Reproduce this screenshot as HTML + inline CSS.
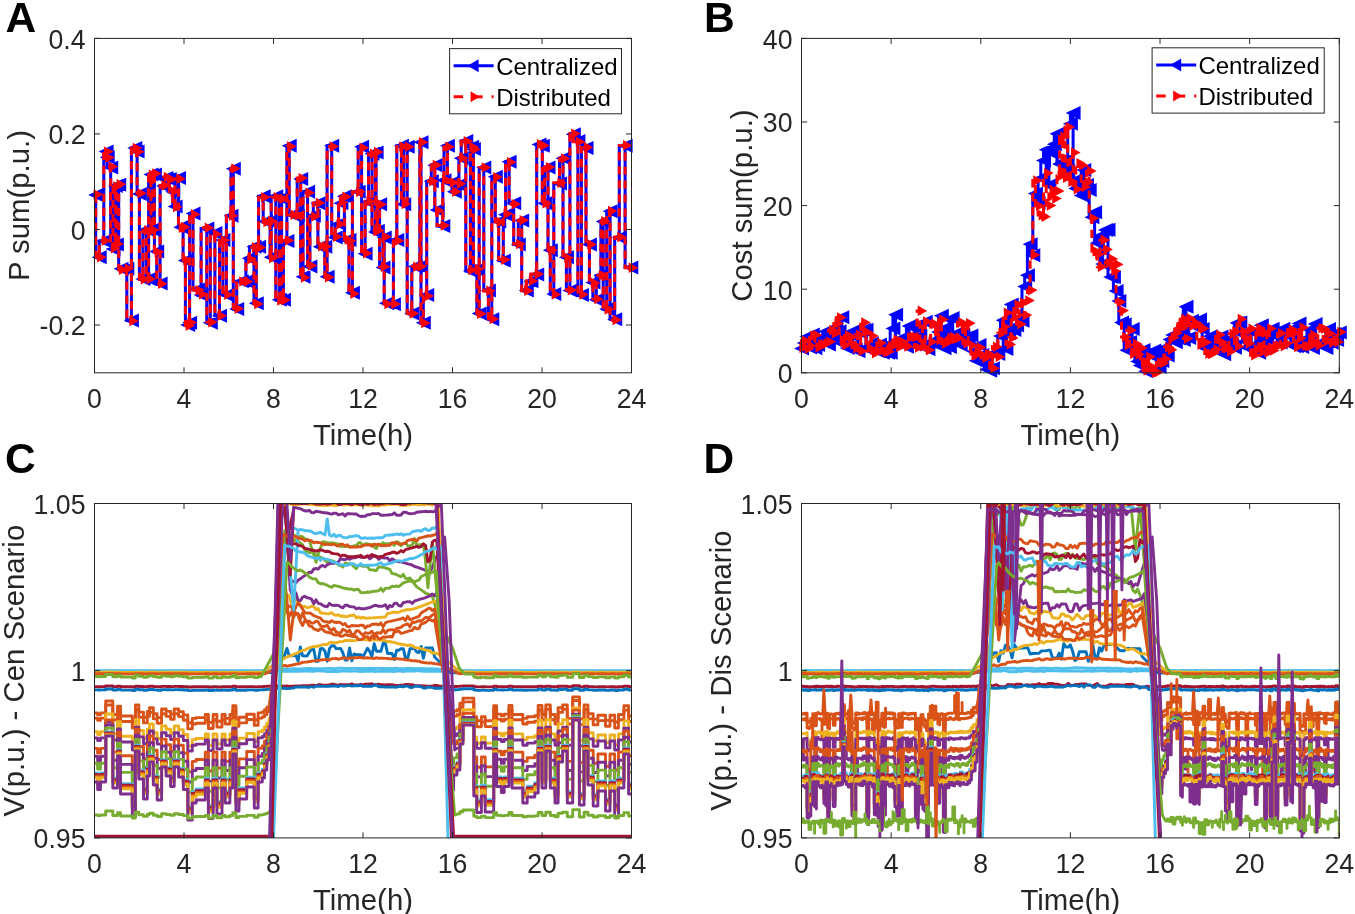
<!DOCTYPE html>
<html><head><meta charset="utf-8"><style>
html,body{margin:0;padding:0;background:#fff;overflow:hidden}
svg{display:block;will-change:transform}
text{font-family:"Liberation Sans",sans-serif;fill:#262626}
.tk{font-size:26.67px}
.lb{font-size:29.33px}
.lg{font-size:24px;fill:#000}
.pl{font-size:42.5px;font-weight:bold;fill:#000}
</style></head><body>
<svg width="1355" height="914" viewBox="0 0 1355 914">
<rect width="1355" height="914" fill="#fff"/>
<clipPath id="clipC"><rect x="94.5" y="503.5" width="537.0" height="334.4"/></clipPath>
<g clip-path="url(#clipC)" fill="none" stroke-width="2.9" stroke-linejoin="round">
<path d="M94.5,671.2L97.6,671.2L100.5,671.2L105.7,671.2L112.8,671.2L117.5,671.2L120.5,671.2L132.3,671.2L135.4,671.2L138.8,671.2L143.5,671.2L147.3,671.2L149.5,671.2L153.3,671.2L157.2,671.2L161.6,671.2L166.1,671.2L170.6,671.2L174.2,671.2L178.6,671.2L183.3,671.2L187.8,671.2L192.3,671.2L196.1,671.2L205.3,671.2L208.4,671.2L213.1,671.2L216.9,671.2L222.0,671.2L225.2,671.2L229.9,671.2L232.8,671.2L235.9,671.2L239.0,671.2L246.7,671.2L254.3,671.2L258.1,671.2L262.3,671.2L264.5,671.2L266.8,671.2L269.0,671.2L271.3,671.2L272.4,671.2L275.7,671.2L278.0,671.2L280.2,671.2L282.4,671.2L284.7,671.2L286.9,671.2L289.2,671.2L291.4,671.2L293.6,671.2L295.9,671.2L298.1,671.2L300.3,671.2L302.6,670.9L304.8,671.1L307.1,671.1L309.3,671.1L311.5,671.4L313.8,671.3L316.0,670.9L318.2,670.9L320.5,671.0L322.7,671.0L325.0,671.0L327.2,671.5L329.4,671.3L331.7,671.5L333.9,671.5L336.1,671.5L338.4,671.5L340.6,671.1L342.9,671.0L345.1,671.1L347.3,671.1L349.6,671.3L351.8,671.1L354.0,671.1L356.3,671.1L358.5,671.3L360.8,671.5L363.0,671.3L365.2,671.3L367.5,671.4L369.7,671.2L371.9,670.9L374.2,671.5L376.4,671.4L378.7,671.4L380.9,671.4L383.1,671.1L385.4,671.4L387.6,671.3L389.8,671.3L392.1,671.3L394.3,671.5L396.6,671.1L398.8,671.1L401.0,671.1L403.3,671.5L405.5,671.1L407.7,671.0L410.0,671.0L412.2,671.0L414.5,671.0L416.7,670.9L418.9,670.9L421.2,671.1L423.4,671.3L425.6,671.3L427.9,671.2L430.1,671.4L432.4,671.2L434.6,671.2L436.8,671.3L439.1,671.3L441.3,671.3L442.4,671.3L445.8,671.2L450.3,671.2L453.6,671.2L457.0,671.2L459.9,671.2L463.0,671.2L473.8,671.2L476.7,671.2L481.4,671.2L485.2,671.2L493.7,671.2L496.6,671.2L501.3,671.2L504.2,671.2L508.9,671.2L512.0,671.2L522.8,671.2L527.2,671.2L534.8,671.2L538.2,671.2L542.0,671.2L545.8,671.2L550.3,671.2L555.0,671.2L558.1,671.2L562.6,671.2L567.3,671.2L572.7,671.2L579.4,671.2L584.1,671.2L587.9,671.2L593.2,671.2L597.9,671.2L605.5,671.2L610.0,671.2L614.7,671.2L618.5,671.2L623.9,671.2L628.6,671.2L631.5,671.2" stroke="#4DBEEE"/>
<path d="M94.5,670.7L97.6,670.7L100.5,670.7L105.7,670.7L112.8,670.7L117.5,670.7L120.5,670.7L132.3,670.7L135.4,670.7L138.8,670.7L143.5,670.7L147.3,670.7L149.5,670.7L153.3,670.7L157.2,670.7L161.6,670.7L166.1,670.7L170.6,670.7L174.2,670.7L178.6,670.7L183.3,670.7L187.8,670.7L192.3,670.7L196.1,670.7L205.3,670.7L208.4,670.7L213.1,670.7L216.9,670.7L222.0,670.7L225.2,670.7L229.9,670.7L232.8,670.7L235.9,670.7L239.0,670.7L246.7,670.7L254.3,670.7L258.1,670.7L262.3,670.7L264.5,670.7L266.8,670.7L269.0,670.7L271.3,670.7L272.4,670.7L275.7,669.1L278.0,669.3L280.2,669.1L282.4,669.0L284.7,669.0L286.9,668.9L289.2,668.9L291.4,668.9L293.6,668.7L295.9,668.6L298.1,669.1L300.3,669.0L302.6,669.0L304.8,668.6L307.1,668.5L309.3,668.5L311.5,668.5L313.8,668.7L316.0,668.7L318.2,668.7L320.5,668.7L322.7,668.7L325.0,668.6L327.2,668.4L329.4,668.4L331.7,668.4L333.9,668.7L336.1,668.6L338.4,668.1L340.6,668.2L342.9,668.2L345.1,668.5L347.3,668.5L349.6,668.5L351.8,668.4L354.0,668.4L356.3,668.4L358.5,668.5L360.8,668.5L363.0,668.5L365.2,668.5L367.5,668.5L369.7,668.3L371.9,668.5L374.2,668.5L376.4,668.4L378.7,668.4L380.9,668.5L383.1,668.5L385.4,668.5L387.6,668.5L389.8,668.5L392.1,668.5L394.3,668.5L396.6,668.2L398.8,668.6L401.0,668.6L403.3,668.6L405.5,668.5L407.7,668.3L410.0,668.5L412.2,668.4L414.5,668.6L416.7,668.7L418.9,668.5L421.2,668.6L423.4,668.7L425.6,668.7L427.9,669.0L430.1,668.6L432.4,668.6L434.6,669.0L436.8,669.0L439.1,669.1L441.3,669.1L442.4,669.3L445.8,670.7L450.3,670.7L453.6,670.7L457.0,670.7L459.9,670.7L463.0,670.7L473.8,670.7L476.7,670.7L481.4,670.7L485.2,670.7L493.7,670.7L496.6,670.7L501.3,670.7L504.2,670.7L508.9,670.7L512.0,670.7L522.8,670.7L527.2,670.7L534.8,670.7L538.2,670.7L542.0,670.7L545.8,670.7L550.3,670.7L555.0,670.7L558.1,670.7L562.6,670.7L567.3,670.7L572.7,670.7L579.4,670.7L584.1,670.7L587.9,670.7L593.2,670.7L597.9,670.7L605.5,670.7L610.0,670.7L614.7,670.7L618.5,670.7L623.9,670.7L628.6,670.7L631.5,670.7" stroke="#4DBEEE"/>
<path d="M94.5,672.8L97.6,672.8L100.5,672.8L105.7,672.8L105.7,672.5L112.8,672.5L112.8,672.8L117.5,672.8L117.5,672.6L120.5,672.6L120.5,672.9L132.3,672.9L132.3,673.0L135.4,673.0L135.4,672.6L138.8,672.6L138.8,672.8L143.5,672.8L143.5,672.9L147.3,672.9L147.3,672.7L149.5,672.7L149.5,672.7L153.3,672.7L153.3,672.8L157.2,672.8L157.2,672.9L161.6,672.9L161.6,672.7L166.1,672.7L166.1,672.7L170.6,672.7L170.6,672.8L174.2,672.8L174.2,672.7L178.6,672.7L178.6,672.8L183.3,672.8L183.3,672.8L187.8,672.8L187.8,673.0L192.3,673.0L192.3,672.9L196.1,672.9L205.3,672.9L205.3,672.8L208.4,672.8L208.4,673.0L213.1,673.0L213.1,672.8L216.9,672.8L216.9,673.0L222.0,673.0L222.0,672.8L225.2,672.8L225.2,672.9L229.9,672.9L229.9,672.8L232.8,672.8L232.8,672.6L235.9,672.6L235.9,673.0L239.0,673.0L239.0,672.9L246.7,672.9L246.7,672.8L254.3,672.8L254.3,672.9L258.1,672.9L258.1,672.8L262.3,672.8L264.5,672.8L266.8,672.7L266.8,672.6L269.0,672.6L269.0,672.6L271.3,672.6L284.7,655.0L286.9,648.4L289.2,655.8L291.4,655.7L293.6,655.5L295.9,655.4L298.1,661.1L300.3,646.9L302.6,655.9L304.8,656.0L307.1,655.9L309.3,652.2L311.5,649.5L313.8,649.4L316.0,661.4L318.2,661.3L320.5,648.6L322.7,648.5L325.0,651.2L327.2,661.3L329.4,648.7L331.7,645.7L333.9,645.6L336.1,648.6L338.4,648.6L340.6,648.5L342.9,652.8L345.1,660.0L347.3,660.0L349.6,647.9L351.8,660.9L354.0,654.0L356.3,654.6L358.5,654.6L360.8,654.6L363.0,656.7L365.2,652.6L367.5,648.3L369.7,651.4L371.9,656.4L374.2,643.7L376.4,651.2L378.7,651.2L380.9,651.3L383.1,643.3L385.4,643.4L387.6,653.5L389.8,653.5L392.1,653.5L394.3,659.6L396.6,650.3L398.8,650.3L401.0,648.6L403.3,648.6L405.5,658.4L407.7,658.4L410.0,648.6L412.2,648.6L414.5,648.6L416.7,652.1L418.9,652.5L421.2,646.4L423.4,658.3L425.6,647.9L427.9,647.9L430.1,648.0L432.4,648.0L434.6,656.9L450.3,672.8L453.6,672.8L453.6,672.7L457.0,672.7L459.9,672.7L459.9,672.5L463.0,672.5L463.0,672.4L473.8,672.4L473.8,672.9L476.7,672.9L476.7,673.0L481.4,673.0L481.4,672.9L485.2,672.9L485.2,673.0L493.7,673.0L493.7,672.6L496.6,672.6L496.6,672.8L501.3,672.8L504.2,672.8L508.9,672.8L508.9,672.6L512.0,672.6L512.0,672.8L522.8,672.8L522.8,672.9L527.2,672.9L534.8,672.9L538.2,672.9L538.2,672.6L542.0,672.6L542.0,672.8L545.8,672.8L545.8,672.6L550.3,672.6L550.3,672.8L555.0,672.8L555.0,672.9L558.1,672.9L558.1,672.7L562.6,672.7L562.6,672.6L567.3,672.6L567.3,672.9L572.7,672.9L572.7,672.4L579.4,672.4L579.4,672.9L584.1,672.9L584.1,672.6L587.9,672.6L587.9,672.8L593.2,672.8L593.2,672.9L597.9,672.9L597.9,672.8L605.5,672.8L605.5,673.0L610.0,673.0L610.0,672.8L614.7,672.8L614.7,673.0L618.5,673.0L618.5,672.8L623.9,672.8L623.9,672.6L628.6,672.6L628.6,672.9L631.5,672.9" stroke="#0072BD"/>
<path d="M94.5,672.3L97.6,672.3L100.5,672.3L105.7,672.3L105.7,672.0L112.8,672.0L112.8,672.3L117.5,672.3L117.5,672.1L120.5,672.1L120.5,672.4L132.3,672.4L132.3,672.5L135.4,672.5L135.4,672.1L138.8,672.1L138.8,672.3L143.5,672.3L143.5,672.4L147.3,672.4L147.3,672.2L149.5,672.2L149.5,672.2L153.3,672.2L153.3,672.3L157.2,672.3L157.2,672.4L161.6,672.4L161.6,672.2L166.1,672.2L166.1,672.2L170.6,672.2L170.6,672.3L174.2,672.3L174.2,672.2L178.6,672.2L178.6,672.3L183.3,672.3L183.3,672.3L187.8,672.3L187.8,672.5L192.3,672.5L192.3,672.4L196.1,672.4L205.3,672.4L205.3,672.3L208.4,672.3L208.4,672.5L213.1,672.5L213.1,672.3L216.9,672.3L216.9,672.5L222.0,672.5L222.0,672.3L225.2,672.3L225.2,672.4L229.9,672.4L229.9,672.3L232.8,672.3L232.8,672.1L235.9,672.1L235.9,672.5L239.0,672.5L239.0,672.4L246.7,672.4L246.7,672.3L254.3,672.3L254.3,672.4L258.1,672.4L258.1,672.3L262.3,672.3L284.7,658.0L286.9,657.0L289.2,656.0L291.4,655.6L293.6,654.4L295.9,653.5L298.1,652.6L300.3,651.2L302.6,650.4L304.8,650.1L307.1,648.6L309.3,647.9L311.5,647.1L313.8,646.4L316.0,646.6L318.2,646.0L320.5,645.4L322.7,644.7L325.0,644.4L327.2,644.5L329.4,642.6L331.7,642.2L333.9,642.7L336.1,642.8L338.4,642.0L340.6,641.6L342.9,641.6L345.1,640.4L347.3,640.5L349.6,640.3L351.8,640.7L354.0,640.6L356.3,640.4L358.5,639.5L360.8,639.6L363.0,639.6L365.2,639.7L367.5,639.8L369.7,640.5L371.9,639.6L374.2,639.8L376.4,639.9L378.7,640.0L380.9,640.2L383.1,640.4L385.4,640.7L387.6,641.8L389.8,641.4L392.1,642.4L394.3,642.3L396.6,643.4L398.8,643.8L401.0,644.2L403.3,644.7L405.5,644.8L407.7,645.5L410.0,645.0L412.2,645.7L414.5,647.4L416.7,647.8L418.9,648.0L421.2,648.6L423.4,649.3L425.6,650.0L427.9,650.3L430.1,651.4L432.4,653.0L434.6,652.8L436.8,653.5L439.1,654.4L460.3,672.0L463.0,672.0L463.0,671.9L473.8,671.9L473.8,672.4L476.7,672.4L476.7,672.5L481.4,672.5L481.4,672.4L485.2,672.4L485.2,672.5L493.7,672.5L493.7,672.1L496.6,672.1L496.6,672.3L501.3,672.3L504.2,672.3L508.9,672.3L508.9,672.1L512.0,672.1L512.0,672.3L522.8,672.3L522.8,672.4L527.2,672.4L534.8,672.4L538.2,672.4L538.2,672.1L542.0,672.1L542.0,672.3L545.8,672.3L545.8,672.1L550.3,672.1L550.3,672.3L555.0,672.3L555.0,672.4L558.1,672.4L558.1,672.2L562.6,672.2L562.6,672.1L567.3,672.1L567.3,672.4L572.7,672.4L572.7,671.9L579.4,671.9L579.4,672.4L584.1,672.4L584.1,672.1L587.9,672.1L587.9,672.3L593.2,672.3L593.2,672.4L597.9,672.4L597.9,672.3L605.5,672.3L605.5,672.5L610.0,672.5L610.0,672.3L614.7,672.3L614.7,672.5L618.5,672.5L618.5,672.3L623.9,672.3L623.9,672.1L628.6,672.1L628.6,672.4L631.5,672.4" stroke="#EDB120"/>
<path d="M94.5,673.8L97.6,673.8L100.5,673.8L105.7,673.8L105.7,673.5L112.8,673.5L112.8,673.8L117.5,673.8L117.5,673.6L120.5,673.6L120.5,673.9L132.3,673.9L132.3,674.0L135.4,674.0L135.4,673.6L138.8,673.6L138.8,673.8L143.5,673.8L143.5,673.9L147.3,673.9L147.3,673.7L149.5,673.7L149.5,673.7L153.3,673.7L153.3,673.8L157.2,673.8L157.2,673.9L161.6,673.9L161.6,673.7L166.1,673.7L166.1,673.7L170.6,673.7L170.6,673.8L174.2,673.8L174.2,673.7L178.6,673.7L178.6,673.8L183.3,673.8L183.3,673.8L187.8,673.8L187.8,674.0L192.3,674.0L192.3,673.9L196.1,673.9L205.3,673.9L205.3,673.8L208.4,673.8L208.4,674.0L213.1,674.0L213.1,673.8L216.9,673.8L216.9,674.0L222.0,674.0L222.0,673.8L225.2,673.8L225.2,673.9L229.9,673.9L229.9,673.8L232.8,673.8L232.8,673.6L235.9,673.6L235.9,674.0L239.0,674.0L239.0,673.9L246.7,673.9L246.7,673.8L254.3,673.8L254.3,673.9L258.1,673.9L258.1,673.8L262.3,673.8L264.5,673.8L282.5,665.9L284.7,665.4L286.9,666.1L289.2,665.6L291.4,665.2L293.6,664.8L295.9,664.1L298.1,663.7L300.3,663.3L302.6,662.4L304.8,662.1L307.1,662.0L309.3,661.6L311.5,661.2L313.8,660.9L316.0,660.6L318.2,660.4L320.5,660.0L322.7,659.8L325.0,659.6L327.2,659.4L329.4,660.0L331.7,658.8L333.9,658.6L336.1,658.4L338.4,659.4L340.6,658.5L342.9,658.0L345.1,657.9L347.3,658.8L349.6,657.9L351.8,658.0L354.0,657.8L356.3,657.8L358.5,657.5L360.8,657.5L363.0,658.0L365.2,658.0L367.5,657.8L369.7,658.1L371.9,658.1L374.2,658.6L376.4,657.6L378.7,658.3L380.9,658.2L383.1,658.3L385.4,658.4L387.6,658.5L389.8,658.7L392.1,658.9L394.3,658.6L396.6,658.7L398.8,658.9L401.0,659.1L403.3,659.3L405.5,659.7L407.7,660.1L410.0,660.1L412.2,660.9L414.5,660.6L416.7,661.0L418.9,661.3L421.2,662.0L423.4,662.5L425.6,662.8L427.9,663.1L430.1,662.9L432.4,663.2L434.6,663.6L436.8,663.9L439.1,664.3L441.3,664.7L459.2,673.7L459.9,673.7L459.9,673.5L463.0,673.5L463.0,673.4L473.8,673.4L473.8,673.9L476.7,673.9L476.7,674.0L481.4,674.0L481.4,673.9L485.2,673.9L485.2,674.0L493.7,674.0L493.7,673.6L496.6,673.6L496.6,673.8L501.3,673.8L504.2,673.8L508.9,673.8L508.9,673.6L512.0,673.6L512.0,673.8L522.8,673.8L522.8,673.9L527.2,673.9L534.8,673.9L538.2,673.9L538.2,673.6L542.0,673.6L542.0,673.8L545.8,673.8L545.8,673.6L550.3,673.6L550.3,673.8L555.0,673.8L555.0,673.9L558.1,673.9L558.1,673.7L562.6,673.7L562.6,673.6L567.3,673.6L567.3,673.9L572.7,673.9L572.7,673.4L579.4,673.4L579.4,673.9L584.1,673.9L584.1,673.6L587.9,673.6L587.9,673.8L593.2,673.8L593.2,673.9L597.9,673.9L597.9,673.8L605.5,673.8L605.5,674.0L610.0,674.0L610.0,673.8L614.7,673.8L614.7,674.0L618.5,674.0L618.5,673.8L623.9,673.8L623.9,673.6L628.6,673.6L628.6,673.9L631.5,673.9" stroke="#D95319"/>
<path d="M94.5,676.5L97.6,676.5L97.6,676.8L100.5,676.8L100.5,676.5L105.7,676.5L105.7,674.5L112.8,674.5L112.8,676.7L117.5,676.7L117.5,675.4L120.5,675.4L120.5,677.0L132.3,677.0L132.3,678.0L135.4,678.0L135.4,675.1L138.8,675.1L138.8,676.4L143.5,676.4L143.5,677.2L147.3,677.2L147.3,676.2L149.5,676.2L149.5,675.6L153.3,675.6L153.3,676.6L157.2,676.6L157.2,677.3L161.6,677.3L161.6,675.8L166.1,675.8L166.1,676.2L170.6,676.2L170.6,676.7L174.2,676.7L174.2,675.8L178.6,675.8L178.6,676.3L183.3,676.3L183.3,676.8L187.8,676.8L187.8,678.1L192.3,678.1L192.3,677.4L196.1,677.4L196.1,677.3L205.3,677.3L205.3,676.7L208.4,676.7L208.4,678.1L213.1,678.1L213.1,676.7L216.9,676.7L216.9,677.9L222.0,677.9L222.0,676.7L225.2,676.7L225.2,677.4L229.9,677.4L229.9,676.7L232.8,676.7L232.8,675.3L235.9,675.3L235.9,677.7L239.0,677.7L239.0,677.2L246.7,677.2L246.7,676.7L254.3,676.7L254.3,677.6L258.1,677.6L258.1,676.5L261.2,676.5L274.6,652.0L279.1,600.0L286.9,536.5L289.2,534.9L291.4,536.9L293.6,541.2L295.9,539.8L298.1,541.5L300.3,542.9L302.6,544.9L304.8,550.0L307.1,551.5L309.3,552.8L311.5,552.0L313.8,552.7L316.0,555.2L318.2,556.3L320.5,557.4L322.7,558.2L325.0,560.0L327.2,562.1L329.4,562.9L331.7,560.6L333.9,561.4L336.1,562.7L338.4,565.0L340.6,565.6L342.9,567.1L345.1,563.2L347.3,563.7L349.6,563.8L351.8,564.1L354.0,566.9L356.3,568.7L358.5,565.5L360.8,565.5L363.0,566.3L365.2,566.3L367.5,566.4L369.7,569.7L371.9,569.9L374.2,570.2L376.4,570.5L378.7,566.7L380.9,567.2L383.1,567.1L385.4,568.0L387.6,568.7L389.8,569.4L392.1,573.6L394.3,573.9L396.6,574.7L398.8,575.7L401.0,576.7L403.3,574.4L405.5,578.4L407.7,578.6L410.0,578.0L412.2,581.1L414.5,584.0L416.7,586.9L418.9,588.4L421.2,589.9L423.4,591.5L425.6,593.2L427.9,594.0L430.1,594.7L432.4,596.6L441.3,625.0L452.5,648.0L459.2,668.0L464.8,674.0L473.8,674.0L473.8,677.1L476.7,677.1L476.7,677.8L481.4,677.8L481.4,677.1L485.2,677.1L485.2,677.8L493.7,677.8L493.7,675.3L496.6,675.3L496.6,676.7L501.3,676.7L501.3,676.9L504.2,676.9L504.2,676.7L508.9,676.7L508.9,675.2L512.0,675.2L512.0,676.7L522.8,676.7L522.8,677.4L527.2,677.4L527.2,677.1L534.8,677.1L534.8,677.0L538.2,677.0L538.2,675.2L542.0,675.2L542.0,676.7L545.8,676.7L545.8,675.1L550.3,675.1L550.3,676.7L555.0,676.7L555.0,677.4L558.1,677.4L558.1,675.6L562.6,675.6L562.6,675.1L567.3,675.1L567.3,677.4L572.7,677.4L572.7,673.8L579.4,673.8L579.4,677.5L584.1,677.5L584.1,675.1L587.9,675.1L587.9,676.6L593.2,676.6L593.2,677.5L597.9,677.5L597.9,676.9L605.5,676.9L605.5,677.7L610.0,677.7L610.0,676.9L614.7,676.9L614.7,678.0L618.5,678.0L618.5,676.7L623.9,676.7L623.9,675.3L628.6,675.3L628.6,677.0L631.5,677.0" stroke="#77AC30"/>
<path d="M94.5,686.6L97.6,686.6L97.6,686.7L100.5,686.7L100.5,686.6L105.7,686.6L105.7,686.0L112.8,686.0L112.8,686.6L117.5,686.6L117.5,686.2L120.5,686.2L120.5,686.7L132.3,686.7L132.3,687.0L135.4,687.0L135.4,686.2L138.8,686.2L138.8,686.5L143.5,686.5L143.5,686.8L147.3,686.8L147.3,686.5L149.5,686.5L149.5,686.3L153.3,686.3L153.3,686.6L157.2,686.6L157.2,686.8L161.6,686.8L161.6,686.4L166.1,686.4L166.1,686.5L170.6,686.5L170.6,686.6L174.2,686.6L174.2,686.4L178.6,686.4L178.6,686.5L183.3,686.5L183.3,686.7L187.8,686.7L187.8,687.0L192.3,687.0L192.3,686.8L196.1,686.8L205.3,686.8L205.3,686.6L208.4,686.6L208.4,687.0L213.1,687.0L213.1,686.6L216.9,686.6L216.9,687.0L222.0,687.0L222.0,686.6L225.2,686.6L225.2,686.8L229.9,686.8L229.9,686.6L232.8,686.6L232.8,686.2L235.9,686.2L235.9,686.9L239.0,686.9L239.0,686.8L246.7,686.8L246.7,686.6L254.3,686.6L254.3,686.9L258.1,686.9L258.1,686.6L262.3,686.6L264.5,686.5L264.5,686.4L266.8,686.4L266.8,686.3L269.0,686.3L269.0,686.1L271.3,686.1L271.3,686.0L272.4,686.0L278.0,685.9L280.2,685.5L282.4,686.2L284.7,686.1L286.9,686.0L289.2,686.5L291.4,686.1L293.6,686.1L295.9,686.0L298.1,685.9L300.3,685.9L302.6,685.8L304.8,685.7L307.1,685.7L309.3,685.6L311.5,685.2L313.8,685.1L316.0,685.8L318.2,684.8L320.5,684.8L322.7,685.1L325.0,685.1L327.2,685.1L329.4,685.0L331.7,684.1L333.9,684.1L336.1,685.0L338.4,685.3L340.6,684.3L342.9,684.8L345.1,684.8L347.3,684.8L349.6,684.8L351.8,683.8L354.0,685.0L356.3,685.0L358.5,685.0L360.8,684.4L363.0,685.1L365.2,684.2L367.5,684.2L369.7,684.2L371.9,683.8L374.2,684.6L376.4,684.6L378.7,684.1L380.9,684.8L383.1,684.8L385.4,684.9L387.6,684.6L389.8,684.7L392.1,684.7L394.3,685.3L396.6,685.4L398.8,685.4L401.0,685.2L403.3,685.3L405.5,684.4L407.7,684.5L410.0,684.6L412.2,684.6L414.5,685.6L416.7,685.7L418.9,685.8L421.2,685.8L423.4,685.9L425.6,686.0L427.9,686.1L430.1,686.2L432.4,686.2L434.6,685.3L436.8,685.5L439.1,686.0L441.3,686.1L443.5,686.2L448.0,686.5L450.3,686.5L450.3,686.7L453.6,686.7L453.6,686.5L457.0,686.5L457.0,686.4L459.9,686.4L459.9,686.1L463.0,686.1L463.0,685.9L473.8,685.9L473.8,686.7L476.7,686.7L476.7,686.9L481.4,686.9L481.4,686.7L485.2,686.7L485.2,686.9L493.7,686.9L493.7,686.2L496.6,686.2L496.6,686.6L501.3,686.6L501.3,686.7L504.2,686.7L504.2,686.6L508.9,686.6L508.9,686.2L512.0,686.2L512.0,686.6L522.8,686.6L522.8,686.8L527.2,686.8L527.2,686.8L534.8,686.8L538.2,686.7L538.2,686.2L542.0,686.2L542.0,686.6L545.8,686.6L545.8,686.2L550.3,686.2L550.3,686.6L555.0,686.6L555.0,686.8L558.1,686.8L558.1,686.3L562.6,686.3L562.6,686.2L567.3,686.2L567.3,686.8L572.7,686.8L572.7,685.8L579.4,685.8L579.4,686.9L584.1,686.9L584.1,686.2L587.9,686.2L587.9,686.6L593.2,686.6L593.2,686.9L597.9,686.9L597.9,686.7L605.5,686.7L605.5,686.9L610.0,686.9L610.0,686.7L614.7,686.7L614.7,687.0L618.5,687.0L618.5,686.6L623.9,686.6L623.9,686.2L628.6,686.2L628.6,686.7L631.5,686.7" stroke="#A2142F"/>
<path d="M94.5,689.9L97.6,689.9L97.6,690.0L100.5,690.0L100.5,689.9L105.7,689.9L105.7,689.0L112.8,689.0L112.8,690.0L117.5,690.0L117.5,689.4L120.5,689.4L120.5,690.1L132.3,690.1L132.3,690.5L135.4,690.5L135.4,689.3L138.8,689.3L138.8,689.8L143.5,689.8L143.5,690.2L147.3,690.2L147.3,689.7L149.5,689.7L149.5,689.5L153.3,689.5L153.3,689.9L157.2,689.9L157.2,690.2L161.6,690.2L161.6,689.6L166.1,689.6L166.1,689.7L170.6,689.7L170.6,689.9L174.2,689.9L174.2,689.6L178.6,689.6L178.6,689.8L183.3,689.8L183.3,690.0L187.8,690.0L187.8,690.6L192.3,690.6L192.3,690.2L196.1,690.2L196.1,690.2L205.3,690.2L205.3,690.0L208.4,690.0L208.4,690.5L213.1,690.5L213.1,690.0L216.9,690.0L216.9,690.4L222.0,690.4L222.0,690.0L225.2,690.0L225.2,690.2L229.9,690.2L229.9,690.0L232.8,690.0L232.8,689.3L235.9,689.3L235.9,690.4L239.0,690.4L239.0,690.2L246.7,690.2L246.7,689.9L254.3,689.9L254.3,690.3L258.1,690.3L258.1,689.9L262.3,689.9L262.3,689.8L264.5,689.8L264.5,689.6L266.8,689.6L266.8,689.4L269.0,689.4L269.0,689.2L271.3,689.2L271.3,689.0L272.4,689.0L278.0,688.2L280.2,688.0L282.4,688.3L284.7,688.3L286.9,688.6L289.2,688.5L291.4,688.1L293.6,688.0L295.9,686.9L298.1,687.1L300.3,687.0L302.6,687.0L304.8,686.8L307.1,687.3L309.3,687.3L311.5,686.5L313.8,687.3L316.0,686.0L318.2,686.2L320.5,686.2L322.7,686.2L325.0,686.4L327.2,686.4L329.4,686.2L331.7,686.1L333.9,686.0L336.1,686.0L338.4,686.6L340.6,685.4L342.9,686.1L345.1,686.1L347.3,685.6L349.6,685.6L351.8,686.0L354.0,685.7L356.3,685.7L358.5,685.7L360.8,685.3L363.0,686.4L365.2,686.2L367.5,686.2L369.7,686.2L371.9,686.2L374.2,685.3L376.4,685.3L378.7,686.7L380.9,686.7L383.1,686.7L385.4,687.0L387.6,687.0L389.8,687.1L392.1,686.8L394.3,687.1L396.6,687.2L398.8,686.3L401.0,686.5L403.3,686.9L405.5,686.1L407.7,686.1L410.0,687.4L412.2,687.5L414.5,686.2L416.7,686.3L418.9,686.4L421.2,686.7L423.4,688.0L425.6,688.1L427.9,687.0L430.1,687.3L432.4,687.4L434.6,688.3L436.8,688.0L439.1,688.2L441.3,688.3L443.5,687.8L448.0,689.8L450.3,689.8L450.3,690.0L453.6,690.0L453.6,689.7L457.0,689.7L457.0,689.6L459.9,689.6L459.9,689.1L463.0,689.1L463.0,688.8L473.8,688.8L473.8,690.1L476.7,690.1L476.7,690.4L481.4,690.4L481.4,690.1L485.2,690.1L485.2,690.4L493.7,690.4L493.7,689.3L496.6,689.3L496.6,689.9L501.3,689.9L501.3,690.0L504.2,690.0L504.2,689.9L508.9,689.9L508.9,689.3L512.0,689.3L512.0,690.0L522.8,690.0L522.8,690.2L527.2,690.2L527.2,690.1L534.8,690.1L534.8,690.1L538.2,690.1L538.2,689.3L542.0,689.3L542.0,690.0L545.8,690.0L545.8,689.3L550.3,689.3L550.3,690.0L555.0,690.0L555.0,690.2L558.1,690.2L558.1,689.5L562.6,689.5L562.6,689.3L567.3,689.3L567.3,690.2L572.7,690.2L572.7,688.7L579.4,688.7L579.4,690.3L584.1,690.3L584.1,689.3L587.9,689.3L587.9,689.9L593.2,689.9L593.2,690.3L597.9,690.3L597.9,690.0L605.5,690.0L605.5,690.4L610.0,690.4L610.0,690.0L614.7,690.0L614.7,690.5L618.5,690.5L618.5,690.0L623.9,690.0L623.9,689.3L628.6,689.3L628.6,690.1L631.5,690.1" stroke="#0072BD"/>
<path d="M94.5,712.9L97.6,712.9L97.6,714.9L100.5,714.9L100.5,712.9L105.7,712.9L105.7,701.0L112.8,701.0L112.8,714.5L117.5,714.5L117.5,706.2L120.5,706.2L120.5,716.0L132.3,716.0L132.3,722.0L135.4,722.0L135.4,704.9L138.8,704.9L138.8,712.1L143.5,712.1L143.5,717.3L147.3,717.3L147.3,711.4L149.5,711.4L149.5,707.7L153.3,707.7L153.3,713.7L157.2,713.7L157.2,717.6L161.6,717.6L161.6,709.0L166.1,709.0L166.1,711.4L170.6,711.4L170.6,714.1L174.2,714.1L174.2,709.0L178.6,709.0L178.6,711.6L183.3,711.6L183.3,714.9L187.8,714.9L187.8,722.8L192.3,722.8L192.3,718.4L196.1,718.4L196.1,717.6L205.3,717.6L205.3,714.5L208.4,714.5L208.4,722.4L213.1,722.4L213.1,714.5L216.9,714.5L216.9,721.2L222.0,721.2L222.0,714.5L225.2,714.5L225.2,718.4L229.9,718.4L229.9,714.5L232.8,714.5L232.8,705.7L235.9,705.7L235.9,720.4L239.0,720.4L239.0,717.3L246.7,717.3L246.7,714.2L254.3,714.2L254.3,719.7L258.1,719.7L258.1,712.9L262.3,712.9L262.3,711.9L264.5,711.9L264.5,709.8L266.8,709.8L266.8,707.2L269.0,707.2L283.6,600.0L286.9,611.0L289.2,616.3L291.4,611.8L293.6,617.1L295.9,612.8L298.1,615.4L300.3,621.6L302.6,625.5L304.8,620.6L307.1,621.6L309.3,626.0L311.5,626.3L313.8,628.8L316.0,629.7L318.2,630.6L320.5,628.7L322.7,629.5L325.0,631.6L327.2,632.3L329.4,632.7L331.7,633.3L333.9,634.7L336.1,635.2L338.4,634.7L340.6,636.2L342.9,636.1L345.1,634.6L347.3,635.2L349.6,635.5L351.8,636.3L354.0,636.5L356.3,636.7L358.5,639.6L360.8,639.6L363.0,638.6L365.2,636.8L367.5,636.7L369.7,639.8L371.9,635.9L374.2,638.7L376.4,634.9L378.7,638.7L380.9,638.7L383.1,637.0L385.4,637.3L387.6,636.9L389.8,636.5L392.1,637.1L394.3,632.2L396.6,631.7L398.8,631.1L401.0,633.4L403.3,632.8L405.5,632.1L407.7,631.4L410.0,630.6L412.2,630.4L414.5,627.3L416.7,628.7L418.9,628.5L421.2,623.9L423.4,623.4L425.6,622.4L427.9,620.5L430.1,619.4L432.4,621.0L434.6,619.8L450.3,715.0L453.6,715.0L453.6,711.1L457.0,711.1L457.0,709.8L459.9,709.8L459.9,703.1L463.0,703.1L463.0,698.1L473.8,698.1L473.8,716.6L476.7,716.6L476.7,720.8L481.4,720.8L481.4,716.6L485.2,716.6L485.2,720.7L493.7,720.7L493.7,705.7L496.6,705.7L496.6,714.1L501.3,714.1L501.3,715.7L504.2,715.7L504.2,714.1L508.9,714.1L508.9,705.4L512.0,705.4L512.0,714.5L522.8,714.5L522.8,718.4L527.2,718.4L527.2,716.8L534.8,716.8L534.8,715.8L538.2,715.8L538.2,705.4L542.0,705.4L542.0,714.5L545.8,714.5L545.8,704.9L550.3,704.9L550.3,714.5L555.0,714.5L555.0,718.4L558.1,718.4L558.1,707.7L562.6,707.7L562.6,704.9L567.3,704.9L567.3,718.4L572.7,718.4L572.7,696.9L579.4,696.9L579.4,718.9L584.1,718.9L584.1,704.9L587.9,704.9L587.9,713.7L593.2,713.7L593.2,719.1L597.9,719.1L597.9,715.3L605.5,715.3L605.5,720.4L610.0,720.4L610.0,715.3L614.7,715.3L614.7,722.0L618.5,722.0L618.5,714.5L623.9,714.5L623.9,705.7L628.6,705.7L628.6,716.0L631.5,716.0" stroke="#D95319"/>
<path d="M94.5,718.1L97.6,718.1L97.6,720.2L100.5,720.2L100.5,718.1L105.7,718.1L105.7,705.0L112.8,705.0L112.8,719.8L117.5,719.8L117.5,710.7L120.5,710.7L120.5,721.5L132.3,721.5L132.3,728.0L135.4,728.0L135.4,709.3L138.8,709.3L138.8,717.2L143.5,717.2L143.5,722.9L147.3,722.9L147.3,716.4L149.5,716.4L149.5,712.4L153.3,712.4L153.3,718.9L157.2,718.9L157.2,723.2L161.6,723.2L161.6,713.8L166.1,713.8L166.1,716.4L170.6,716.4L170.6,719.3L174.2,719.3L174.2,713.8L178.6,713.8L178.6,716.6L183.3,716.6L183.3,720.2L187.8,720.2L187.8,728.9L192.3,728.9L192.3,724.0L196.1,724.0L196.1,723.2L205.3,723.2L205.3,719.8L208.4,719.8L208.4,728.5L213.1,728.5L213.1,719.8L216.9,719.8L216.9,727.1L222.0,727.1L222.0,719.8L225.2,719.8L225.2,724.0L229.9,724.0L229.9,719.8L232.8,719.8L232.8,710.1L235.9,710.1L235.9,726.3L239.0,726.3L239.0,722.9L246.7,722.9L246.7,719.5L254.3,719.5L254.3,725.4L258.1,725.4L258.1,718.1L262.3,718.1L262.3,716.9L264.5,716.9L264.5,714.7L266.8,714.7L266.8,711.8L269.0,711.8L269.0,708.4L270.1,708.4L282.5,590.0L286.9,605.5L289.2,606.2L291.4,606.6L293.6,612.3L295.9,613.9L298.1,613.5L300.3,619.0L302.6,613.0L304.8,618.5L307.1,621.9L309.3,621.0L311.5,623.0L313.8,623.0L316.0,621.0L318.2,621.9L320.5,625.7L322.7,626.5L325.0,626.2L327.2,625.3L329.4,629.1L331.7,630.5L333.9,628.3L336.1,632.0L338.4,632.6L340.6,633.0L342.9,629.2L345.1,630.2L347.3,632.2L349.6,630.2L351.8,634.6L354.0,634.8L356.3,630.8L358.5,630.9L360.8,633.2L363.0,635.4L365.2,632.7L367.5,633.2L369.7,633.1L371.9,631.2L374.2,634.6L376.4,633.0L378.7,632.7L380.9,633.3L383.1,629.6L385.4,633.3L387.6,630.4L389.8,629.9L392.1,629.7L394.3,630.4L396.6,628.5L398.8,627.9L401.0,627.3L403.3,625.3L405.5,624.6L407.7,623.8L410.0,627.0L412.2,622.0L414.5,622.5L416.7,621.6L418.9,620.7L421.2,621.0L423.4,619.3L425.6,617.2L427.9,617.9L430.1,617.0L432.4,614.9L434.6,613.7L435.7,614.5L446.9,700.0L451.4,720.3L453.6,720.3L453.6,716.1L457.0,716.1L457.0,714.7L459.9,714.7L459.9,707.3L463.0,707.3L463.0,701.9L473.8,701.9L473.8,722.0L476.7,722.0L476.7,726.7L481.4,726.7L481.4,722.0L485.2,722.0L485.2,726.6L493.7,726.6L493.7,710.1L496.6,710.1L496.6,719.3L501.3,719.3L501.3,721.1L504.2,721.1L504.2,719.3L508.9,719.3L508.9,709.8L512.0,709.8L512.0,719.8L522.8,719.8L522.8,724.0L527.2,724.0L527.2,722.3L534.8,722.3L534.8,721.2L538.2,721.2L538.2,709.8L542.0,709.8L542.0,719.8L545.8,719.8L545.8,709.3L550.3,709.3L550.3,719.8L555.0,719.8L555.0,724.0L558.1,724.0L558.1,712.4L562.6,712.4L562.6,709.3L567.3,709.3L567.3,724.0L572.7,724.0L572.7,700.5L579.4,700.5L579.4,724.6L584.1,724.6L584.1,709.3L587.9,709.3L587.9,718.9L593.2,718.9L593.2,724.9L597.9,724.9L597.9,720.6L605.5,720.6L605.5,726.3L610.0,726.3L610.0,720.6L614.7,720.6L614.7,728.0L618.5,728.0L618.5,719.8L623.9,719.8L623.9,710.1L628.6,710.1L628.6,721.5L631.5,721.5" stroke="#D95319"/>
<path d="M94.5,731.6L97.6,731.6L97.6,734.5L100.5,734.5L100.5,731.6L105.7,731.6L105.7,714.0L112.8,714.0L112.8,733.9L117.5,733.9L117.5,721.7L120.5,721.7L120.5,736.2L132.3,736.2L132.3,745.0L135.4,745.0L135.4,719.7L138.8,719.7L138.8,730.5L143.5,730.5L143.5,738.1L147.3,738.1L147.3,729.3L149.5,729.3L149.5,724.0L153.3,724.0L153.3,732.8L157.2,732.8L157.2,738.5L161.6,738.5L161.6,725.9L166.1,725.9L166.1,729.3L170.6,729.3L170.6,733.3L174.2,733.3L174.2,725.9L178.6,725.9L178.6,729.7L183.3,729.7L183.3,734.5L187.8,734.5L187.8,746.1L192.3,746.1L192.3,739.6L196.1,739.6L196.1,738.5L205.3,738.5L205.3,733.9L208.4,733.9L208.4,745.6L213.1,745.6L213.1,733.9L216.9,733.9L216.9,743.9L222.0,743.9L222.0,733.9L225.2,733.9L225.2,739.6L229.9,739.6L229.9,733.9L232.8,733.9L232.8,720.9L235.9,720.9L235.9,742.7L239.0,742.7L239.0,738.1L246.7,738.1L246.7,733.5L254.3,733.5L254.3,741.6L258.1,741.6L258.1,731.6L262.3,731.6L262.3,730.1L264.5,730.1L264.5,727.0L266.8,727.0L266.8,723.2L269.0,723.2L269.0,718.6L270.1,718.6L286.9,594.6L289.2,595.8L291.4,603.9L293.6,603.5L295.9,598.2L298.1,601.9L300.3,605.1L302.6,606.7L304.8,606.4L307.1,607.6L309.3,607.4L311.5,606.2L313.8,606.7L316.0,609.6L318.2,608.6L320.5,612.7L322.7,613.3L325.0,613.4L327.2,613.9L329.4,613.7L331.7,612.7L333.9,614.7L336.1,615.5L338.4,614.7L340.6,616.2L342.9,616.0L345.1,616.3L347.3,616.9L349.6,615.4L351.8,615.6L354.0,615.0L356.3,617.9L358.5,616.8L360.8,618.2L363.0,617.1L365.2,618.2L367.5,618.1L369.7,618.0L371.9,617.9L374.2,617.8L376.4,617.6L378.7,617.4L380.9,617.2L383.1,617.3L385.4,617.0L387.6,613.4L389.8,613.2L392.1,612.7L394.3,612.0L396.6,612.7L398.8,612.2L401.0,611.2L403.3,610.6L405.5,610.0L407.7,609.4L410.0,609.7L412.2,609.1L414.5,608.6L416.7,607.8L418.9,607.1L421.2,606.3L423.4,605.4L425.6,604.6L427.9,603.7L430.1,602.8L432.4,601.8L434.6,601.7L436.8,600.6L452.5,734.7L453.6,734.7L453.6,728.9L457.0,728.9L457.0,727.0L459.9,727.0L459.9,717.1L463.0,717.1L463.0,709.8L473.8,709.8L473.8,737.0L476.7,737.0L476.7,743.3L481.4,743.3L481.4,737.0L485.2,737.0L485.2,743.1L493.7,743.1L493.7,720.9L496.6,720.9L496.6,733.3L501.3,733.3L501.3,735.7L504.2,735.7L504.2,733.3L508.9,733.3L508.9,720.5L512.0,720.5L512.0,733.9L522.8,733.9L522.8,739.6L527.2,739.6L527.2,737.3L534.8,737.3L534.8,735.8L538.2,735.8L538.2,720.5L542.0,720.5L542.0,733.9L545.8,733.9L545.8,719.7L550.3,719.7L550.3,733.9L555.0,733.9L555.0,739.6L558.1,739.6L558.1,724.0L562.6,724.0L562.6,719.7L567.3,719.7L567.3,739.6L572.7,739.6L572.7,707.9L579.4,707.9L579.4,740.4L584.1,740.4L584.1,719.7L587.9,719.7L587.9,732.8L593.2,732.8L593.2,740.8L597.9,740.8L597.9,735.0L605.5,735.0L605.5,742.7L610.0,742.7L610.0,735.0L614.7,735.0L614.7,745.0L618.5,745.0L618.5,733.9L623.9,733.9L623.9,720.9L628.6,720.9L628.6,736.2L631.5,736.2" stroke="#EDB120"/>
<path d="M94.5,737.9L97.6,737.9L97.6,740.5L100.5,740.5L100.5,737.9L105.7,737.9L105.7,722.0L112.8,722.0L112.8,740.0L117.5,740.0L117.5,728.9L120.5,728.9L120.5,742.0L132.3,742.0L132.3,750.0L135.4,750.0L135.4,727.2L138.8,727.2L138.8,736.9L143.5,736.9L143.5,743.8L147.3,743.8L147.3,735.8L149.5,735.8L149.5,731.0L153.3,731.0L153.3,738.9L157.2,738.9L157.2,744.1L161.6,744.1L161.6,732.7L166.1,732.7L166.1,735.8L170.6,735.8L170.6,739.5L174.2,739.5L174.2,732.7L178.6,732.7L178.6,736.2L183.3,736.2L183.3,740.5L187.8,740.5L187.8,751.0L192.3,751.0L192.3,745.2L196.1,745.2L196.1,744.1L205.3,744.1L205.3,740.0L208.4,740.0L208.4,750.6L213.1,750.6L213.1,740.0L216.9,740.0L216.9,749.0L222.0,749.0L222.0,740.0L225.2,740.0L225.2,745.2L229.9,745.2L229.9,740.0L232.8,740.0L232.8,728.2L235.9,728.2L235.9,747.9L239.0,747.9L239.0,743.8L246.7,743.8L246.7,739.6L254.3,739.6L254.3,746.9L258.1,746.9L258.1,737.9L262.3,737.9L262.3,736.5L264.5,736.5L264.5,733.8L266.8,733.8L266.8,730.3L269.0,730.3L269.0,726.1L271.3,726.1L281.3,503.0L285.8,520.0L290.3,590.0L293.6,598.0L295.9,592.9L298.1,600.4L300.4,600.6L302.6,597.2L304.8,596.3L307.1,597.8L309.3,598.1L311.5,599.1L313.8,603.8L316.0,599.8L318.2,603.3L320.5,603.8L322.7,605.3L325.0,606.3L327.2,606.7L329.4,603.4L331.7,605.1L333.9,605.5L336.1,605.1L338.4,605.4L340.6,606.9L342.9,607.8L345.1,605.1L347.3,605.3L349.6,606.6L351.8,606.8L354.0,606.9L356.3,608.8L358.5,608.0L360.8,608.7L363.0,608.7L365.2,608.7L367.5,608.0L369.7,607.6L371.9,606.7L374.2,605.5L376.4,605.4L378.7,606.3L380.9,606.2L383.1,606.0L385.4,604.7L387.6,608.7L389.8,605.4L392.1,606.7L394.3,603.5L396.6,603.1L398.8,605.6L401.0,606.1L403.3,602.5L405.5,602.2L407.7,601.7L410.0,601.6L412.2,603.5L414.5,601.0L416.7,600.4L418.9,599.7L421.2,598.9L423.4,598.3L425.6,597.6L427.9,596.5L430.1,595.8L432.4,594.0L434.6,596.0L436.8,592.0L454.7,735.5L457.0,735.5L457.0,733.8L459.9,733.8L459.9,724.8L463.0,724.8L463.0,718.2L473.8,718.2L473.8,742.7L476.7,742.7L476.7,748.4L481.4,748.4L481.4,742.7L485.2,742.7L485.2,748.3L493.7,748.3L493.7,728.2L496.6,728.2L496.6,739.5L501.3,739.5L501.3,741.6L504.2,741.6L504.2,739.5L508.9,739.5L508.9,727.9L512.0,727.9L512.0,740.0L522.8,740.0L522.8,745.2L527.2,745.2L527.2,743.1L534.8,743.1L534.8,741.7L538.2,741.7L538.2,727.9L542.0,727.9L542.0,740.0L545.8,740.0L545.8,727.2L550.3,727.2L550.3,740.0L555.0,740.0L555.0,745.2L558.1,745.2L558.1,731.0L562.6,731.0L562.6,727.2L567.3,727.2L567.3,745.2L572.7,745.2L572.7,716.5L579.4,716.5L579.4,745.9L584.1,745.9L584.1,727.2L587.9,727.2L587.9,738.9L593.2,738.9L593.2,746.2L597.9,746.2L597.9,741.0L605.5,741.0L605.5,747.9L610.0,747.9L610.0,741.0L614.7,741.0L614.7,750.0L618.5,750.0L618.5,740.0L623.9,740.0L623.9,728.2L628.6,728.2L628.6,742.0L631.5,742.0" stroke="#7E2F8E"/>
<path d="M94.5,748.4L97.6,748.4L97.6,753.0L100.5,753.0L100.5,748.4L105.7,748.4L105.7,720.0L112.8,720.0L112.8,752.1L117.5,752.1L117.5,732.3L120.5,732.3L120.5,755.8L132.3,755.8L132.3,770.0L135.4,770.0L135.4,729.3L138.8,729.3L138.8,746.5L143.5,746.5L143.5,758.9L147.3,758.9L147.3,744.7L149.5,744.7L149.5,736.0L153.3,736.0L153.3,750.2L157.2,750.2L157.2,759.5L161.6,759.5L161.6,739.1L166.1,739.1L166.1,744.7L170.6,744.7L170.6,751.2L174.2,751.2L174.2,739.1L178.6,739.1L178.6,745.3L183.3,745.3L183.3,753.0L187.8,753.0L187.8,771.9L192.3,771.9L192.3,761.4L196.1,761.4L196.1,759.5L205.3,759.5L205.3,752.1L208.4,752.1L208.4,771.0L213.1,771.0L213.1,752.1L216.9,752.1L216.9,768.1L222.0,768.1L222.0,752.1L225.2,752.1L225.2,761.4L229.9,761.4L229.9,752.1L232.8,752.1L232.8,731.1L235.9,731.1L235.9,766.3L239.0,766.3L239.0,758.9L246.7,758.9L246.7,751.5L254.3,751.5L254.3,764.4L258.1,764.4L258.1,748.4L262.3,748.4L262.3,745.9L264.5,745.9L264.5,741.0L266.8,741.0L266.8,734.8L269.0,734.8L269.0,727.4L271.3,727.4L282.5,560.0L286.9,600.0L290.3,640.0L293.6,612.9L295.9,606.8L298.1,602.4L300.4,605.7L302.6,608.9L304.8,612.7L307.1,613.1L309.3,612.9L311.5,613.9L313.8,615.6L316.0,616.5L318.2,617.4L320.5,618.2L322.7,620.9L325.0,621.7L327.2,621.8L329.4,622.5L331.7,620.7L333.9,622.0L336.1,622.5L338.4,622.2L340.6,622.7L342.9,624.8L345.1,623.6L347.3,626.6L349.6,626.8L351.8,625.5L354.0,625.7L356.3,625.8L358.5,625.9L360.8,625.2L363.0,625.2L365.2,628.2L367.5,625.9L369.7,626.0L371.9,624.3L374.2,624.2L376.4,624.0L378.7,624.9L380.9,622.9L383.1,626.9L385.4,622.9L387.6,621.8L389.8,621.4L392.1,620.9L394.3,620.4L396.6,619.9L398.8,619.3L401.0,619.0L403.3,617.9L405.5,620.5L407.7,616.2L410.0,619.6L412.2,618.9L414.5,618.0L416.7,617.2L418.9,616.3L421.2,613.0L423.4,611.5L425.6,610.4L427.9,608.7L430.1,608.2L432.4,610.6L434.6,608.9L453.6,744.1L457.0,744.1L457.0,741.0L459.9,741.0L459.9,724.9L463.0,724.9L463.0,713.2L473.8,713.2L473.8,757.0L476.7,757.0L476.7,767.2L481.4,767.2L481.4,757.0L485.2,757.0L485.2,766.9L493.7,766.9L493.7,731.1L496.6,731.1L496.6,751.2L501.3,751.2L501.3,754.9L504.2,754.9L504.2,751.2L508.9,751.2L508.9,730.5L512.0,730.5L512.0,752.1L522.8,752.1L522.8,761.4L527.2,761.4L527.2,757.7L534.8,757.7L534.8,755.2L538.2,755.2L538.2,730.5L542.0,730.5L542.0,752.1L545.8,752.1L545.8,729.3L550.3,729.3L550.3,752.1L555.0,752.1L555.0,761.4L558.1,761.4L558.1,736.0L562.6,736.0L562.6,729.3L567.3,729.3L567.3,761.4L572.7,761.4L572.7,710.1L579.4,710.1L579.4,762.6L584.1,762.6L584.1,729.3L587.9,729.3L587.9,750.2L593.2,750.2L593.2,763.2L597.9,763.2L597.9,754.0L605.5,754.0L605.5,766.3L610.0,766.3L610.0,754.0L614.7,754.0L614.7,770.0L618.5,770.0L618.5,752.1L623.9,752.1L623.9,731.1L628.6,731.1L628.6,755.8L631.5,755.8" stroke="#D95319"/>
<path d="M94.5,756.2L97.6,756.2L97.6,761.3L100.5,761.3L100.5,756.2L105.7,756.2L105.7,725.0L112.8,725.0L112.8,760.3L117.5,760.3L117.5,738.6L120.5,738.6L120.5,764.4L132.3,764.4L132.3,780.0L135.4,780.0L135.4,735.2L138.8,735.2L138.8,754.2L143.5,754.2L143.5,767.8L147.3,767.8L147.3,752.2L149.5,752.2L149.5,742.7L153.3,742.7L153.3,758.3L157.2,758.3L157.2,768.5L161.6,768.5L161.6,746.0L166.1,746.0L166.1,752.2L170.6,752.2L170.6,759.3L174.2,759.3L174.2,746.0L178.6,746.0L178.6,752.8L183.3,752.8L183.3,761.3L187.8,761.3L187.8,782.0L192.3,782.0L192.3,770.5L196.1,770.5L196.1,768.5L205.3,768.5L205.3,760.3L208.4,760.3L208.4,781.1L213.1,781.1L213.1,760.3L216.9,760.3L216.9,778.0L222.0,778.0L222.0,760.3L225.2,760.3L225.2,770.5L229.9,770.5L229.9,760.3L232.8,760.3L232.8,737.2L235.9,737.2L235.9,775.9L239.0,775.9L239.0,767.8L246.7,767.8L246.7,759.6L254.3,759.6L254.3,773.9L258.1,773.9L258.1,756.2L262.3,756.2L262.3,753.5L264.5,753.5L264.5,748.1L266.8,748.1L266.8,741.3L269.0,741.3L269.0,733.1L270.1,733.1L280.2,503.0L284.7,503.0L290.3,580.0L295.9,582.7L298.1,580.3L300.4,578.7L302.6,577.1L304.8,575.6L307.1,574.1L309.3,572.1L311.5,572.5L313.8,568.9L316.0,568.5L318.2,569.1L320.5,566.4L322.7,565.4L325.0,566.9L327.2,564.7L329.4,563.8L331.7,563.0L333.9,563.3L336.1,562.6L338.4,561.9L340.6,558.6L342.9,559.5L345.1,559.8L347.3,558.3L349.6,559.4L351.8,558.0L354.0,557.7L356.3,557.5L358.5,556.2L360.8,557.4L363.0,557.4L365.2,556.8L367.5,555.8L369.7,558.9L371.9,557.3L374.2,555.5L376.4,556.2L378.7,559.4L380.9,557.5L383.1,557.7L385.4,558.1L387.6,557.9L389.8,561.0L392.1,558.8L394.3,560.2L396.6,561.4L398.8,561.9L401.0,561.9L403.3,562.5L405.5,563.1L407.7,563.8L410.0,564.3L412.2,565.0L414.5,566.5L416.7,567.0L418.9,567.8L421.2,568.6L423.4,569.5L425.6,570.4L427.9,571.4L430.1,572.3L444.7,537.0L449.1,600.0L454.7,750.0L457.0,748.1L459.9,748.1L459.9,730.4L463.0,730.4L463.0,717.5L473.8,717.5L473.8,765.7L476.7,765.7L476.7,776.9L481.4,776.9L481.4,765.7L485.2,765.7L485.2,776.6L493.7,776.6L493.7,737.2L496.6,737.2L496.6,759.3L501.3,759.3L501.3,763.4L504.2,763.4L504.2,759.3L508.9,759.3L508.9,736.5L512.0,736.5L512.0,760.3L522.8,760.3L522.8,770.5L527.2,770.5L527.2,766.4L534.8,766.4L534.8,763.7L538.2,763.7L538.2,736.5L542.0,736.5L542.0,760.3L545.8,760.3L545.8,735.2L550.3,735.2L550.3,760.3L555.0,760.3L555.0,770.5L558.1,770.5L558.1,742.7L562.6,742.7L562.6,735.2L567.3,735.2L567.3,770.5L572.7,770.5L572.7,714.1L579.4,714.1L579.4,771.9L584.1,771.9L584.1,735.2L587.9,735.2L587.9,758.3L593.2,758.3L593.2,772.5L597.9,772.5L597.9,762.3L605.5,762.3L605.5,775.9L610.0,775.9L610.0,762.3L614.7,762.3L614.7,780.0L618.5,780.0L618.5,760.3L623.9,760.3L623.9,737.2L628.6,737.2L628.6,764.4L631.5,764.4" stroke="#7E2F8E"/>
<path d="M94.5,763.2L97.6,763.2L97.6,769.0L100.5,769.0L100.5,763.2L105.7,763.2L105.7,728.0L112.8,728.0L112.8,767.8L117.5,767.8L117.5,743.3L120.5,743.3L120.5,772.4L132.3,772.4L132.3,790.0L135.4,790.0L135.4,739.5L138.8,739.5L138.8,760.9L143.5,760.9L143.5,776.2L147.3,776.2L147.3,758.6L149.5,758.6L149.5,747.9L153.3,747.9L153.3,765.5L157.2,765.5L157.2,777.0L161.6,777.0L161.6,751.7L166.1,751.7L166.1,758.6L170.6,758.6L170.6,766.7L174.2,766.7L174.2,751.7L178.6,751.7L178.6,759.4L183.3,759.4L183.3,769.0L187.8,769.0L187.8,792.3L192.3,792.3L192.3,779.3L196.1,779.3L196.1,777.0L205.3,777.0L205.3,767.8L208.4,767.8L208.4,791.2L213.1,791.2L213.1,767.8L216.9,767.8L216.9,787.7L222.0,787.7L222.0,767.8L225.2,767.8L225.2,779.3L229.9,779.3L229.9,767.8L232.8,767.8L232.8,741.8L235.9,741.8L235.9,785.4L239.0,785.4L239.0,776.2L246.7,776.2L246.7,767.0L254.3,767.0L254.3,783.1L258.1,783.1L258.1,763.2L262.3,763.2L262.3,760.1L264.5,760.1L264.5,754.0L266.8,754.0L266.8,746.4L269.0,746.4L269.0,737.2L271.3,737.2L271.3,729.5L272.4,729.5L284.7,530.8L286.9,531.7L289.2,533.6L291.4,532.6L293.6,535.0L295.9,535.8L298.1,538.1L300.3,536.2L302.6,536.9L304.8,538.7L307.1,539.3L309.3,540.4L311.5,547.7L313.8,555.0L316.0,562.3L318.2,554.0L320.5,547.9L322.7,541.7L325.0,542.1L327.2,542.6L329.4,543.0L331.7,542.9L333.9,543.3L336.1,543.6L338.4,543.9L340.6,546.6L342.9,546.1L345.1,546.3L347.3,546.5L349.6,546.7L351.8,546.8L354.0,545.7L356.3,545.8L358.5,542.8L360.8,542.8L363.0,546.0L365.2,543.8L367.5,543.8L369.7,544.5L371.9,544.5L374.2,547.0L376.4,548.5L378.7,544.4L380.9,544.6L383.1,542.7L385.4,544.0L387.6,543.8L389.8,543.6L392.1,543.0L394.3,545.5L396.6,541.7L398.8,542.5L401.0,545.9L403.3,543.2L405.5,542.9L407.7,545.7L410.0,545.9L412.2,545.2L414.5,538.6L416.7,545.2L418.9,544.8L421.2,544.5L423.4,544.1L425.6,561.4L427.9,587.7L430.1,564.8L432.4,542.4L452.5,769.3L453.6,769.3L453.6,757.9L457.0,757.9L457.0,754.0L459.9,754.0L459.9,734.1L463.0,734.1L463.0,719.6L473.8,719.6L473.8,773.9L476.7,773.9L476.7,786.6L481.4,786.6L481.4,773.9L485.2,773.9L485.2,786.2L493.7,786.2L493.7,741.8L496.6,741.8L496.6,766.7L501.3,766.7L501.3,771.3L504.2,771.3L504.2,766.7L508.9,766.7L508.9,741.0L512.0,741.0L512.0,767.8L522.8,767.8L522.8,779.3L527.2,779.3L527.2,774.7L534.8,774.7L534.8,771.6L538.2,771.6L538.2,741.0L542.0,741.0L542.0,767.8L545.8,767.8L545.8,739.5L550.3,739.5L550.3,767.8L555.0,767.8L555.0,779.3L558.1,779.3L558.1,747.9L562.6,747.9L562.6,739.5L567.3,739.5L567.3,779.3L572.7,779.3L572.7,715.8L579.4,715.8L579.4,780.8L584.1,780.8L584.1,739.5L587.9,739.5L587.9,765.5L593.2,765.5L593.2,781.6L597.9,781.6L597.9,770.1L605.5,770.1L605.5,785.4L610.0,785.4L610.0,770.1L614.7,770.1L614.7,790.0L618.5,790.0L618.5,767.8L623.9,767.8L623.9,741.8L628.6,741.8L628.6,772.4L631.5,772.4" stroke="#77AC30"/>
<path d="M94.5,772.9L97.6,772.9L97.6,779.6L100.5,779.6L100.5,772.9L105.7,772.9L105.7,732.0L112.8,732.0L112.8,778.2L117.5,778.2L117.5,749.8L120.5,749.8L120.5,783.6L132.3,783.6L132.3,804.0L135.4,804.0L135.4,745.3L138.8,745.3L138.8,770.2L143.5,770.2L143.5,788.0L147.3,788.0L147.3,767.6L149.5,767.6L149.5,755.1L153.3,755.1L153.3,775.6L157.2,775.6L157.2,788.9L161.6,788.9L161.6,759.6L166.1,759.6L166.1,767.6L170.6,767.6L170.6,776.9L174.2,776.9L174.2,759.6L178.6,759.6L178.6,768.4L183.3,768.4L183.3,779.6L187.8,779.6L187.8,806.7L192.3,806.7L192.3,791.6L196.1,791.6L196.1,788.9L205.3,788.9L205.3,778.2L208.4,778.2L208.4,805.4L213.1,805.4L213.1,778.2L216.9,778.2L216.9,801.3L222.0,801.3L222.0,778.2L225.2,778.2L225.2,791.6L229.9,791.6L229.9,778.2L232.8,778.2L232.8,748.0L235.9,748.0L235.9,798.7L239.0,798.7L239.0,788.0L246.7,788.0L246.7,777.3L254.3,777.3L254.3,796.0L258.1,796.0L258.1,772.9L262.3,772.9L262.3,769.3L264.5,769.3L264.5,762.2L266.8,762.2L266.8,753.3L269.0,753.3L269.0,742.7L271.3,742.7L271.3,733.8L273.5,733.8L281.3,510.0L284.7,505.0L293.6,610.0L298.1,530.0L291.4,527.2L293.6,528.2L295.9,528.8L298.1,530.8L300.4,529.4L302.6,529.9L304.8,530.7L307.1,530.6L309.3,531.0L311.5,531.5L313.8,533.2L316.0,533.6L318.2,533.0L320.5,532.3L322.7,533.8L325.0,534.9L327.2,518.9L329.4,535.0L331.7,536.3L333.9,534.2L336.1,536.9L338.4,535.3L340.6,535.5L342.9,537.4L345.1,537.6L347.3,537.7L349.6,536.5L351.8,536.6L354.0,536.0L356.3,535.6L358.5,536.0L360.8,538.2L363.0,538.2L365.2,537.8L367.5,538.3L369.7,538.3L371.9,538.0L374.2,538.2L376.4,537.9L378.7,537.8L380.9,537.7L383.1,537.5L385.4,535.4L387.6,535.2L389.8,535.0L392.1,534.8L394.3,534.7L396.6,533.9L398.8,534.7L401.0,533.6L403.3,535.4L405.5,534.4L407.7,534.1L410.0,534.1L412.2,531.6L414.5,531.2L416.7,530.8L418.9,530.3L421.2,531.5L423.4,529.4L425.6,528.6L427.9,530.6L430.1,530.1L432.4,527.9L434.6,528.4L436.8,526.0L450.3,780.0L453.6,780.0L453.6,766.7L457.0,766.7L457.0,762.2L459.9,762.2L459.9,739.1L463.0,739.1L463.0,722.2L473.8,722.2L473.8,785.3L476.7,785.3L476.7,800.0L481.4,800.0L481.4,785.3L485.2,785.3L485.2,799.6L493.7,799.6L493.7,748.0L496.6,748.0L496.6,776.9L501.3,776.9L501.3,782.3L504.2,782.3L504.2,776.9L508.9,776.9L508.9,747.1L512.0,747.1L512.0,778.2L522.8,778.2L522.8,791.6L527.2,791.6L527.2,786.2L534.8,786.2L534.8,782.7L538.2,782.7L538.2,747.1L542.0,747.1L542.0,778.2L545.8,778.2L545.8,745.3L550.3,745.3L550.3,778.2L555.0,778.2L555.0,791.6L558.1,791.6L558.1,755.1L562.6,755.1L562.6,745.3L567.3,745.3L567.3,791.6L572.7,791.6L572.7,717.8L579.4,717.8L579.4,793.3L584.1,793.3L584.1,745.3L587.9,745.3L587.9,775.6L593.2,775.6L593.2,794.2L597.9,794.2L597.9,780.9L605.5,780.9L605.5,798.7L610.0,798.7L610.0,780.9L614.7,780.9L614.7,804.0L618.5,804.0L618.5,778.2L623.9,778.2L623.9,748.0L628.6,748.0L628.6,783.6L631.5,783.6" stroke="#4DBEEE"/>
<path d="M94.5,774.5L97.6,774.5L97.6,781.2L100.5,781.2L100.5,774.5L105.7,774.5L105.7,733.0L112.8,733.0L112.8,779.9L117.5,779.9L117.5,751.0L120.5,751.0L120.5,785.3L132.3,785.3L132.3,806.0L135.4,806.0L135.4,746.5L138.8,746.5L138.8,771.8L143.5,771.8L143.5,789.8L147.3,789.8L147.3,769.0L149.5,769.0L149.5,756.4L153.3,756.4L153.3,777.2L157.2,777.2L157.2,790.7L161.6,790.7L161.6,760.9L166.1,760.9L166.1,769.0L170.6,769.0L170.6,778.5L174.2,778.5L174.2,760.9L178.6,760.9L178.6,770.0L183.3,770.0L183.3,781.2L187.8,781.2L187.8,808.7L192.3,808.7L192.3,793.4L196.1,793.4L196.1,790.7L205.3,790.7L205.3,779.9L208.4,779.9L208.4,807.4L213.1,807.4L213.1,779.9L216.9,779.9L216.9,803.3L222.0,803.3L222.0,779.9L225.2,779.9L225.2,793.4L229.9,793.4L229.9,779.9L232.8,779.9L232.8,749.2L235.9,749.2L235.9,800.6L239.0,800.6L239.0,789.8L246.7,789.8L246.7,779.0L254.3,779.0L254.3,797.9L258.1,797.9L258.1,774.5L262.3,774.5L262.3,770.9L264.5,770.9L264.5,763.6L266.8,763.6L266.8,754.6L269.0,754.6L269.0,743.8L271.3,743.8L271.3,734.8L272.4,734.8L280.2,503.0L284.7,505.0L290.3,575.0L293.6,510.0L286.9,540.9L289.2,541.8L291.4,542.5L293.6,543.9L295.9,543.6L298.1,545.3L300.3,545.7L302.6,546.4L304.8,548.5L307.1,548.7L309.3,549.4L311.5,550.0L313.8,550.5L316.0,551.1L318.2,550.5L320.5,549.8L322.7,550.3L325.0,551.5L327.2,551.2L329.4,551.6L331.7,553.2L333.9,553.6L336.1,553.9L338.4,554.2L340.6,556.2L342.9,555.2L345.1,555.4L347.3,556.5L349.6,556.7L351.8,556.8L354.0,556.8L356.3,556.2L358.5,556.3L360.8,555.3L363.0,557.4L365.2,557.4L367.5,556.1L369.7,556.1L371.9,554.5L374.2,555.9L376.4,556.9L378.7,556.7L380.9,556.5L383.1,556.2L385.4,554.3L387.6,553.8L389.8,553.5L392.1,552.4L394.3,552.0L396.6,553.4L398.8,552.5L401.0,550.6L403.3,551.9L405.5,549.6L407.7,549.0L410.0,548.4L412.2,547.8L414.5,547.1L416.7,546.4L418.9,547.3L421.2,546.6L423.4,543.8L425.6,545.4L427.9,561.8L430.1,560.1L432.4,542.1L434.6,540.1L436.8,540.3L449.1,773.1L450.3,773.1L450.3,781.7L453.6,781.7L453.6,768.1L457.0,768.1L457.0,763.6L459.9,763.6L459.9,740.2L463.0,740.2L463.0,723.1L473.8,723.1L473.8,787.1L476.7,787.1L476.7,801.9L481.4,801.9L481.4,787.1L485.2,787.1L485.2,801.5L493.7,801.5L493.7,749.2L496.6,749.2L496.6,778.5L501.3,778.5L501.3,784.0L504.2,784.0L504.2,778.5L508.9,778.5L508.9,748.3L512.0,748.3L512.0,779.9L522.8,779.9L522.8,793.4L527.2,793.4L527.2,788.0L534.8,788.0L534.8,784.4L538.2,784.4L538.2,748.3L542.0,748.3L542.0,779.9L545.8,779.9L545.8,746.5L550.3,746.5L550.3,779.9L555.0,779.9L555.0,793.4L558.1,793.4L558.1,756.4L562.6,756.4L562.6,746.5L567.3,746.5L567.3,793.4L572.7,793.4L572.7,718.6L579.4,718.6L579.4,795.2L584.1,795.2L584.1,746.5L587.9,746.5L587.9,777.2L593.2,777.2L593.2,796.1L597.9,796.1L597.9,782.6L605.5,782.6L605.5,800.6L610.0,800.6L610.0,782.6L614.7,782.6L614.7,806.0L618.5,806.0L618.5,779.9L623.9,779.9L623.9,749.2L628.6,749.2L628.6,785.3L631.5,785.3" stroke="#A2142F"/>
<path d="M94.5,776.0L97.6,776.0L97.6,782.9L100.5,782.9L100.5,776.0L105.7,776.0L105.7,734.0L112.8,734.0L112.8,781.5L117.5,781.5L117.5,752.3L120.5,752.3L120.5,787.0L132.3,787.0L132.3,808.0L135.4,808.0L135.4,747.7L138.8,747.7L138.8,773.3L143.5,773.3L143.5,791.6L147.3,791.6L147.3,770.5L149.5,770.5L149.5,757.8L153.3,757.8L153.3,778.8L157.2,778.8L157.2,792.5L161.6,792.5L161.6,762.3L166.1,762.3L166.1,770.5L170.6,770.5L170.6,780.1L174.2,780.1L174.2,762.3L178.6,762.3L178.6,771.5L183.3,771.5L183.3,782.9L187.8,782.9L187.8,810.7L192.3,810.7L192.3,795.2L196.1,795.2L196.1,792.5L205.3,792.5L205.3,781.5L208.4,781.5L208.4,809.5L213.1,809.5L213.1,781.5L216.9,781.5L216.9,805.3L222.0,805.3L222.0,781.5L225.2,781.5L225.2,795.2L229.9,795.2L229.9,781.5L232.8,781.5L232.8,750.4L235.9,750.4L235.9,802.5L239.0,802.5L239.0,791.6L246.7,791.6L246.7,780.6L254.3,780.6L254.3,799.8L258.1,799.8L258.1,776.0L262.3,776.0L262.3,772.4L264.5,772.4L264.5,765.1L266.8,765.1L266.8,755.9L269.0,755.9L269.0,745.0L271.3,745.0L271.3,735.8L272.4,735.8L282.5,534.4L284.7,535.0L286.9,536.1L289.2,536.7L291.4,536.1L293.6,536.7L295.9,536.5L298.1,538.0L300.3,538.5L302.6,539.0L304.8,540.9L307.1,539.9L309.3,540.4L311.5,540.8L313.8,542.8L316.0,542.1L318.2,542.5L320.5,542.9L322.7,544.0L325.0,544.7L327.2,544.2L329.4,544.5L331.7,544.7L333.9,544.2L336.1,545.3L338.4,546.0L340.6,544.2L342.9,544.3L345.1,546.2L347.3,544.8L349.6,547.1L351.8,547.0L354.0,547.1L356.3,547.1L358.5,546.7L360.8,546.7L363.0,545.2L365.2,545.1L367.5,545.1L369.7,544.8L371.9,546.2L374.2,544.2L376.4,544.9L378.7,544.2L380.9,545.8L383.1,545.4L385.4,545.8L387.6,545.1L389.8,545.4L392.1,543.0L394.3,542.7L396.6,542.4L398.8,544.4L401.0,544.0L403.3,543.6L405.5,543.2L407.7,540.4L410.0,540.0L412.2,539.5L414.5,539.5L416.7,541.0L418.9,538.2L421.2,537.7L423.4,537.1L425.6,536.5L427.9,535.8L430.1,536.0L432.4,535.3L434.6,535.0L436.8,533.2L438.0,533.4L450.3,783.3L453.6,783.3L453.6,769.6L457.0,769.6L457.0,765.1L459.9,765.1L459.9,741.3L463.0,741.3L463.0,724.0L473.8,724.0L473.8,788.8L476.7,788.8L476.7,803.9L481.4,803.9L481.4,788.8L485.2,788.8L485.2,803.4L493.7,803.4L493.7,750.4L496.6,750.4L496.6,780.1L501.3,780.1L501.3,785.7L504.2,785.7L504.2,780.1L508.9,780.1L508.9,749.5L512.0,749.5L512.0,781.5L522.8,781.5L522.8,795.2L527.2,795.2L527.2,789.7L534.8,789.7L534.8,786.1L538.2,786.1L538.2,749.5L542.0,749.5L542.0,781.5L545.8,781.5L545.8,747.7L550.3,747.7L550.3,781.5L555.0,781.5L555.0,795.2L558.1,795.2L558.1,757.8L562.6,757.8L562.6,747.7L567.3,747.7L567.3,795.2L572.7,795.2L572.7,719.4L579.4,719.4L579.4,797.0L584.1,797.0L584.1,747.7L587.9,747.7L587.9,778.8L593.2,778.8L593.2,798.0L597.9,798.0L597.9,784.2L605.5,784.2L605.5,802.5L610.0,802.5L610.0,784.2L614.7,784.2L614.7,808.0L618.5,808.0L618.5,781.5L623.9,781.5L623.9,750.4L628.6,750.4L628.6,787.0L631.5,787.0" stroke="#D95319"/>
<path d="M94.5,777.6L97.6,777.6L97.6,784.5L100.5,784.5L100.5,777.6L105.7,777.6L105.7,735.0L112.8,735.0L112.8,783.1L117.5,783.1L117.5,753.5L120.5,753.5L120.5,788.7L132.3,788.7L132.3,810.0L135.4,810.0L135.4,748.9L138.8,748.9L138.8,774.8L143.5,774.8L143.5,793.3L147.3,793.3L147.3,772.0L149.5,772.0L149.5,759.1L153.3,759.1L153.3,780.4L157.2,780.4L157.2,794.3L161.6,794.3L161.6,763.7L166.1,763.7L166.1,772.0L170.6,772.0L170.6,781.8L174.2,781.8L174.2,763.7L178.6,763.7L178.6,773.0L183.3,773.0L183.3,784.5L187.8,784.5L187.8,812.8L192.3,812.8L192.3,797.0L196.1,797.0L196.1,794.3L205.3,794.3L205.3,783.1L208.4,783.1L208.4,811.5L213.1,811.5L213.1,783.1L216.9,783.1L216.9,807.2L222.0,807.2L222.0,783.1L225.2,783.1L225.2,797.0L229.9,797.0L229.9,783.1L232.8,783.1L232.8,751.7L235.9,751.7L235.9,804.4L239.0,804.4L239.0,793.3L246.7,793.3L246.7,782.2L254.3,782.2L254.3,801.7L258.1,801.7L258.1,777.6L262.3,777.6L262.3,773.9L264.5,773.9L264.5,766.5L266.8,766.5L266.8,757.2L269.0,757.2L269.0,746.1L271.3,746.1L271.3,736.9L273.5,736.9L281.3,503.9L283.6,504.6L285.8,503.8L288.0,503.8L290.3,503.8L292.5,504.7L294.8,504.8L297.0,504.8L299.2,504.2L301.5,504.0L303.7,503.9L305.9,503.9L308.2,504.2L310.4,504.0L312.7,504.5L314.9,504.7L317.1,505.1L319.4,505.3L321.6,505.3L323.8,505.3L326.1,505.5L328.3,505.4L330.6,504.9L332.8,505.3L335.0,505.5L337.3,505.5L339.5,504.2L341.7,504.8L344.0,505.1L346.2,504.9L348.5,504.9L350.7,504.9L352.9,504.9L355.2,504.9L357.4,504.9L359.6,504.9L361.9,504.9L364.1,505.0L366.4,505.0L368.6,505.2L370.8,505.3L373.1,505.7L375.3,505.7L377.5,505.7L379.8,505.7L382.0,504.3L384.3,505.4L386.5,504.5L388.7,504.5L391.0,504.3L393.2,504.3L395.4,504.3L397.7,504.2L399.9,505.3L402.2,505.3L404.4,505.2L406.6,505.2L408.9,505.1L411.1,504.5L413.3,504.4L415.6,504.3L417.8,504.9L420.1,504.9L422.3,503.9L424.5,504.8L426.8,503.9L429.0,504.1L431.2,504.8L433.5,504.8L435.7,503.8L438.0,503.4L451.4,785.0L453.6,785.0L453.6,771.1L457.0,771.1L457.0,766.5L459.9,766.5L459.9,742.4L463.0,742.4L463.0,724.8L473.8,724.8L473.8,790.6L476.7,790.6L476.7,805.8L481.4,805.8L481.4,790.6L485.2,790.6L485.2,805.4L493.7,805.4L493.7,751.7L496.6,751.7L496.6,781.8L501.3,781.8L501.3,787.4L504.2,787.4L504.2,781.8L508.9,781.8L508.9,750.7L512.0,750.7L512.0,783.1L522.8,783.1L522.8,797.0L527.2,797.0L527.2,791.5L534.8,791.5L534.8,787.8L538.2,787.8L538.2,750.7L542.0,750.7L542.0,783.1L545.8,783.1L545.8,748.9L550.3,748.9L550.3,783.1L555.0,783.1L555.0,797.0L558.1,797.0L558.1,759.1L562.6,759.1L562.6,748.9L567.3,748.9L567.3,797.0L572.7,797.0L572.7,720.2L579.4,720.2L579.4,798.9L584.1,798.9L584.1,748.9L587.9,748.9L587.9,780.4L593.2,780.4L593.2,799.8L597.9,799.8L597.9,785.9L605.5,785.9L605.5,804.4L610.0,804.4L610.0,785.9L614.7,785.9L614.7,810.0L618.5,810.0L618.5,783.1L623.9,783.1L623.9,751.7L628.6,751.7L628.6,788.7L631.5,788.7" stroke="#EDB120"/>
<path d="M94.5,782.0L97.6,782.0L97.6,789.5L100.5,789.5L100.5,782.0L105.7,782.0L105.7,736.0L112.8,736.0L112.8,788.0L117.5,788.0L117.5,756.0L120.5,756.0L120.5,794.0L132.3,794.0L132.3,817.0L135.4,817.0L135.4,751.0L138.8,751.0L138.8,779.0L143.5,779.0L143.5,799.0L147.3,799.0L147.3,776.0L149.5,776.0L149.5,762.0L153.3,762.0L153.3,785.0L157.2,785.0L157.2,800.0L161.6,800.0L161.6,767.0L166.1,767.0L166.1,776.0L170.6,776.0L170.6,786.5L174.2,786.5L174.2,767.0L178.6,767.0L178.6,777.0L183.3,777.0L183.3,789.5L187.8,789.5L187.8,820.0L192.3,820.0L192.3,803.0L196.1,803.0L196.1,800.0L205.3,800.0L205.3,788.0L208.4,788.0L208.4,818.6L213.1,818.6L213.1,788.0L216.9,788.0L216.9,814.0L222.0,814.0L222.0,788.0L225.2,788.0L225.2,803.0L229.9,803.0L229.9,788.0L232.8,788.0L232.8,754.0L235.9,754.0L235.9,811.0L239.0,811.0L239.0,799.0L246.7,799.0L246.7,787.0L254.3,787.0L254.3,808.0L258.1,808.0L258.1,782.0L262.3,782.0L262.3,778.0L264.5,778.0L264.5,770.0L266.8,770.0L266.8,760.0L269.0,760.0L269.0,748.0L271.3,748.0L271.3,738.0L273.5,738.0L282.5,503.0L286.9,503.0L290.3,560.0L293.6,507.4L295.9,507.8L298.1,508.2L300.4,508.6L302.6,509.9L304.8,510.8L307.1,511.0L309.3,510.3L311.5,512.6L313.8,512.8L316.0,511.3L318.2,511.6L320.5,512.0L322.7,512.6L325.0,512.8L327.2,513.0L329.4,513.6L331.7,514.2L333.9,513.1L336.1,513.3L338.4,514.8L340.6,514.3L342.9,513.7L345.1,516.0L347.3,513.6L349.6,513.7L351.8,513.9L354.0,514.0L356.3,514.0L358.5,515.6L360.8,516.5L363.0,516.2L365.2,516.2L367.5,514.8L369.7,514.8L371.9,513.7L374.2,513.6L376.4,513.6L378.7,513.5L380.9,515.3L383.1,515.2L385.4,515.1L387.6,515.0L389.8,514.7L392.1,514.6L394.3,512.8L396.6,515.3L398.8,515.2L401.0,515.0L403.3,512.3L405.5,512.2L407.7,513.1L410.0,513.8L412.2,513.6L414.5,513.4L416.7,512.3L418.9,512.0L421.2,511.8L423.4,511.6L425.6,511.3L427.9,511.7L430.1,511.4L432.4,511.8L434.6,511.5L441.3,503.0L452.5,790.0L453.6,790.0L453.6,775.0L457.0,775.0L457.0,770.0L459.9,770.0L459.9,744.0L463.0,744.0L463.0,725.0L473.8,725.0L473.8,796.0L476.7,796.0L476.7,812.5L481.4,812.5L481.4,796.0L485.2,796.0L485.2,812.0L493.7,812.0L493.7,754.0L496.6,754.0L496.6,786.5L501.3,786.5L501.3,792.6L504.2,792.6L504.2,786.5L508.9,786.5L508.9,753.0L512.0,753.0L512.0,788.0L522.8,788.0L522.8,803.0L527.2,803.0L527.2,797.0L534.8,797.0L534.8,793.0L538.2,793.0L538.2,753.0L542.0,753.0L542.0,788.0L545.8,788.0L545.8,751.0L550.3,751.0L550.3,788.0L555.0,788.0L555.0,803.0L558.1,803.0L558.1,762.0L562.6,762.0L562.6,751.0L567.3,751.0L567.3,803.0L572.7,803.0L572.7,720.0L579.4,720.0L579.4,805.0L584.1,805.0L584.1,751.0L587.9,751.0L587.9,785.0L593.2,785.0L593.2,806.0L597.9,806.0L597.9,791.0L605.5,791.0L605.5,811.0L610.0,811.0L610.0,791.0L614.7,791.0L614.7,817.0L618.5,817.0L618.5,788.0L623.9,788.0L623.9,754.0L628.6,754.0L628.6,794.0L631.5,794.0" stroke="#7E2F8E"/>
<path d="M94.5,815.0L97.6,815.0L97.6,815.6L100.5,815.6L100.5,815.0L105.7,815.0L105.7,811.0L112.8,811.0L112.8,815.5L117.5,815.5L117.5,812.7L120.5,812.7L120.5,816.0L132.3,816.0L132.3,818.0L135.4,818.0L135.4,812.3L138.8,812.3L138.8,814.7L143.5,814.7L143.5,816.4L147.3,816.4L147.3,814.5L149.5,814.5L149.5,813.2L153.3,813.2L153.3,815.2L157.2,815.2L157.2,816.5L161.6,816.5L161.6,813.7L166.1,813.7L166.1,814.5L170.6,814.5L170.6,815.4L174.2,815.4L174.2,813.7L178.6,813.7L178.6,814.5L183.3,814.5L183.3,815.6L187.8,815.6L187.8,818.3L192.3,818.3L192.3,816.8L196.1,816.8L196.1,816.5L205.3,816.5L205.3,815.5L208.4,815.5L208.4,818.1L213.1,818.1L213.1,815.5L216.9,815.5L216.9,817.7L222.0,817.7L222.0,815.5L225.2,815.5L225.2,816.8L229.9,816.8L229.9,815.5L232.8,815.5L232.8,812.6L235.9,812.6L235.9,817.5L239.0,817.5L239.0,816.4L246.7,816.4L246.7,815.4L254.3,815.4L254.3,817.2L258.1,817.2L258.1,815.0L262.3,815.0L262.3,814.6L264.5,814.6L264.5,813.9L266.8,813.9L266.8,813.1L269.0,813.1L269.0,812.0L271.3,812.0L271.3,811.2L273.5,811.2L286.9,562.2L289.2,563.3L291.4,566.5L293.6,568.1L295.9,569.7L298.1,570.9L300.3,569.9L302.6,571.3L304.8,572.8L307.1,574.1L309.3,577.1L311.5,578.3L313.8,578.9L316.0,579.0L318.2,582.7L320.5,583.7L322.7,583.5L325.0,584.4L327.2,585.2L329.4,586.4L331.7,587.3L333.9,585.4L336.1,585.9L338.4,586.4L340.6,587.0L342.9,587.9L345.1,588.3L347.3,588.7L349.6,589.3L351.8,588.9L354.0,590.2L356.3,589.3L358.5,589.5L360.8,592.6L363.0,592.7L365.2,592.6L367.5,592.0L369.7,592.3L371.9,591.5L374.2,591.3L376.4,591.1L378.7,590.8L380.9,588.4L383.1,591.3L385.4,588.2L387.6,588.4L389.8,588.0L392.1,586.2L394.3,586.6L396.6,586.0L398.8,586.6L401.0,584.9L403.3,582.9L405.5,582.2L407.7,581.4L410.0,581.3L412.2,580.5L414.5,581.8L416.7,580.9L418.9,580.2L421.2,576.5L423.4,575.5L425.6,574.4L427.9,574.3L430.1,573.2L432.4,572.2L434.6,571.0L436.8,571.8L450.3,760.0L454.7,815.0L458.1,813.9L459.9,813.9L459.9,811.7L463.0,811.7L463.0,810.0L473.8,810.0L473.8,816.2L476.7,816.2L476.7,817.6L481.4,817.6L481.4,816.2L485.2,816.2L485.2,817.6L493.7,817.6L493.7,812.6L496.6,812.6L496.6,815.4L501.3,815.4L501.3,815.9L504.2,815.9L504.2,815.4L508.9,815.4L508.9,812.5L512.0,812.5L512.0,815.5L522.8,815.5L522.8,816.8L527.2,816.8L527.2,816.3L534.8,816.3L534.8,815.9L538.2,815.9L538.2,812.5L542.0,812.5L542.0,815.5L545.8,815.5L545.8,812.3L550.3,812.3L550.3,815.5L555.0,815.5L555.0,816.8L558.1,816.8L558.1,813.2L562.6,813.2L562.6,812.3L567.3,812.3L567.3,816.8L572.7,816.8L572.7,809.6L579.4,809.6L579.4,817.0L584.1,817.0L584.1,812.3L587.9,812.3L587.9,815.2L593.2,815.2L593.2,817.0L597.9,817.0L597.9,815.8L605.5,815.8L605.5,817.5L610.0,817.5L610.0,815.8L614.7,815.8L614.7,818.0L618.5,818.0L618.5,815.5L623.9,815.5L623.9,812.6L628.6,812.6L628.6,816.0L631.5,816.0" stroke="#77AC30"/>
<path d="M94.5,838.5L97.6,838.5L100.5,838.5L105.7,838.5L112.8,838.5L117.5,838.5L120.5,838.5L132.3,838.5L135.4,838.5L138.8,838.5L143.5,838.5L147.3,838.5L149.5,838.5L153.3,838.5L157.2,838.5L161.6,838.5L166.1,838.5L170.6,838.5L174.2,838.5L178.6,838.5L183.3,838.5L187.8,838.5L192.3,838.5L196.1,838.5L205.3,838.5L208.4,838.5L213.1,838.5L216.9,838.5L222.0,838.5L225.2,838.5L229.9,838.5L232.8,838.5L235.9,838.5L239.0,838.5L246.7,838.5L254.3,838.5L258.1,838.5L262.3,838.5L264.5,838.5L266.8,838.5L269.0,838.5L271.3,838.5L273.5,838.5L284.7,545.0L286.9,546.1L289.2,546.3L291.4,547.3L293.6,548.3L295.9,551.3L298.1,551.3L300.3,552.2L302.6,552.3L304.8,553.1L307.1,555.6L309.3,556.4L311.5,557.2L313.8,557.9L316.0,558.6L318.2,557.6L320.5,560.4L322.7,558.3L325.0,558.9L327.2,559.4L329.4,559.9L331.7,561.7L333.9,562.1L336.1,562.5L338.4,564.2L340.6,564.6L342.9,564.9L345.1,565.2L347.3,565.4L349.6,564.4L351.8,563.7L354.0,563.9L356.3,565.8L358.5,565.9L360.8,563.6L363.0,565.4L365.2,565.4L367.5,565.2L369.7,565.3L371.9,565.2L374.2,565.1L376.4,564.7L378.7,563.5L380.9,562.7L383.1,565.1L385.4,564.8L387.6,563.7L389.8,563.3L392.1,562.9L394.3,561.6L396.6,561.2L398.8,560.7L401.0,561.4L403.3,560.9L405.5,559.9L407.7,559.5L410.0,558.4L412.2,558.7L414.5,558.0L416.7,557.2L418.9,555.9L421.2,554.6L423.4,553.5L425.6,551.5L427.9,551.1L430.1,550.4L432.4,548.6L434.6,547.6L436.8,549.2L439.1,545.8L440.2,546.4L448.0,838.5L450.3,838.5L453.6,838.5L457.0,838.5L459.9,838.5L463.0,838.5L473.8,838.5L476.7,838.5L481.4,838.5L485.2,838.5L493.7,838.5L496.6,838.5L501.3,838.5L504.2,838.5L508.9,838.5L512.0,838.5L522.8,838.5L527.2,838.5L534.8,838.5L538.2,838.5L542.0,838.5L545.8,838.5L550.3,838.5L555.0,838.5L558.1,838.5L562.6,838.5L567.3,838.5L572.7,838.5L579.4,838.5L584.1,838.5L587.9,838.5L593.2,838.5L597.9,838.5L605.5,838.5L610.0,838.5L614.7,838.5L618.5,838.5L623.9,838.5L628.6,838.5L631.5,838.5" stroke="#4DBEEE"/>
<path d="M94.5,836.3L97.6,836.3L100.5,836.3L105.7,836.3L112.8,836.3L117.5,836.3L120.5,836.3L132.3,836.3L135.4,836.3L138.8,836.3L143.5,836.3L147.3,836.3L149.5,836.3L153.3,836.3L157.2,836.3L161.6,836.3L166.1,836.3L170.6,836.3L174.2,836.3L178.6,836.3L183.3,836.3L187.8,836.3L192.3,836.3L196.1,836.3L205.3,836.3L208.4,836.3L213.1,836.3L216.9,836.3L222.0,836.3L225.2,836.3L229.9,836.3L232.8,836.3L235.9,836.3L239.0,836.3L246.7,836.3L254.3,836.3L258.1,836.3L262.3,836.3L264.5,836.3L266.8,836.3L269.0,836.3L270.1,836.3L279.1,470.1L281.3,469.6L283.6,469.6L285.8,469.6L288.0,469.8L290.3,469.8L292.5,469.2L294.8,470.7L297.0,470.3L299.2,470.3L301.5,470.3L303.7,470.0L305.9,470.0L308.2,470.0L310.4,470.0L312.7,470.0L314.9,470.6L317.1,469.4L319.4,469.4L321.6,469.4L323.8,470.0L326.1,469.7L328.3,469.7L330.6,469.7L332.8,470.4L335.0,469.8L337.3,469.6L339.5,469.6L341.7,470.4L344.0,470.3L346.2,470.0L348.5,469.0L350.7,469.9L352.9,469.9L355.2,469.9L357.4,469.9L359.6,469.9L361.9,469.9L364.1,469.3L366.4,470.6L368.6,469.6L370.8,470.8L373.1,469.5L375.3,470.4L377.5,470.2L379.8,470.1L382.0,470.6L384.3,470.6L386.5,470.6L388.7,469.1L391.0,469.1L393.2,469.1L395.4,470.5L397.7,470.5L399.9,470.5L402.2,470.5L404.4,470.5L406.6,470.5L408.9,470.7L411.1,470.1L413.3,470.7L415.6,470.5L417.8,470.5L420.1,470.2L422.3,469.5L424.5,469.5L426.8,469.5L429.0,469.1L431.2,469.2L433.5,469.7L434.6,470.6L453.6,836.3L457.0,836.3L459.9,836.3L463.0,836.3L473.8,836.3L476.7,836.3L481.4,836.3L485.2,836.3L493.7,836.3L496.6,836.3L501.3,836.3L504.2,836.3L508.9,836.3L512.0,836.3L522.8,836.3L527.2,836.3L534.8,836.3L538.2,836.3L542.0,836.3L545.8,836.3L550.3,836.3L555.0,836.3L558.1,836.3L562.6,836.3L567.3,836.3L572.7,836.3L579.4,836.3L584.1,836.3L587.9,836.3L593.2,836.3L597.9,836.3L605.5,836.3L610.0,836.3L614.7,836.3L618.5,836.3L623.9,836.3L628.6,836.3L631.5,836.3" stroke="#A2142F"/>
<path d="M94.5,860.0L97.6,860.0L100.5,860.0L105.7,860.0L112.8,860.0L117.5,860.0L120.5,860.0L132.3,860.0L135.4,860.0L138.8,860.0L143.5,860.0L147.3,860.0L149.5,860.0L153.3,860.0L157.2,860.0L161.6,860.0L166.1,860.0L170.6,860.0L174.2,860.0L178.6,860.0L183.3,860.0L187.8,860.0L192.3,860.0L196.1,860.0L205.3,860.0L208.4,860.0L213.1,860.0L216.9,860.0L222.0,860.0L225.2,860.0L229.9,860.0L232.8,860.0L235.9,860.0L239.0,860.0L246.7,860.0L254.3,860.0L258.1,860.0L262.3,860.0L264.5,860.0L266.8,860.0L269.0,860.0L271.3,860.0L280.2,503.7L282.5,502.7L284.7,502.8L286.9,502.8L289.2,502.5L291.4,503.3L293.6,503.4L295.9,503.4L298.1,503.4L300.3,503.5L302.6,503.4L304.8,503.5L307.1,503.5L309.3,502.9L311.5,502.9L313.8,503.1L316.0,504.0L318.2,504.0L320.5,504.1L322.7,503.7L325.0,503.7L327.2,504.0L329.4,504.0L331.7,503.1L333.9,502.9L336.1,502.9L338.4,504.5L340.6,504.6L342.9,503.5L345.1,503.5L347.3,503.5L349.6,503.9L351.8,504.9L354.0,503.3L356.3,503.3L358.5,504.1L360.8,504.8L363.0,504.8L365.2,503.2L367.5,504.4L369.7,503.6L371.9,503.1L374.2,504.6L376.4,503.9L378.7,504.4L380.9,503.7L383.1,503.7L385.4,503.1L387.6,503.0L389.8,503.0L392.1,503.5L394.3,503.5L396.6,503.6L398.8,503.3L401.0,504.6L403.3,504.5L405.5,504.5L407.7,502.8L410.0,503.3L412.2,502.7L414.5,502.7L416.7,502.6L418.9,502.6L421.2,502.5L423.4,502.9L425.6,502.7L427.9,503.2L430.1,503.1L432.4,503.1L434.6,503.6L436.8,503.6L452.5,860.0L453.6,860.0L457.0,860.0L459.9,860.0L463.0,860.0L473.8,860.0L476.7,860.0L481.4,860.0L485.2,860.0L493.7,860.0L496.6,860.0L501.3,860.0L504.2,860.0L508.9,860.0L512.0,860.0L522.8,860.0L527.2,860.0L534.8,860.0L538.2,860.0L542.0,860.0L545.8,860.0L550.3,860.0L555.0,860.0L558.1,860.0L562.6,860.0L567.3,860.0L572.7,860.0L579.4,860.0L584.1,860.0L587.9,860.0L593.2,860.0L597.9,860.0L605.5,860.0L610.0,860.0L614.7,860.0L618.5,860.0L623.9,860.0L628.6,860.0L631.5,860.0" stroke="#A2142F"/>
<path d="M94.5,862.0L97.6,862.0L100.5,862.0L105.7,862.0L112.8,862.0L117.5,862.0L120.5,862.0L132.3,862.0L135.4,862.0L138.8,862.0L143.5,862.0L147.3,862.0L149.5,862.0L153.3,862.0L157.2,862.0L161.6,862.0L166.1,862.0L170.6,862.0L174.2,862.0L178.6,862.0L183.3,862.0L187.8,862.0L192.3,862.0L196.1,862.0L205.3,862.0L208.4,862.0L213.1,862.0L216.9,862.0L222.0,862.0L225.2,862.0L229.9,862.0L232.8,862.0L235.9,862.0L239.0,862.0L246.7,862.0L254.3,862.0L258.1,862.0L262.3,862.0L264.5,862.0L266.8,862.0L269.0,862.0L278.0,498.0L280.2,496.9L282.4,496.9L284.7,498.8L286.9,499.2L289.2,498.7L291.4,497.2L293.6,497.8L295.9,498.1L298.1,498.6L300.3,498.3L302.6,498.1L304.8,498.9L307.1,497.4L309.3,497.4L311.5,497.2L313.8,499.2L316.0,497.1L318.2,499.0L320.5,499.0L322.7,499.0L325.0,497.5L327.2,496.7L329.4,496.7L331.7,496.7L333.9,496.7L336.1,496.7L338.4,496.7L340.6,496.7L342.9,498.2L345.1,499.3L347.3,497.0L349.6,497.0L351.8,497.0L354.0,499.0L356.3,499.0L358.5,499.0L360.8,499.0L363.0,497.3L365.2,497.1L367.5,497.1L369.7,497.1L371.9,497.0L374.2,499.2L376.4,499.2L378.7,499.2L380.9,498.9L383.1,497.6L385.4,497.6L387.6,498.4L389.8,496.7L392.1,498.9L394.3,498.9L396.6,499.2L398.8,499.2L401.0,499.2L403.3,499.2L405.5,498.3L407.7,498.3L410.0,497.1L412.2,497.1L414.5,497.1L416.7,498.1L418.9,497.4L421.2,497.4L423.4,498.8L425.6,496.9L427.9,496.9L430.1,496.8L432.4,497.6L434.6,497.0L435.7,497.0L453.6,862.0L457.0,862.0L459.9,862.0L463.0,862.0L473.8,862.0L476.7,862.0L481.4,862.0L485.2,862.0L493.7,862.0L496.6,862.0L501.3,862.0L504.2,862.0L508.9,862.0L512.0,862.0L522.8,862.0L527.2,862.0L534.8,862.0L538.2,862.0L542.0,862.0L545.8,862.0L550.3,862.0L555.0,862.0L558.1,862.0L562.6,862.0L567.3,862.0L572.7,862.0L579.4,862.0L584.1,862.0L587.9,862.0L593.2,862.0L597.9,862.0L605.5,862.0L610.0,862.0L614.7,862.0L618.5,862.0L623.9,862.0L628.6,862.0L631.5,862.0" stroke="#7E2F8E"/>
</g>
<clipPath id="clipD"><rect x="801.5" y="503.5" width="537.8" height="334.4"/></clipPath>
<g clip-path="url(#clipD)" fill="none" stroke-width="2.9" stroke-linejoin="round">
<path d="M801.5,671.2L803.4,671.2L803.4,671.1L803.4,671.0L805.2,671.0L805.2,671.4L805.2,670.9L807.1,670.9L807.1,671.2L807.1,671.4L809.0,671.4L809.0,670.9L809.0,671.2L810.8,671.2L810.8,670.9L812.7,670.9L812.7,671.1L812.7,671.3L814.6,671.3L814.6,671.2L814.6,671.3L816.4,671.3L816.4,671.0L818.3,671.0L818.3,671.0L818.3,671.2L820.2,671.2L820.2,671.5L820.2,671.3L822.0,671.3L822.0,671.4L822.0,671.1L823.9,671.1L823.9,671.3L823.9,671.0L825.8,671.0L825.8,671.1L825.8,671.3L827.6,671.3L827.6,671.2L829.5,671.2L829.5,671.0L829.5,671.1L831.4,671.1L833.2,671.1L833.2,671.4L833.2,671.0L835.1,671.0L835.1,671.4L837.0,671.4L837.0,670.9L837.0,671.1L838.8,671.1L838.8,671.2L838.8,670.9L840.7,670.9L840.7,671.2L840.7,671.4L842.6,671.4L842.6,671.0L842.6,671.3L844.4,671.3L844.4,671.0L844.4,671.2L846.3,671.2L846.3,671.4L846.3,671.0L848.2,671.0L848.2,670.9L850.1,671.0L850.1,671.2L850.1,670.9L851.9,670.9L851.9,671.2L853.8,671.2L853.8,671.5L853.8,671.2L855.7,671.2L855.7,671.3L857.5,671.3L857.5,671.0L857.5,671.2L859.4,671.2L859.4,671.0L859.4,671.3L861.3,671.3L861.3,671.5L861.3,670.9L863.1,670.9L863.1,671.2L865.0,671.3L865.0,671.0L865.0,671.1L866.9,671.1L866.9,671.5L868.7,671.5L868.7,671.0L868.7,671.3L870.6,671.3L870.6,671.5L870.6,671.0L872.5,671.0L872.5,671.3L872.5,670.9L874.3,670.9L874.3,671.1L874.3,671.3L876.2,671.3L876.2,671.3L876.2,671.4L878.1,671.4L878.1,671.0L878.1,671.1L879.9,671.1L879.9,671.4L879.9,671.3L881.8,671.3L881.8,671.2L883.7,671.1L883.7,671.5L883.7,671.2L885.5,671.2L885.5,670.9L885.5,671.4L887.4,671.4L887.4,671.1L887.4,671.2L889.3,671.2L889.3,671.0L889.3,671.2L891.1,671.2L891.1,671.1L891.1,671.0L893.0,671.0L893.0,671.3L893.0,671.0L894.9,671.0L894.9,671.4L894.9,670.9L896.7,670.9L896.7,671.4L898.6,671.4L898.6,671.2L898.6,671.3L900.5,671.3L900.5,671.0L900.5,671.3L902.3,671.3L902.3,671.2L902.3,671.0L904.2,671.0L904.2,671.5L904.2,671.1L906.1,671.1L906.1,671.4L907.9,671.4L907.9,671.1L907.9,671.3L909.8,671.3L909.8,671.0L909.8,671.4L911.7,671.4L911.7,671.1L911.7,670.9L913.5,670.9L913.5,671.5L913.5,671.0L915.4,671.0L915.4,671.5L917.3,671.5L917.3,671.3L917.3,670.9L919.1,670.9L919.1,671.0L921.0,671.0L921.0,671.1L921.0,671.3L922.9,671.3L922.9,671.5L922.9,671.1L924.7,671.1L924.7,671.0L924.7,671.2L926.6,671.2L926.6,671.0L928.5,671.0L928.5,671.2L928.5,671.3L930.3,671.3L930.3,670.9L930.3,671.2L932.2,671.2L932.2,671.3L934.1,671.4L934.1,671.1L934.1,671.4L935.9,671.4L935.9,671.0L935.9,671.3L937.8,671.3L937.8,671.4L939.7,671.4L939.7,671.2L939.7,671.0L941.6,671.0L941.6,671.2L943.4,671.2L943.4,671.0L943.4,671.3L945.3,671.3L945.3,671.0L945.3,671.4L947.2,671.4L947.2,671.0L947.2,670.9L949.0,670.9L949.0,671.0L949.0,671.2L950.9,671.2L950.9,671.2L950.9,671.1L952.8,671.1L952.8,671.0L952.8,671.2L954.6,671.2L954.6,671.5L954.6,671.2L956.5,671.2L956.5,671.5L956.5,670.9L958.4,670.9L958.4,671.5L958.4,671.4L960.2,671.4L960.2,671.2L962.1,671.2L962.1,671.4L964.0,671.4L964.0,670.9L964.0,671.3L965.8,671.3L965.8,671.2L965.8,671.1L967.7,671.1L967.7,671.3L969.6,671.3L969.6,671.0L969.6,671.3L971.4,671.3L971.4,671.2L973.3,671.2L973.3,671.3L973.3,670.9L975.2,670.9L975.2,671.3L975.2,671.1L977.0,671.1L977.0,671.4L977.0,671.0L978.9,671.0L978.9,671.4L978.9,671.3L980.8,671.3L980.8,671.3L985.2,671.2L987.5,671.3L989.7,671.3L992.0,671.3L994.2,670.8L996.5,671.3L998.7,670.8L1000.9,671.2L1003.2,670.7L1005.4,670.7L1007.7,671.5L1009.9,671.7L1012.1,671.7L1014.4,671.7L1016.6,671.7L1018.9,671.0L1021.1,671.5L1023.3,670.9L1025.6,670.8L1027.8,670.8L1030.1,670.8L1032.3,671.4L1034.5,671.2L1036.8,671.3L1039.0,671.0L1041.3,670.9L1043.5,671.7L1045.8,670.8L1048.0,670.8L1050.2,670.9L1052.5,670.9L1054.7,670.9L1057.0,670.7L1059.2,671.0L1061.4,671.0L1063.7,671.0L1065.9,671.0L1068.2,671.0L1070.4,671.0L1072.6,671.0L1074.9,671.0L1077.1,671.0L1079.4,671.0L1081.6,671.3L1083.8,671.0L1086.1,671.0L1088.3,670.9L1090.6,671.2L1092.8,671.2L1095.0,671.1L1097.3,671.1L1099.5,670.9L1101.8,670.9L1104.0,670.9L1106.3,670.9L1108.5,671.3L1110.7,671.1L1113.0,671.1L1115.2,671.1L1117.5,671.1L1119.7,671.1L1121.9,671.2L1124.2,670.7L1126.4,671.2L1128.7,671.2L1130.9,671.5L1133.1,670.8L1135.4,670.8L1137.6,671.2L1139.9,670.7L1142.1,670.7L1144.3,670.8L1146.6,670.8L1148.8,670.8L1149.9,670.8L1153.3,671.3L1154.4,671.3L1154.4,671.1L1156.3,671.1L1156.3,671.4L1156.3,671.2L1158.2,671.2L1158.2,671.0L1158.2,671.3L1160.0,671.3L1160.0,671.1L1160.0,671.1L1161.9,671.1L1161.9,671.1L1163.8,671.1L1163.8,671.0L1163.8,671.3L1165.6,671.3L1165.6,671.4L1165.6,671.2L1167.5,671.2L1167.5,670.9L1167.5,671.3L1169.4,671.3L1169.4,670.9L1169.4,671.2L1171.2,671.2L1171.2,671.4L1171.2,671.3L1173.1,671.3L1173.1,671.4L1173.1,671.4L1175.0,671.4L1175.0,671.1L1175.0,671.0L1176.8,671.0L1176.8,671.2L1176.8,671.3L1178.7,671.3L1178.7,671.0L1178.7,671.1L1180.6,671.1L1180.6,671.3L1180.6,671.1L1182.4,671.1L1182.4,671.3L1184.3,671.2L1184.3,671.5L1184.3,670.9L1186.2,670.9L1186.2,671.0L1186.2,671.4L1188.0,671.4L1188.0,671.3L1188.0,671.0L1189.9,671.0L1189.9,671.0L1191.8,671.0L1191.8,671.2L1191.8,671.4L1193.6,671.4L1193.6,671.0L1195.5,671.0L1195.5,671.3L1195.5,671.2L1197.4,671.2L1197.4,671.4L1197.4,671.5L1199.2,671.5L1199.2,671.3L1201.1,671.3L1201.1,671.2L1201.1,670.9L1203.0,670.9L1203.0,671.4L1203.0,671.1L1204.8,671.1L1204.9,671.3L1206.7,671.3L1206.7,671.5L1206.7,671.2L1208.6,671.2L1208.6,671.5L1210.5,671.5L1210.5,671.0L1210.5,671.1L1212.3,671.1L1212.3,671.4L1212.3,671.4L1214.2,671.4L1214.2,671.5L1214.2,671.0L1216.1,671.0L1216.1,671.2L1216.1,671.5L1217.9,671.5L1217.9,671.2L1217.9,671.3L1219.8,671.3L1219.8,671.5L1219.8,671.0L1221.7,671.0L1221.7,670.9L1221.7,671.4L1223.5,671.4L1223.5,671.2L1223.5,671.0L1225.4,671.0L1225.4,671.4L1225.4,671.1L1227.3,671.1L1227.3,671.0L1227.3,671.1L1229.1,671.1L1229.1,670.9L1229.1,671.1L1231.0,671.1L1231.0,671.4L1231.0,671.2L1232.9,671.2L1232.9,671.5L1232.9,670.9L1234.7,670.9L1234.7,671.0L1236.6,671.0L1236.6,671.2L1236.6,671.0L1238.5,671.0L1238.5,671.3L1238.5,671.2L1240.3,671.2L1240.3,671.4L1242.2,671.4L1244.1,671.5L1244.1,671.0L1244.1,671.1L1245.9,671.1L1245.9,671.5L1245.9,671.1L1247.8,671.1L1247.8,671.1L1247.8,671.2L1249.7,671.2L1249.7,671.0L1249.7,671.4L1251.5,671.4L1251.5,671.3L1251.5,671.0L1253.4,671.0L1253.4,671.5L1253.4,671.2L1255.3,671.2L1255.3,671.1L1255.3,671.3L1257.1,671.3L1257.1,671.5L1257.1,671.1L1259.0,671.1L1259.0,670.9L1259.0,671.0L1260.9,671.0L1260.9,670.9L1260.9,671.2L1262.7,671.2L1262.7,671.1L1262.7,671.4L1264.6,671.4L1264.6,671.0L1264.6,670.9L1266.5,670.9L1266.5,671.2L1266.5,671.0L1268.3,671.0L1268.3,671.1L1268.3,671.0L1270.2,671.0L1270.2,671.3L1272.1,671.3L1272.1,671.5L1272.1,671.1L1273.9,671.1L1273.9,671.3L1273.9,671.1L1275.8,671.1L1275.8,671.4L1275.8,671.2L1277.7,671.2L1277.7,670.9L1277.7,671.3L1279.5,671.3L1279.5,671.0L1279.5,670.9L1281.4,670.9L1281.4,671.4L1283.3,671.4L1283.3,671.3L1283.3,671.1L1285.1,671.1L1285.1,671.2L1285.1,671.3L1287.0,671.3L1287.0,670.9L1287.0,671.3L1288.9,671.3L1288.9,671.5L1290.7,671.5L1290.7,670.9L1290.7,671.2L1292.6,671.2L1292.6,671.4L1294.5,671.4L1294.5,671.1L1294.5,671.3L1296.3,671.3L1296.3,671.4L1296.4,671.1L1298.2,671.1L1298.2,671.2L1298.2,671.4L1300.1,671.4L1300.1,670.9L1300.1,671.5L1302.0,671.5L1302.0,671.1L1302.0,671.2L1303.8,671.2L1303.8,671.1L1303.8,671.4L1305.7,671.4L1305.7,671.2L1305.7,671.3L1307.6,671.3L1307.6,671.0L1307.6,671.4L1309.4,671.4L1309.4,671.3L1311.3,671.3L1311.3,671.0L1313.2,671.1L1313.2,671.2L1313.2,670.9L1315.0,670.9L1315.0,671.5L1315.0,671.1L1316.9,671.1L1316.9,671.5L1316.9,671.0L1318.8,671.0L1318.8,671.3L1318.8,671.4L1320.6,671.4L1320.6,671.3L1320.6,671.2L1322.5,671.2L1322.5,670.9L1322.5,671.2L1324.4,671.2L1324.4,671.5L1326.2,671.5L1328.1,671.5L1328.1,671.0L1330.0,671.0L1330.0,670.9L1330.0,671.1L1331.8,671.1L1331.8,670.9L1331.8,671.0L1333.7,671.0L1333.7,671.2L1333.7,671.0L1335.6,671.0L1335.6,671.3L1335.6,671.1L1337.4,671.1L1337.4,671.1L1337.4,671.5L1339.3,671.5L1339.3,671.0" stroke="#4DBEEE"/>
<path d="M801.5,670.9L803.4,670.9L803.4,670.7L803.4,670.8L805.2,670.8L805.2,670.5L805.2,670.8L807.1,670.8L807.1,670.9L807.1,670.5L809.0,670.5L809.0,670.7L809.0,670.8L810.8,670.8L810.8,670.7L810.8,670.9L812.7,670.9L812.7,670.8L812.7,670.6L814.6,670.6L814.6,670.8L814.6,670.9L816.4,670.9L816.4,670.7L816.4,670.8L818.3,670.8L818.3,670.7L820.2,670.7L820.2,670.5L820.2,670.6L822.0,670.6L822.0,670.9L823.9,670.8L823.9,670.4L823.9,670.7L825.8,670.7L825.8,670.8L827.6,670.7L827.6,670.5L827.6,670.8L829.5,670.8L829.5,670.7L831.4,670.7L831.4,671.0L831.4,670.7L833.2,670.7L833.2,670.4L833.2,670.6L835.1,670.6L835.1,670.8L835.1,670.4L837.0,670.4L837.0,671.0L837.0,670.8L838.8,670.8L838.8,670.5L840.7,670.5L840.7,670.4L840.7,670.9L842.6,670.9L842.6,670.7L844.4,670.7L844.4,670.9L846.3,670.9L846.3,670.6L846.3,670.9L848.2,670.9L848.2,670.5L848.2,671.0L850.1,671.0L850.1,670.8L850.1,670.6L851.9,670.6L851.9,670.7L851.9,670.9L853.8,670.9L853.8,670.6L853.8,670.8L855.7,670.8L855.7,670.9L857.5,671.0L857.5,670.6L857.5,670.9L859.4,670.9L859.4,670.8L859.4,670.9L861.3,670.9L861.3,670.4L861.3,670.6L863.1,670.6L863.1,670.9L865.0,670.9L865.0,670.7L865.0,670.4L866.9,670.4L866.9,670.5L866.9,670.9L868.7,670.9L868.7,670.7L870.6,670.7L870.6,670.4L870.6,670.9L872.5,670.9L872.5,670.9L872.5,670.6L874.3,670.6L874.3,670.7L874.3,670.6L876.2,670.6L876.2,670.4L876.2,670.8L878.1,670.8L878.1,670.5L879.9,670.5L879.9,670.9L879.9,670.5L881.8,670.5L881.8,670.9L883.7,670.9L883.7,670.6L883.7,670.6L885.5,670.6L885.5,670.5L885.5,670.8L887.4,670.8L887.4,671.0L887.4,670.8L889.3,670.8L889.3,670.7L891.1,670.7L891.1,670.6L891.1,670.8L893.0,670.8L893.0,670.6L894.9,670.5L894.9,670.8L894.9,670.6L896.7,670.6L896.7,671.0L896.7,670.8L898.6,670.8L898.6,670.5L898.6,670.4L900.5,670.4L900.5,670.8L900.5,670.5L902.3,670.5L902.3,670.7L902.3,670.8L904.2,670.8L904.2,670.9L904.2,670.6L906.1,670.6L906.1,670.7L906.1,670.9L907.9,670.9L907.9,670.5L907.9,670.6L909.8,670.6L909.8,670.9L909.8,670.6L911.7,670.6L911.7,671.0L911.7,670.5L913.5,670.5L913.5,670.6L915.4,670.6L915.4,670.7L915.4,670.6L917.3,670.6L917.3,670.5L917.3,670.7L919.1,670.7L919.1,670.9L921.0,671.0L921.0,670.8L921.0,670.6L922.9,670.6L922.9,670.7L922.9,670.5L924.7,670.5L924.7,670.4L924.7,670.9L926.6,670.9L926.6,670.6L926.6,670.5L928.5,670.5L928.5,670.9L928.5,670.5L930.3,670.5L930.3,670.5L930.3,670.5L932.2,670.5L932.2,670.9L932.2,670.8L934.1,670.8L934.1,670.5L934.1,670.4L935.9,670.4L935.9,670.9L935.9,670.5L937.8,670.5L937.8,670.8L939.7,670.8L939.7,670.8L939.7,670.7L941.6,670.7L941.6,670.6L943.4,670.6L943.4,670.8L943.4,670.5L945.3,670.5L945.3,670.7L945.3,670.6L947.2,670.6L947.2,670.6L947.2,670.9L949.0,670.9L949.0,670.7L950.9,670.8L950.9,670.4L952.8,670.4L952.8,670.9L952.8,670.9L954.6,670.9L954.6,670.8L954.6,670.7L956.5,670.7L956.5,670.9L956.5,671.0L958.4,671.0L958.4,670.6L958.4,670.5L960.2,670.5L960.2,670.6L960.2,670.4L962.1,670.4L962.1,670.5L962.1,670.4L964.0,670.4L964.0,670.6L965.8,670.6L965.8,670.4L965.8,670.7L967.7,670.7L967.7,670.9L967.7,670.8L969.6,670.8L969.6,670.4L969.6,670.8L971.4,670.8L971.4,670.5L971.4,670.9L973.3,670.9L973.3,670.8L973.3,670.7L975.2,670.7L975.2,670.7L975.2,671.0L977.0,671.0L977.0,670.5L977.0,670.9L978.9,670.9L978.9,670.5L978.9,670.5L980.8,670.5L980.8,670.5L985.2,669.5L987.5,669.2L989.7,668.9L992.0,668.9L994.2,668.7L996.5,668.7L998.7,668.4L1000.9,668.4L1003.2,668.3L1005.4,668.3L1007.7,668.3L1009.9,668.2L1012.1,668.2L1014.4,668.3L1016.6,668.6L1018.9,668.5L1021.1,668.1L1023.3,668.2L1025.6,668.2L1027.8,668.1L1030.1,668.3L1032.3,668.3L1034.5,668.4L1036.8,668.9L1039.0,668.4L1041.3,668.3L1043.5,668.3L1045.8,668.3L1048.0,668.5L1050.2,668.5L1052.5,668.7L1054.7,668.1L1057.0,668.1L1059.2,668.1L1061.4,668.8L1063.7,668.8L1065.9,668.4L1068.2,668.4L1070.4,668.1L1072.6,667.9L1074.9,667.8L1077.1,667.8L1079.4,667.9L1081.6,667.9L1083.8,667.9L1086.1,668.2L1088.3,668.2L1090.6,668.2L1092.8,668.2L1095.0,668.6L1097.3,667.9L1099.5,668.2L1101.8,668.2L1104.0,668.2L1106.3,668.2L1108.5,668.0L1110.7,668.4L1113.0,668.5L1115.2,668.1L1117.5,668.2L1119.7,668.9L1121.9,668.5L1124.2,668.9L1126.4,668.9L1128.7,669.0L1130.9,669.0L1133.1,669.3L1135.4,668.5L1137.6,668.8L1139.9,668.8L1142.1,668.8L1144.3,669.0L1146.6,669.0L1148.8,669.1L1149.9,669.1L1153.3,670.6L1154.4,670.6L1156.3,670.6L1156.3,671.0L1156.3,670.9L1158.2,670.9L1158.2,670.5L1160.0,670.5L1160.0,670.6L1160.0,670.7L1161.9,670.7L1161.9,670.6L1161.9,670.7L1163.8,670.7L1163.8,671.0L1163.8,670.6L1165.6,670.6L1165.6,670.7L1165.6,670.6L1167.5,670.6L1167.5,670.8L1169.4,670.7L1169.4,670.5L1169.4,670.4L1171.2,670.4L1171.2,670.9L1173.1,670.9L1173.1,670.6L1173.1,670.5L1175.0,670.5L1175.0,670.5L1175.0,670.8L1176.8,670.8L1176.8,671.0L1178.7,671.0L1178.7,670.8L1178.7,670.7L1180.6,670.7L1180.6,670.9L1182.4,670.9L1182.4,670.5L1184.3,670.5L1186.2,670.5L1186.2,670.4L1186.2,670.9L1188.0,670.9L1188.0,671.0L1188.0,670.7L1189.9,670.7L1189.9,670.9L1189.9,670.8L1191.8,670.8L1191.8,670.6L1193.6,670.6L1193.6,671.0L1193.6,670.6L1195.5,670.6L1195.5,670.5L1197.4,670.4L1197.4,670.9L1199.2,670.9L1201.1,670.9L1201.1,670.5L1201.1,670.6L1203.0,670.6L1203.0,670.9L1204.8,670.9L1204.8,670.4L1204.9,670.6L1206.7,670.6L1206.7,670.8L1208.6,670.8L1208.6,670.4L1208.6,670.5L1210.5,670.5L1210.5,670.5L1212.3,670.5L1212.3,670.7L1212.3,670.4L1214.2,670.4L1214.2,670.9L1214.2,670.7L1216.1,670.7L1216.1,670.8L1216.1,670.6L1217.9,670.6L1217.9,670.9L1217.9,670.5L1219.8,670.5L1219.8,670.9L1219.8,670.5L1221.7,670.5L1221.7,670.7L1223.5,670.7L1223.5,670.8L1223.5,670.7L1225.4,670.7L1225.4,670.8L1225.4,670.4L1227.3,670.4L1227.3,670.7L1229.1,670.7L1229.1,670.8L1229.1,670.5L1231.0,670.5L1231.0,670.8L1231.0,670.4L1232.9,670.4L1234.7,670.4L1234.7,671.0L1234.7,670.5L1236.6,670.5L1236.6,670.8L1236.6,670.4L1238.5,670.4L1238.5,670.8L1238.5,670.5L1240.3,670.5L1240.3,670.8L1240.3,670.8L1242.2,670.8L1242.2,670.7L1244.1,670.7L1244.1,670.8L1244.1,670.4L1245.9,670.4L1245.9,670.5L1247.8,670.5L1247.8,670.7L1247.8,670.9L1249.7,670.9L1249.7,670.4L1249.7,670.5L1251.5,670.5L1251.5,670.7L1251.5,670.6L1253.4,670.6L1253.4,670.4L1253.4,670.6L1255.3,670.6L1255.3,670.4L1257.1,670.4L1257.1,670.9L1257.1,670.6L1259.0,670.6L1259.0,670.8L1259.0,670.5L1260.9,670.5L1260.9,670.8L1260.9,670.9L1262.7,670.9L1262.7,670.4L1262.7,670.8L1264.6,670.8L1264.6,670.9L1264.6,670.9L1266.5,670.9L1266.5,670.5L1266.5,670.8L1268.3,670.8L1268.3,670.5L1270.2,670.5L1270.2,670.8L1272.1,670.8L1272.1,670.5L1272.1,670.9L1273.9,670.9L1273.9,670.4L1275.8,670.4L1275.8,670.7L1275.8,670.8L1277.7,670.8L1277.7,670.4L1277.7,670.7L1279.5,670.7L1279.5,671.0L1279.5,670.6L1281.4,670.6L1281.4,670.7L1281.4,671.0L1283.3,671.0L1285.1,671.0L1285.1,670.5L1285.1,671.0L1287.0,671.0L1287.0,670.6L1288.9,670.6L1288.9,670.5L1288.9,670.9L1290.7,670.9L1290.7,670.8L1290.7,670.7L1292.6,670.7L1294.5,670.7L1294.5,670.5L1296.3,670.5L1296.3,670.8L1296.4,670.6L1298.2,670.6L1298.2,670.4L1298.2,671.0L1300.1,671.0L1300.1,670.5L1300.1,670.9L1302.0,670.9L1302.0,670.7L1303.8,670.7L1303.8,670.8L1303.8,670.5L1305.7,670.5L1305.7,670.9L1307.6,670.9L1307.6,670.8L1309.4,670.9L1309.4,670.7L1309.4,670.4L1311.3,670.4L1311.3,670.9L1311.3,671.0L1313.2,671.0L1313.2,670.6L1313.2,670.8L1315.0,670.8L1315.0,670.5L1315.0,671.0L1316.9,671.0L1316.9,670.8L1316.9,670.4L1318.8,670.4L1318.8,670.8L1320.6,670.8L1320.6,670.7L1320.6,670.8L1322.5,670.8L1322.5,671.0L1322.5,670.8L1324.4,670.8L1324.4,670.7L1324.4,671.0L1326.2,671.0L1326.2,670.8L1326.2,670.9L1328.1,670.9L1328.1,670.7L1328.1,670.9L1330.0,670.9L1330.0,670.7L1331.8,670.7L1331.8,670.5L1333.7,670.5L1333.7,670.8L1335.6,670.8L1335.6,670.6L1335.6,670.4L1337.4,670.4L1337.4,670.8L1339.3,670.8" stroke="#4DBEEE"/>
<path d="M801.5,672.6L803.4,672.6L803.4,673.0L803.4,673.0L805.2,673.0L805.2,672.6L807.1,672.6L807.1,672.7L807.1,673.0L809.0,673.0L809.0,672.7L809.0,673.3L810.8,673.3L810.8,672.8L810.8,672.7L812.7,672.7L812.7,673.1L812.7,672.6L814.6,672.6L814.6,672.8L814.6,673.0L816.4,673.0L816.4,672.8L816.4,672.5L818.3,672.5L818.3,672.9L818.3,673.0L820.2,673.0L820.2,672.6L822.0,672.6L822.0,672.7L822.0,672.8L823.9,672.8L823.9,672.5L823.9,673.2L825.8,673.2L825.8,673.1L827.6,673.1L827.6,673.2L829.5,673.2L829.5,672.9L831.4,672.9L831.4,673.0L831.4,672.5L833.2,672.5L833.2,673.2L835.1,673.2L835.1,672.7L835.1,673.1L837.0,673.1L837.0,672.7L837.0,672.6L838.8,672.6L838.8,672.7L838.8,673.0L840.7,673.0L840.7,672.9L840.7,672.6L842.6,672.6L842.6,673.0L842.6,672.5L844.4,672.5L844.4,672.8L846.3,672.8L846.3,673.0L846.3,672.8L848.2,672.8L848.2,672.7L848.2,673.1L850.1,673.1L850.1,672.8L851.9,672.8L851.9,673.1L853.8,673.1L853.8,672.9L855.7,672.9L855.7,673.3L855.7,672.7L857.5,672.7L857.5,673.1L857.5,672.8L859.4,672.8L859.4,673.1L861.3,673.1L861.3,672.7L861.3,672.5L863.1,672.5L863.1,672.9L865.0,672.8L865.0,672.7L866.9,672.7L866.9,672.8L868.7,672.8L868.7,673.0L868.7,672.8L870.6,672.8L870.6,672.7L870.6,673.0L872.5,673.0L872.5,672.8L872.5,673.0L874.3,673.0L876.2,673.0L876.2,672.8L878.1,672.8L878.1,673.0L878.1,673.3L879.9,673.3L879.9,673.3L879.9,673.1L881.8,673.1L881.8,673.2L881.8,672.8L883.7,672.8L883.7,672.8L883.7,673.3L885.5,673.3L885.5,673.1L885.5,672.5L887.4,672.5L887.4,673.0L887.4,672.8L889.3,672.8L889.3,673.0L889.3,672.7L891.1,672.7L891.1,672.9L893.0,672.9L893.0,673.0L894.9,673.0L894.9,672.7L894.9,673.1L896.7,673.1L896.7,673.2L896.7,672.7L898.6,672.7L898.6,673.2L898.6,672.9L900.5,672.9L900.5,672.8L900.5,672.7L902.3,672.7L902.3,673.0L902.3,672.6L904.2,672.6L904.2,672.8L906.1,672.8L906.1,672.9L906.1,673.1L907.9,673.1L907.9,672.9L907.9,673.0L909.8,673.0L909.8,672.8L909.8,672.5L911.7,672.5L911.7,672.7L911.7,672.6L913.5,672.6L913.5,672.9L913.5,672.7L915.4,672.7L915.4,672.9L915.4,672.9L917.3,672.9L917.3,672.7L919.1,672.7L919.1,673.2L919.1,672.9L921.0,672.9L921.0,673.0L921.0,672.8L922.9,672.8L922.9,673.0L924.7,673.0L924.7,673.2L924.7,673.1L926.6,673.1L926.6,673.2L926.6,673.0L928.5,673.0L928.5,672.5L930.3,672.5L930.3,672.8L930.3,672.3L932.2,672.3L932.2,672.5L932.2,672.8L934.1,672.8L934.1,672.7L934.1,672.6L935.9,672.6L935.9,672.7L935.9,673.1L937.8,673.1L937.8,672.8L937.8,673.0L939.7,673.0L939.7,673.2L939.7,672.9L941.6,672.9L941.6,673.1L941.6,672.9L943.4,672.9L943.4,673.0L943.4,673.2L945.3,673.2L945.3,673.4L945.3,672.8L947.2,672.8L947.2,672.7L947.2,672.9L949.0,672.9L949.0,672.6L949.0,672.7L950.9,672.7L950.9,673.1L950.9,672.6L952.8,672.6L952.8,672.7L952.8,672.7L954.6,672.7L954.6,672.9L954.6,673.0L956.5,673.0L956.5,672.7L956.5,672.8L958.4,672.8L958.4,672.5L958.4,672.6L960.2,672.6L960.2,672.8L960.2,672.9L962.1,672.9L962.1,673.0L964.0,673.0L964.0,672.8L964.0,672.6L965.8,672.6L965.8,673.0L967.7,673.0L967.7,672.9L969.6,672.9L969.6,672.7L971.4,672.7L971.4,672.8L971.4,672.6L973.3,672.6L973.3,672.9L975.2,672.9L975.2,672.5L975.2,672.8L977.0,672.8L977.0,672.4L977.0,672.3L978.9,672.3L978.9,672.4L979.6,672.4L994.2,652.8L996.5,652.6L998.7,661.4L1000.9,650.6L1003.2,653.2L1005.4,645.3L1007.7,645.4L1009.9,649.7L1012.1,657.9L1014.4,644.7L1016.6,648.4L1018.9,648.2L1021.1,648.1L1023.3,648.0L1025.6,647.9L1027.8,647.8L1030.1,654.0L1032.3,653.5L1034.5,653.5L1036.8,653.4L1039.0,653.3L1041.3,651.0L1043.5,650.9L1045.8,650.9L1048.0,650.3L1050.2,650.2L1052.5,658.1L1054.7,658.0L1057.0,658.0L1059.2,653.0L1061.4,659.3L1063.7,643.6L1065.9,647.1L1068.2,647.1L1070.4,644.9L1072.6,650.9L1074.9,660.6L1077.1,659.0L1079.4,651.7L1081.6,651.7L1083.8,651.7L1086.1,651.7L1088.3,661.4L1090.6,655.2L1092.8,644.6L1095.0,657.5L1097.3,657.6L1099.5,647.6L1101.8,651.1L1104.0,645.2L1106.3,644.5L1108.5,644.6L1110.7,644.6L1113.0,644.6L1115.2,644.7L1117.5,648.2L1119.7,650.6L1121.9,650.7L1124.2,650.7L1126.4,648.4L1128.7,648.4L1130.9,648.5L1133.1,648.5L1135.4,648.6L1137.6,648.6L1139.9,648.7L1142.1,656.6L1157.8,672.6L1158.2,672.6L1158.2,673.1L1160.0,673.1L1160.0,672.7L1160.0,673.0L1161.9,673.0L1163.8,673.0L1163.8,672.7L1165.6,672.7L1165.6,672.4L1165.6,672.9L1167.5,672.9L1167.5,672.8L1167.5,672.3L1169.4,672.3L1169.4,672.4L1171.2,672.5L1171.2,672.5L1171.2,672.3L1173.1,672.3L1173.1,672.4L1175.0,672.4L1175.0,672.6L1175.0,672.4L1176.8,672.4L1176.8,672.4L1178.7,672.4L1178.7,672.7L1178.7,672.6L1180.6,672.6L1182.4,672.6L1182.4,673.0L1182.4,672.8L1184.3,672.8L1184.3,672.9L1184.3,672.8L1186.2,672.8L1186.2,672.5L1186.2,672.8L1188.0,672.8L1188.0,672.9L1188.0,672.6L1189.9,672.6L1189.9,672.9L1189.9,672.7L1191.8,672.7L1191.8,672.5L1193.6,672.5L1193.6,672.7L1195.5,672.8L1195.5,672.7L1197.4,672.7L1197.4,673.0L1197.4,672.9L1199.2,672.9L1199.2,673.0L1201.1,673.0L1201.1,672.6L1201.1,673.0L1203.0,673.0L1203.0,672.9L1203.0,672.8L1204.8,672.8L1204.8,672.9L1204.9,672.6L1206.7,672.6L1206.7,672.7L1206.7,672.8L1208.6,672.8L1208.6,673.1L1210.5,673.1L1210.5,672.6L1212.3,672.7L1212.3,673.0L1214.2,673.0L1214.2,672.7L1214.2,672.5L1216.1,672.5L1216.1,672.8L1217.9,672.8L1217.9,673.0L1217.9,672.9L1219.8,672.9L1219.8,673.0L1221.7,673.0L1221.7,672.9L1221.7,672.7L1223.5,672.7L1223.5,672.4L1223.5,672.9L1225.4,672.9L1225.4,672.8L1225.4,673.0L1227.3,673.0L1227.3,673.2L1229.1,673.2L1229.1,672.8L1229.1,673.0L1231.0,673.0L1231.0,672.6L1231.0,673.0L1232.9,673.0L1232.9,672.5L1234.7,672.5L1234.7,672.8L1234.7,673.0L1236.6,673.0L1236.6,672.7L1236.6,672.8L1238.5,672.8L1238.5,673.3L1238.5,672.6L1240.3,672.6L1240.3,673.1L1240.3,672.7L1242.2,672.7L1242.2,673.1L1242.2,672.8L1244.1,672.8L1244.1,672.5L1244.1,672.6L1245.9,672.6L1245.9,672.9L1245.9,672.5L1247.8,672.5L1247.8,672.6L1247.8,672.7L1249.7,672.7L1249.7,672.5L1249.7,673.1L1251.5,673.1L1251.5,672.8L1251.5,672.7L1253.4,672.7L1253.4,672.6L1255.3,672.6L1255.3,672.9L1255.3,673.0L1257.1,673.0L1259.0,673.0L1259.0,672.7L1260.9,672.7L1260.9,672.6L1260.9,672.5L1262.7,672.5L1262.7,672.9L1264.6,672.9L1264.6,672.6L1264.6,673.2L1266.5,673.2L1266.5,673.3L1266.5,672.5L1268.3,672.5L1268.3,672.9L1268.3,673.0L1270.2,673.0L1270.2,672.9L1272.1,672.9L1272.1,673.0L1272.1,672.4L1273.9,672.4L1273.9,672.5L1273.9,672.6L1275.8,672.6L1275.8,672.8L1275.8,673.0L1277.7,673.0L1277.7,673.1L1277.7,673.1L1279.5,673.1L1279.5,672.9L1279.5,672.6L1281.4,672.6L1281.4,672.7L1281.4,673.1L1283.3,673.1L1283.3,672.5L1283.3,672.8L1285.1,672.8L1285.1,672.7L1287.0,672.7L1287.0,673.0L1287.0,672.4L1288.9,672.4L1288.9,673.0L1290.7,673.0L1290.7,672.9L1290.7,673.2L1292.6,673.2L1292.6,672.6L1292.6,672.7L1294.5,672.7L1294.5,672.5L1294.5,672.8L1296.3,672.8L1296.3,673.1L1296.4,672.8L1298.2,672.8L1298.2,673.0L1298.2,673.0L1300.1,673.0L1300.1,672.5L1300.1,673.3L1302.0,673.3L1302.0,673.0L1302.0,673.1L1303.8,673.1L1303.8,672.9L1305.7,672.9L1305.7,672.5L1305.7,672.8L1307.6,672.8L1307.6,672.9L1307.6,672.7L1309.4,672.7L1309.4,673.0L1309.4,672.6L1311.3,672.6L1313.2,672.6L1313.2,672.7L1315.0,672.7L1315.0,672.8L1315.0,673.1L1316.9,673.1L1316.9,672.9L1316.9,672.9L1318.8,672.9L1318.8,673.0L1320.6,673.0L1320.6,672.5L1320.6,673.1L1322.5,673.1L1322.5,673.0L1324.4,673.0L1324.4,672.6L1324.4,673.1L1326.2,673.1L1326.2,672.9L1326.2,672.8L1328.1,672.8L1328.1,672.7L1328.1,672.7L1330.0,672.7L1330.0,672.9L1330.0,672.7L1331.8,672.7L1331.8,673.1L1331.8,673.0L1333.7,673.0L1333.7,673.0L1333.7,672.9L1335.6,672.9L1335.6,672.4L1337.4,672.4L1337.4,672.3L1337.4,672.5L1339.3,672.5L1339.3,672.9" stroke="#0072BD"/>
<path d="M801.5,672.6L803.4,672.6L803.4,672.2L803.4,672.3L805.2,672.3L805.2,672.2L805.2,672.4L807.1,672.4L807.1,672.5L807.1,672.6L809.0,672.6L809.0,672.5L809.0,672.7L810.8,672.7L810.8,672.5L810.8,672.7L812.7,672.7L812.7,672.6L812.7,672.4L814.6,672.4L816.4,672.4L816.4,672.2L818.3,672.2L818.3,672.4L818.3,672.5L820.2,672.5L820.2,672.1L820.2,672.3L822.0,672.3L822.0,672.2L823.9,672.2L823.9,672.1L823.9,672.6L825.8,672.6L825.8,672.4L825.8,672.5L827.6,672.5L827.6,672.1L827.6,672.7L829.5,672.7L829.5,672.6L831.4,672.6L831.4,672.3L831.4,672.2L833.2,672.2L833.2,672.0L833.2,672.6L835.1,672.6L835.1,672.0L837.0,672.0L837.0,672.3L837.0,672.4L838.8,672.4L838.8,672.2L838.8,672.1L840.7,672.1L840.7,672.2L840.7,672.4L842.6,672.4L842.6,672.3L842.6,672.2L844.4,672.2L844.4,671.8L844.4,672.3L846.3,672.3L846.3,672.6L848.2,672.6L848.2,672.5L848.2,672.6L850.1,672.6L850.1,672.3L850.1,672.4L851.9,672.4L851.9,672.7L853.8,672.7L853.8,672.4L853.8,672.7L855.7,672.7L855.7,672.5L855.7,672.2L857.5,672.2L857.5,672.2L857.5,672.0L859.4,672.0L859.4,672.2L859.4,672.3L861.3,672.3L861.3,672.6L861.3,672.1L863.1,672.1L863.1,672.5L863.1,672.5L865.0,672.5L865.0,672.3L866.9,672.3L866.9,672.6L868.7,672.6L868.7,672.7L868.7,672.5L870.6,672.5L870.6,672.0L870.6,672.5L872.5,672.5L872.5,672.5L874.3,672.5L874.3,672.2L874.3,672.4L876.2,672.4L876.2,672.7L876.2,672.6L878.1,672.6L878.1,672.4L878.1,672.5L879.9,672.5L879.9,672.4L879.9,672.2L881.8,672.2L881.8,672.2L883.7,672.2L883.7,672.1L883.7,672.6L885.5,672.6L885.5,672.7L885.5,672.3L887.4,672.3L887.4,672.2L889.3,672.1L889.3,672.3L889.3,672.1L891.1,672.1L891.1,672.2L891.1,672.1L893.0,672.1L893.0,672.4L894.9,672.5L894.9,672.1L894.9,672.2L896.7,672.2L896.7,672.3L898.6,672.3L898.6,672.7L898.6,672.3L900.5,672.3L900.5,672.0L900.5,672.4L902.3,672.4L902.3,672.6L904.2,672.6L904.2,672.2L904.2,672.6L906.1,672.6L906.1,672.1L907.9,672.1L907.9,672.4L907.9,672.4L909.8,672.4L909.8,672.2L909.8,672.1L911.7,672.1L911.7,672.3L911.7,672.1L913.5,672.1L913.5,672.5L913.5,672.6L915.4,672.6L915.4,672.4L915.4,672.6L917.3,672.6L917.3,672.3L917.3,672.2L919.1,672.2L919.1,672.4L921.0,672.4L921.0,672.6L922.9,672.6L922.9,672.3L922.9,672.6L924.7,672.6L924.7,672.7L924.7,672.3L926.6,672.3L926.6,672.2L926.6,672.3L928.5,672.3L928.5,672.7L928.5,672.3L930.3,672.3L930.3,672.4L932.2,672.4L932.2,671.9L932.2,672.4L934.1,672.4L934.1,672.3L935.9,672.3L935.9,672.3L937.8,672.3L937.8,672.5L939.7,672.4L939.7,672.6L939.7,672.2L941.6,672.2L941.6,672.6L941.6,672.4L943.4,672.4L943.4,672.4L943.4,672.6L945.3,672.6L945.3,672.7L945.3,672.3L947.2,672.3L947.2,672.4L947.2,672.5L949.0,672.5L949.0,672.0L949.0,672.3L950.9,672.3L950.9,672.2L950.9,672.0L952.8,672.0L952.8,672.5L954.6,672.5L954.6,672.0L954.6,672.4L956.5,672.4L956.5,672.0L956.5,672.1L958.4,672.1L958.4,672.3L958.4,672.4L960.2,672.4L960.2,672.2L962.1,672.2L962.1,672.3L962.1,672.4L964.0,672.4L964.0,672.0L964.0,672.2L965.8,672.2L965.8,672.0L967.7,672.0L967.7,672.3L969.6,672.3L969.6,672.4L969.6,672.0L970.7,672.0L994.2,657.0L996.5,656.0L998.7,653.8L1000.9,652.8L1003.2,651.9L1005.4,651.1L1007.7,650.2L1009.9,651.0L1012.1,650.7L1014.4,649.3L1016.6,649.6L1018.9,647.7L1021.1,647.0L1023.3,645.9L1025.6,645.3L1027.8,645.3L1030.1,644.8L1032.3,644.9L1034.5,643.5L1036.8,644.6L1039.0,643.1L1041.3,641.5L1043.5,643.2L1045.8,641.6L1048.0,641.3L1050.2,641.4L1052.5,641.2L1054.7,640.9L1057.0,640.0L1059.2,639.8L1061.4,639.0L1063.7,641.1L1065.9,641.1L1068.2,641.0L1070.4,639.8L1072.6,640.0L1074.9,639.7L1077.1,639.7L1079.4,639.8L1081.6,639.1L1083.8,639.3L1086.1,639.4L1088.3,639.6L1090.6,639.8L1092.8,640.1L1095.0,642.4L1097.3,641.3L1099.5,643.3L1101.8,643.7L1104.0,644.1L1106.3,643.9L1108.5,643.6L1110.7,644.0L1113.0,644.5L1115.2,645.3L1117.5,644.6L1119.7,645.2L1121.9,645.8L1124.2,647.0L1126.4,649.1L1128.7,649.8L1130.9,648.8L1133.1,649.0L1135.4,650.2L1137.6,652.0L1139.9,653.1L1142.1,654.0L1144.3,653.6L1146.6,654.5L1167.9,672.3L1169.4,672.3L1169.4,671.8L1171.2,671.8L1171.2,672.2L1171.2,671.8L1173.1,671.8L1173.1,672.1L1175.0,672.1L1175.0,671.8L1175.0,671.7L1176.8,671.7L1176.8,671.8L1176.8,672.0L1178.7,672.0L1178.7,671.8L1180.6,671.8L1180.6,672.3L1182.4,672.3L1182.4,672.1L1182.4,672.3L1184.3,672.3L1184.3,672.5L1184.3,672.0L1186.2,672.0L1186.2,672.4L1188.0,672.4L1188.0,672.5L1189.9,672.5L1189.9,672.3L1189.9,672.6L1191.8,672.6L1191.8,672.5L1191.8,672.2L1193.6,672.2L1193.6,672.1L1195.5,672.1L1195.5,672.4L1197.4,672.4L1197.4,672.5L1199.2,672.5L1199.2,672.7L1199.2,672.5L1201.1,672.5L1201.1,672.2L1201.1,672.0L1203.0,672.0L1203.0,672.4L1204.8,672.4L1204.8,672.0L1204.9,672.6L1206.7,672.6L1206.7,672.4L1206.7,672.0L1208.6,672.0L1208.6,672.3L1208.6,672.1L1210.5,672.1L1210.5,672.2L1212.3,672.2L1212.3,672.1L1212.3,672.0L1214.2,672.0L1214.2,672.6L1216.1,672.6L1216.1,672.3L1216.1,672.3L1217.9,672.3L1217.9,672.1L1217.9,672.3L1219.8,672.3L1219.8,672.5L1219.8,672.6L1221.7,672.6L1221.7,672.2L1221.7,672.5L1223.5,672.5L1223.5,672.3L1223.5,672.2L1225.4,672.2L1225.4,672.1L1225.4,672.3L1227.3,672.3L1229.1,672.3L1229.1,672.6L1229.1,672.5L1231.0,672.5L1231.0,672.3L1231.0,672.5L1232.9,672.5L1232.9,672.5L1232.9,672.6L1234.7,672.6L1234.7,672.3L1234.7,672.4L1236.6,672.4L1236.6,672.8L1238.5,672.8L1238.5,672.6L1238.5,672.5L1240.3,672.5L1240.3,672.4L1240.3,672.5L1242.2,672.5L1242.2,672.1L1244.1,672.1L1244.1,672.6L1244.1,672.2L1245.9,672.2L1245.9,672.4L1245.9,672.5L1247.8,672.5L1247.8,672.0L1247.8,672.4L1249.7,672.4L1251.5,672.3L1251.5,672.4L1253.4,672.4L1253.4,672.3L1253.4,672.3L1255.3,672.3L1255.3,672.5L1255.3,672.6L1257.1,672.6L1257.1,672.5L1257.1,672.6L1259.0,672.6L1259.0,672.4L1260.9,672.4L1260.9,672.4L1262.7,672.3L1262.7,672.5L1262.7,672.5L1264.6,672.5L1264.6,672.3L1266.5,672.3L1266.5,672.5L1266.5,672.2L1268.3,672.2L1268.3,672.5L1268.3,672.4L1270.2,672.4L1270.2,672.7L1272.1,672.7L1272.1,672.6L1272.1,672.1L1273.9,672.1L1273.9,671.9L1273.9,672.0L1275.8,672.0L1275.8,672.2L1275.8,672.3L1277.7,672.3L1277.7,672.6L1277.7,672.2L1279.5,672.2L1281.4,672.1L1281.4,672.4L1283.3,672.4L1283.3,672.1L1283.3,672.6L1285.1,672.6L1285.1,672.0L1285.1,672.7L1287.0,672.7L1287.0,672.6L1287.0,672.3L1288.9,672.3L1288.9,671.9L1288.9,672.0L1290.7,672.0L1290.7,672.5L1292.6,672.4L1292.6,672.2L1292.6,672.3L1294.5,672.3L1294.5,671.9L1294.5,672.1L1296.3,672.1L1296.3,672.5L1298.2,672.4L1298.2,672.1L1298.2,672.2L1300.1,672.2L1300.1,672.4L1300.1,672.7L1302.0,672.7L1302.0,672.8L1302.0,672.4L1303.8,672.4L1303.8,672.9L1303.8,672.2L1305.7,672.2L1305.7,672.1L1305.7,672.4L1307.6,672.4L1307.6,672.3L1309.4,672.3L1309.4,672.3L1311.3,672.3L1311.3,672.2L1313.2,672.2L1313.2,672.1L1315.0,672.1L1315.0,672.2L1316.9,672.2L1316.9,672.0L1316.9,672.8L1318.8,672.8L1318.8,672.3L1318.8,672.4L1320.6,672.4L1320.6,672.3L1320.6,672.5L1322.5,672.5L1322.5,672.4L1322.5,672.3L1324.4,672.3L1324.4,672.1L1324.4,672.5L1326.2,672.5L1326.2,672.2L1328.1,672.1L1328.1,672.5L1330.0,672.5L1330.0,672.6L1331.8,672.6L1331.8,672.3L1331.8,672.1L1333.7,672.1L1333.7,672.4L1333.7,672.5L1335.6,672.5L1335.6,672.0L1335.6,672.0L1337.4,672.0L1337.4,672.2L1337.4,672.1L1339.3,672.1" stroke="#EDB120"/>
<path d="M801.5,673.7L803.4,673.7L803.4,674.0L803.4,673.5L805.2,673.5L805.2,673.6L805.2,673.7L807.1,673.7L807.1,673.8L807.1,674.0L809.0,674.0L809.0,674.3L809.0,673.7L810.8,673.7L810.8,673.9L810.8,673.9L812.7,673.9L812.7,673.7L814.6,673.7L814.6,674.1L814.6,674.2L816.4,674.2L816.4,674.0L816.4,674.1L818.3,674.1L818.3,673.6L818.3,674.0L820.2,674.0L820.2,674.1L822.0,674.1L822.0,673.6L822.0,673.8L823.9,673.8L823.9,674.1L825.8,674.1L825.8,674.0L825.8,673.8L827.6,673.8L827.6,674.0L827.6,674.2L829.5,674.2L829.5,673.8L829.5,674.0L831.4,674.0L831.4,673.7L831.4,674.0L833.2,674.0L833.2,673.7L833.2,674.0L835.1,674.0L835.1,674.2L835.1,673.6L837.0,673.6L837.0,673.8L837.0,673.6L838.8,673.6L838.8,673.5L840.7,673.5L840.7,673.7L840.7,673.6L842.6,673.6L842.6,674.0L842.6,673.3L844.4,673.3L844.4,673.5L846.3,673.5L846.3,673.9L848.2,673.9L848.2,674.0L848.2,673.9L850.1,673.9L850.1,673.5L851.9,673.5L851.9,673.7L851.9,673.8L853.8,673.8L853.8,674.1L855.7,674.2L855.7,674.0L855.7,673.7L857.5,673.7L857.5,673.5L857.5,673.8L859.4,673.8L859.4,673.5L859.4,674.1L861.3,674.1L861.3,673.5L861.3,674.0L863.1,674.0L863.1,673.9L865.0,673.8L865.0,673.6L865.0,673.8L866.9,673.8L866.9,673.9L868.7,673.9L868.7,674.2L868.7,673.6L870.6,673.6L870.6,673.9L872.5,673.9L872.5,673.6L872.5,674.1L874.3,674.1L874.3,673.8L874.3,673.7L876.2,673.7L876.2,674.2L876.2,674.0L878.1,674.0L878.1,673.7L878.1,674.1L879.9,674.1L879.9,674.3L879.9,673.8L881.8,673.8L881.8,674.0L881.8,673.7L883.7,673.7L883.7,673.5L883.7,674.0L885.5,674.0L885.5,673.7L887.4,673.7L887.4,674.0L889.3,674.0L889.3,673.8L889.3,673.9L891.1,673.9L891.1,674.0L891.1,673.7L893.0,673.7L893.0,673.9L893.0,673.6L894.9,673.6L894.9,673.6L894.9,673.8L896.7,673.8L896.7,674.0L896.7,673.7L898.6,673.7L898.6,674.3L898.6,673.8L900.5,673.8L900.5,674.0L900.5,673.9L902.3,673.9L902.3,674.2L902.3,673.9L904.2,673.9L904.2,674.0L904.2,673.8L906.1,673.8L906.1,674.0L907.9,674.0L907.9,673.6L907.9,673.7L909.8,673.7L909.8,673.8L911.7,673.8L911.7,673.5L911.7,673.7L913.5,673.7L913.5,674.0L915.4,674.0L915.4,674.2L917.3,674.2L917.3,674.2L919.1,674.2L919.1,673.9L921.0,673.9L921.0,673.7L922.9,673.7L922.9,673.8L924.7,673.8L924.7,673.6L924.7,673.9L926.6,673.9L926.6,674.3L926.6,673.8L928.5,673.8L928.5,674.0L928.5,673.6L930.3,673.6L930.3,673.7L930.3,673.8L932.2,673.8L932.2,673.6L932.2,674.0L934.1,674.0L934.1,673.6L934.1,673.8L935.9,673.8L935.9,673.6L937.8,673.6L937.8,673.7L937.8,673.9L939.7,673.9L939.7,674.1L941.6,674.1L941.6,673.9L941.6,674.1L943.4,674.1L943.4,673.8L943.4,674.0L945.3,674.0L945.3,673.8L945.3,673.6L947.2,673.6L947.2,674.0L949.0,674.0L949.0,673.5L950.9,673.5L950.9,673.8L950.9,673.5L952.8,673.5L952.8,673.6L952.8,673.9L954.6,673.9L954.6,674.0L956.5,674.0L956.5,673.8L956.5,674.0L958.4,674.0L958.4,674.0L960.2,674.0L960.2,673.6L960.2,673.8L962.1,673.8L962.1,673.5L962.1,673.7L964.0,673.7L964.0,674.0L964.0,673.7L965.8,673.7L965.8,674.0L965.8,674.0L967.7,674.0L967.7,673.8L967.7,673.7L969.6,673.7L969.6,674.0L971.4,674.0L971.4,673.9L971.4,673.7L972.9,673.7L992.0,665.9L994.2,664.6L996.5,666.1L998.7,665.6L1000.9,664.7L1003.2,664.3L1005.4,664.3L1007.7,662.1L1009.9,662.2L1012.1,661.9L1014.4,661.5L1016.6,662.2L1018.9,661.9L1021.1,661.1L1023.3,660.8L1025.6,660.6L1027.8,660.3L1030.1,660.8L1032.3,660.6L1034.5,659.7L1036.8,659.4L1039.0,658.6L1041.3,660.0L1043.5,659.9L1045.8,658.9L1048.0,658.8L1050.2,659.5L1052.5,659.4L1054.7,658.7L1057.0,658.6L1059.2,658.5L1061.4,658.4L1063.7,659.0L1065.9,659.0L1068.2,658.1L1070.4,658.3L1072.6,658.3L1074.9,658.5L1077.1,658.5L1079.4,658.6L1081.6,658.4L1083.8,658.5L1086.1,657.3L1088.3,657.4L1090.6,657.7L1092.8,658.7L1095.0,658.8L1097.3,659.2L1099.5,658.0L1101.8,659.2L1104.0,659.3L1106.3,659.5L1108.5,659.5L1110.7,659.7L1113.0,659.6L1115.2,659.7L1117.5,659.9L1119.7,660.0L1121.9,661.4L1124.2,661.9L1126.4,662.2L1128.7,662.5L1130.9,662.0L1133.1,663.0L1135.4,661.7L1137.6,662.4L1139.9,662.8L1142.1,663.1L1144.3,664.1L1146.6,663.7L1148.8,664.6L1166.8,673.9L1167.5,673.9L1167.5,673.4L1169.4,673.4L1169.4,673.3L1171.2,673.3L1171.2,673.7L1171.2,673.5L1173.1,673.5L1173.1,673.6L1173.1,673.2L1175.0,673.2L1175.0,673.4L1175.0,673.4L1176.8,673.4L1176.8,673.5L1176.8,673.2L1178.7,673.2L1178.7,673.5L1178.7,673.5L1180.6,673.5L1180.6,673.3L1180.6,673.8L1182.4,673.8L1182.4,674.2L1182.4,673.6L1184.3,673.6L1184.3,674.0L1186.2,673.9L1186.2,673.8L1186.2,673.5L1188.0,673.5L1188.0,673.7L1188.0,674.1L1189.9,674.1L1189.9,673.6L1191.8,673.6L1191.8,673.9L1191.8,674.1L1193.6,674.1L1193.6,673.6L1193.6,674.2L1195.5,674.2L1195.5,674.0L1195.5,673.6L1197.4,673.6L1197.4,673.7L1197.4,674.0L1199.2,674.0L1199.2,673.7L1201.1,673.6L1201.1,674.0L1201.1,673.6L1203.0,673.6L1203.0,674.0L1203.0,673.9L1204.8,673.9L1204.9,673.5L1206.7,673.5L1206.7,673.7L1208.6,673.7L1208.6,673.8L1208.6,673.5L1210.5,673.5L1210.5,673.8L1210.5,673.6L1212.3,673.6L1212.3,674.0L1212.3,673.9L1214.2,673.9L1214.2,673.7L1214.2,673.9L1216.1,673.9L1216.1,673.6L1216.1,674.0L1217.9,674.0L1217.9,673.8L1219.8,673.8L1219.8,673.7L1221.7,673.7L1221.7,673.9L1223.5,673.9L1223.5,673.9L1225.4,673.9L1225.4,673.5L1225.4,674.0L1227.3,674.0L1227.3,674.2L1227.3,673.7L1229.1,673.7L1229.1,673.9L1229.1,674.1L1231.0,674.1L1231.0,673.7L1232.9,673.7L1232.9,673.5L1232.9,673.7L1234.7,673.7L1234.7,673.6L1236.6,673.6L1236.6,673.8L1236.6,674.1L1238.5,674.1L1238.5,674.2L1238.5,674.0L1240.3,674.0L1240.3,673.9L1240.3,673.5L1242.2,673.5L1242.2,673.7L1242.2,673.8L1244.1,673.8L1244.1,673.9L1244.1,673.5L1245.9,673.5L1245.9,673.9L1247.8,673.9L1247.8,674.0L1249.7,674.0L1249.7,674.0L1249.7,673.5L1251.5,673.5L1251.5,674.1L1251.5,673.7L1253.4,673.7L1253.4,673.8L1255.3,673.8L1255.3,674.1L1255.3,673.8L1257.1,673.8L1257.1,673.8L1257.1,673.7L1259.0,673.7L1259.0,673.5L1259.0,673.7L1260.9,673.7L1260.9,674.0L1262.7,674.0L1262.7,673.5L1264.6,673.5L1264.6,673.8L1264.6,674.2L1266.5,674.2L1266.5,673.8L1266.5,673.6L1268.3,673.6L1268.3,673.9L1268.3,673.7L1270.2,673.7L1270.2,674.0L1272.1,674.1L1272.1,674.3L1272.1,673.7L1273.9,673.7L1273.9,673.8L1273.9,673.3L1275.8,673.3L1275.8,673.6L1275.8,674.0L1277.7,674.0L1277.7,673.7L1279.5,673.7L1279.5,674.0L1279.5,673.7L1281.4,673.7L1281.4,673.8L1281.4,674.0L1283.3,674.0L1283.3,673.8L1283.3,673.7L1285.1,673.7L1285.1,673.8L1285.1,673.6L1287.0,673.6L1287.0,674.0L1287.0,673.2L1288.9,673.2L1288.9,673.7L1290.7,673.6L1290.7,673.6L1290.7,673.9L1292.6,673.9L1292.6,674.0L1292.6,673.8L1294.5,673.8L1294.5,673.6L1296.3,673.6L1296.3,673.6L1296.4,673.8L1298.2,673.8L1298.2,674.1L1298.2,673.8L1300.1,673.8L1300.1,673.9L1300.1,674.0L1302.0,674.0L1302.0,674.2L1302.0,673.8L1303.8,673.8L1303.8,674.0L1303.8,673.9L1305.7,673.9L1305.7,674.0L1305.7,673.8L1307.6,673.8L1307.6,673.6L1307.6,673.8L1309.4,673.8L1309.4,674.1L1309.4,673.6L1311.3,673.6L1311.3,673.7L1311.3,674.0L1313.2,674.0L1315.0,674.0L1315.0,673.9L1315.0,673.8L1316.9,673.8L1316.9,674.0L1316.9,674.2L1318.8,674.2L1318.8,674.1L1318.8,673.6L1320.6,673.6L1320.6,673.7L1322.5,673.7L1322.5,674.1L1322.5,674.0L1324.4,674.0L1324.4,673.9L1324.4,674.0L1326.2,674.0L1326.2,673.8L1326.2,673.6L1328.1,673.6L1328.1,673.9L1330.0,673.9L1330.0,673.7L1330.0,673.5L1331.8,673.5L1331.8,673.9L1331.8,673.8L1333.7,673.8L1333.7,674.0L1335.6,674.0L1335.6,673.5L1335.6,673.2L1337.4,673.2L1337.4,673.5L1337.4,673.6L1339.3,673.6L1339.3,673.8" stroke="#D95319"/>
<path d="M801.5,676.9L803.4,676.9L803.4,676.5L803.4,676.4L805.2,676.4L805.2,676.8L805.2,676.4L807.1,676.4L807.1,677.0L807.1,678.2L809.0,678.2L809.0,677.9L810.8,677.9L810.8,677.8L810.8,677.6L812.7,677.6L812.7,677.2L812.7,676.6L814.6,676.6L814.6,676.3L814.6,677.3L816.4,677.3L816.4,677.9L816.4,676.9L818.3,676.9L818.3,676.5L820.2,676.5L820.2,676.8L822.0,676.8L822.0,676.5L822.0,676.9L823.9,676.9L823.9,677.2L825.8,677.2L825.8,677.1L825.8,676.4L827.6,676.4L827.6,678.3L829.5,678.3L829.5,678.1L829.5,676.5L831.4,676.5L831.4,676.9L831.4,676.3L833.2,676.3L833.2,677.2L835.1,677.2L835.1,676.9L837.0,676.9L837.0,676.8L837.0,676.9L838.8,676.9L838.8,676.4L838.8,676.9L840.7,676.9L840.7,676.4L840.7,676.6L842.6,676.6L842.6,676.9L842.6,675.0L844.4,675.0L844.4,674.7L844.4,676.5L846.3,676.5L846.3,676.5L846.3,676.6L848.2,676.6L848.2,676.4L848.2,676.5L850.1,676.5L850.1,676.8L850.1,676.3L851.9,676.3L851.9,678.3L853.8,678.3L853.8,677.9L853.8,678.1L855.7,678.1L855.7,676.7L857.5,676.7L857.5,676.3L857.5,676.7L859.4,676.7L859.4,677.0L859.4,676.6L861.3,676.6L861.3,676.9L863.1,676.9L863.1,676.5L863.1,676.4L865.0,676.4L865.0,676.2L865.0,676.6L866.9,676.6L866.9,676.8L866.9,678.6L868.7,678.6L868.7,678.4L868.7,676.2L870.6,676.2L870.6,676.6L870.6,676.3L872.5,676.3L872.5,676.6L872.5,676.7L874.3,676.7L874.3,676.6L874.3,678.1L876.2,678.1L876.2,677.9L876.2,677.5L878.1,677.5L878.1,677.6L878.1,678.7L879.9,678.7L879.9,678.1L879.9,677.5L881.8,677.5L881.8,677.8L881.8,676.2L883.7,676.2L883.7,676.4L883.7,677.8L885.5,677.8L885.5,678.2L885.5,676.4L887.4,676.4L887.4,676.5L887.4,676.8L889.3,676.8L889.3,676.3L889.3,676.7L891.1,676.7L891.1,676.3L893.0,676.3L893.0,676.8L893.0,676.4L894.9,676.4L894.9,676.3L894.9,677.4L896.7,677.4L896.7,677.9L896.7,677.7L898.6,677.7L898.6,678.2L898.6,676.5L900.5,676.5L900.5,676.4L900.5,677.7L902.3,677.7L902.3,678.1L902.3,676.7L904.2,676.7L904.2,676.5L904.2,676.3L906.1,676.3L906.1,676.2L906.1,676.6L907.9,676.6L907.9,676.8L907.9,676.4L909.8,676.4L909.8,676.5L911.7,676.5L911.7,676.7L911.7,676.2L913.5,676.2L913.5,676.3L913.5,676.8L915.4,676.8L915.4,676.6L915.4,678.5L917.3,678.5L917.3,678.0L917.3,677.3L919.1,677.3L919.1,677.7L921.0,677.7L921.0,677.3L921.0,676.8L922.9,676.8L922.9,676.5L922.9,677.4L924.7,677.4L924.7,678.0L926.6,678.0L926.6,678.6L928.5,678.6L928.5,678.4L928.5,676.4L930.3,676.4L930.3,676.6L930.3,675.5L932.2,675.5L932.2,675.6L932.2,676.9L934.1,676.9L934.1,676.9L934.1,676.4L935.9,676.4L935.9,676.2L935.9,676.6L937.8,676.6L937.8,677.2L939.7,677.2L939.7,677.6L939.7,676.7L941.6,676.7L941.6,676.4L941.6,676.8L943.4,676.8L943.4,676.7L943.4,678.8L945.3,678.8L945.3,678.4L945.3,676.9L947.2,676.9L947.2,676.8L947.2,676.5L949.0,676.5L949.0,676.8L949.0,676.3L950.9,676.3L950.9,676.5L950.9,676.7L952.8,676.7L952.8,676.8L952.8,676.7L954.6,676.7L954.6,676.5L954.6,676.3L956.5,676.3L956.5,676.6L958.4,676.7L958.4,676.9L960.2,676.9L960.2,676.8L962.1,676.8L962.1,676.6L962.1,676.3L964.0,676.3L964.0,676.4L964.0,676.3L965.8,676.3L965.8,676.7L965.8,676.7L967.7,676.7L967.7,676.2L967.7,676.6L969.6,676.6L983.0,652.0L987.5,600.0L996.5,584.3L998.7,582.4L1000.9,579.8L1003.2,575.5L1005.4,574.1L1007.7,578.5L1009.9,573.4L1012.1,575.1L1014.4,573.9L1016.6,567.5L1018.9,565.1L1021.1,571.3L1023.3,566.8L1025.6,567.0L1027.8,566.1L1030.1,565.2L1032.3,566.5L1034.5,564.4L1036.8,561.0L1039.0,562.1L1041.3,559.1L1043.5,558.6L1045.8,558.0L1048.0,554.6L1050.2,559.8L1052.5,553.4L1054.7,553.0L1057.0,554.5L1059.2,559.6L1061.4,559.4L1063.7,554.5L1065.9,553.5L1068.2,553.4L1070.4,555.9L1072.6,554.1L1074.9,558.0L1077.1,558.2L1079.4,558.5L1081.6,559.1L1083.8,559.6L1086.1,558.5L1088.3,555.8L1090.6,556.5L1092.8,557.3L1095.0,557.6L1097.3,563.5L1099.5,564.5L1101.8,565.1L1104.0,566.2L1106.3,567.5L1108.5,568.8L1110.7,570.2L1113.0,574.3L1115.2,574.7L1117.5,576.3L1119.7,578.6L1121.9,580.5L1124.2,579.1L1126.4,580.3L1128.7,582.4L1130.9,584.5L1133.1,590.4L1135.4,592.7L1137.6,589.1L1139.9,594.4L1148.8,625.0L1160.0,648.0L1166.8,668.0L1172.4,673.9L1173.1,673.9L1173.1,673.8L1175.0,673.8L1175.0,673.9L1176.8,673.9L1176.8,674.3L1176.8,673.8L1178.7,673.8L1178.7,674.3L1178.7,674.0L1180.6,674.0L1180.6,677.0L1182.4,677.0L1182.4,677.4L1182.4,676.4L1184.3,676.4L1184.3,676.5L1184.3,676.6L1186.2,676.6L1186.2,676.5L1188.0,676.5L1188.0,676.8L1188.0,676.5L1189.9,676.5L1189.9,676.7L1189.9,676.4L1191.8,676.4L1191.8,676.6L1191.8,676.9L1193.6,676.9L1193.6,676.6L1193.6,677.6L1195.5,677.6L1195.5,677.3L1195.5,676.5L1197.4,676.5L1197.4,676.8L1197.4,677.6L1199.2,677.6L1199.2,676.2L1201.1,676.2L1201.1,676.6L1201.1,676.9L1203.0,676.9L1203.0,675.3L1204.8,675.3L1204.8,675.6L1204.9,676.4L1206.7,676.4L1206.7,676.7L1206.7,676.5L1208.6,676.5L1208.6,676.9L1208.6,676.6L1210.5,676.6L1210.5,676.8L1212.3,676.8L1212.3,676.3L1212.3,676.4L1214.2,676.4L1214.2,676.5L1214.2,676.7L1216.1,676.7L1216.1,676.5L1216.1,676.5L1217.9,676.5L1217.9,676.5L1217.9,676.6L1219.8,676.6L1219.8,676.8L1219.8,676.5L1221.7,676.5L1221.7,676.8L1221.7,675.5L1223.5,675.5L1223.5,676.3L1225.4,676.3L1225.4,676.4L1225.4,678.0L1227.3,678.0L1227.3,678.0L1227.3,677.9L1229.1,677.9L1229.1,678.3L1229.1,676.4L1231.0,676.4L1231.0,676.4L1232.9,676.4L1232.9,676.8L1232.9,676.5L1234.7,676.5L1234.7,676.4L1234.7,676.6L1236.6,676.6L1236.6,676.7L1236.6,678.6L1238.5,678.6L1238.5,678.4L1238.5,676.7L1240.3,676.7L1240.3,676.9L1240.3,676.7L1242.2,676.7L1242.2,676.8L1242.2,676.7L1244.1,676.7L1244.1,676.2L1244.1,676.9L1245.9,676.9L1245.9,677.0L1245.9,676.8L1247.8,676.8L1247.8,676.3L1249.7,676.2L1249.7,676.7L1249.7,676.8L1251.5,676.8L1251.5,676.3L1253.4,676.3L1253.4,676.5L1253.4,676.3L1255.3,676.3L1255.3,676.8L1255.3,677.6L1257.1,677.6L1257.1,677.4L1257.1,676.7L1259.0,676.7L1259.0,676.6L1259.0,676.3L1260.9,676.3L1260.9,676.4L1260.9,676.7L1262.7,676.7L1262.7,676.5L1262.7,676.9L1264.6,676.9L1264.6,676.8L1264.6,678.3L1266.5,678.3L1266.5,678.2L1266.5,676.8L1268.3,676.8L1268.3,676.3L1270.2,676.3L1270.2,676.4L1270.2,678.5L1272.1,678.5L1272.1,678.1L1272.1,675.6L1273.9,675.6L1273.9,675.7L1273.9,674.7L1275.8,674.7L1275.8,674.9L1275.8,678.5L1277.7,678.5L1277.7,678.6L1277.7,676.3L1279.5,676.3L1279.5,676.8L1279.5,676.7L1281.4,676.7L1281.4,676.9L1281.4,676.5L1283.3,676.5L1283.3,676.7L1283.3,676.6L1285.1,676.6L1285.1,676.9L1285.1,677.2L1287.0,677.2L1287.0,677.4L1287.0,674.9L1288.9,674.9L1288.9,675.1L1288.9,676.6L1290.7,676.6L1290.7,676.8L1290.7,677.6L1292.6,677.6L1292.6,677.7L1292.6,674.9L1294.5,674.9L1294.5,675.1L1294.5,676.8L1296.3,676.8L1296.3,676.3L1296.4,676.8L1298.2,676.8L1298.2,676.7L1298.2,676.9L1300.1,676.9L1300.1,676.3L1300.1,678.7L1302.0,678.7L1302.0,678.2L1302.0,679.0L1303.8,679.0L1303.8,678.7L1303.8,676.4L1305.7,676.4L1305.7,676.8L1307.6,676.8L1307.6,676.6L1309.4,676.6L1309.4,676.4L1309.4,675.3L1311.3,675.3L1311.3,675.7L1311.3,676.4L1313.2,676.4L1313.2,676.6L1313.2,677.0L1315.0,677.0L1315.0,676.8L1315.0,676.3L1316.9,676.3L1316.9,676.7L1316.9,678.5L1318.8,678.5L1318.8,678.7L1318.8,676.3L1320.6,676.3L1320.6,676.8L1322.5,676.8L1322.5,676.3L1322.5,676.9L1324.4,676.9L1324.4,676.8L1324.4,677.0L1326.2,677.0L1326.2,677.0L1326.2,676.3L1328.1,676.3L1328.1,676.7L1328.1,676.5L1330.0,676.5L1330.0,676.5L1330.0,676.8L1331.8,676.8L1331.8,676.4L1331.8,676.7L1333.7,676.7L1333.7,676.6L1333.7,676.9L1335.6,676.9L1335.6,676.8L1335.6,674.5L1337.4,674.5L1337.4,674.9L1337.4,676.4L1339.3,676.4L1339.3,676.4" stroke="#77AC30"/>
<path d="M801.5,686.3L803.4,686.3L803.4,686.7L803.4,686.5L805.2,686.5L805.2,686.4L805.2,686.8L807.1,686.8L807.1,686.4L807.1,686.9L809.0,686.9L809.0,686.8L809.0,687.2L810.8,687.2L810.8,687.0L810.8,686.6L812.7,686.6L812.7,686.8L812.7,686.6L814.6,686.6L814.6,686.3L814.6,687.2L816.4,687.2L816.4,687.1L816.4,686.3L818.3,686.3L818.3,686.4L818.3,686.8L820.2,686.8L820.2,686.4L820.2,686.8L822.0,686.8L822.0,686.7L822.0,686.5L823.9,686.5L823.9,686.9L823.9,686.6L825.8,686.6L825.8,686.6L825.8,686.3L827.6,686.3L827.6,686.5L827.6,686.8L829.5,686.8L829.5,686.3L831.4,686.3L831.4,686.4L831.4,686.9L833.2,686.9L833.2,686.4L833.2,686.7L835.1,686.7L835.1,686.9L837.0,686.9L837.0,686.4L837.0,686.3L838.8,686.3L838.8,686.4L840.7,686.4L840.7,686.3L840.7,686.5L842.6,686.5L842.6,686.3L842.6,685.9L844.4,685.9L844.4,686.2L844.4,686.8L846.3,686.8L846.3,686.6L846.3,686.4L848.2,686.4L848.2,686.5L848.2,686.4L850.1,686.4L850.1,686.7L851.9,686.7L851.9,686.5L851.9,687.0L853.8,687.0L853.8,686.7L853.8,687.3L855.7,687.3L855.7,687.1L855.7,686.9L857.5,686.9L857.5,686.8L859.4,686.8L859.4,686.3L859.4,686.6L861.3,686.6L861.3,686.7L861.3,686.4L863.1,686.4L863.1,686.7L863.1,686.9L865.0,686.9L865.0,686.6L865.0,686.5L866.9,686.5L866.9,686.6L866.9,687.0L868.7,687.0L868.7,686.6L870.6,686.6L870.6,686.4L870.6,686.8L872.5,686.8L872.5,686.5L872.5,686.7L874.3,686.7L874.3,686.7L874.3,686.9L876.2,686.9L876.2,687.2L876.2,687.1L878.1,687.1L878.1,686.7L878.1,687.2L879.9,687.2L879.9,687.0L879.9,687.1L881.8,687.1L881.8,686.5L883.7,686.5L883.7,686.7L883.7,687.1L885.5,687.1L885.5,686.9L885.5,686.4L887.4,686.4L887.4,686.5L887.4,686.4L889.3,686.4L889.3,686.8L889.3,686.4L891.1,686.4L891.1,686.5L891.1,686.4L893.0,686.4L893.0,686.6L893.0,686.7L894.9,686.7L894.9,686.9L894.9,687.0L896.7,687.0L896.7,686.8L896.7,687.1L898.6,687.1L898.6,687.3L898.6,686.8L900.5,686.8L900.5,686.6L900.5,686.8L902.3,686.8L902.3,687.0L902.3,686.5L904.2,686.5L904.2,686.3L904.2,686.6L906.1,686.6L906.1,686.4L906.1,686.6L907.9,686.6L907.9,686.7L909.8,686.7L909.8,686.9L909.8,686.4L911.7,686.4L911.7,686.8L913.5,686.8L913.5,686.3L913.5,686.6L915.4,686.6L915.4,686.9L915.4,687.0L917.3,687.0L917.3,686.8L919.1,686.8L919.1,687.0L919.1,686.6L921.0,686.6L921.0,687.0L921.0,686.5L922.9,686.5L922.9,686.8L922.9,687.1L924.7,687.1L924.7,686.6L924.7,687.2L926.6,687.2L926.6,686.8L926.6,687.4L928.5,687.4L928.5,687.1L928.5,686.6L930.3,686.6L930.3,686.9L930.3,686.4L932.2,686.4L932.2,686.2L932.2,686.3L934.1,686.3L934.1,686.6L934.1,686.4L935.9,686.4L935.9,686.6L935.9,686.7L937.8,686.7L937.8,686.4L937.8,686.8L939.7,686.8L939.7,687.0L939.7,686.6L941.6,686.6L941.6,686.8L943.4,686.8L943.4,686.6L943.4,686.9L945.3,686.9L945.3,687.2L945.3,686.7L947.2,686.7L947.2,686.4L949.0,686.4L949.0,686.8L949.0,686.8L950.9,686.8L952.8,686.8L952.8,686.3L952.8,686.8L954.6,686.8L954.6,686.9L954.6,686.5L956.5,686.5L956.5,686.8L958.4,686.8L958.4,686.7L958.4,686.6L960.2,686.6L960.2,686.8L960.2,686.3L962.1,686.3L962.1,686.9L962.1,686.4L964.0,686.4L964.0,686.3L964.0,686.6L965.8,686.6L965.8,686.5L965.8,686.8L967.7,686.8L967.7,686.7L967.7,686.3L969.6,686.3L969.6,686.6L969.6,686.6L971.4,686.6L971.4,686.3L973.3,686.3L973.3,686.5L973.3,686.1L975.2,686.1L975.2,686.3L975.2,686.6L977.0,686.6L977.0,686.0L978.9,686.0L978.9,685.8L980.8,685.8L980.8,685.8L987.5,686.0L989.7,684.7L992.0,685.9L994.2,685.4L996.5,684.6L998.7,686.2L1000.9,686.8L1003.2,686.7L1005.4,686.7L1007.7,684.5L1009.9,684.7L1012.1,684.7L1014.4,685.1L1016.6,684.1L1018.9,684.1L1021.1,684.1L1023.3,685.7L1025.6,684.9L1027.8,684.8L1030.1,685.3L1032.3,684.6L1034.5,684.7L1036.8,684.7L1039.0,683.4L1041.3,685.0L1043.5,684.5L1045.8,685.0L1048.0,683.5L1050.2,683.5L1052.5,683.4L1054.7,684.2L1057.0,684.1L1059.2,684.7L1061.4,685.4L1063.7,685.4L1065.9,685.6L1068.2,683.3L1070.4,685.1L1072.6,685.6L1074.9,684.7L1077.1,684.4L1079.4,684.2L1081.6,683.9L1083.8,683.9L1086.1,683.9L1088.3,685.4L1090.6,685.4L1092.8,685.9L1095.0,684.5L1097.3,683.5L1099.5,686.1L1101.8,686.1L1104.0,686.1L1106.3,686.2L1108.5,685.1L1110.7,684.3L1113.0,684.9L1115.2,685.0L1117.5,684.8L1119.7,684.9L1121.9,685.2L1124.2,685.3L1126.4,684.4L1128.7,684.5L1130.9,684.3L1133.1,684.4L1135.4,685.9L1137.6,686.0L1139.9,687.0L1142.1,687.1L1144.3,687.2L1146.6,686.1L1148.8,686.5L1151.1,686.6L1155.6,686.7L1156.3,686.7L1158.2,686.7L1158.2,686.6L1160.0,686.6L1161.9,686.6L1161.9,686.9L1161.9,686.6L1163.8,686.6L1163.8,686.8L1163.8,686.5L1165.6,686.5L1165.6,686.2L1165.6,686.4L1167.5,686.4L1167.5,686.6L1167.5,685.8L1169.4,685.8L1169.4,685.9L1169.4,686.1L1171.2,686.1L1171.2,685.9L1171.2,686.0L1173.1,686.0L1173.1,686.1L1173.1,686.0L1175.0,686.0L1175.0,685.9L1175.0,686.2L1176.8,686.2L1176.8,685.6L1176.8,686.0L1178.7,686.0L1178.7,686.1L1178.7,685.8L1180.6,685.8L1180.6,685.7L1180.6,686.7L1182.4,686.7L1182.4,686.9L1182.4,686.7L1184.3,686.7L1184.3,686.6L1184.3,686.3L1186.2,686.3L1186.2,686.7L1188.0,686.7L1188.0,686.4L1189.9,686.4L1189.9,686.8L1189.9,686.7L1191.8,686.7L1193.6,686.6L1193.6,687.0L1195.5,687.0L1195.5,686.7L1195.5,686.8L1197.4,686.8L1197.4,686.7L1197.4,686.7L1199.2,686.7L1199.2,687.0L1199.2,686.4L1201.1,686.4L1201.1,686.8L1201.1,686.4L1203.0,686.4L1203.0,686.6L1203.0,686.3L1204.8,686.3L1204.8,686.5L1204.9,686.8L1206.7,686.8L1206.7,686.8L1206.7,686.7L1208.6,686.7L1208.6,686.4L1210.5,686.4L1210.5,686.9L1210.5,686.4L1212.3,686.4L1212.3,686.8L1214.2,686.7L1214.2,686.8L1214.2,686.8L1216.1,686.8L1216.1,686.9L1216.1,686.4L1217.9,686.4L1217.9,686.9L1219.8,686.9L1219.8,686.7L1219.8,686.4L1221.7,686.4L1221.7,686.7L1221.7,686.0L1223.5,686.0L1223.5,686.7L1225.4,686.7L1225.4,686.5L1225.4,686.9L1227.3,686.9L1227.3,686.6L1227.3,687.2L1229.1,687.2L1229.1,686.7L1231.0,686.8L1231.0,686.7L1231.0,686.5L1232.9,686.5L1232.9,686.9L1232.9,686.6L1234.7,686.6L1234.7,686.9L1234.7,686.6L1236.6,686.6L1236.6,686.3L1236.6,687.1L1238.5,687.1L1238.5,687.3L1238.5,686.4L1240.3,686.4L1240.3,686.3L1242.2,686.3L1242.2,686.5L1242.2,686.8L1244.1,686.8L1244.1,686.6L1244.1,686.7L1245.9,686.7L1245.9,686.4L1245.9,686.6L1247.8,686.6L1247.8,686.8L1247.8,686.9L1249.7,686.9L1249.7,686.7L1249.7,686.7L1251.5,686.7L1251.5,686.6L1251.5,686.5L1253.4,686.5L1253.4,686.9L1253.4,686.3L1255.3,686.3L1255.3,686.6L1257.1,686.7L1257.1,686.8L1257.1,686.5L1259.0,686.5L1259.0,686.8L1259.0,686.7L1260.9,686.7L1260.9,686.9L1260.9,686.4L1262.7,686.4L1262.7,686.8L1264.6,686.8L1264.6,686.6L1264.6,687.1L1266.5,687.1L1266.5,687.3L1266.5,686.8L1268.3,686.8L1268.3,686.5L1270.2,686.5L1270.2,687.0L1272.1,687.0L1272.1,687.2L1272.1,686.2L1273.9,686.2L1273.9,686.3L1273.9,685.9L1275.8,685.9L1275.8,687.1L1277.7,687.1L1277.7,687.2L1277.7,686.5L1279.5,686.5L1279.5,686.8L1279.5,686.7L1281.4,686.7L1281.4,686.8L1281.4,686.7L1283.3,686.7L1283.3,686.5L1283.3,686.7L1285.1,686.7L1285.1,686.9L1285.1,687.1L1287.0,687.1L1287.0,685.9L1288.9,685.9L1288.9,686.0L1288.9,686.6L1290.7,686.6L1292.6,686.7L1292.6,686.7L1292.6,685.9L1294.5,685.9L1294.5,686.0L1294.5,686.5L1296.3,686.5L1296.3,686.8L1298.2,686.8L1298.2,686.6L1298.2,686.8L1300.1,686.8L1300.1,686.8L1300.1,687.2L1302.0,687.2L1302.0,686.9L1302.0,687.3L1303.8,687.3L1303.8,687.4L1303.8,686.5L1305.7,686.5L1307.6,686.5L1307.6,686.6L1309.4,686.6L1309.4,686.8L1309.4,686.6L1311.3,686.6L1311.3,686.4L1311.3,686.5L1313.2,686.5L1313.2,686.8L1313.2,686.4L1315.0,686.4L1315.0,686.8L1315.0,686.6L1316.9,686.6L1316.9,686.3L1316.9,686.9L1318.8,686.9L1318.8,686.3L1320.6,686.3L1320.6,686.9L1320.6,686.3L1322.5,686.3L1322.5,686.9L1324.4,686.9L1324.4,686.3L1324.4,687.0L1326.2,687.0L1326.2,686.9L1328.1,686.9L1328.1,686.5L1328.1,686.8L1330.0,686.8L1330.0,686.6L1330.0,686.8L1331.8,686.8L1331.8,686.3L1331.8,686.8L1333.7,686.8L1333.7,686.9L1333.7,686.6L1335.6,686.6L1335.6,686.9L1335.6,685.8L1337.4,685.8L1337.4,686.0L1337.4,686.6L1339.3,686.6L1339.3,686.5" stroke="#A2142F"/>
<path d="M801.5,689.6L803.4,689.6L803.4,690.1L803.4,690.2L805.2,690.2L805.2,689.9L805.2,689.7L807.1,689.7L807.1,689.9L807.1,690.6L809.0,690.6L809.0,690.7L809.0,690.3L810.8,690.3L810.8,690.2L810.8,689.9L812.7,689.9L812.7,690.1L812.7,689.9L814.6,689.9L814.6,689.8L814.6,690.0L816.4,690.0L816.4,690.4L816.4,690.1L818.3,690.1L818.3,690.1L818.3,690.0L820.2,690.0L820.2,689.6L820.2,689.8L822.0,689.8L822.0,690.2L822.0,689.6L823.9,689.6L823.9,689.8L823.9,690.5L825.8,690.5L825.8,690.3L825.8,690.0L827.6,690.0L827.6,690.0L827.6,690.4L829.5,690.4L829.5,690.3L829.5,689.9L831.4,689.9L831.4,690.1L831.4,689.8L833.2,689.8L833.2,689.6L833.2,690.6L835.1,690.6L835.1,689.9L837.0,689.9L837.0,689.8L837.0,690.1L838.8,690.1L838.8,689.7L840.7,689.7L840.7,690.2L842.6,690.2L842.6,690.0L842.6,689.5L844.4,689.5L844.4,689.2L844.4,690.2L846.3,690.2L846.3,689.8L846.3,689.6L848.2,689.6L848.2,689.8L848.2,690.2L850.1,690.2L850.1,690.0L850.1,689.6L851.9,689.6L851.9,690.4L853.8,690.4L855.7,690.4L855.7,689.9L857.5,689.9L857.5,689.7L857.5,689.8L859.4,689.8L859.4,689.7L861.3,689.7L861.3,690.0L863.1,689.9L863.1,689.8L863.1,689.9L865.0,689.9L866.9,689.9L866.9,689.8L866.9,690.4L868.7,690.4L868.7,690.8L868.7,689.7L870.6,689.7L870.6,689.8L870.6,690.2L872.5,690.2L872.5,689.8L872.5,689.7L874.3,689.7L874.3,689.8L874.3,690.5L876.2,690.5L876.2,690.3L876.2,690.1L878.1,690.1L878.1,690.4L878.1,690.7L879.9,690.7L879.9,690.5L881.8,690.5L881.8,690.1L881.8,689.6L883.7,689.6L883.7,689.7L883.7,690.4L885.5,690.4L885.5,690.2L885.5,689.6L887.4,689.6L887.4,689.7L889.3,689.7L889.3,689.9L891.1,689.9L891.1,689.7L891.1,689.6L893.0,689.6L893.0,689.9L893.0,690.2L894.9,690.2L894.9,690.1L896.7,690.2L896.7,690.1L896.7,690.4L898.6,690.4L898.6,690.6L898.6,690.0L900.5,690.0L900.5,690.2L900.5,690.8L902.3,690.8L902.3,690.3L902.3,689.9L904.2,689.9L904.2,690.1L906.1,690.1L906.1,689.8L906.1,689.6L907.9,689.6L907.9,690.1L907.9,689.9L909.8,689.9L909.8,689.8L911.7,689.8L911.7,690.1L911.7,689.7L913.5,689.7L913.5,689.6L913.5,689.7L915.4,689.7L915.4,689.6L915.4,690.3L917.3,690.3L917.3,690.6L917.3,690.3L919.1,690.3L919.1,690.0L919.1,690.2L921.0,690.2L921.0,690.0L922.9,690.0L922.9,689.7L922.9,690.5L924.7,690.5L924.7,690.2L924.7,690.1L926.6,690.1L926.6,690.5L926.6,690.6L928.5,690.6L928.5,691.0L928.5,690.0L930.3,690.0L930.3,689.8L930.3,689.1L932.2,689.1L932.2,689.6L932.2,690.0L934.1,690.0L934.1,689.6L935.9,689.6L937.8,689.7L937.8,690.0L937.8,690.1L939.7,690.1L939.7,690.0L939.7,689.8L941.6,689.8L941.6,689.9L941.6,689.8L943.4,689.8L943.4,690.0L943.4,690.7L945.3,690.7L945.3,690.5L945.3,689.9L947.2,689.9L947.2,690.2L947.2,689.7L949.0,689.7L949.0,689.8L950.9,689.8L950.9,689.9L952.8,689.9L952.8,689.7L952.8,690.0L954.6,690.0L954.6,689.9L954.6,690.2L956.5,690.2L956.5,689.6L958.4,689.6L958.4,689.7L958.4,689.6L960.2,689.6L960.2,689.8L960.2,690.0L962.1,690.0L962.1,689.6L962.1,689.9L964.0,689.9L964.0,689.8L964.0,690.2L965.8,690.2L965.8,690.1L965.8,690.2L967.7,690.2L967.7,690.0L969.6,690.0L969.6,689.6L969.6,689.7L971.4,689.7L971.4,689.9L971.4,689.6L973.3,689.6L973.3,689.8L975.2,689.8L975.2,689.4L975.2,689.3L977.0,689.3L977.0,689.7L977.0,689.1L978.9,689.1L978.9,689.6L978.9,689.0L980.8,689.0L980.8,689.2L987.5,688.2L989.7,688.1L992.0,688.0L994.2,688.3L996.5,688.2L998.7,688.1L1000.9,688.0L1003.2,687.6L1005.4,688.0L1007.7,686.3L1009.9,686.1L1012.1,686.2L1014.4,687.3L1016.6,687.2L1018.9,686.8L1021.1,686.7L1023.3,685.4L1025.6,685.4L1027.8,686.3L1030.1,686.3L1032.3,686.2L1034.5,687.6L1036.8,686.3L1039.0,686.4L1041.3,686.4L1043.5,686.7L1045.8,686.7L1048.0,686.9L1050.2,686.3L1052.5,686.3L1054.7,687.1L1057.0,687.0L1059.2,687.0L1061.4,687.0L1063.7,687.0L1065.9,686.1L1068.2,685.3L1070.4,686.0L1072.6,685.6L1074.9,685.6L1077.1,685.7L1079.4,686.6L1081.6,684.9L1083.8,687.1L1086.1,685.0L1088.3,685.0L1090.6,684.9L1092.8,687.2L1095.0,687.3L1097.3,685.3L1099.5,685.4L1101.8,687.1L1104.0,687.2L1106.3,687.2L1108.5,687.3L1110.7,686.1L1113.0,686.2L1115.2,686.2L1117.5,686.1L1119.7,686.2L1121.9,686.2L1124.2,686.2L1126.4,686.8L1128.7,686.9L1130.9,687.1L1133.1,686.2L1135.4,686.3L1137.6,686.5L1139.9,688.3L1142.1,686.9L1144.3,687.0L1146.6,687.2L1148.8,689.5L1151.1,689.6L1155.6,690.2L1156.3,690.2L1156.3,690.1L1158.2,690.1L1158.2,689.7L1160.0,689.7L1160.0,690.1L1160.0,690.4L1161.9,690.4L1161.9,689.8L1161.9,689.8L1163.8,689.8L1163.8,689.7L1163.8,689.8L1165.6,689.8L1165.6,689.4L1167.5,689.4L1167.5,689.7L1167.5,688.9L1169.4,688.9L1169.4,689.0L1169.4,689.3L1171.2,689.3L1171.2,688.7L1173.1,688.7L1173.1,688.9L1175.0,688.9L1175.0,688.8L1175.0,689.0L1176.8,689.0L1176.8,688.5L1178.7,688.5L1178.7,688.6L1178.7,689.0L1180.6,689.0L1180.6,688.9L1180.6,690.0L1182.4,690.0L1182.4,690.3L1182.4,689.9L1184.3,689.9L1184.3,689.6L1184.3,689.7L1186.2,689.7L1186.2,689.9L1186.2,690.1L1188.0,690.1L1188.0,690.0L1188.0,689.6L1189.9,689.6L1189.9,689.6L1189.9,690.2L1191.8,690.2L1191.8,689.8L1193.6,689.8L1193.6,689.7L1193.6,690.5L1195.5,690.5L1195.5,690.1L1197.4,690.1L1197.4,690.0L1197.4,690.5L1199.2,690.5L1199.2,690.1L1199.2,689.8L1201.1,689.8L1201.1,690.1L1201.1,689.8L1203.0,689.8L1203.0,690.2L1203.0,689.7L1204.8,689.7L1204.8,689.2L1204.9,690.2L1206.7,690.2L1206.7,689.8L1208.6,689.9L1208.6,690.2L1208.6,689.7L1210.5,689.7L1210.5,690.0L1210.5,689.6L1212.3,689.6L1212.3,690.2L1214.2,690.2L1214.2,690.1L1214.2,689.9L1216.1,689.9L1216.1,689.6L1216.1,689.9L1217.9,689.9L1217.9,689.8L1217.9,690.0L1219.8,690.0L1219.8,689.8L1221.7,689.8L1221.7,690.1L1221.7,689.3L1223.5,689.3L1223.5,689.7L1223.5,689.6L1225.4,689.6L1225.4,689.8L1225.4,690.1L1227.3,690.1L1227.3,690.2L1227.3,690.4L1229.1,690.4L1229.1,690.1L1231.0,690.1L1231.0,689.8L1232.9,689.8L1232.9,689.6L1232.9,689.9L1234.7,689.9L1234.7,690.2L1236.6,690.2L1236.6,689.7L1236.6,690.7L1238.5,690.7L1238.5,690.0L1240.3,690.0L1240.3,689.7L1240.3,690.0L1242.2,690.0L1242.2,689.8L1242.2,690.0L1244.1,690.0L1244.1,689.7L1244.1,690.2L1245.9,690.2L1245.9,690.0L1245.9,689.8L1247.8,689.8L1247.8,689.6L1247.8,689.7L1249.7,689.7L1249.7,689.6L1249.7,689.8L1251.5,689.8L1251.5,689.7L1253.4,689.7L1253.4,689.6L1255.3,689.6L1255.3,689.7L1255.3,690.0L1257.1,690.0L1257.1,690.4L1257.1,690.2L1259.0,690.2L1259.0,689.9L1259.0,689.6L1260.9,689.6L1260.9,690.2L1260.9,689.7L1262.7,689.7L1262.7,690.2L1264.6,690.2L1264.6,690.6L1266.5,690.6L1266.5,689.7L1268.3,689.7L1268.3,689.7L1268.3,689.6L1270.2,689.6L1270.2,689.8L1270.2,690.9L1272.1,690.9L1272.1,689.3L1273.9,689.3L1273.9,689.4L1273.9,688.9L1275.8,688.9L1275.8,689.2L1275.8,690.4L1277.7,690.4L1277.7,690.6L1277.7,690.1L1279.5,690.1L1279.5,689.8L1279.5,690.2L1281.4,690.2L1281.4,690.0L1281.4,689.6L1283.3,689.6L1283.3,690.1L1283.3,689.9L1285.1,689.9L1285.1,690.2L1287.0,690.2L1287.0,689.3L1288.9,689.3L1288.9,689.0L1288.9,689.9L1290.7,689.9L1290.7,689.7L1290.7,690.5L1292.6,690.5L1292.6,690.1L1292.6,689.4L1294.5,689.4L1294.5,689.6L1296.3,689.6L1296.3,690.2L1296.4,689.8L1298.2,689.8L1298.2,690.2L1298.2,690.0L1300.1,690.0L1300.1,690.6L1302.0,690.6L1302.0,690.5L1302.0,690.8L1303.8,690.8L1303.8,689.9L1305.7,689.9L1305.7,690.2L1305.7,690.1L1307.6,690.1L1307.6,690.1L1307.6,689.9L1309.4,689.9L1309.4,689.7L1311.3,689.6L1311.3,689.3L1311.3,689.9L1313.2,689.9L1313.2,690.2L1315.0,690.2L1315.0,690.1L1316.9,690.1L1316.9,689.7L1316.9,690.8L1318.8,690.8L1318.8,691.0L1318.8,689.7L1320.6,689.7L1320.6,689.9L1322.5,689.9L1322.5,690.2L1322.5,689.6L1324.4,689.6L1324.4,689.8L1324.4,689.9L1326.2,689.9L1326.2,690.2L1326.2,690.2L1328.1,690.2L1328.1,689.7L1328.1,689.8L1330.0,689.8L1330.0,689.7L1330.0,690.2L1331.8,690.2L1331.8,690.1L1331.8,689.7L1333.7,689.7L1333.7,690.3L1333.7,690.0L1335.6,690.0L1335.6,689.6L1335.6,689.0L1337.4,689.0L1337.4,688.8L1337.4,689.6L1339.3,689.6" stroke="#0072BD"/>
<path d="M801.5,714.0L803.4,714.0L803.4,713.4L803.4,713.6L805.2,713.6L805.2,714.6L805.2,713.1L807.1,713.1L807.1,714.3L807.1,722.4L809.0,722.4L809.0,721.8L809.0,721.6L810.8,721.6L810.8,721.1L810.8,718.5L812.7,718.5L812.7,713.8L814.6,713.8L814.6,719.7L816.4,719.7L816.4,719.3L816.4,713.1L818.3,713.1L818.3,712.5L818.3,713.6L820.2,713.6L820.2,714.2L820.2,713.9L822.0,713.9L822.0,713.5L822.0,714.0L823.9,714.0L823.9,713.6L823.9,718.6L825.8,718.6L825.8,713.2L827.6,713.2L827.6,713.6L827.6,722.3L829.5,722.3L829.5,722.1L829.5,714.0L831.4,714.0L831.4,714.1L831.4,714.2L833.2,714.2L833.2,714.3L833.2,720.0L835.1,720.0L835.1,719.2L835.1,713.7L837.0,713.7L837.0,713.6L837.0,713.1L838.8,713.1L838.8,713.5L838.8,714.1L840.7,714.1L840.7,713.9L840.7,712.9L842.6,712.9L842.6,713.7L842.6,704.7L844.4,704.7L844.4,720.0L844.4,713.8L846.3,713.8L846.3,713.6L846.3,714.3L848.2,714.3L848.2,713.4L848.2,713.9L850.1,713.9L850.1,713.7L850.1,713.9L851.9,713.9L851.9,713.2L851.9,722.4L853.8,722.4L853.8,722.1L853.8,723.5L855.7,723.5L855.7,722.8L855.7,712.9L857.5,712.9L857.5,713.3L857.5,714.2L859.4,714.2L859.4,713.3L859.4,713.7L861.3,713.7L861.3,713.6L863.1,713.6L863.1,714.1L863.1,712.8L865.0,712.8L865.0,712.5L865.0,714.1L866.9,714.1L866.9,713.5L866.9,723.5L868.7,723.5L868.7,747.2L868.7,712.5L870.6,712.5L870.6,712.7L870.6,714.0L872.5,714.0L872.5,714.4L872.5,713.4L874.3,713.4L874.3,712.9L874.3,721.4L876.2,721.4L876.2,721.7L876.2,702.1L878.1,702.1L878.1,718.4L878.1,724.7L879.9,724.7L879.9,723.9L879.9,720.1L881.8,720.1L881.8,720.0L881.8,713.1L883.7,713.1L883.7,713.8L883.7,722.1L885.5,722.1L885.5,708.3L885.5,713.8L887.4,713.8L887.4,712.8L887.4,713.5L889.3,713.5L889.3,712.8L889.3,713.9L891.1,713.9L891.1,713.6L891.1,712.9L893.0,712.9L893.0,713.4L893.0,714.5L894.9,714.5L894.9,713.8L894.9,719.7L896.7,719.7L896.7,719.8L896.7,722.1L898.6,722.1L898.6,722.3L898.6,713.8L900.5,713.8L900.5,714.2L900.5,721.1L902.3,721.1L902.3,721.8L902.3,713.0L904.2,713.0L904.2,713.4L904.2,713.5L906.1,713.5L906.1,713.4L906.1,714.0L907.9,714.0L907.9,713.8L907.9,714.6L909.8,714.6L909.8,714.4L909.8,713.4L911.7,713.4L911.7,713.9L913.5,713.9L913.5,713.1L913.5,713.5L915.4,713.5L915.4,713.1L915.4,723.5L917.3,723.5L917.3,718.4L919.1,718.4L919.1,718.6L919.1,718.8L921.0,718.8L921.0,719.3L921.0,714.6L922.9,714.6L922.9,714.5L922.9,719.6L924.7,719.6L924.7,719.0L924.7,721.3L926.6,721.3L926.6,720.8L926.6,725.3L928.5,725.3L928.5,725.1L928.5,713.9L930.3,713.9L930.3,714.0L930.3,706.1L932.2,706.1L932.2,705.2L932.2,714.5L934.1,714.5L934.1,713.7L934.1,713.2L935.9,713.2L935.9,712.9L935.9,713.7L937.8,713.7L937.8,713.6L937.8,718.7L939.7,718.7L939.7,719.0L939.7,714.1L941.6,714.1L941.6,713.4L941.6,714.4L943.4,714.4L943.4,714.3L943.4,725.9L945.3,725.9L945.3,726.4L945.3,714.2L947.2,714.2L947.2,714.4L947.2,713.6L949.0,713.6L949.0,713.1L950.9,713.1L950.9,713.3L952.8,713.3L952.8,713.1L954.6,713.1L954.6,695.8L954.6,713.1L956.5,713.1L956.5,713.8L956.5,712.7L958.4,712.7L958.4,713.8L958.4,713.8L960.2,713.8L960.2,713.4L960.2,713.6L962.1,713.6L962.1,702.5L962.1,713.4L964.0,713.4L964.0,713.6L964.0,713.8L965.8,713.8L965.8,713.7L965.8,713.1L967.7,713.1L967.7,713.2L967.7,712.5L969.6,712.5L969.6,713.3L969.6,712.6L971.4,712.6L971.4,712.5L971.4,709.9L973.3,709.9L973.3,710.4L973.3,707.5L975.2,707.5L975.2,708.0L975.2,707.1L977.0,707.1L977.0,707.3L977.0,704.4L977.4,704.4L992.0,600.0L996.5,625.5L998.7,624.6L1000.9,627.1L1003.2,617.2L1005.4,624.5L1007.7,615.3L1009.9,617.4L1012.1,621.1L1014.4,625.2L1016.6,624.3L1018.9,622.6L1021.1,624.9L1023.3,625.8L1025.6,626.7L1027.8,632.6L1030.1,635.2L1032.3,636.0L1034.5,629.8L1036.8,634.9L1039.0,635.5L1041.3,634.2L1043.5,635.6L1045.8,636.1L1048.0,632.8L1050.2,634.3L1052.5,636.1L1054.7,636.4L1057.0,636.7L1059.2,637.0L1061.4,636.0L1063.7,639.2L1065.9,639.4L1068.2,639.4L1070.4,639.5L1072.6,640.6L1074.9,640.6L1077.1,636.2L1079.4,639.2L1081.6,637.9L1083.8,637.3L1086.1,634.2L1088.3,635.7L1090.6,632.7L1092.8,632.4L1095.0,637.1L1097.3,636.7L1099.5,636.2L1101.8,635.7L1104.0,636.6L1106.3,636.0L1108.5,635.4L1110.7,634.8L1113.0,629.4L1115.2,628.7L1117.5,627.8L1119.7,630.3L1121.9,628.0L1124.2,625.2L1126.4,626.1L1128.7,627.8L1130.9,626.8L1133.1,624.7L1135.4,626.1L1137.6,621.0L1139.9,616.3L1142.1,615.1L1157.8,713.8L1158.2,713.8L1158.2,715.8L1160.0,715.8L1160.0,715.0L1160.0,716.0L1161.9,716.0L1161.9,715.6L1161.9,711.5L1163.8,711.5L1163.8,711.1L1163.8,711.0L1165.6,711.0L1165.6,711.1L1165.6,709.7L1167.5,709.7L1167.5,708.9L1167.5,702.5L1169.4,702.5L1169.4,702.8L1169.4,703.8L1171.2,703.8L1171.2,683.6L1171.2,698.7L1173.1,698.7L1173.1,698.3L1173.1,697.0L1175.0,697.0L1175.0,697.8L1175.0,698.4L1176.8,698.4L1176.8,698.5L1176.8,697.1L1178.7,697.1L1178.7,698.3L1178.7,698.7L1180.6,698.7L1180.6,697.8L1180.6,716.0L1182.4,716.0L1182.4,715.9L1182.4,714.2L1184.3,714.2L1184.3,713.4L1184.3,713.5L1186.2,713.5L1186.2,712.8L1186.2,714.2L1188.0,714.2L1188.0,713.8L1188.0,713.5L1189.9,713.5L1189.9,713.2L1189.9,713.8L1191.8,713.8L1191.8,713.5L1191.8,714.3L1193.6,714.3L1193.6,713.5L1193.6,717.8L1195.5,717.8L1195.5,718.2L1195.5,713.4L1197.4,713.4L1197.4,714.3L1197.4,718.5L1199.2,718.5L1199.2,718.8L1199.2,712.7L1201.1,712.7L1201.1,713.6L1201.1,713.4L1203.0,713.4L1203.0,713.2L1203.0,706.2L1204.8,706.2L1204.9,714.1L1206.7,714.1L1206.7,714.3L1206.7,713.6L1208.6,713.6L1208.6,713.3L1208.6,701.9L1210.5,701.9L1210.5,713.0L1210.5,714.4L1212.3,714.4L1212.3,713.6L1212.3,713.8L1214.2,713.8L1214.2,713.2L1214.2,714.5L1216.1,714.5L1216.1,714.2L1216.1,713.3L1217.9,713.3L1217.9,714.1L1217.9,714.0L1219.8,714.0L1219.8,714.1L1221.7,714.1L1221.7,707.8L1223.5,707.8L1223.5,707.5L1223.5,714.3L1225.4,714.3L1225.4,713.9L1225.4,720.6L1227.3,720.6L1227.3,720.7L1227.3,722.5L1229.1,722.5L1229.1,722.2L1229.1,713.2L1231.0,713.2L1231.0,712.9L1231.0,713.6L1232.9,713.6L1232.9,713.3L1232.9,713.5L1234.7,713.5L1234.7,713.3L1234.7,712.6L1236.6,712.6L1236.6,712.5L1236.6,724.4L1238.5,724.4L1238.5,724.1L1238.5,714.0L1240.3,714.0L1240.3,713.7L1240.3,712.6L1242.2,712.6L1242.2,713.4L1242.2,713.7L1244.1,713.7L1244.1,712.9L1244.1,714.3L1245.9,714.3L1245.9,713.9L1245.9,736.8L1247.8,736.8L1247.8,713.7L1247.8,713.6L1249.7,713.6L1249.7,712.7L1249.7,713.9L1251.5,713.9L1251.5,713.8L1251.5,713.9L1253.4,713.9L1255.3,713.9L1255.3,713.5L1255.3,719.3L1257.1,719.3L1257.1,718.3L1257.1,713.5L1259.0,713.5L1259.0,714.1L1260.9,714.1L1260.9,713.0L1262.7,713.0L1262.7,713.2L1262.7,714.1L1264.6,714.1L1264.6,713.5L1264.6,724.7L1266.5,724.7L1266.5,724.6L1266.5,713.5L1268.3,713.5L1268.3,713.7L1268.3,712.8L1270.2,712.8L1270.2,713.0L1270.2,724.4L1272.1,724.4L1272.1,723.9L1272.1,708.1L1273.9,708.1L1273.9,708.4L1273.9,702.5L1275.8,702.5L1275.8,703.5L1275.8,724.4L1277.7,724.4L1277.7,724.6L1277.7,714.2L1279.5,714.2L1279.5,714.1L1279.5,714.2L1281.4,714.2L1281.4,713.1L1283.3,713.1L1283.3,713.4L1283.3,712.9L1285.1,712.9L1285.1,713.0L1285.1,719.3L1287.0,719.3L1287.0,719.0L1287.0,702.4L1288.9,702.4L1288.9,702.3L1288.9,713.4L1290.7,713.4L1290.7,713.9L1290.7,718.3L1292.6,718.3L1292.6,718.7L1292.6,703.4L1294.5,703.4L1294.5,703.7L1294.5,713.3L1296.3,713.3L1296.3,713.5L1296.4,714.1L1298.2,714.1L1298.2,713.6L1298.2,714.1L1300.1,714.1L1300.1,713.1L1300.1,725.9L1302.0,725.9L1302.0,725.5L1302.0,726.4L1303.8,726.4L1303.8,726.2L1303.8,713.7L1305.7,713.7L1305.7,713.8L1305.7,713.7L1307.6,713.7L1307.6,713.8L1307.6,713.1L1309.4,713.1L1309.4,713.8L1309.4,707.2L1311.3,707.2L1311.3,706.6L1311.3,726.8L1313.2,726.8L1313.2,714.1L1313.2,713.5L1315.0,713.5L1315.0,714.5L1315.0,713.1L1316.9,713.1L1316.9,712.9L1316.9,725.1L1318.8,725.1L1318.8,725.1L1318.8,712.7L1320.6,712.7L1320.6,712.8L1320.6,713.8L1322.5,713.8L1322.5,713.6L1322.5,713.5L1324.4,713.5L1324.4,714.1L1324.4,717.3L1326.2,717.3L1326.2,713.3L1328.1,713.3L1328.1,713.4L1328.1,714.4L1330.0,714.4L1330.0,714.3L1330.0,713.9L1331.8,713.9L1331.8,713.7L1331.8,714.7L1333.7,714.7L1333.7,713.8L1333.7,712.8L1335.6,712.8L1335.6,713.3L1335.6,702.1L1337.4,702.1L1337.4,701.7L1337.4,713.6L1339.3,713.6L1339.3,712.8" stroke="#D95319"/>
<path d="M801.5,719.0L803.4,719.0L803.4,719.7L803.4,719.9L805.2,719.9L805.2,719.7L805.2,718.5L807.1,718.5L807.1,728.1L809.0,728.1L809.0,728.7L809.0,727.3L810.8,727.3L810.8,727.7L810.8,724.5L812.7,724.5L812.7,724.3L812.7,718.6L814.6,718.6L814.6,719.1L814.6,725.8L816.4,725.8L816.4,724.8L816.4,718.6L818.3,718.6L818.3,718.7L818.3,718.6L820.2,718.6L820.2,718.4L820.2,719.8L822.0,719.8L822.0,738.2L822.0,719.3L823.9,719.3L823.9,719.0L823.9,724.4L825.8,724.4L825.8,724.1L825.8,718.8L827.6,718.8L827.6,717.9L827.6,728.1L829.5,728.1L829.5,729.1L829.5,718.8L831.4,718.8L833.2,718.8L833.2,725.4L835.1,725.4L835.1,725.1L835.1,718.4L837.0,718.4L837.0,719.5L837.0,718.8L838.8,718.8L838.8,718.5L838.8,719.2L840.7,719.2L840.7,740.6L840.7,718.6L842.6,718.6L842.6,718.0L842.6,707.8L844.4,707.8L844.4,709.0L844.4,718.7L846.3,718.7L846.3,718.9L846.3,718.5L848.2,718.5L848.2,719.1L850.1,719.1L850.1,718.7L850.1,717.9L851.9,717.9L851.9,718.0L851.9,728.0L853.8,728.0L853.8,728.1L853.8,730.0L855.7,730.0L855.7,729.1L855.7,718.4L857.5,718.4L857.5,718.8L857.5,718.9L859.4,718.9L859.4,718.6L859.4,718.3L861.3,718.3L861.3,718.3L861.3,719.5L863.1,719.5L863.1,718.9L863.1,717.7L865.0,717.7L865.0,718.5L865.0,718.3L866.9,718.3L866.9,718.2L866.9,729.3L868.7,729.3L868.7,730.3L868.7,718.8L870.6,718.8L870.6,718.6L870.6,719.5L872.5,719.5L872.5,719.2L872.5,732.5L874.3,732.5L874.3,718.6L874.3,727.9L876.2,727.9L876.2,727.0L876.2,724.4L878.1,724.4L878.1,724.9L878.1,730.2L879.9,730.2L879.9,730.0L879.9,725.1L881.8,725.1L881.8,726.1L881.8,718.0L883.7,718.0L883.7,718.2L883.7,727.3L885.5,727.3L885.5,727.0L885.5,718.9L887.4,718.9L887.4,718.4L887.4,718.8L889.3,718.8L889.3,718.0L889.3,718.6L891.1,718.6L891.1,719.0L891.1,718.6L893.0,718.6L893.0,718.0L893.0,718.8L894.9,718.8L894.9,718.5L894.9,725.0L896.7,725.0L896.7,726.2L896.7,728.1L898.6,728.1L898.6,727.6L898.6,719.6L900.5,719.6L900.5,719.0L900.5,727.4L902.3,727.4L902.3,727.5L902.3,718.4L904.2,718.4L904.2,718.7L904.2,718.3L906.1,718.3L906.1,718.1L907.9,718.1L907.9,718.0L907.9,719.0L909.8,719.0L909.8,719.6L909.8,718.8L911.7,718.8L911.7,718.0L911.7,718.9L913.5,718.9L913.5,718.7L915.4,718.8L915.4,729.8L917.3,729.8L917.3,728.7L917.3,724.1L919.1,724.1L919.1,724.2L919.1,735.9L921.0,735.9L921.0,724.5L921.0,719.9L922.9,719.9L922.9,719.2L922.9,724.8L924.7,724.8L924.7,725.0L924.7,727.2L926.6,727.2L926.6,727.3L926.6,730.8L928.5,730.8L928.5,731.7L928.5,719.5L930.3,719.5L930.3,719.8L930.3,710.4L932.2,710.4L932.2,710.3L932.2,719.9L934.1,719.9L934.1,719.4L934.1,706.3L935.9,706.3L935.9,717.9L935.9,719.0L937.8,719.0L937.8,719.4L937.8,724.0L939.7,724.0L939.7,725.0L939.7,719.5L941.6,719.5L941.6,719.0L941.6,719.4L943.4,719.4L943.4,719.1L943.4,732.0L945.3,732.0L945.3,719.3L947.2,719.3L947.2,719.1L947.2,719.6L949.0,719.6L949.0,719.4L949.0,717.7L950.9,717.7L950.9,718.0L950.9,719.0L952.8,719.0L952.8,719.1L952.8,719.6L954.6,719.6L954.6,718.8L954.6,718.2L956.5,718.2L956.5,719.0L956.5,693.2L958.4,693.2L958.4,718.7L958.4,719.7L960.2,719.7L960.2,718.5L962.1,718.5L962.1,718.6L962.1,718.5L964.0,718.5L964.0,718.9L964.0,718.5L965.8,718.5L965.8,718.1L965.8,718.3L967.7,718.3L967.7,717.8L967.7,717.9L969.6,717.9L969.6,717.2L971.4,717.2L971.4,717.5L971.4,714.9L973.3,714.9L973.3,715.5L973.3,712.5L975.2,712.5L975.2,712.6L975.2,712.7L977.0,712.7L977.0,711.6L977.0,709.3L978.5,709.3L990.9,590.0L996.5,603.7L998.7,603.4L1000.9,610.5L1003.2,609.4L1005.4,613.9L1007.7,607.2L1009.9,618.8L1012.1,622.5L1014.4,623.1L1016.6,620.6L1018.9,623.2L1021.1,624.2L1023.3,625.2L1025.6,626.3L1027.8,627.2L1030.1,628.0L1032.3,628.7L1034.5,629.5L1036.8,631.0L1039.0,625.9L1041.3,632.3L1043.5,626.3L1045.8,633.0L1048.0,633.5L1050.2,633.9L1052.5,634.2L1054.7,630.2L1057.0,633.9L1059.2,634.1L1061.4,634.3L1063.7,628.6L1065.9,628.7L1068.2,628.8L1070.4,628.8L1072.6,631.9L1074.9,631.8L1077.1,633.7L1079.4,634.2L1081.6,629.0L1083.8,633.2L1086.1,632.9L1088.3,632.0L1090.6,631.7L1092.8,630.3L1095.0,632.1L1097.3,631.6L1099.5,629.9L1101.8,627.4L1104.0,626.8L1106.3,624.2L1108.5,631.0L1110.7,630.4L1113.0,626.8L1115.2,626.4L1117.5,625.3L1119.7,624.5L1121.9,624.0L1124.2,623.1L1126.4,619.9L1128.7,619.0L1130.9,617.9L1133.1,616.1L1135.4,620.9L1137.6,619.8L1139.9,618.6L1142.1,614.9L1143.2,610.7L1154.4,700.0L1158.9,720.1L1160.0,720.1L1160.0,720.6L1161.9,720.6L1161.9,720.3L1161.9,716.0L1163.8,716.0L1163.8,716.6L1163.8,715.5L1165.6,715.5L1165.6,715.6L1165.6,714.8L1167.5,714.8L1167.5,714.0L1167.5,707.3L1169.4,707.3L1169.4,707.9L1171.2,707.9L1171.2,708.1L1171.2,702.4L1173.1,702.4L1173.1,702.4L1173.1,701.1L1175.0,701.1L1175.0,701.6L1175.0,702.1L1176.8,702.1L1176.8,703.0L1176.8,701.1L1178.7,701.1L1178.7,701.8L1178.7,702.2L1180.6,702.2L1180.6,701.7L1180.6,722.4L1182.4,722.4L1182.4,722.5L1182.4,718.3L1184.3,718.3L1184.3,718.8L1186.2,718.9L1186.2,718.1L1186.2,718.6L1188.0,718.6L1188.0,719.5L1188.0,718.3L1189.9,718.3L1189.9,718.0L1189.9,718.5L1191.8,718.5L1191.8,719.4L1191.8,719.7L1193.6,719.7L1193.6,719.5L1193.6,724.5L1195.5,724.5L1195.5,724.2L1195.5,719.1L1197.4,719.1L1197.4,719.5L1197.4,724.9L1199.2,724.9L1199.2,724.8L1199.2,718.7L1201.1,718.7L1201.1,718.0L1201.1,719.7L1203.0,719.7L1203.0,718.9L1203.0,710.2L1204.8,710.2L1204.8,710.9L1204.9,719.7L1206.7,719.7L1206.7,719.2L1206.7,718.9L1208.6,718.9L1208.6,718.5L1208.6,699.5L1210.5,699.5L1210.5,718.0L1210.5,719.4L1212.3,719.4L1212.3,718.9L1212.3,719.3L1214.2,719.3L1214.2,719.0L1214.2,718.8L1216.1,718.8L1216.1,719.3L1216.1,718.8L1217.9,718.8L1217.9,719.2L1217.9,718.9L1219.8,718.9L1219.8,734.2L1219.8,719.4L1221.7,719.4L1221.7,719.7L1221.7,712.2L1223.5,712.2L1223.5,712.4L1223.5,719.5L1225.4,719.5L1225.4,718.7L1225.4,726.4L1227.3,726.4L1227.3,728.4L1229.1,728.4L1229.1,728.6L1229.1,717.9L1231.0,717.9L1231.0,718.9L1231.0,718.7L1232.9,718.7L1232.9,719.1L1232.9,718.6L1234.7,718.6L1234.7,719.1L1234.7,718.0L1236.6,718.0L1236.6,718.6L1236.6,729.5L1238.5,729.5L1238.5,730.0L1238.5,718.9L1240.3,718.9L1240.3,717.7L1242.2,717.7L1242.2,718.3L1242.2,718.5L1244.1,718.5L1244.1,718.6L1244.1,719.0L1245.9,719.0L1245.9,718.8L1247.8,718.8L1247.8,718.4L1247.8,719.0L1249.7,719.0L1249.7,719.1L1249.7,718.3L1251.5,718.3L1251.5,719.1L1251.5,718.8L1253.4,718.8L1253.4,718.2L1253.4,718.6L1255.3,718.6L1255.3,725.3L1257.1,725.3L1257.1,748.1L1257.1,718.6L1259.0,718.6L1259.0,719.7L1259.0,718.3L1260.9,718.3L1260.9,718.2L1260.9,718.8L1262.7,718.8L1262.7,718.8L1262.7,719.1L1264.6,719.1L1264.6,718.4L1264.6,731.0L1266.5,731.0L1266.5,730.7L1266.5,719.3L1268.3,719.3L1268.3,718.3L1268.3,718.1L1270.2,718.1L1270.2,718.6L1270.2,730.7L1272.1,730.7L1272.1,730.6L1272.1,712.0L1273.9,712.0L1273.9,713.0L1273.9,707.7L1275.8,707.7L1275.8,707.4L1275.8,730.1L1277.7,730.1L1277.7,729.7L1277.7,718.6L1279.5,718.6L1279.5,718.8L1279.5,718.5L1281.4,718.5L1281.4,718.8L1281.4,718.7L1283.3,718.7L1283.3,717.8L1283.3,719.1L1285.1,719.1L1285.1,718.5L1285.1,724.6L1287.0,724.6L1287.0,724.2L1287.0,707.0L1288.9,707.0L1288.9,707.3L1288.9,719.3L1290.7,719.3L1290.7,719.0L1290.7,724.3L1292.6,724.3L1292.6,724.5L1292.6,707.7L1294.5,707.7L1294.5,718.9L1296.3,718.9L1296.3,718.7L1296.4,719.4L1298.2,719.4L1298.2,719.4L1298.2,718.4L1300.1,718.4L1300.1,718.7L1300.1,732.1L1302.0,732.1L1302.0,731.3L1302.0,731.8L1303.8,731.8L1303.8,732.4L1303.8,733.5L1305.7,733.5L1305.7,719.7L1305.7,718.2L1307.6,718.2L1307.6,718.5L1307.6,719.5L1309.4,719.5L1309.4,718.7L1309.4,710.9L1311.3,710.9L1311.3,711.3L1311.3,719.8L1313.2,719.8L1315.0,719.8L1315.0,719.9L1315.0,718.5L1316.9,718.5L1316.9,717.8L1316.9,731.6L1318.8,731.6L1318.8,718.5L1320.6,718.5L1320.6,718.4L1320.6,718.8L1322.5,718.8L1322.5,718.7L1322.5,718.9L1324.4,718.9L1324.4,718.4L1324.4,723.0L1326.2,723.0L1326.2,723.7L1326.2,719.0L1328.1,719.0L1328.1,719.5L1330.0,719.4L1330.0,718.7L1330.0,719.7L1331.8,719.7L1331.8,718.7L1331.8,720.0L1333.7,720.0L1333.7,719.7L1333.7,718.0L1335.6,718.0L1335.6,718.9L1335.6,705.6L1337.4,705.6L1337.4,705.2L1337.4,718.6L1339.3,718.6L1339.3,717.8" stroke="#D95319"/>
<path d="M801.5,733.7L803.4,733.7L803.4,733.9L803.4,733.4L805.2,733.4L805.2,733.5L807.1,733.5L807.1,732.5L807.1,744.3L809.0,744.3L809.0,745.7L809.0,744.7L810.8,744.7L810.8,743.8L810.8,739.3L812.7,739.3L812.7,739.2L812.7,732.0L814.6,732.0L814.6,731.4L814.6,742.0L816.4,742.0L816.4,732.4L818.3,732.4L818.3,731.8L818.3,732.0L820.2,732.0L820.2,733.3L820.2,733.6L822.0,733.6L822.0,732.6L822.0,733.0L823.9,733.0L823.9,732.3L823.9,741.0L825.8,741.0L825.8,739.6L825.8,731.5L827.6,731.5L827.6,732.5L827.6,746.2L829.5,746.2L829.5,746.4L829.5,733.0L831.4,733.0L831.4,733.5L831.4,734.0L833.2,734.0L833.2,732.9L833.2,741.3L835.1,741.3L835.1,740.7L835.1,733.3L837.0,733.3L837.0,732.2L837.0,731.7L838.8,731.7L838.8,732.4L838.8,733.6L840.7,733.6L840.7,732.9L840.7,732.1L842.6,732.1L842.6,732.0L842.6,718.2L844.4,718.2L844.4,718.4L844.4,732.0L846.3,732.0L846.3,732.7L846.3,733.1L848.2,733.1L848.2,733.2L848.2,733.9L850.1,733.9L850.1,733.1L850.1,732.9L851.9,732.9L851.9,732.3L851.9,745.5L853.8,745.5L853.8,744.3L853.8,747.6L855.7,747.6L855.7,746.5L855.7,733.0L857.5,733.0L857.5,732.2L857.5,732.7L859.4,732.7L859.4,732.2L859.4,733.1L861.3,733.1L861.3,733.0L861.3,732.5L863.1,732.5L863.1,732.2L863.1,731.4L865.0,731.4L865.0,732.2L865.0,732.3L866.9,732.3L866.9,733.0L866.9,747.8L868.7,747.8L868.7,747.6L868.7,731.2L870.6,731.2L870.6,732.5L870.6,733.4L872.5,733.4L872.5,732.3L872.5,732.8L874.3,732.8L874.3,733.0L874.3,745.2L876.2,745.2L876.2,743.8L876.2,740.0L878.1,740.0L878.1,739.9L878.1,747.7L879.9,747.7L879.9,747.8L879.9,741.9L881.8,741.9L881.8,742.5L881.8,731.2L883.7,731.2L883.7,731.3L883.7,744.7L885.5,744.7L885.5,744.1L885.5,732.4L887.4,732.4L887.4,732.7L887.4,731.2L889.3,731.2L889.3,731.6L889.3,732.0L891.1,732.0L891.1,732.4L891.1,732.2L893.0,732.2L893.0,732.8L894.9,732.8L894.9,733.3L894.9,741.4L896.7,741.4L896.7,742.1L896.7,744.4L898.6,744.4L898.6,745.0L898.6,732.8L900.5,732.8L900.5,732.9L900.5,744.7L902.3,744.7L902.3,743.5L902.3,733.1L904.2,733.1L904.2,732.3L904.2,732.5L906.1,732.5L906.1,731.6L906.1,732.1L907.9,732.1L907.9,732.4L907.9,732.6L909.8,732.6L909.8,733.5L909.8,731.9L911.7,731.9L911.7,732.3L911.7,732.8L913.5,732.8L913.5,732.0L913.5,733.0L915.4,733.0L915.4,732.3L915.4,746.6L917.3,746.6L917.3,746.9L917.3,740.4L919.1,740.4L919.1,739.5L919.1,740.5L921.0,740.5L921.0,740.3L921.0,733.4L922.9,733.4L922.9,740.3L924.7,740.3L924.7,740.2L924.7,743.3L926.6,743.3L926.6,743.7L926.6,749.5L928.5,749.5L928.5,749.9L928.5,732.9L930.3,732.9L930.3,733.7L930.3,720.7L932.2,720.7L932.2,720.8L932.2,733.9L934.1,733.9L934.1,733.9L934.1,732.0L935.9,732.0L935.9,732.4L935.9,733.1L937.8,733.1L937.8,732.3L937.8,740.5L939.7,740.5L939.7,739.5L939.7,733.5L941.6,733.5L941.6,732.4L941.6,733.2L943.4,733.2L943.4,732.6L943.4,750.1L945.3,750.1L945.3,750.5L945.3,733.9L947.2,733.9L947.2,733.5L947.2,733.7L949.0,733.7L949.0,733.3L949.0,732.5L950.9,732.5L950.9,732.0L950.9,732.4L952.8,732.4L952.8,732.8L952.8,732.1L954.6,732.1L954.6,732.7L956.5,732.7L956.5,732.4L956.5,731.7L958.4,731.7L958.4,731.9L958.4,732.5L960.2,732.5L960.2,732.6L960.2,731.3L962.1,731.3L962.1,731.1L962.1,732.6L964.0,732.6L964.0,731.6L964.0,732.0L965.8,732.0L965.8,732.2L965.8,731.6L967.7,731.6L967.7,731.4L967.7,732.2L969.6,732.2L969.6,731.6L969.6,730.2L971.4,730.2L971.4,730.9L971.4,727.1L973.3,727.1L973.3,727.8L973.3,724.8L975.2,724.8L975.2,724.5L975.2,724.1L977.0,724.1L977.0,723.1L977.0,719.7L978.5,719.7L996.5,598.3L998.7,604.2L1000.9,598.0L1003.2,602.6L1005.4,599.2L1007.7,604.5L1009.9,606.1L1012.1,607.6L1014.4,607.8L1016.6,608.4L1018.9,606.1L1021.1,610.4L1023.3,606.7L1025.6,607.4L1027.8,608.0L1030.1,612.8L1032.3,613.4L1034.5,614.0L1036.8,611.6L1039.0,613.1L1041.3,613.6L1043.5,611.2L1045.8,611.6L1048.0,612.0L1050.2,612.3L1052.5,617.8L1054.7,618.0L1057.0,618.2L1059.2,618.4L1061.4,613.9L1063.7,614.0L1065.9,616.4L1068.2,615.7L1070.4,617.5L1072.6,620.0L1074.9,616.9L1077.1,614.2L1079.4,616.8L1081.6,618.9L1083.8,618.8L1086.1,615.7L1088.3,615.5L1090.6,615.2L1092.8,615.3L1095.0,615.5L1097.3,617.8L1099.5,617.5L1101.8,613.5L1104.0,613.1L1106.3,614.8L1108.5,615.3L1110.7,614.8L1113.0,614.2L1115.2,607.4L1117.5,606.8L1119.7,612.8L1121.9,612.1L1124.2,605.6L1126.4,606.7L1128.7,603.9L1130.9,602.8L1133.1,607.5L1135.4,606.6L1137.6,605.6L1139.9,604.7L1142.1,603.9L1144.3,602.9L1160.0,734.9L1161.9,734.9L1161.9,736.2L1161.9,728.9L1163.8,728.9L1163.8,727.3L1165.6,727.3L1165.6,727.7L1165.6,727.3L1167.5,727.3L1167.5,726.1L1167.5,717.1L1169.4,717.1L1169.4,717.6L1169.4,717.8L1171.2,717.8L1171.2,710.0L1173.1,710.0L1173.1,709.1L1173.1,709.8L1175.0,709.8L1175.0,709.2L1175.0,710.1L1176.8,710.1L1176.8,711.2L1176.8,709.0L1178.7,709.0L1178.7,708.4L1178.7,709.9L1180.6,709.9L1180.6,709.2L1180.6,736.8L1182.4,736.8L1182.4,736.7L1182.4,732.6L1184.3,732.6L1184.3,733.4L1184.3,731.9L1186.2,731.9L1186.2,732.4L1186.2,733.1L1188.0,733.1L1188.0,732.3L1188.0,731.5L1189.9,731.5L1189.9,732.8L1191.8,732.8L1191.8,732.3L1191.8,733.5L1193.6,733.5L1193.6,732.9L1193.6,740.1L1195.5,740.1L1195.5,739.7L1195.5,733.1L1197.4,733.1L1197.4,733.8L1197.4,739.2L1199.2,739.2L1199.2,740.6L1199.2,732.5L1201.1,732.5L1201.1,731.9L1201.1,733.7L1203.0,733.7L1203.0,732.2L1203.0,720.9L1204.8,720.9L1204.8,722.4L1204.9,732.4L1206.7,732.4L1206.7,732.7L1206.7,732.8L1208.6,732.8L1208.6,732.9L1208.6,732.1L1210.5,732.1L1210.5,732.3L1210.5,733.8L1212.3,733.8L1212.3,732.2L1212.3,732.6L1214.2,732.6L1214.2,733.7L1214.2,734.1L1216.1,734.1L1216.1,733.3L1216.1,733.1L1217.9,733.1L1217.9,732.8L1217.9,732.5L1219.8,732.5L1219.8,733.1L1219.8,733.2L1221.7,733.2L1221.7,724.3L1223.5,724.3L1223.5,732.6L1225.4,732.6L1225.4,732.5L1225.4,743.1L1227.3,743.1L1227.3,742.1L1227.3,746.2L1229.1,746.2L1229.1,746.4L1229.1,732.2L1231.0,732.2L1231.0,732.1L1232.9,732.1L1232.9,732.0L1232.9,733.3L1234.7,733.3L1234.7,732.3L1234.7,731.9L1236.6,731.9L1236.6,732.0L1236.6,748.6L1238.5,748.6L1238.5,747.6L1238.5,732.8L1240.3,732.8L1240.3,733.4L1240.3,732.0L1242.2,732.0L1242.2,732.3L1242.2,732.8L1244.1,732.8L1244.1,731.6L1244.1,733.4L1245.9,733.4L1245.9,733.7L1245.9,732.2L1247.8,732.2L1247.8,732.7L1247.8,731.4L1249.7,731.4L1249.7,731.9L1249.7,733.1L1251.5,733.1L1251.5,732.7L1251.5,731.8L1253.4,731.8L1253.4,732.5L1253.4,732.3L1255.3,732.3L1255.3,740.1L1257.1,740.1L1257.1,740.5L1257.1,733.5L1259.0,733.5L1259.0,732.9L1259.0,731.7L1260.9,731.7L1260.9,732.5L1260.9,732.7L1262.7,732.7L1262.7,733.1L1262.7,732.9L1264.6,732.9L1264.6,733.2L1264.6,748.6L1266.5,748.6L1266.5,733.0L1268.3,733.0L1268.3,732.0L1270.2,732.0L1270.2,732.2L1270.2,748.0L1272.1,748.0L1272.1,747.7L1272.1,724.5L1273.9,724.5L1273.9,723.9L1273.9,717.3L1275.8,717.3L1275.8,716.9L1275.8,747.8L1277.7,747.8L1277.7,747.9L1277.7,732.9L1279.5,732.9L1279.5,733.4L1281.4,733.4L1281.4,732.1L1281.4,732.2L1283.3,732.2L1283.3,731.9L1283.3,733.0L1285.1,733.0L1285.1,732.5L1285.1,740.6L1287.0,740.6L1287.0,740.8L1287.0,716.0L1288.9,716.0L1288.9,716.8L1288.9,732.0L1290.7,732.0L1290.7,732.8L1290.7,739.4L1292.6,739.4L1292.6,739.9L1292.6,716.8L1294.5,716.8L1294.5,717.4L1294.5,733.1L1296.3,733.1L1296.3,732.7L1296.4,732.4L1298.2,732.4L1298.2,733.1L1298.2,732.2L1300.1,732.2L1300.1,732.6L1300.1,749.1L1302.0,749.1L1302.0,749.8L1302.0,750.2L1303.8,750.2L1303.8,751.6L1303.8,732.6L1305.7,732.6L1305.7,733.1L1305.7,732.8L1307.6,732.8L1307.6,732.5L1307.6,732.8L1309.4,732.8L1309.4,733.3L1309.4,722.2L1311.3,722.2L1311.3,722.5L1311.3,732.6L1313.2,732.6L1313.2,733.1L1313.2,733.3L1315.0,733.3L1315.0,732.8L1315.0,731.3L1316.9,731.3L1316.9,732.1L1316.9,748.4L1318.8,748.4L1318.8,748.9L1318.8,731.9L1320.6,731.9L1320.6,732.7L1320.6,733.3L1322.5,733.3L1322.5,733.7L1322.5,732.0L1324.4,732.0L1324.4,732.3L1324.4,739.3L1326.2,739.3L1326.2,738.0L1326.2,732.4L1328.1,732.4L1328.1,733.4L1328.1,733.2L1330.0,733.2L1330.0,732.6L1331.8,732.6L1331.8,733.1L1333.7,733.1L1333.7,733.2L1333.7,731.5L1335.6,731.5L1335.6,732.5L1335.6,714.9L1337.4,714.9L1337.4,715.6L1337.4,731.5L1339.3,731.5L1339.3,731.4" stroke="#EDB120"/>
<path d="M801.5,756.6L803.4,756.6L803.4,738.9L803.4,738.8L805.2,738.8L805.2,738.5L807.1,738.5L807.1,739.3L807.1,750.7L809.0,750.7L809.0,749.7L809.0,750.0L810.8,750.0L810.8,748.7L810.8,745.9L812.7,745.9L812.7,745.1L812.7,737.8L814.6,737.8L814.6,737.8L814.6,746.4L816.4,746.4L816.4,763.2L816.4,737.7L818.3,737.7L818.3,737.5L818.3,739.1L820.2,739.1L820.2,739.7L822.0,739.7L822.0,739.4L823.9,739.4L823.9,739.2L823.9,760.9L825.8,760.9L825.8,746.4L825.8,737.9L827.6,737.9L827.6,738.5L827.6,750.2L829.5,750.2L829.5,750.3L829.5,738.3L831.4,738.3L831.4,738.5L831.4,738.8L833.2,738.8L833.2,739.6L833.2,747.4L835.1,747.4L835.1,746.9L835.1,738.5L837.0,738.5L837.0,739.4L837.0,739.1L838.8,739.1L838.8,738.2L838.8,739.6L840.7,739.6L840.7,738.6L842.6,738.6L842.6,737.9L842.6,726.0L844.4,726.0L844.4,726.5L844.4,754.9L846.3,754.9L846.3,737.8L846.3,738.6L848.2,738.6L848.2,739.0L848.2,738.6L850.1,738.6L850.1,738.8L850.1,737.8L851.9,737.8L851.9,738.6L851.9,749.3L853.8,749.3L853.8,749.2L853.8,752.0L855.7,752.0L855.7,752.3L855.7,739.3L857.5,739.3L857.5,738.1L857.5,738.7L859.4,738.7L859.4,738.3L859.4,738.3L861.3,738.3L861.3,738.9L861.3,738.3L863.1,738.3L863.1,739.1L863.1,738.6L865.0,738.6L865.0,738.9L865.0,738.2L866.9,738.2L866.9,738.6L866.9,752.1L868.7,752.1L868.7,752.8L868.7,737.8L870.6,737.8L870.6,737.7L870.6,739.5L872.5,739.5L872.5,739.3L872.5,738.4L874.3,738.4L874.3,738.0L874.3,748.8L876.2,748.8L876.2,749.2L876.2,745.4L878.1,745.4L878.1,745.1L878.1,752.4L879.9,752.4L879.9,753.7L879.9,746.9L881.8,746.9L881.8,746.8L881.8,737.8L883.7,737.8L883.7,749.3L885.5,749.3L885.5,749.1L885.5,737.6L887.4,737.6L887.4,738.2L887.4,738.7L889.3,738.7L889.3,738.0L889.3,738.8L891.1,738.8L891.1,738.7L891.1,738.9L893.0,738.9L893.0,737.6L893.0,739.7L894.9,739.7L894.9,739.5L894.9,747.6L896.7,747.6L896.7,747.1L896.7,750.5L898.6,750.5L898.6,764.7L898.6,739.7L900.5,739.7L900.5,739.2L900.5,749.8L902.3,749.8L902.3,749.8L902.3,738.0L904.2,738.0L904.2,739.1L906.1,739.1L906.1,738.3L906.1,747.6L907.9,747.6L907.9,738.0L907.9,739.4L909.8,739.4L909.8,739.6L909.8,749.0L911.7,749.0L911.7,739.1L911.7,738.7L913.5,738.7L913.5,737.8L913.5,739.3L915.4,739.3L915.4,739.7L915.4,751.2L917.3,751.2L917.3,751.2L917.3,745.7L919.1,745.7L919.1,744.5L919.1,745.6L921.0,745.6L921.0,746.5L921.0,739.4L922.9,739.4L922.9,739.0L922.9,745.8L924.7,745.8L924.7,746.7L924.7,748.0L926.6,748.0L926.6,748.9L926.6,753.9L928.5,753.9L928.5,754.8L928.5,738.6L930.3,738.6L930.3,728.7L932.2,728.7L932.2,729.1L932.2,739.6L934.1,739.6L934.1,738.9L934.1,737.7L935.9,737.7L935.9,738.5L935.9,739.4L937.8,739.4L937.8,738.2L937.8,745.2L939.7,745.2L939.7,744.8L939.7,739.6L941.6,739.6L941.6,739.1L941.6,739.5L943.4,739.5L943.4,738.6L943.4,754.7L945.3,754.7L945.3,754.5L945.3,738.7L947.2,738.7L947.2,739.0L949.0,739.0L949.0,740.1L949.0,737.9L950.9,737.9L950.9,738.9L950.9,738.6L952.8,738.6L952.8,738.8L952.8,739.2L954.6,739.2L954.6,739.6L954.6,738.6L956.5,738.6L956.5,738.6L956.5,738.8L958.4,738.8L958.4,738.8L958.4,738.7L960.2,738.7L960.2,739.1L960.2,737.8L962.1,737.8L962.1,738.1L964.0,738.1L964.0,738.8L964.0,738.6L965.8,738.6L965.8,739.1L965.8,738.0L967.7,738.0L967.7,738.0L967.7,738.0L969.6,738.0L969.6,737.2L969.6,736.4L971.4,736.4L971.4,736.6L971.4,734.9L973.3,734.9L973.3,734.3L973.3,731.5L975.2,731.5L975.2,731.4L975.2,731.1L977.0,731.1L977.0,731.0L977.0,726.9L978.9,726.9L978.9,726.2L978.9,722.8L979.6,722.8L989.7,503.0L994.2,520.0L998.7,590.0L1002.1,503.0L1006.5,573.2L1009.9,503.0L1014.4,641.4L1018.9,601.2L1021.1,599.8L1023.3,603.6L1025.6,600.4L1027.8,606.5L1030.1,607.0L1032.3,607.5L1034.5,607.9L1036.8,607.2L1039.0,605.8L1041.3,604.6L1043.5,603.4L1045.8,603.1L1048.0,603.3L1050.2,610.5L1052.5,607.7L1054.7,607.9L1057.0,604.7L1059.2,607.1L1061.4,603.9L1063.7,604.0L1065.9,604.1L1068.2,610.2L1070.4,611.9L1072.6,611.3L1074.9,604.0L1077.1,603.9L1079.4,610.6L1081.6,606.9L1083.8,605.6L1086.1,605.4L1088.3,605.2L1090.6,603.9L1092.8,603.6L1095.0,603.4L1097.3,603.1L1099.5,602.7L1101.8,604.8L1104.0,603.9L1106.3,607.8L1108.5,606.0L1110.7,605.1L1113.0,604.6L1115.2,604.1L1117.5,605.0L1119.7,605.3L1121.9,604.7L1124.2,599.8L1126.4,601.1L1128.7,600.4L1130.9,599.8L1133.1,601.4L1135.4,600.7L1137.6,599.9L1139.9,599.1L1142.1,598.3L1144.3,593.7L1162.3,735.3L1163.8,735.3L1163.8,735.0L1165.6,735.0L1165.6,735.3L1165.6,733.6L1167.5,733.6L1167.5,733.7L1167.5,724.1L1169.4,724.1L1169.4,724.2L1169.4,725.0L1171.2,725.0L1171.2,725.8L1171.2,718.8L1173.1,718.8L1173.1,717.9L1173.1,717.1L1175.0,717.1L1175.0,717.0L1175.0,719.1L1176.8,719.1L1176.8,719.2L1176.8,717.8L1178.7,717.8L1178.7,728.4L1178.7,718.7L1180.6,718.7L1180.6,718.1L1180.6,742.8L1182.4,742.8L1182.4,756.2L1182.4,739.3L1184.3,739.3L1184.3,739.1L1184.3,737.8L1186.2,737.8L1186.2,738.3L1186.2,738.5L1188.0,738.5L1188.0,738.8L1188.0,738.1L1189.9,738.1L1189.9,739.1L1189.9,738.9L1191.8,738.9L1191.8,739.1L1191.8,738.8L1193.6,738.8L1193.6,739.6L1193.6,745.2L1195.5,745.2L1195.5,745.8L1195.5,739.1L1197.4,739.1L1197.4,738.7L1197.4,745.7L1199.2,745.7L1199.2,745.1L1199.2,738.3L1201.1,738.3L1201.1,737.6L1201.1,739.2L1203.0,739.2L1203.0,738.4L1203.0,729.2L1204.8,729.2L1204.8,728.3L1204.9,738.9L1206.7,738.9L1206.7,739.3L1206.7,739.4L1208.6,739.4L1208.6,739.1L1208.6,738.7L1210.5,738.7L1210.5,738.4L1210.5,739.7L1212.3,739.7L1212.3,738.4L1212.3,738.6L1214.2,738.6L1214.2,739.4L1214.2,740.0L1216.1,740.0L1216.1,739.5L1216.1,739.4L1217.9,739.4L1217.9,739.3L1217.9,739.7L1219.8,739.7L1219.8,739.4L1219.8,739.0L1221.7,739.0L1221.7,739.1L1221.7,731.4L1223.5,731.4L1223.5,731.5L1223.5,739.4L1225.4,739.4L1225.4,739.3L1225.4,748.1L1227.3,748.1L1227.3,747.1L1227.3,750.8L1229.1,750.8L1229.1,751.5L1229.1,738.3L1231.0,738.3L1231.0,738.0L1231.0,738.3L1232.9,738.3L1232.9,738.7L1232.9,738.3L1234.7,738.3L1234.7,738.9L1234.7,738.3L1236.6,738.3L1236.6,737.8L1236.6,752.5L1238.5,752.5L1238.5,752.1L1238.5,740.2L1240.3,740.2L1240.3,738.8L1240.3,737.7L1242.2,737.7L1242.2,738.8L1242.2,738.8L1244.1,738.8L1244.1,739.1L1244.1,739.7L1245.9,739.7L1245.9,738.3L1247.8,738.3L1247.8,760.4L1247.8,738.6L1249.7,738.6L1249.7,738.5L1249.7,738.1L1251.5,738.1L1251.5,739.0L1253.4,739.0L1253.4,738.4L1253.4,739.4L1255.3,739.4L1255.3,739.3L1255.3,746.3L1257.1,746.3L1257.1,746.0L1257.1,739.6L1259.0,739.6L1259.0,739.1L1259.0,738.6L1260.9,738.6L1260.9,738.8L1260.9,738.9L1262.7,738.9L1262.7,738.3L1262.7,739.1L1264.6,739.1L1264.6,739.3L1264.6,753.9L1266.5,753.9L1266.5,753.7L1266.5,738.2L1268.3,738.2L1268.3,739.3L1268.3,739.0L1270.2,739.0L1270.2,752.7L1272.1,752.7L1272.1,752.3L1272.1,730.9L1273.9,730.9L1273.9,731.0L1273.9,725.3L1275.8,725.3L1275.8,724.0L1275.8,752.8L1277.7,752.8L1277.7,752.1L1277.7,739.0L1279.5,739.0L1279.5,738.8L1281.4,738.8L1281.4,738.4L1281.4,737.9L1283.3,737.9L1283.3,738.0L1285.1,738.0L1285.1,738.2L1285.1,745.5L1287.0,745.5L1287.0,746.3L1287.0,724.2L1288.9,724.2L1288.9,724.3L1288.9,738.3L1290.7,738.3L1290.7,738.5L1290.7,744.5L1292.6,744.5L1292.6,745.3L1292.6,724.9L1294.5,724.9L1294.5,743.8L1294.5,737.8L1296.3,737.8L1296.3,738.0L1296.4,738.8L1298.2,738.8L1298.2,739.3L1298.2,738.9L1300.1,738.9L1300.1,739.1L1300.1,754.6L1302.0,754.6L1302.0,754.1L1302.0,755.9L1303.8,755.9L1303.8,755.7L1303.8,739.6L1305.7,739.6L1305.7,739.2L1305.7,737.7L1307.6,737.7L1307.6,738.3L1307.6,738.1L1309.4,738.1L1309.4,738.7L1309.4,730.1L1311.3,730.1L1311.3,739.3L1313.2,739.3L1313.2,739.8L1315.0,739.8L1315.0,738.8L1315.0,737.7L1316.9,737.7L1316.9,738.0L1316.9,753.0L1318.8,753.0L1318.8,753.1L1318.8,737.6L1320.6,737.6L1320.6,737.7L1320.6,738.8L1322.5,738.8L1322.5,739.2L1322.5,738.9L1324.4,738.9L1324.4,739.0L1324.4,744.9L1326.2,744.9L1326.2,744.7L1326.2,738.1L1328.1,738.1L1328.1,757.2L1328.1,738.5L1330.0,738.5L1330.0,739.3L1331.8,739.3L1331.8,739.4L1331.8,739.2L1333.7,739.2L1333.7,739.4L1333.7,738.5L1335.6,738.5L1335.6,738.2L1335.6,723.3L1337.4,723.3L1337.4,722.1L1337.4,738.4L1339.3,738.4L1339.3,738.3" stroke="#7E2F8E"/>
<path d="M801.5,750.0L803.4,750.0L803.4,750.2L803.4,752.0L805.2,752.0L805.2,750.9L805.2,750.9L807.1,750.9L807.1,750.4L807.1,770.7L809.0,770.7L809.0,769.1L809.0,769.1L810.8,769.1L810.8,799.3L810.8,741.4L812.7,741.4L812.7,718.5L812.7,748.5L814.6,748.5L814.6,749.2L814.6,764.5L816.4,764.5L816.4,765.4L816.4,747.9L818.3,747.9L818.3,747.7L818.3,749.3L820.2,749.3L820.2,751.3L820.2,751.7L822.0,751.7L822.0,751.0L822.0,750.3L823.9,750.3L823.9,761.7L825.8,761.7L825.8,763.4L825.8,749.0L827.6,749.0L827.6,749.5L827.6,772.4L829.5,772.4L829.5,771.0L829.5,750.3L831.4,750.3L831.4,749.9L831.4,750.1L833.2,750.1L833.2,752.0L833.2,763.2L835.1,763.2L835.1,763.9L835.1,750.6L837.0,750.6L837.0,749.7L837.0,750.5L838.8,750.5L838.8,750.8L838.8,749.5L840.7,749.5L840.7,750.8L840.7,727.9L842.6,727.9L842.6,749.1L842.6,728.5L844.4,728.5L844.4,742.0L844.4,748.5L846.3,748.5L846.3,748.6L846.3,749.4L848.2,749.4L848.2,750.3L848.2,710.7L850.1,710.7L850.1,751.3L850.1,732.1L851.9,732.1L851.9,749.7L851.9,770.6L853.8,770.6L853.8,749.5L853.8,773.6L855.7,773.6L855.7,774.4L855.7,750.4L857.5,750.4L857.5,721.3L857.5,750.3L859.4,750.3L859.4,748.9L861.3,748.9L861.3,750.7L861.3,749.8L863.1,749.8L863.1,749.6L863.1,747.8L865.0,747.8L865.0,749.0L865.0,748.7L866.9,748.7L866.9,749.1L866.9,773.9L868.7,773.9L868.7,774.1L868.7,749.5L870.6,749.5L870.6,749.7L870.6,750.8L872.5,750.8L872.5,750.7L872.5,750.2L874.3,750.2L874.3,750.5L874.3,768.8L876.2,768.8L876.2,769.0L876.2,762.1L878.1,762.1L878.1,726.5L878.1,775.4L879.9,775.4L879.9,810.0L879.9,766.0L881.8,766.0L881.8,764.8L881.8,749.4L883.7,749.4L883.7,749.3L883.7,769.2L885.5,769.2L885.5,769.1L885.5,748.7L887.4,748.7L887.4,779.4L887.4,748.1L889.3,748.1L889.3,749.0L889.3,749.3L891.1,749.3L891.1,750.1L891.1,748.0L893.0,748.0L893.0,748.4L893.0,750.8L894.9,750.8L894.9,718.6L894.9,765.4L896.7,765.4L896.7,764.5L896.7,770.6L898.6,770.6L898.6,769.6L898.6,751.5L900.5,751.5L900.5,749.5L900.5,798.2L902.3,798.2L902.3,767.4L902.3,750.5L904.2,750.5L904.2,750.8L904.2,748.6L906.1,748.6L906.1,749.2L906.1,750.0L907.9,750.0L907.9,749.0L907.9,751.9L909.8,751.9L909.8,751.0L909.8,749.9L911.7,749.9L911.7,750.1L911.7,748.8L913.5,748.8L913.5,748.3L913.5,751.0L915.4,751.0L915.4,750.8L915.4,773.4L917.3,773.4L917.3,773.1L917.3,761.5L919.1,761.5L919.1,718.6L919.1,763.5L921.0,763.5L921.0,750.0L922.9,750.0L922.9,751.6L922.9,762.5L924.7,762.5L924.7,746.1L924.7,790.9L926.6,790.9L926.6,766.9L926.6,816.3L928.5,816.3L928.5,777.2L928.5,750.2L930.3,750.2L930.3,750.0L930.3,732.4L932.2,732.4L932.2,731.7L932.2,751.9L934.1,751.9L934.1,750.4L934.1,747.7L935.9,747.7L935.9,749.0L935.9,751.2L937.8,751.2L937.8,749.6L937.8,761.0L939.7,761.0L939.7,763.1L939.7,750.5L941.6,750.5L941.6,750.0L941.6,750.3L943.4,750.3L943.4,751.2L943.4,778.7L945.3,778.7L945.3,780.1L945.3,751.6L947.2,751.6L947.2,752.0L947.2,751.9L949.0,751.9L949.0,751.4L949.0,749.8L950.9,749.8L950.9,747.7L950.9,748.5L952.8,748.5L952.8,749.9L952.8,751.4L954.6,751.4L954.6,748.5L956.5,748.5L956.5,750.3L956.5,749.0L958.4,749.0L958.4,750.2L958.4,751.4L960.2,751.4L960.2,751.0L960.2,748.6L962.1,748.6L962.1,748.4L962.1,750.3L964.0,750.3L964.0,749.3L964.0,749.6L965.8,749.6L965.8,750.2L965.8,748.6L967.7,748.6L967.7,749.8L967.7,747.9L969.6,747.9L969.6,749.1L969.6,746.9L971.4,746.9L971.4,745.8L971.4,742.8L973.3,742.8L973.3,743.4L973.3,735.4L975.2,735.4L975.2,737.1L975.2,735.0L977.0,735.0L977.0,735.6L977.0,727.2L978.9,727.2L978.9,690.2L978.9,721.6L979.6,721.6L990.9,560.0L995.3,600.0L998.7,640.0L1003.2,607.7L1005.4,604.5L1007.7,604.0L1009.9,613.8L1012.1,611.5L1014.4,608.7L1016.6,609.1L1018.9,615.4L1021.1,616.7L1023.3,617.6L1025.6,616.8L1027.8,621.6L1030.1,622.4L1032.3,623.9L1034.5,619.1L1036.8,619.1L1039.0,622.8L1041.3,626.5L1043.5,623.9L1045.8,624.4L1048.0,625.7L1050.2,625.7L1052.5,626.4L1054.7,628.3L1057.0,625.0L1059.2,625.3L1061.4,621.6L1063.7,629.7L1065.9,622.8L1068.2,623.6L1070.4,626.4L1072.6,626.4L1074.9,627.1L1077.1,627.0L1079.4,625.4L1081.6,625.2L1083.8,623.2L1086.1,624.3L1088.3,624.0L1090.6,623.7L1092.8,622.3L1095.0,619.7L1097.3,619.2L1099.5,620.4L1101.8,624.9L1104.0,624.4L1106.3,620.3L1108.5,619.7L1110.7,618.9L1113.0,623.3L1115.2,617.9L1117.5,617.2L1119.7,616.0L1121.9,614.7L1124.2,613.8L1126.4,613.3L1128.7,609.4L1130.9,613.1L1133.1,614.8L1135.4,610.8L1137.6,611.8L1139.9,608.6L1142.1,607.5L1161.2,727.9L1161.9,727.9L1161.9,745.7L1163.8,745.7L1163.8,745.4L1163.8,743.5L1165.6,743.5L1165.6,741.5L1165.6,740.1L1167.5,740.1L1167.5,739.9L1167.5,724.9L1169.4,724.9L1169.4,725.0L1169.4,726.6L1171.2,726.6L1171.2,726.3L1171.2,712.2L1173.1,712.2L1173.1,712.7L1173.1,712.8L1175.0,712.8L1175.0,712.7L1175.0,715.5L1176.8,715.5L1176.8,679.5L1176.8,738.7L1178.7,738.7L1178.7,712.9L1178.7,713.0L1180.6,713.0L1180.6,713.7L1180.6,757.3L1182.4,757.3L1182.4,724.2L1182.4,750.6L1184.3,750.6L1184.3,750.9L1184.3,749.1L1186.2,749.1L1186.2,749.7L1186.2,750.4L1188.0,750.4L1188.0,776.7L1188.0,749.9L1189.9,749.9L1189.9,749.1L1189.9,749.9L1191.8,749.9L1191.8,750.7L1191.8,750.6L1193.6,750.6L1193.6,751.7L1193.6,761.8L1195.5,761.8L1195.5,711.3L1197.4,711.3L1197.4,751.1L1197.4,734.8L1199.2,734.8L1199.2,761.6L1199.2,749.6L1201.1,749.6L1201.1,749.4L1201.1,749.7L1203.0,749.7L1203.0,750.3L1203.0,732.4L1204.8,732.4L1204.8,731.3L1204.9,749.9L1206.7,749.9L1206.7,750.9L1206.7,750.5L1208.6,750.5L1208.6,750.1L1208.6,748.7L1210.5,748.7L1210.5,749.0L1210.5,751.3L1212.3,751.3L1212.3,750.6L1212.3,750.3L1214.2,750.3L1214.2,749.4L1214.2,751.7L1216.1,751.7L1216.1,751.8L1216.1,748.9L1217.9,748.9L1217.9,713.4L1217.9,750.8L1219.8,750.8L1219.8,750.5L1221.7,750.5L1221.7,751.1L1221.7,736.3L1223.5,736.3L1223.5,750.0L1225.4,750.0L1225.4,750.2L1225.4,766.8L1227.3,766.8L1227.3,767.1L1227.3,772.8L1229.1,772.8L1229.1,770.8L1229.1,748.3L1231.0,748.3L1231.0,748.6L1232.9,748.7L1232.9,750.4L1232.9,751.1L1234.7,751.1L1234.7,750.0L1234.7,747.7L1236.6,747.7L1236.6,748.5L1236.6,775.3L1238.5,775.3L1238.5,742.2L1238.5,750.7L1240.3,750.7L1240.3,750.1L1240.3,749.7L1242.2,749.7L1242.2,748.6L1242.2,748.5L1244.1,748.5L1244.1,749.6L1244.1,749.9L1245.9,749.9L1245.9,751.6L1245.9,749.0L1247.8,749.0L1247.8,749.4L1247.8,748.2L1249.7,748.2L1249.7,749.6L1249.7,748.8L1251.5,748.8L1251.5,749.8L1251.5,749.3L1253.4,749.3L1253.4,748.5L1253.4,751.4L1255.3,751.4L1255.3,749.7L1255.3,761.8L1257.1,761.8L1257.1,761.7L1257.1,750.1L1259.0,750.1L1259.0,751.6L1259.0,749.0L1260.9,749.0L1260.9,750.3L1260.9,749.4L1262.7,749.4L1262.7,777.5L1262.7,749.3L1264.6,749.3L1264.6,749.5L1264.6,775.8L1266.5,775.8L1266.5,776.6L1266.5,781.0L1268.3,781.0L1268.3,750.8L1268.3,750.0L1270.2,750.0L1270.2,749.0L1270.2,773.9L1272.1,773.9L1272.1,774.4L1272.1,735.5L1273.9,735.5L1273.9,735.2L1273.9,724.1L1275.8,724.1L1275.8,723.9L1275.8,774.4L1277.7,774.4L1277.7,773.7L1277.7,749.3L1279.5,749.3L1279.5,749.7L1279.5,751.1L1281.4,751.1L1281.4,749.9L1281.4,749.4L1283.3,749.4L1283.3,749.0L1283.3,750.5L1285.1,750.5L1285.1,750.1L1285.1,761.9L1287.0,761.9L1287.0,763.7L1287.0,724.3L1288.9,724.3L1288.9,725.6L1288.9,750.0L1290.7,750.0L1290.7,749.7L1290.7,761.4L1292.6,761.4L1292.6,760.3L1292.6,724.6L1294.5,724.6L1294.5,725.9L1294.5,748.5L1296.3,748.5L1296.3,749.8L1296.4,749.9L1298.2,749.9L1298.2,750.2L1298.2,749.7L1300.1,749.7L1300.1,749.2L1300.1,778.0L1302.0,778.0L1302.0,778.8L1302.0,779.1L1303.8,779.1L1303.8,779.6L1303.8,752.3L1305.7,752.3L1305.7,750.7L1305.7,748.4L1307.6,748.4L1307.6,749.1L1307.6,750.8L1309.4,750.8L1309.4,749.2L1309.4,733.9L1311.3,733.9L1311.3,734.5L1311.3,750.6L1313.2,750.6L1313.2,770.5L1313.2,751.0L1315.0,751.0L1315.0,750.9L1315.0,749.9L1316.9,749.9L1316.9,793.6L1318.8,793.6L1318.8,775.5L1318.8,749.2L1320.6,749.2L1320.6,748.0L1320.6,751.4L1322.5,751.4L1322.5,749.8L1322.5,750.7L1324.4,750.7L1324.4,750.8L1324.4,759.6L1326.2,759.6L1326.2,761.1L1326.2,749.4L1328.1,749.4L1328.1,751.1L1328.1,750.7L1330.0,750.7L1330.0,751.6L1330.0,750.5L1331.8,750.5L1331.8,751.0L1331.8,751.2L1333.7,751.2L1333.7,750.7L1333.7,750.1L1335.6,750.1L1335.6,748.9L1335.6,720.4L1337.4,720.4L1337.4,720.8L1337.4,779.4L1339.3,779.4L1339.3,748.1" stroke="#D95319"/>
<path d="M801.5,757.9L803.4,757.9L803.4,760.2L803.4,758.3L805.2,758.3L805.2,759.9L805.2,757.6L807.1,757.6L807.1,759.2L807.1,781.2L809.0,781.2L809.0,780.5L809.0,778.7L810.8,778.7L810.8,779.6L810.8,771.6L812.7,771.6L812.7,771.2L812.7,757.0L814.6,757.0L814.6,780.6L814.6,773.6L816.4,773.6L816.4,773.4L816.4,756.6L818.3,756.6L818.3,757.1L818.3,759.1L820.2,759.1L820.2,758.7L820.2,759.8L822.0,759.8L822.0,760.0L822.0,757.5L823.9,757.5L823.9,759.6L823.9,771.8L825.8,771.8L825.8,772.4L825.8,758.3L827.6,758.3L827.6,758.2L827.6,783.0L829.5,783.0L829.5,782.4L829.5,759.0L831.4,759.0L831.4,757.9L831.4,759.1L833.2,759.1L833.2,759.3L833.2,773.0L835.1,773.0L835.1,773.1L835.1,757.1L837.0,757.1L837.0,758.6L837.0,758.1L838.8,758.1L838.8,758.0L838.8,758.1L840.7,758.1L840.7,758.9L840.7,758.1L842.6,758.1L842.6,757.3L842.6,733.6L844.4,733.6L844.4,732.2L844.4,755.9L846.3,755.9L846.3,756.3L846.3,758.5L848.2,758.5L848.2,759.2L848.2,759.7L850.1,759.7L850.1,758.6L850.1,758.4L851.9,758.4L851.9,756.6L851.9,778.9L853.8,778.9L853.8,780.3L853.8,782.5L855.7,782.5L855.7,783.8L855.7,776.8L857.5,776.8L857.5,759.0L857.5,758.2L859.4,758.2L859.4,758.1L859.4,758.2L861.3,758.2L861.3,757.9L861.3,759.3L863.1,759.3L863.1,758.0L863.1,756.0L865.0,756.0L865.0,758.6L866.9,758.6L866.9,756.8L866.9,785.0L868.7,785.0L868.7,756.0L870.6,756.0L870.6,755.6L870.6,757.6L872.5,757.6L872.5,759.0L872.5,758.2L874.3,758.2L874.3,779.2L876.2,779.2L876.2,778.8L876.2,772.7L878.1,772.7L878.1,770.5L878.1,786.3L879.9,786.3L879.9,785.2L879.9,774.5L881.8,774.5L881.8,773.9L881.8,755.8L883.7,755.8L883.7,776.0L883.7,779.1L885.5,779.1L885.5,778.0L885.5,756.7L887.4,756.7L887.4,756.9L887.4,756.8L889.3,756.8L889.3,757.3L891.1,757.3L891.1,757.1L891.1,757.2L893.0,757.2L893.0,756.5L893.0,758.1L894.9,758.1L894.9,759.2L894.9,775.3L896.7,775.3L896.7,773.7L896.7,778.9L898.6,778.9L898.6,780.7L898.6,759.4L900.5,759.4L900.5,758.7L900.5,779.2L902.3,779.2L902.3,778.7L902.3,758.8L904.2,758.8L904.2,756.6L906.1,756.7L906.1,756.5L906.1,779.0L907.9,779.0L907.9,757.5L907.9,758.8L909.8,758.8L909.8,759.9L909.8,757.7L911.7,757.7L911.7,757.0L911.7,758.1L913.5,758.1L913.5,757.1L913.5,758.3L915.4,758.3L915.4,758.8L915.4,793.8L917.3,793.8L917.3,782.2L917.3,770.2L919.1,770.2L919.1,771.2L919.1,771.8L921.0,771.8L921.0,772.6L921.0,759.7L922.9,759.7L922.9,759.2L922.9,772.0L924.7,772.0L924.7,772.2L924.7,777.7L926.6,777.7L926.6,777.9L926.6,788.4L928.5,788.4L928.5,787.4L928.5,757.8L930.3,757.8L930.3,759.0L930.3,736.6L932.2,736.6L932.2,737.2L932.2,757.9L934.1,757.9L934.1,760.0L934.1,756.4L935.9,756.4L935.9,757.8L935.9,757.9L937.8,757.9L937.8,757.0L937.8,771.3L939.7,771.3L939.7,771.2L939.7,757.7L941.6,757.7L941.6,779.7L941.6,759.2L943.4,759.2L943.4,758.6L943.4,790.4L945.3,790.4L945.3,789.4L945.3,759.2L947.2,759.2L947.2,758.1L947.2,760.3L949.0,760.3L949.0,759.4L949.0,756.4L950.9,756.4L950.9,757.8L950.9,757.7L952.8,757.7L952.8,758.5L952.8,757.4L954.6,757.4L954.6,759.1L954.6,757.5L956.5,757.5L956.5,758.2L956.5,757.8L958.4,757.8L958.4,756.6L958.4,758.6L960.2,758.6L960.2,759.6L960.2,755.5L962.1,755.5L962.1,756.9L962.1,757.3L964.0,757.3L964.0,758.2L964.0,758.2L965.8,758.2L965.8,758.2L965.8,757.4L967.7,757.4L967.7,756.5L967.7,756.0L969.6,756.0L969.6,756.1L969.6,754.3L971.4,754.3L971.4,754.1L971.4,749.8L973.3,749.8L973.3,750.8L973.3,743.9L975.2,743.9L975.2,743.3L975.2,743.1L977.0,743.1L977.0,741.0L977.0,734.7L978.5,734.7L988.6,503.0L993.1,503.0L998.7,580.0L1004.3,503.0L1008.8,610.8L1012.1,503.0L1016.6,628.7L1021.1,585.4L1023.3,583.8L1025.6,579.1L1027.8,577.0L1030.1,575.9L1032.3,574.6L1034.5,576.1L1036.8,575.0L1039.0,573.9L1041.3,572.1L1043.5,573.5L1045.8,572.6L1048.0,571.8L1050.2,568.3L1052.5,569.8L1054.7,569.2L1057.0,565.7L1059.2,570.3L1061.4,568.5L1063.7,565.7L1065.9,565.8L1068.2,565.7L1070.4,568.1L1072.6,568.1L1074.9,568.2L1077.1,569.3L1079.4,563.1L1081.6,563.3L1083.8,563.7L1086.1,564.0L1088.3,568.9L1090.6,567.5L1092.8,568.0L1095.0,571.6L1097.3,567.9L1099.5,572.4L1101.8,571.1L1104.0,572.1L1106.3,572.9L1108.5,574.4L1110.7,575.2L1113.0,576.1L1115.2,577.6L1117.5,578.4L1119.7,578.8L1121.9,579.9L1124.2,582.0L1126.4,582.0L1128.7,583.7L1130.9,581.4L1133.1,586.5L1135.4,583.9L1137.6,585.3L1152.2,537.0L1156.7,600.0L1162.3,750.0L1164.5,750.6L1165.6,750.6L1165.6,746.1L1167.5,746.1L1167.5,748.3L1167.5,730.4L1169.4,730.4L1169.4,741.2L1169.4,731.0L1171.2,731.0L1171.2,732.4L1171.2,729.4L1173.1,729.4L1173.1,718.8L1173.1,717.2L1175.0,717.2L1175.0,715.7L1175.0,718.5L1176.8,718.5L1176.8,717.8L1176.8,715.9L1178.7,715.9L1178.7,715.3L1178.7,717.1L1180.6,717.1L1180.6,716.8L1180.6,766.0L1182.4,766.0L1182.4,766.8L1182.4,757.8L1184.3,757.8L1184.3,757.4L1184.3,769.0L1186.2,769.0L1186.2,756.9L1186.2,759.1L1188.0,759.1L1188.0,758.6L1188.0,757.2L1189.9,757.2L1189.9,757.0L1189.9,758.5L1191.8,758.5L1191.8,758.9L1191.8,759.9L1193.6,759.9L1193.6,760.4L1193.6,770.8L1195.5,770.8L1195.5,769.6L1195.5,757.9L1197.4,757.9L1197.4,758.0L1197.4,770.3L1199.2,770.3L1199.2,757.8L1201.1,757.8L1201.1,756.4L1201.1,757.7L1203.0,757.7L1203.0,759.7L1203.0,738.3L1204.8,738.3L1204.8,737.5L1204.9,759.5L1206.7,759.5L1206.7,758.7L1206.7,759.3L1208.6,759.3L1208.6,758.7L1208.6,756.9L1210.5,756.9L1210.5,757.2L1210.5,758.4L1212.3,758.4L1212.3,759.8L1212.3,758.1L1214.2,758.1L1214.2,759.0L1214.2,760.5L1216.1,760.5L1216.1,759.9L1216.1,758.8L1217.9,758.8L1217.9,757.6L1217.9,758.5L1219.8,758.5L1219.8,759.7L1219.8,758.8L1221.7,758.8L1221.7,758.9L1221.7,743.3L1223.5,743.3L1223.5,742.6L1223.5,760.0L1225.4,760.0L1225.4,758.1L1225.4,775.2L1227.3,775.2L1227.3,776.2L1227.3,782.5L1229.1,782.5L1229.1,781.4L1229.1,757.7L1231.0,757.7L1231.0,757.4L1231.0,757.6L1232.9,757.6L1232.9,757.9L1232.9,757.4L1234.7,757.4L1234.7,757.3L1234.7,755.5L1236.6,755.5L1236.6,755.8L1236.6,785.6L1238.5,785.6L1238.5,785.8L1238.5,759.0L1240.3,759.0L1240.3,759.6L1240.3,758.0L1242.2,758.0L1242.2,756.0L1242.2,756.9L1244.1,756.9L1244.1,758.4L1244.1,759.6L1245.9,759.6L1245.9,758.6L1245.9,757.4L1247.8,757.4L1247.8,775.9L1247.8,758.2L1249.7,758.2L1249.7,756.4L1249.7,757.5L1251.5,757.5L1251.5,770.1L1251.5,756.5L1253.4,756.5L1253.4,756.8L1253.4,757.6L1255.3,757.6L1255.3,759.4L1255.3,779.0L1257.1,779.0L1257.1,771.6L1257.1,758.2L1259.0,758.2L1259.0,758.4L1259.0,758.6L1260.9,758.6L1260.9,759.0L1260.9,757.3L1262.7,757.3L1262.7,758.0L1262.7,756.8L1264.6,756.8L1264.6,785.7L1266.5,785.7L1266.5,786.8L1266.5,759.1L1268.3,759.1L1268.3,759.0L1268.3,757.0L1270.2,757.0L1270.2,756.4L1270.2,785.8L1272.1,785.8L1272.1,785.0L1272.1,742.2L1273.9,742.2L1273.9,743.0L1273.9,729.2L1275.8,729.2L1275.8,729.1L1275.8,784.2L1277.7,784.2L1277.7,799.3L1277.7,757.1L1279.5,757.1L1279.5,758.1L1279.5,757.7L1281.4,757.7L1281.4,757.9L1281.4,775.1L1283.3,775.1L1283.3,756.7L1283.3,756.4L1285.1,756.4L1285.1,757.8L1285.1,771.5L1287.0,771.5L1287.0,772.0L1287.0,729.6L1288.9,729.6L1288.9,729.1L1288.9,756.8L1290.7,756.8L1290.7,758.9L1290.7,771.3L1292.6,771.3L1292.6,769.2L1292.6,731.0L1294.5,731.0L1294.5,732.0L1294.5,756.7L1296.3,756.7L1296.3,758.3L1298.2,758.3L1298.2,758.6L1298.2,758.4L1300.1,758.4L1300.1,758.0L1300.1,789.3L1302.0,789.3L1302.0,808.8L1303.8,808.8L1303.8,791.6L1303.8,759.8L1305.7,759.8L1305.7,781.1L1305.7,757.0L1307.6,757.0L1307.6,756.0L1307.6,758.4L1309.4,758.4L1309.4,759.0L1309.4,740.8L1311.3,740.8L1311.3,739.6L1311.3,757.7L1313.2,757.7L1313.2,759.9L1313.2,759.1L1315.0,759.1L1315.0,773.2L1315.0,756.4L1316.9,756.4L1316.9,757.1L1316.9,786.2L1318.8,786.2L1318.8,787.9L1318.8,757.6L1320.6,757.6L1320.6,757.3L1320.6,757.6L1322.5,757.6L1322.5,759.6L1322.5,757.7L1324.4,757.7L1324.4,759.0L1324.4,768.0L1326.2,768.0L1326.2,769.3L1326.2,758.6L1328.1,758.6L1328.1,757.6L1328.1,759.3L1330.0,759.3L1330.0,757.9L1330.0,758.3L1331.8,758.3L1331.8,759.6L1331.8,760.0L1333.7,760.0L1333.7,758.6L1333.7,756.2L1335.6,756.2L1335.6,757.5L1335.6,727.3L1337.4,727.3L1337.4,727.1L1337.4,756.7L1339.3,756.7L1339.3,757.8" stroke="#7E2F8E"/>
<path d="M801.5,766.6L803.4,766.6L803.4,767.4L803.4,765.3L805.2,765.3L805.2,766.7L805.2,765.7L807.1,765.7L807.1,765.9L807.1,791.3L809.0,791.3L809.0,790.6L809.0,787.4L810.8,787.4L810.8,787.9L810.8,778.8L812.7,778.8L812.7,763.6L814.6,763.6L814.6,763.1L814.6,782.6L816.4,782.6L816.4,784.0L816.4,763.1L818.3,763.1L818.3,764.2L818.3,766.2L820.2,766.2L820.2,765.3L820.2,765.7L822.0,765.7L822.0,765.8L822.0,766.1L823.9,766.1L823.9,766.0L823.9,779.3L825.8,779.3L825.8,780.8L825.8,764.9L827.6,764.9L827.6,764.4L827.6,793.2L829.5,793.2L829.5,792.4L829.5,766.4L831.4,766.4L831.4,765.5L831.4,767.2L833.2,767.2L833.2,766.2L833.2,782.4L835.1,782.4L835.1,782.3L835.1,764.5L837.0,764.5L837.0,765.4L837.0,763.8L838.8,763.8L838.8,766.2L838.8,764.8L840.7,764.8L840.7,763.8L842.6,763.8L842.6,764.8L842.6,736.9L844.4,736.9L844.4,737.6L844.4,764.6L846.3,764.6L846.3,763.7L846.3,766.0L848.2,766.0L848.2,766.7L848.2,766.5L850.1,766.5L850.1,767.6L850.1,765.2L851.9,765.2L851.9,764.7L851.9,788.5L853.8,788.5L853.8,789.0L853.8,795.5L855.7,795.5L855.7,795.2L855.7,765.7L857.5,765.7L857.5,765.9L857.5,766.9L859.4,766.9L859.4,765.1L859.4,765.7L861.3,765.7L861.3,765.3L861.3,764.2L863.1,764.2L863.1,765.5L863.1,762.6L865.0,762.6L865.0,763.4L865.0,764.9L866.9,764.9L866.9,764.3L866.9,795.0L868.7,795.0L868.7,794.5L868.7,763.7L870.6,763.7L870.6,764.9L870.6,765.0L872.5,765.0L872.5,765.4L872.5,763.7L874.3,763.7L874.3,764.3L874.3,789.6L876.2,789.6L876.2,789.4L876.2,780.8L878.1,780.8L878.1,779.4L878.1,797.2L879.9,797.2L879.9,797.7L879.9,783.8L881.8,783.8L881.8,782.9L881.8,765.3L883.7,765.3L883.7,765.0L883.7,788.5L885.5,788.5L885.5,789.7L885.5,763.3L887.4,763.3L887.4,763.9L887.4,764.0L889.3,764.0L889.3,763.1L889.3,764.5L891.1,764.5L891.1,764.6L891.1,764.8L893.0,764.8L893.0,764.6L893.0,767.3L894.9,767.3L894.9,766.3L894.9,784.3L896.7,784.3L896.7,784.1L896.7,789.0L898.6,789.0L898.6,790.1L898.6,765.7L900.5,765.7L900.5,764.8L900.5,789.0L902.3,789.0L902.3,788.6L902.3,764.3L904.2,764.3L904.2,764.0L904.2,765.3L906.1,765.3L906.1,764.2L906.1,764.9L907.9,764.9L907.9,764.5L907.9,767.0L909.8,767.0L909.8,767.5L909.8,765.6L911.7,765.6L911.7,763.3L911.7,764.5L913.5,764.5L913.5,763.0L913.5,765.1L915.4,765.1L915.4,766.5L915.4,794.3L917.3,794.3L917.3,793.1L917.3,778.4L919.1,778.4L919.1,780.2L919.1,781.0L921.0,781.0L921.0,780.7L921.0,766.1L922.9,766.1L922.9,766.2L922.9,780.7L924.7,780.7L924.7,780.3L924.7,786.3L926.6,786.3L926.6,786.2L926.6,799.7L928.5,799.7L928.5,799.0L928.5,766.1L930.3,766.1L930.3,766.7L930.3,741.3L932.2,741.3L932.2,743.4L932.2,766.6L934.1,766.6L934.1,767.3L934.1,764.7L935.9,764.7L935.9,764.0L935.9,765.8L937.8,765.8L937.8,766.5L937.8,780.9L939.7,780.9L939.7,779.0L939.7,764.7L941.6,764.7L941.6,766.8L941.6,766.5L943.4,766.5L943.4,767.5L943.4,801.1L945.3,801.1L945.3,800.3L945.3,765.1L947.2,765.1L947.2,767.1L949.0,767.1L949.0,767.5L949.0,764.3L950.9,764.3L950.9,763.6L950.9,764.4L952.8,764.4L952.8,765.3L952.8,765.4L954.6,765.4L954.6,766.4L954.6,764.7L956.5,764.7L956.5,763.7L956.5,763.4L958.4,763.4L958.4,763.8L958.4,766.0L960.2,766.0L960.2,767.3L960.2,764.8L962.1,764.8L962.1,763.4L962.1,764.9L964.0,764.9L964.0,763.5L964.0,764.2L965.8,764.2L965.8,764.9L965.8,765.5L967.7,765.5L967.7,763.9L967.7,762.4L969.6,762.4L969.6,762.1L969.6,760.3L971.4,760.3L971.4,760.5L971.4,757.0L973.3,757.0L973.3,754.9L973.3,747.1L975.2,747.1L975.2,747.5L975.2,747.2L977.0,747.2L977.0,748.4L977.0,739.0L978.9,739.0L978.9,739.4L978.9,729.2L980.8,729.2L980.8,729.0L994.2,511.8L996.5,514.5L998.7,514.4L1000.9,514.3L1003.2,513.9L1005.4,513.8L1007.7,513.7L1009.9,508.2L1012.1,508.1L1014.4,511.9L1016.6,511.8L1018.9,518.4L1021.1,525.0L1023.3,524.9L1025.6,518.2L1027.8,511.4L1030.1,509.5L1032.3,502.8L1034.5,503.0L1036.8,504.0L1039.0,503.9L1041.3,503.9L1043.5,504.5L1045.8,503.6L1048.0,501.4L1050.2,505.8L1052.5,505.7L1054.7,501.3L1057.0,509.9L1059.2,509.9L1061.4,503.2L1063.7,503.2L1065.9,502.3L1068.2,510.2L1070.4,502.1L1072.6,508.8L1074.9,510.1L1077.1,502.9L1079.4,508.0L1081.6,501.2L1083.8,501.2L1086.1,501.2L1088.3,504.4L1090.6,512.3L1092.8,507.7L1095.0,507.7L1097.3,510.7L1099.5,506.8L1101.8,508.1L1104.0,504.8L1106.3,511.6L1108.5,511.5L1110.7,510.1L1113.0,507.0L1115.2,507.0L1117.5,509.4L1119.7,509.2L1121.9,503.8L1124.2,503.9L1126.4,503.9L1128.7,504.0L1130.9,504.0L1133.1,527.6L1135.4,550.1L1137.6,527.7L1139.9,505.2L1160.0,770.4L1161.9,770.4L1161.9,770.1L1161.9,759.6L1163.8,759.6L1163.8,759.1L1163.8,755.8L1165.6,755.8L1165.6,755.4L1165.6,752.8L1167.5,752.8L1167.5,752.6L1167.5,734.7L1169.4,734.7L1169.4,733.2L1169.4,734.4L1171.2,734.4L1171.2,735.6L1171.2,719.8L1173.1,719.8L1173.1,717.7L1175.0,717.7L1175.0,717.2L1175.0,721.0L1176.8,721.0L1176.8,721.3L1176.8,717.7L1178.7,717.7L1178.7,719.1L1180.6,719.1L1180.6,720.8L1180.6,773.7L1182.4,773.7L1182.4,773.3L1182.4,766.6L1184.3,766.6L1184.3,765.5L1184.3,764.6L1186.2,764.6L1186.2,764.5L1186.2,766.7L1188.0,766.7L1188.0,765.7L1188.0,765.7L1189.9,765.7L1189.9,763.9L1189.9,766.2L1191.8,766.2L1191.8,765.7L1191.8,766.5L1193.6,766.5L1193.6,765.3L1193.6,780.5L1195.5,780.5L1195.5,778.1L1195.5,765.2L1197.4,765.2L1197.4,766.9L1197.4,778.5L1199.2,778.5L1199.2,778.8L1199.2,764.5L1201.1,764.5L1201.1,762.9L1201.1,766.6L1203.0,766.6L1203.0,766.2L1203.0,742.5L1204.8,742.5L1204.8,743.8L1204.9,765.8L1206.7,765.8L1206.7,766.3L1206.7,764.9L1208.6,764.9L1208.6,764.8L1208.6,763.8L1210.5,763.8L1210.5,764.4L1210.5,764.9L1212.3,764.9L1212.3,765.2L1212.3,766.6L1214.2,766.6L1214.2,764.9L1214.2,767.1L1216.1,767.1L1216.1,766.6L1216.1,766.1L1217.9,766.1L1217.9,765.7L1217.9,765.3L1219.8,765.3L1219.8,765.1L1219.8,767.0L1221.7,767.0L1221.7,766.2L1221.7,748.7L1223.5,748.7L1223.5,746.9L1223.5,765.8L1225.4,765.8L1225.4,766.5L1225.4,785.8L1227.3,785.8L1227.3,784.0L1227.3,791.1L1229.1,791.1L1229.1,791.3L1229.1,764.4L1231.0,764.4L1231.0,764.6L1231.0,764.1L1232.9,764.1L1232.9,764.7L1232.9,766.8L1234.7,766.8L1234.7,766.7L1234.7,763.7L1236.6,763.7L1236.6,762.5L1236.6,796.8L1238.5,796.8L1238.5,796.5L1238.5,766.9L1240.3,766.9L1240.3,766.9L1240.3,764.7L1242.2,764.7L1242.2,763.1L1242.2,764.9L1244.1,764.9L1244.1,765.1L1244.1,765.6L1245.9,765.6L1245.9,765.5L1245.9,764.3L1247.8,764.3L1247.8,765.6L1247.8,763.1L1249.7,763.1L1249.7,764.7L1249.7,765.4L1251.5,765.4L1251.5,764.7L1253.4,764.7L1253.4,765.2L1253.4,766.6L1255.3,766.6L1255.3,767.0L1255.3,780.2L1257.1,780.2L1257.1,779.8L1257.1,767.0L1259.0,767.0L1259.0,766.0L1259.0,765.1L1260.9,765.1L1260.9,764.3L1260.9,763.9L1262.7,763.9L1262.7,765.1L1262.7,766.2L1264.6,766.2L1264.6,764.9L1264.6,796.7L1266.5,796.7L1266.5,797.6L1266.5,766.1L1268.3,766.1L1268.3,766.2L1268.3,765.3L1270.2,765.3L1270.2,764.5L1270.2,797.2L1272.1,797.2L1272.1,795.1L1272.1,748.6L1273.9,748.6L1273.9,748.1L1273.9,733.9L1275.8,733.9L1275.8,734.7L1275.8,795.9L1277.7,795.9L1277.7,796.7L1277.7,765.0L1279.5,765.0L1279.5,764.7L1279.5,766.2L1281.4,766.2L1281.4,764.3L1281.4,764.7L1283.3,764.7L1283.3,764.4L1283.3,764.1L1285.1,764.1L1285.1,763.9L1285.1,781.6L1287.0,781.6L1287.0,780.6L1287.0,734.4L1288.9,734.4L1288.9,732.4L1288.9,764.8L1290.7,764.8L1290.7,763.9L1290.7,779.8L1292.6,779.8L1292.6,779.2L1292.6,735.6L1294.5,735.6L1294.5,734.7L1294.5,764.4L1296.3,764.4L1296.3,764.4L1296.4,766.0L1298.2,766.0L1298.2,765.3L1298.2,764.9L1300.1,764.9L1300.1,765.9L1300.1,798.9L1302.0,798.9L1302.0,798.9L1302.0,802.6L1303.8,802.6L1303.8,802.3L1303.8,767.3L1305.7,767.3L1305.7,768.0L1305.7,765.4L1307.6,765.4L1307.6,763.2L1307.6,764.6L1309.4,764.6L1309.4,764.5L1309.4,744.3L1311.3,744.3L1311.3,746.4L1311.3,766.1L1313.2,766.1L1313.2,765.2L1313.2,766.4L1315.0,766.4L1315.0,765.3L1315.0,762.6L1316.9,762.6L1316.9,763.1L1316.9,796.9L1318.8,796.9L1318.8,796.9L1318.8,763.0L1320.6,763.0L1320.6,763.6L1320.6,765.8L1322.5,765.8L1322.5,767.4L1322.5,764.1L1324.4,764.1L1324.4,777.7L1326.2,777.7L1326.2,777.3L1326.2,765.2L1328.1,765.2L1328.1,766.9L1330.0,766.9L1330.0,765.9L1330.0,765.5L1331.8,765.5L1331.8,765.7L1331.8,767.9L1333.7,767.9L1333.7,767.0L1333.7,764.1L1335.6,764.1L1335.6,763.0L1335.6,730.0L1337.4,730.0L1337.4,729.8L1337.4,762.7L1339.3,762.7L1339.3,763.8" stroke="#77AC30"/>
<path d="M801.5,777.3L803.4,777.3L803.4,777.1L803.4,775.8L805.2,775.8L805.2,775.3L805.2,775.0L807.1,775.0L807.1,775.2L807.1,803.1L809.0,803.1L809.0,801.4L810.8,801.4L810.8,791.4L812.7,791.4L812.7,791.1L812.7,772.9L814.6,772.9L814.6,774.5L814.6,796.6L816.4,796.6L816.4,795.6L816.4,772.8L818.3,772.8L818.3,774.3L818.3,775.2L820.2,775.2L820.2,775.4L820.2,775.6L822.0,775.6L822.0,776.9L823.9,776.9L823.9,776.2L823.9,794.0L825.8,794.0L825.8,791.9L825.8,774.5L827.6,774.5L827.6,773.6L827.6,805.8L829.5,805.8L829.5,776.5L831.4,776.5L831.4,776.6L831.4,776.9L833.2,776.9L833.2,777.1L833.2,795.9L835.1,795.9L835.1,794.2L835.1,775.3L837.0,775.3L837.0,776.0L837.0,776.3L838.8,776.3L838.8,775.1L838.8,776.8L840.7,776.8L840.7,775.8L840.7,773.1L842.6,773.1L842.6,773.2L842.6,742.5L844.4,742.5L844.4,744.0L844.4,772.7L846.3,772.7L846.3,775.2L846.3,776.0L848.2,776.0L848.2,776.5L850.1,776.4L850.1,777.3L850.1,773.3L851.9,773.3L851.9,773.7L851.9,805.1L853.8,805.1L853.8,808.5L855.7,808.5L855.7,808.3L855.7,776.3L857.5,776.3L857.5,776.2L857.5,774.5L859.4,774.5L859.4,775.2L859.4,773.8L861.3,773.8L861.3,775.4L861.3,776.4L863.1,776.4L863.1,775.2L863.1,774.7L865.0,774.7L865.0,773.8L865.0,774.7L866.9,774.7L866.9,774.3L866.9,811.2L868.7,811.2L868.7,773.7L870.6,773.7L870.6,773.9L870.6,776.1L872.5,776.1L872.5,776.8L872.5,774.6L874.3,774.6L874.3,773.5L874.3,803.5L876.2,803.5L876.2,792.8L878.1,792.8L878.1,793.6L878.1,813.2L879.9,813.2L879.9,810.4L879.9,798.2L881.8,798.2L881.8,795.3L881.8,773.7L883.7,773.7L883.7,774.2L883.7,803.1L885.5,803.1L885.5,802.6L885.5,774.1L887.4,774.1L887.4,774.8L887.4,774.4L889.3,774.4L889.3,774.6L889.3,776.2L891.1,776.2L891.1,776.8L891.1,774.8L893.0,774.8L893.0,773.3L893.0,775.8L894.9,775.8L894.9,775.3L894.9,794.8L896.7,794.8L896.7,795.8L896.7,803.9L898.6,803.9L898.6,802.8L898.6,776.3L900.5,776.3L900.5,777.0L900.5,801.5L902.3,801.5L902.3,802.6L902.3,775.9L904.2,775.9L904.2,774.1L904.2,774.1L906.1,774.1L906.1,773.4L906.1,773.8L907.9,773.8L907.9,774.3L907.9,778.2L909.8,778.2L909.8,777.3L909.8,774.9L911.7,774.9L911.7,775.6L911.7,773.1L913.5,773.1L913.5,774.1L913.5,775.4L915.4,775.4L915.4,776.9L915.4,808.9L917.3,808.9L917.3,807.1L917.3,791.3L919.1,791.3L919.1,790.6L919.1,793.1L921.0,793.1L921.0,794.8L921.0,778.0L922.9,778.0L922.9,776.0L922.9,794.4L924.7,794.4L924.7,794.5L924.7,799.6L926.6,799.6L926.6,801.0L926.6,813.8L928.5,813.8L928.5,816.2L928.5,777.3L930.3,777.3L930.3,777.3L930.3,747.0L932.2,747.0L932.2,747.4L932.2,777.5L934.1,777.5L934.1,776.0L934.1,772.3L935.9,772.3L935.9,773.9L935.9,774.1L937.8,774.1L937.8,776.4L937.8,792.5L939.7,792.5L939.7,792.3L939.7,776.1L941.6,776.1L941.6,774.9L941.6,777.3L943.4,777.3L943.4,775.9L943.4,816.7L945.3,816.7L945.3,818.5L945.3,775.2L947.2,775.2L947.2,775.8L947.2,777.7L949.0,777.7L949.0,778.4L949.0,774.6L950.9,774.6L950.9,774.7L950.9,774.2L952.8,774.2L952.8,775.5L952.8,776.3L954.6,776.3L954.6,775.9L954.6,773.5L956.5,773.5L956.5,774.8L956.5,774.5L958.4,774.5L958.4,775.5L958.4,777.6L960.2,777.6L960.2,776.7L960.2,772.0L962.1,772.0L962.1,773.7L962.1,773.1L964.0,773.1L964.0,774.9L964.0,773.8L965.8,773.8L965.8,774.1L965.8,773.2L967.7,773.2L967.7,774.8L967.7,772.6L969.6,772.6L969.6,772.9L969.6,769.4L971.4,769.4L971.4,770.9L971.4,765.7L973.3,765.7L973.3,762.8L973.3,755.3L975.2,755.3L975.2,756.6L975.2,753.0L977.0,753.0L977.0,754.6L977.0,744.4L978.9,744.4L978.9,743.7L978.9,733.3L980.8,733.3L980.8,734.2L980.8,775.7L981.9,775.7L989.7,510.0L993.1,505.0L1002.1,610.0L1006.5,530.0L999.8,503.0L1004.3,577.3L1007.7,503.0L1012.1,647.6L1016.6,511.9L1018.9,511.4L1021.1,508.9L1023.3,508.8L1025.6,508.7L1027.8,507.4L1030.1,510.6L1032.3,508.6L1034.5,496.1L1036.8,511.2L1039.0,511.1L1041.3,511.0L1043.5,509.6L1045.8,509.6L1048.0,508.9L1050.2,507.2L1052.5,507.2L1054.7,509.6L1057.0,510.2L1059.2,507.6L1061.4,507.2L1063.7,507.4L1065.9,507.4L1068.2,510.1L1070.4,510.0L1072.6,510.0L1074.9,510.0L1077.1,510.0L1079.4,510.0L1081.6,510.1L1083.8,510.1L1086.1,510.1L1088.3,505.7L1090.6,505.7L1092.8,507.8L1095.0,508.7L1097.3,506.7L1099.5,506.7L1101.8,507.0L1104.0,510.3L1106.3,510.3L1108.5,510.0L1110.7,510.1L1113.0,506.6L1115.2,510.8L1117.5,510.2L1119.7,507.9L1121.9,506.6L1124.2,506.7L1126.4,506.8L1128.7,506.9L1130.9,507.0L1133.1,507.1L1135.4,510.3L1137.6,508.6L1139.9,510.0L1142.1,510.1L1144.3,510.2L1157.8,777.0L1158.2,777.0L1158.2,780.4L1160.0,780.4L1160.0,781.9L1160.0,780.6L1161.9,780.6L1161.9,783.5L1161.9,768.6L1163.8,768.6L1163.8,768.2L1163.8,765.5L1165.6,765.5L1165.6,763.3L1165.6,760.5L1167.5,760.5L1167.5,762.0L1167.5,740.1L1169.4,740.1L1169.4,740.2L1169.4,739.1L1171.2,739.1L1171.2,740.2L1171.2,723.6L1173.1,723.6L1173.1,723.0L1173.1,719.3L1175.0,719.3L1175.0,721.5L1175.0,725.0L1176.8,725.0L1176.8,725.2L1176.8,721.9L1178.7,721.9L1178.7,722.1L1178.7,723.2L1180.6,723.2L1180.6,722.1L1180.6,786.0L1182.4,786.0L1182.4,784.1L1182.4,776.3L1184.3,776.3L1184.3,774.3L1184.3,775.1L1186.2,775.1L1186.2,775.8L1186.2,775.2L1188.0,775.2L1188.0,774.9L1188.0,774.6L1189.9,774.6L1189.9,775.1L1189.9,776.4L1191.8,776.4L1191.8,776.6L1191.8,775.9L1193.6,775.9L1193.6,791.4L1195.5,791.4L1195.5,790.9L1195.5,777.0L1197.4,777.0L1197.4,776.6L1197.4,791.7L1199.2,791.7L1199.2,791.1L1199.2,772.7L1201.1,772.7L1201.1,773.9L1201.1,776.8L1203.0,776.8L1203.0,777.1L1203.0,750.1L1204.8,750.1L1204.8,750.9L1204.9,775.7L1206.7,775.7L1206.7,777.2L1206.7,775.8L1208.6,775.8L1208.6,777.2L1208.6,774.9L1210.5,774.9L1210.5,773.9L1210.5,775.5L1212.3,775.5L1212.3,776.8L1212.3,775.1L1214.2,775.1L1214.2,776.3L1214.2,777.2L1216.1,777.2L1216.1,777.0L1216.1,775.0L1217.9,775.0L1217.9,776.6L1217.9,775.1L1219.8,775.1L1219.8,776.3L1219.8,776.4L1221.7,776.4L1221.7,778.1L1221.7,753.7L1223.5,753.7L1223.5,754.6L1223.5,776.8L1225.4,776.8L1225.4,797.5L1227.3,797.5L1227.3,797.3L1227.3,807.7L1229.1,807.7L1229.1,807.1L1229.1,773.8L1231.0,773.8L1231.0,774.5L1231.0,775.9L1232.9,775.9L1232.9,774.3L1232.9,774.2L1234.7,774.2L1234.7,776.4L1234.7,773.4L1236.6,773.4L1236.6,773.3L1236.6,810.2L1238.5,810.2L1238.5,810.5L1238.5,777.9L1240.3,777.9L1240.3,777.3L1240.3,774.1L1242.2,774.1L1242.2,774.2L1242.2,773.4L1244.1,773.4L1244.1,774.2L1244.1,777.2L1245.9,777.2L1245.9,775.5L1245.9,775.9L1247.8,775.9L1247.8,774.1L1247.8,775.0L1249.7,775.0L1249.7,772.7L1249.7,775.7L1251.5,775.7L1251.5,774.2L1251.5,773.7L1253.4,773.7L1253.4,775.6L1253.4,775.2L1255.3,775.2L1255.3,775.0L1255.3,793.6L1257.1,793.6L1257.1,792.6L1257.1,777.0L1259.0,777.0L1259.0,776.2L1259.0,776.3L1260.9,776.3L1260.9,775.4L1260.9,775.1L1262.7,775.1L1262.7,775.9L1262.7,775.5L1264.6,775.5L1264.6,776.1L1264.6,811.9L1266.5,811.9L1266.5,814.0L1266.5,776.5L1268.3,776.5L1268.3,773.3L1270.2,773.3L1270.2,773.7L1270.2,809.4L1272.1,809.4L1272.1,810.5L1272.1,755.7L1273.9,755.7L1273.9,756.6L1273.9,738.5L1275.8,738.5L1275.8,740.3L1275.8,809.5L1277.7,809.5L1277.7,776.3L1279.5,776.3L1279.5,774.1L1279.5,775.2L1281.4,775.2L1281.4,774.3L1281.4,774.1L1283.3,774.1L1283.3,774.4L1283.3,773.3L1285.1,773.3L1285.1,773.4L1285.1,793.8L1287.0,793.8L1287.0,795.3L1287.0,737.0L1288.9,737.0L1288.9,737.6L1288.9,774.2L1290.7,774.2L1290.7,775.1L1290.7,790.8L1292.6,790.8L1292.6,792.1L1292.6,740.7L1294.5,740.7L1294.5,741.5L1294.5,774.6L1296.3,774.6L1296.3,775.0L1296.4,774.8L1298.2,774.8L1298.2,774.6L1298.2,773.9L1300.1,773.9L1300.1,815.6L1302.0,815.6L1302.0,816.2L1302.0,816.7L1303.8,816.7L1303.8,818.2L1303.8,777.8L1305.7,777.8L1305.7,778.1L1305.7,772.9L1307.6,772.9L1307.6,775.4L1307.6,776.8L1309.4,776.8L1309.4,774.9L1309.4,752.2L1311.3,752.2L1311.3,751.5L1311.3,777.5L1313.2,777.5L1313.2,777.1L1313.2,775.7L1315.0,775.7L1315.0,776.3L1315.0,775.0L1316.9,775.0L1316.9,773.5L1316.9,812.8L1318.8,812.8L1318.8,814.0L1318.8,774.9L1320.6,774.9L1320.6,775.1L1320.6,775.0L1322.5,775.0L1322.5,775.2L1322.5,774.7L1324.4,774.7L1324.4,774.5L1324.4,789.3L1326.2,789.3L1326.2,789.1L1326.2,773.9L1328.1,773.9L1328.1,776.7L1328.1,777.7L1330.0,777.7L1330.0,775.7L1330.0,776.1L1331.8,776.1L1331.8,775.2L1331.8,777.4L1333.7,777.4L1333.7,777.1L1333.7,774.5L1335.6,774.5L1335.6,734.9L1337.4,734.9L1337.4,734.6L1337.4,774.5L1339.3,774.5L1339.3,775.0" stroke="#4DBEEE"/>
<path d="M801.5,778.7L803.4,778.7L803.4,779.4L803.4,778.3L805.2,778.3L805.2,779.0L805.2,776.4L807.1,776.4L807.1,778.3L807.1,807.0L809.0,807.0L809.0,807.1L809.0,803.2L810.8,803.2L810.8,803.9L810.8,793.9L812.7,793.9L812.7,793.7L812.7,774.5L814.6,774.5L814.6,775.8L814.6,796.9L816.4,796.9L816.4,796.7L816.4,776.3L818.3,776.3L818.3,775.8L818.3,776.0L820.2,776.0L820.2,778.7L820.2,778.4L822.0,778.4L822.0,777.1L822.0,777.2L823.9,777.2L823.9,776.4L823.9,795.5L825.8,795.5L825.8,795.4L825.8,775.0L827.6,775.0L827.6,775.5L827.6,809.6L829.5,809.6L829.5,808.3L829.5,776.7L831.4,776.7L831.4,775.8L831.4,777.2L833.2,777.2L833.2,798.1L835.1,798.1L835.1,796.3L835.1,777.3L837.0,777.3L837.0,777.2L837.0,776.2L838.8,776.2L838.8,777.8L838.8,778.6L840.7,778.6L840.7,776.3L840.7,776.9L842.6,776.9L842.6,776.8L842.6,743.7L844.4,743.7L844.4,744.9L844.4,775.9L846.3,775.9L846.3,776.6L846.3,777.3L848.2,777.3L848.2,778.4L848.2,777.8L850.1,777.8L850.1,779.2L850.1,776.6L851.9,776.6L851.9,774.7L851.9,805.8L853.8,805.8L853.8,807.0L853.8,811.7L855.7,811.7L855.7,811.0L855.7,776.2L857.5,776.2L857.5,775.4L857.5,776.1L859.4,776.1L859.4,776.8L859.4,777.8L861.3,777.8L861.3,776.1L861.3,776.6L863.1,776.6L863.1,777.0L863.1,775.7L865.0,775.7L865.0,773.9L865.0,777.5L866.9,777.5L866.9,776.1L866.9,810.5L868.7,810.5L868.7,813.2L868.7,776.4L870.6,776.4L870.6,775.8L870.6,776.9L872.5,776.9L872.5,776.9L872.5,775.9L874.3,775.9L874.3,776.9L874.3,804.4L876.2,804.4L876.2,806.2L876.2,795.6L878.1,795.6L878.1,793.5L878.1,815.1L879.9,815.1L879.9,814.9L879.9,799.7L881.8,799.7L881.8,799.9L881.8,773.9L883.7,773.9L883.7,774.6L883.7,803.1L885.5,803.1L885.5,803.6L885.5,776.6L887.4,776.6L887.4,774.6L887.4,775.4L889.3,775.4L889.3,775.4L889.3,778.3L891.1,778.3L891.1,778.1L891.1,775.0L893.0,775.0L893.0,776.0L893.0,778.0L894.9,778.0L894.9,778.3L894.9,797.2L896.7,797.2L896.7,798.4L896.7,804.4L898.6,804.4L898.6,806.9L898.6,776.6L900.5,776.6L900.5,778.3L900.5,804.3L902.3,804.3L902.3,803.4L902.3,776.8L904.2,776.8L904.2,777.2L904.2,775.5L906.1,775.5L906.1,774.8L906.1,777.4L907.9,777.4L907.9,775.4L907.9,778.3L909.8,778.3L909.8,779.0L909.8,777.1L911.7,777.1L911.7,775.4L911.7,774.8L913.5,774.8L913.5,774.4L913.5,777.0L915.4,777.0L915.4,778.6L915.4,808.7L917.3,808.7L917.3,810.2L917.3,792.2L919.1,792.2L919.1,791.9L919.1,797.2L921.0,797.2L921.0,795.2L921.0,778.2L922.9,778.2L922.9,779.7L922.9,796.2L924.7,796.2L924.7,794.7L924.7,801.4L926.6,801.4L926.6,803.1L926.6,816.3L928.5,816.3L928.5,816.8L928.5,779.6L930.3,779.6L930.3,776.7L930.3,748.7L932.2,748.7L932.2,751.1L932.2,777.6L934.1,777.6L934.1,779.6L934.1,776.4L935.9,776.4L935.9,776.3L935.9,777.0L937.8,777.0L937.8,777.5L937.8,795.8L939.7,795.8L939.7,793.3L939.7,777.8L941.6,777.8L941.6,778.9L941.6,776.8L943.4,776.8L943.4,778.5L943.4,819.2L945.3,819.2L945.3,819.7L945.3,778.6L947.2,778.6L947.2,778.0L947.2,779.4L949.0,779.4L949.0,778.7L949.0,775.0L950.9,775.0L950.9,775.8L950.9,777.4L952.8,777.4L952.8,775.6L952.8,776.4L954.6,776.4L954.6,776.5L954.6,775.7L956.5,775.7L956.5,774.9L956.5,775.7L958.4,775.7L958.4,774.6L958.4,778.8L960.2,778.8L960.2,778.6L960.2,773.7L962.1,773.7L962.1,774.6L962.1,776.5L964.0,776.5L964.0,777.2L964.0,776.6L965.8,776.6L965.8,776.1L965.8,774.5L967.7,774.5L967.7,775.7L967.7,772.9L969.6,772.9L969.6,773.8L969.6,772.2L971.4,772.2L971.4,765.6L973.3,765.6L973.3,765.4L973.3,756.8L975.2,756.8L975.2,757.5L975.2,754.1L977.0,754.1L977.0,756.9L977.0,743.9L978.9,743.9L978.9,746.2L978.9,732.9L980.8,732.9L980.8,734.5L988.6,503.0L993.1,505.0L998.7,575.0L1002.1,510.0L995.3,503.0L999.8,624.6L1003.2,503.0L1007.7,630.7L1012.1,547.2L1014.4,547.8L1016.6,548.0L1018.9,550.0L1021.1,548.3L1023.3,548.8L1025.6,552.9L1027.8,553.2L1030.1,553.0L1032.3,551.7L1034.5,552.1L1036.8,553.4L1039.0,552.4L1041.3,552.7L1043.5,555.4L1045.8,553.7L1048.0,554.0L1050.2,554.3L1052.5,554.5L1054.7,557.0L1057.0,556.5L1059.2,556.7L1061.4,555.3L1063.7,555.4L1065.9,557.8L1068.2,553.6L1070.4,558.0L1072.6,555.2L1074.9,557.2L1077.1,554.7L1079.4,558.2L1081.6,556.2L1083.8,554.1L1086.1,557.7L1088.3,557.5L1090.6,557.3L1092.8,555.8L1095.0,555.5L1097.3,556.1L1099.5,555.1L1101.8,554.7L1104.0,555.2L1106.3,554.7L1108.5,554.1L1110.7,553.7L1113.0,550.0L1115.2,549.4L1117.5,550.7L1119.7,550.2L1121.9,548.0L1124.2,547.3L1126.4,546.6L1128.7,547.8L1130.9,547.0L1133.1,546.2L1135.4,561.5L1137.6,558.2L1139.9,539.7L1142.1,542.5L1144.3,540.5L1156.7,778.5L1158.2,778.5L1158.2,780.9L1160.0,780.9L1160.0,782.3L1160.0,784.1L1161.9,784.1L1161.9,782.5L1161.9,769.6L1163.8,769.6L1163.8,769.2L1163.8,766.1L1165.6,766.1L1165.6,765.6L1165.6,761.6L1167.5,761.6L1167.5,764.1L1167.5,740.4L1169.4,740.4L1169.4,741.0L1171.2,741.0L1171.2,742.3L1171.2,722.0L1173.1,722.0L1173.1,722.9L1173.1,722.0L1175.0,722.0L1175.0,719.9L1175.0,723.5L1176.8,723.5L1176.8,726.1L1176.8,722.9L1178.7,722.9L1178.7,721.2L1178.7,722.1L1180.6,722.1L1180.6,722.2L1180.6,785.9L1182.4,785.9L1182.4,788.4L1182.4,778.4L1184.3,778.4L1184.3,777.1L1184.3,775.2L1186.2,775.2L1186.2,776.2L1186.2,778.5L1188.0,778.5L1188.0,777.8L1188.0,775.4L1189.9,775.4L1189.9,776.8L1189.9,777.0L1191.8,777.0L1191.8,777.2L1191.8,778.7L1193.6,778.7L1193.6,778.3L1193.6,793.9L1195.5,793.9L1195.5,794.2L1195.5,776.3L1197.4,776.3L1197.4,778.7L1197.4,793.5L1199.2,793.5L1199.2,792.5L1199.2,774.7L1201.1,774.7L1201.1,775.4L1201.1,777.6L1203.0,777.6L1203.0,777.9L1203.0,751.2L1204.8,751.2L1204.8,750.3L1204.9,777.1L1206.7,777.1L1206.7,779.0L1206.7,777.4L1208.6,777.4L1208.6,778.4L1208.6,776.0L1210.5,776.0L1210.5,774.9L1210.5,778.3L1212.3,778.3L1212.3,777.0L1212.3,779.0L1214.2,779.0L1214.2,777.5L1214.2,777.7L1216.1,777.7L1216.1,779.7L1216.1,777.3L1217.9,777.3L1217.9,777.7L1219.8,777.7L1219.8,779.0L1221.7,779.0L1221.7,778.3L1221.7,756.5L1223.5,756.5L1223.5,755.3L1223.5,778.9L1225.4,778.9L1225.4,777.7L1225.4,800.9L1227.3,800.9L1227.3,799.3L1227.3,809.6L1229.1,809.6L1229.1,807.4L1229.1,775.4L1231.0,775.4L1231.0,776.7L1231.0,774.6L1232.9,774.6L1232.9,775.9L1232.9,776.0L1234.7,776.0L1234.7,775.8L1234.7,775.4L1236.6,775.4L1236.6,775.8L1236.6,812.5L1238.5,812.5L1238.5,812.0L1238.5,779.1L1240.3,779.1L1240.3,775.8L1242.2,775.8L1242.2,775.2L1244.1,775.2L1244.1,777.1L1244.1,778.1L1245.9,778.1L1245.9,779.6L1245.9,777.8L1247.8,777.8L1247.8,776.4L1247.8,776.4L1249.7,776.4L1249.7,776.6L1249.7,776.4L1251.5,776.4L1251.5,778.0L1251.5,777.5L1253.4,777.5L1253.4,776.7L1255.3,776.7L1255.3,777.6L1255.3,796.5L1257.1,796.5L1257.1,795.8L1257.1,777.0L1259.0,777.0L1259.0,778.0L1259.0,775.3L1260.9,775.3L1260.9,777.0L1260.9,774.9L1262.7,774.9L1262.7,777.2L1262.7,776.3L1264.6,776.3L1264.6,775.6L1264.6,815.6L1266.5,815.6L1266.5,815.2L1266.5,777.6L1268.3,777.6L1268.3,776.8L1268.3,775.8L1270.2,775.8L1270.2,775.0L1270.2,814.2L1272.1,814.2L1272.1,811.5L1272.1,757.7L1273.9,757.7L1273.9,755.8L1273.9,740.8L1275.8,740.8L1275.8,739.2L1275.8,812.8L1277.7,812.8L1277.7,812.4L1277.7,777.6L1279.5,777.6L1279.5,777.5L1279.5,777.1L1281.4,777.1L1281.4,778.1L1281.4,774.4L1283.3,774.4L1283.3,777.0L1283.3,775.4L1285.1,775.4L1285.1,776.7L1285.1,795.8L1287.0,795.8L1287.0,796.7L1287.0,738.1L1288.9,738.1L1288.9,775.2L1290.7,775.2L1290.7,775.8L1290.7,794.5L1292.6,794.5L1292.6,794.7L1292.6,741.3L1294.5,741.3L1294.5,741.0L1294.5,775.9L1296.3,775.9L1296.3,774.7L1296.4,778.2L1298.2,778.2L1298.2,776.4L1298.2,776.8L1300.1,776.8L1300.1,775.8L1300.1,816.7L1302.0,816.7L1302.0,817.5L1302.0,820.0L1303.8,820.0L1303.8,820.8L1303.8,778.0L1305.7,778.0L1305.7,778.1L1305.7,776.8L1307.6,776.8L1307.6,776.2L1307.6,778.4L1309.4,778.4L1309.4,777.1L1309.4,754.6L1311.3,754.6L1311.3,754.1L1311.3,778.6L1313.2,778.6L1313.2,778.7L1313.2,777.6L1315.0,777.6L1315.0,778.3L1315.0,776.5L1316.9,776.5L1316.9,775.1L1316.9,813.9L1318.8,813.9L1318.8,816.4L1318.8,775.2L1320.6,775.2L1320.6,775.2L1320.6,778.5L1322.5,778.5L1322.5,776.5L1322.5,778.3L1324.4,778.3L1324.4,777.6L1324.4,792.7L1326.2,792.7L1326.2,790.3L1326.2,777.4L1328.1,777.4L1328.1,776.1L1328.1,779.3L1330.0,779.3L1330.0,778.4L1330.0,778.9L1331.8,778.9L1331.8,777.1L1331.8,778.5L1333.7,778.5L1333.7,779.4L1333.7,776.2L1335.6,776.2L1335.6,777.1L1335.6,734.6L1337.4,734.6L1337.4,734.8L1337.4,773.9L1339.3,773.9L1339.3,776.2" stroke="#A2142F"/>
<path d="M801.5,780.3L803.4,780.3L803.4,779.7L803.4,780.4L805.2,780.4L805.2,778.7L805.2,778.4L807.1,778.4L807.1,778.3L807.1,808.9L809.0,808.9L809.0,808.1L809.0,804.9L810.8,804.9L810.8,806.4L810.8,795.7L812.7,795.7L812.7,794.7L812.7,777.6L814.6,777.6L814.6,776.4L814.6,800.1L816.4,800.1L816.4,800.5L816.4,775.4L818.3,775.4L818.3,776.4L818.3,778.5L820.2,778.5L820.2,777.5L820.2,781.5L822.0,781.5L822.0,778.9L822.0,779.3L823.9,779.3L823.9,778.9L823.9,795.5L825.8,795.5L825.8,796.6L825.8,775.9L827.6,775.9L827.6,776.3L827.6,811.1L829.5,811.1L829.5,811.1L829.5,779.6L831.4,779.6L831.4,777.7L831.4,779.1L833.2,779.1L833.2,779.5L833.2,799.7L835.1,799.7L835.1,778.9L837.0,778.9L837.0,777.5L837.0,779.6L838.8,779.6L838.8,778.9L838.8,779.5L840.7,779.5L840.7,777.6L840.7,777.2L842.6,777.2L842.6,779.2L842.6,744.4L844.4,744.4L844.4,775.6L846.3,775.6L846.3,777.9L846.3,778.1L848.2,778.1L848.2,779.1L848.2,778.8L850.1,778.8L850.1,778.6L850.1,778.8L851.9,778.8L851.9,778.6L851.9,806.8L853.8,806.8L853.8,808.2L853.8,814.1L855.7,814.1L855.7,813.1L855.7,779.2L857.5,779.2L857.5,778.2L857.5,777.9L859.4,777.9L859.4,778.7L859.4,778.9L861.3,778.9L861.3,776.6L861.3,779.4L863.1,779.4L863.1,778.9L863.1,776.0L865.0,776.0L865.0,777.3L865.0,776.9L866.9,776.9L866.9,777.9L866.9,814.1L868.7,814.1L868.7,815.0L868.7,775.3L870.6,775.3L870.6,776.4L870.6,779.2L872.5,779.2L872.5,779.0L872.5,777.9L874.3,777.9L874.3,777.9L874.3,807.6L876.2,807.6L876.2,807.3L876.2,795.8L878.1,795.8L878.1,796.8L878.1,815.0L879.9,815.0L879.9,816.4L879.9,801.3L881.8,801.3L881.8,801.9L881.8,778.5L883.7,778.5L883.7,778.1L883.7,806.1L885.5,806.1L885.5,807.5L885.5,777.2L887.4,777.2L887.4,776.3L887.4,777.5L889.3,777.5L889.3,777.5L889.3,778.0L891.1,778.0L891.1,778.3L891.1,778.0L893.0,778.0L893.0,777.0L893.0,779.1L894.9,779.1L894.9,780.2L894.9,800.5L896.7,800.5L896.7,798.9L896.7,808.9L898.6,808.9L898.6,806.5L898.6,779.5L900.5,779.5L900.5,780.4L900.5,806.1L902.3,806.1L902.3,805.4L902.3,777.4L904.2,777.4L904.2,777.3L904.2,778.4L906.1,778.4L906.1,776.4L906.1,777.9L907.9,777.9L907.9,776.7L907.9,781.5L909.8,781.5L909.8,778.8L909.8,777.0L911.7,777.0L911.7,776.8L911.7,777.6L913.5,777.6L913.5,778.5L913.5,778.3L915.4,778.3L915.4,777.5L915.4,811.3L917.3,811.3L917.3,810.6L917.3,795.1L919.1,795.1L919.1,794.8L919.1,797.7L921.0,797.7L921.0,796.7L921.0,781.4L922.9,781.4L922.9,778.9L922.9,797.1L924.7,797.1L924.7,796.7L924.7,803.3L926.6,803.3L926.6,804.2L926.6,820.4L928.5,820.4L928.5,818.3L928.5,780.6L930.3,780.6L930.3,779.8L930.3,750.9L932.2,750.9L932.2,750.6L932.2,780.4L934.1,780.4L934.1,781.0L934.1,777.1L935.9,777.1L935.9,776.9L935.9,777.9L937.8,777.9L937.8,777.1L937.8,796.6L939.7,796.6L939.7,796.1L939.7,779.3L941.6,779.3L941.6,779.7L941.6,781.0L943.4,781.0L943.4,779.2L943.4,821.2L945.3,821.2L945.3,821.2L945.3,780.3L947.2,780.3L947.2,780.0L947.2,779.2L949.0,779.2L949.0,781.2L949.0,777.4L950.9,777.4L950.9,778.1L950.9,778.8L952.8,778.8L952.8,776.2L952.8,779.2L954.6,779.2L954.6,779.5L954.6,777.7L956.5,777.7L956.5,776.6L956.5,777.6L958.4,777.6L958.4,776.9L958.4,780.7L960.2,780.7L960.2,777.9L960.2,776.7L962.1,776.7L962.1,777.6L964.0,777.6L964.0,776.3L964.0,778.5L965.8,778.5L965.8,777.7L965.8,776.1L967.7,776.1L967.7,776.6L967.7,777.4L969.6,777.4L969.6,777.3L969.6,772.8L971.4,772.8L971.4,773.2L971.4,767.6L973.3,767.6L973.3,766.5L973.3,758.2L975.2,758.2L975.2,759.5L975.2,756.4L977.0,756.4L977.0,755.7L977.0,747.3L978.9,747.3L978.9,746.4L978.9,735.9L980.8,735.9L980.8,735.7L992.0,534.2L994.2,534.8L996.5,537.5L998.7,538.1L1000.9,536.0L1003.2,536.6L1005.4,536.0L1007.7,540.3L1009.9,540.6L1012.1,541.0L1014.4,541.5L1016.6,541.9L1018.9,539.0L1021.1,539.4L1023.3,542.2L1025.6,543.4L1027.8,543.7L1030.1,540.8L1032.3,541.1L1034.5,541.6L1036.8,541.9L1039.0,545.2L1041.3,545.5L1043.5,545.6L1045.8,544.2L1048.0,544.4L1050.2,544.6L1052.5,547.3L1054.7,546.7L1057.0,543.2L1059.2,544.9L1061.4,545.0L1063.7,545.9L1065.9,548.5L1068.2,548.5L1070.4,545.0L1072.6,547.7L1074.9,545.6L1077.1,548.2L1079.4,544.0L1081.6,543.4L1083.8,543.3L1086.1,543.2L1088.3,545.1L1090.6,543.6L1092.8,545.7L1095.0,544.2L1097.3,543.9L1099.5,543.7L1101.8,544.4L1104.0,544.1L1106.3,541.9L1108.5,541.6L1110.7,542.6L1113.0,542.9L1115.2,542.4L1117.5,542.5L1119.7,540.6L1121.9,542.6L1124.2,542.1L1126.4,540.6L1128.7,540.0L1130.9,538.5L1133.1,537.9L1135.4,537.3L1137.6,537.5L1139.9,532.9L1142.1,532.2L1144.3,532.9L1145.5,534.8L1157.8,779.7L1158.2,779.7L1158.2,784.0L1160.0,784.0L1160.0,783.6L1160.0,784.2L1161.9,784.2L1161.9,784.6L1161.9,769.8L1163.8,769.8L1163.8,771.4L1163.8,767.9L1165.6,767.9L1165.6,767.1L1165.6,764.5L1167.5,764.5L1167.5,764.1L1167.5,739.8L1169.4,739.8L1169.4,742.4L1169.4,742.0L1171.2,742.0L1171.2,743.4L1171.2,725.3L1173.1,725.3L1173.1,723.2L1173.1,722.2L1175.0,722.2L1175.0,721.4L1175.0,726.1L1176.8,726.1L1176.8,726.7L1176.8,721.6L1178.7,721.6L1178.7,721.1L1178.7,725.4L1180.6,725.4L1180.6,725.3L1180.6,789.6L1182.4,789.6L1182.4,789.8L1182.4,778.8L1184.3,778.8L1184.3,779.2L1184.3,778.5L1186.2,778.5L1186.2,778.9L1186.2,777.7L1188.0,777.7L1188.0,778.3L1188.0,778.6L1189.9,778.6L1189.9,777.8L1189.9,777.3L1191.8,777.3L1191.8,778.9L1191.8,779.3L1193.6,779.3L1193.6,796.5L1195.5,796.5L1195.5,796.1L1195.5,780.4L1197.4,780.4L1197.4,780.2L1197.4,796.7L1199.2,796.7L1199.2,778.6L1201.1,778.6L1201.1,778.2L1201.1,779.9L1203.0,779.9L1203.0,780.4L1203.0,752.0L1204.8,752.0L1204.8,752.2L1204.9,780.4L1206.7,780.4L1206.7,779.1L1206.7,780.8L1208.6,780.8L1208.6,780.5L1208.6,777.6L1210.5,777.6L1210.5,776.1L1210.5,780.0L1212.3,780.0L1212.3,778.4L1212.3,779.6L1214.2,779.6L1214.2,778.2L1214.2,781.6L1216.1,781.6L1216.1,781.7L1216.1,777.5L1217.9,777.5L1217.9,778.1L1217.9,778.6L1219.8,778.6L1219.8,778.4L1219.8,778.8L1221.7,778.8L1221.7,778.9L1221.7,758.3L1223.5,758.3L1223.5,756.1L1223.5,778.8L1225.4,778.8L1225.4,779.2L1225.4,802.1L1227.3,802.1L1227.3,800.7L1227.3,811.3L1229.1,811.3L1229.1,810.7L1229.1,778.1L1231.0,778.1L1231.0,777.7L1231.0,776.2L1232.9,776.2L1232.9,776.6L1232.9,777.8L1234.7,777.8L1234.7,775.6L1236.6,775.6L1236.6,778.0L1236.6,815.6L1238.5,815.6L1238.5,813.7L1238.5,780.0L1240.3,780.0L1240.3,781.2L1240.3,775.6L1242.2,775.6L1242.2,778.0L1242.2,778.9L1244.1,778.9L1244.1,778.4L1244.1,780.5L1245.9,780.5L1245.9,781.2L1245.9,779.6L1247.8,779.6L1247.8,779.3L1247.8,776.0L1249.7,776.0L1249.7,776.8L1249.7,779.6L1251.5,779.6L1251.5,779.0L1251.5,778.8L1253.4,778.8L1253.4,779.1L1253.4,778.9L1255.3,778.9L1255.3,779.1L1255.3,796.5L1257.1,796.5L1257.1,796.2L1257.1,779.7L1259.0,779.7L1259.0,779.6L1259.0,778.4L1260.9,778.4L1260.9,778.7L1260.9,776.5L1262.7,776.5L1262.7,778.3L1262.7,779.4L1264.6,779.4L1264.6,778.6L1264.6,817.2L1266.5,817.2L1266.5,816.1L1266.5,777.2L1268.3,777.2L1268.3,777.5L1268.3,778.7L1270.2,778.7L1270.2,777.5L1270.2,816.0L1272.1,816.0L1272.1,813.6L1272.1,757.0L1273.9,757.0L1273.9,758.0L1273.9,740.4L1275.8,740.4L1275.8,742.5L1275.8,816.6L1277.7,816.6L1277.7,813.8L1277.7,777.4L1279.5,777.4L1279.5,779.1L1279.5,779.2L1281.4,779.2L1281.4,777.3L1281.4,777.1L1283.3,777.1L1283.3,776.3L1283.3,776.5L1285.1,776.5L1285.1,777.9L1285.1,799.0L1287.0,799.0L1287.0,796.4L1287.0,742.1L1288.9,742.1L1288.9,740.8L1288.9,779.6L1290.7,779.6L1290.7,777.4L1290.7,795.4L1292.6,795.4L1292.6,795.1L1292.6,743.8L1294.5,743.8L1294.5,742.5L1294.5,777.0L1296.3,777.0L1296.3,779.2L1296.4,778.2L1298.2,778.2L1298.2,777.2L1298.2,778.5L1300.1,778.5L1300.1,777.1L1300.1,818.5L1302.0,818.5L1302.0,818.8L1302.0,821.6L1303.8,821.6L1303.8,823.5L1303.8,779.1L1305.7,779.1L1305.7,778.9L1305.7,778.1L1307.6,778.1L1307.6,778.6L1307.6,778.4L1309.4,778.4L1309.4,756.0L1311.3,756.0L1311.3,753.0L1311.3,780.6L1313.2,780.6L1313.2,778.5L1313.2,779.2L1315.0,779.2L1315.0,779.9L1315.0,777.2L1316.9,777.2L1316.9,776.2L1316.9,818.3L1318.8,818.3L1318.8,817.4L1318.8,776.2L1320.6,776.2L1320.6,775.5L1320.6,779.1L1322.5,779.1L1322.5,780.1L1322.5,779.4L1324.4,779.4L1324.4,778.3L1324.4,792.8L1326.2,792.8L1326.2,792.1L1326.2,778.7L1328.1,778.7L1328.1,777.9L1328.1,781.3L1330.0,781.3L1330.0,779.2L1330.0,780.2L1331.8,780.2L1331.8,779.9L1331.8,779.2L1333.7,779.2L1333.7,781.1L1333.7,778.0L1335.6,778.0L1335.6,778.5L1335.6,735.7L1337.4,735.7L1337.4,737.2L1337.4,778.3L1339.3,778.3L1339.3,778.4" stroke="#D95319"/>
<path d="M801.5,780.4L803.4,780.4L803.4,781.6L803.4,780.9L805.2,780.9L805.2,782.5L805.2,781.5L807.1,781.5L807.1,779.9L807.1,811.2L809.0,811.2L809.0,811.7L809.0,809.5L810.8,809.5L810.8,807.2L810.8,798.1L812.7,798.1L812.7,796.7L812.7,780.2L814.6,780.2L814.6,777.9L814.6,802.7L816.4,802.7L816.4,802.8L816.4,779.0L818.3,779.0L818.3,779.3L818.3,781.7L820.2,781.7L820.2,779.2L820.2,782.1L822.0,782.1L822.0,782.3L822.0,779.3L823.9,779.3L823.9,779.6L823.9,799.9L825.8,799.9L825.8,779.8L827.6,779.8L827.6,777.6L827.6,813.0L829.5,813.0L829.5,811.7L829.5,779.3L831.4,779.3L831.4,780.0L831.4,782.6L833.2,782.6L833.2,782.3L833.2,800.7L835.1,800.7L835.1,801.9L835.1,781.2L837.0,781.2L837.0,780.4L837.0,781.0L838.8,781.0L838.8,781.2L838.8,781.0L840.7,781.0L840.7,781.7L840.7,778.7L842.6,778.7L842.6,779.0L842.6,747.0L844.4,747.0L844.4,744.9L844.4,777.2L846.3,777.2L846.3,779.1L846.3,781.8L848.2,781.8L848.2,782.0L848.2,781.3L850.1,781.3L850.1,780.2L850.1,777.8L851.9,777.8L851.9,777.5L851.9,811.0L853.8,811.0L853.8,810.0L853.8,816.3L855.7,816.3L855.7,814.0L855.7,779.1L857.5,779.1L857.5,780.8L857.5,781.9L859.4,781.9L859.4,779.2L859.4,779.7L861.3,779.7L861.3,778.7L861.3,780.0L863.1,780.0L863.1,780.8L863.1,778.5L865.0,778.5L865.0,778.4L865.0,778.0L866.9,778.0L866.9,778.4L866.9,816.4L868.7,816.4L868.7,815.0L868.7,777.6L870.6,777.6L870.6,779.7L870.6,781.9L872.5,781.9L872.5,782.2L872.5,778.3L874.3,778.3L874.3,777.9L874.3,808.7L876.2,808.7L876.2,810.0L876.2,797.3L878.1,797.3L878.1,798.9L878.1,816.7L879.9,816.7L879.9,817.2L879.9,801.8L881.8,801.8L881.8,777.8L883.7,777.8L883.7,807.5L885.5,807.5L885.5,807.0L885.5,779.2L887.4,779.2L887.4,778.3L887.4,779.7L889.3,779.7L889.3,779.9L889.3,781.6L891.1,781.6L891.1,779.4L891.1,778.2L893.0,778.2L893.0,778.3L893.0,781.1L894.9,781.1L894.9,781.3L894.9,802.8L896.7,802.8L896.7,802.4L896.7,808.2L898.6,808.2L898.6,809.3L898.6,779.4L900.5,779.4L900.5,781.7L900.5,808.8L902.3,808.8L902.3,807.1L902.3,780.9L904.2,780.9L904.2,778.7L904.2,779.4L906.1,779.4L906.1,780.0L906.1,778.2L907.9,778.2L907.9,778.7L907.9,783.0L909.8,783.0L909.8,780.3L909.8,779.2L911.7,779.2L911.7,780.0L911.7,780.4L913.5,780.4L913.5,778.6L913.5,779.1L915.4,779.1L915.4,780.8L915.4,814.8L917.3,814.8L917.3,814.1L917.3,796.7L919.1,796.7L919.1,796.8L919.1,800.3L921.0,800.3L921.0,800.7L921.0,782.5L922.9,782.5L922.9,782.1L922.9,799.4L924.7,799.4L924.7,800.3L924.7,807.3L926.6,807.3L926.6,804.6L926.6,821.1L928.5,821.1L928.5,821.3L928.5,782.8L930.3,782.8L930.3,780.1L930.3,753.5L932.2,753.5L932.2,753.1L932.2,781.3L934.1,781.3L934.1,781.1L934.1,778.1L935.9,778.1L935.9,777.6L935.9,780.0L937.8,780.0L937.8,781.1L937.8,799.2L939.7,799.2L939.7,799.3L939.7,782.1L941.6,782.1L941.6,781.7L941.6,780.3L943.4,780.3L943.4,780.6L943.4,822.8L945.3,822.8L945.3,823.9L945.3,781.0L947.2,781.0L947.2,779.8L947.2,781.8L949.0,781.8L949.0,780.3L949.0,777.8L950.9,777.8L950.9,779.4L950.9,780.8L952.8,780.8L952.8,778.8L952.8,780.8L954.6,780.8L954.6,779.3L954.6,778.8L956.5,778.8L956.5,779.9L956.5,777.7L958.4,777.7L958.4,779.9L958.4,782.4L960.2,782.4L960.2,781.2L960.2,777.7L962.1,777.7L962.1,776.9L962.1,778.9L964.0,778.9L964.0,779.0L964.0,778.2L965.8,778.2L965.8,780.0L965.8,779.4L967.7,779.4L967.7,777.7L967.7,778.3L969.6,778.3L969.6,776.2L969.6,773.0L971.4,773.0L971.4,775.2L971.4,767.5L973.3,767.5L973.3,770.0L973.3,758.1L975.2,758.1L975.2,760.9L975.2,756.8L977.0,756.8L977.0,757.9L977.0,746.2L978.9,746.2L978.9,747.7L978.9,736.7L980.8,736.7L980.8,735.4L980.8,780.7L981.9,780.7L990.9,504.0L993.1,504.6L995.3,504.6L997.6,504.7L999.8,503.4L1002.1,504.3L1004.3,504.4L1006.5,504.1L1008.8,505.2L1011.0,505.2L1013.3,504.8L1015.5,504.9L1017.7,505.4L1020.0,505.4L1022.2,505.5L1024.5,505.5L1026.7,505.3L1028.9,503.5L1031.2,505.4L1033.4,504.2L1035.7,504.2L1037.9,506.1L1040.1,505.7L1042.4,505.7L1044.6,505.8L1046.9,504.7L1049.1,505.7L1051.4,504.1L1053.6,504.1L1055.8,504.1L1058.1,506.2L1060.3,506.2L1062.6,505.5L1064.8,505.6L1067.0,505.7L1069.3,504.9L1071.5,504.9L1073.8,504.9L1076.0,504.3L1078.2,504.3L1080.5,505.4L1082.7,506.2L1085.0,506.2L1087.2,506.2L1089.4,506.2L1091.7,506.1L1093.9,506.1L1096.2,504.3L1098.4,504.6L1100.7,504.5L1102.9,504.5L1105.1,504.5L1107.4,504.5L1109.6,505.8L1111.9,506.0L1114.1,505.9L1116.3,504.8L1118.6,505.8L1120.8,504.9L1123.1,505.1L1125.3,505.1L1127.5,504.6L1129.8,504.6L1132.0,504.5L1134.3,503.6L1136.5,503.5L1138.7,503.5L1141.0,503.4L1143.2,503.4L1145.5,503.4L1158.9,784.8L1160.0,784.8L1160.0,787.8L1161.9,787.8L1161.9,786.3L1161.9,773.6L1163.8,773.6L1163.8,772.9L1163.8,769.5L1165.6,769.5L1165.6,770.0L1165.6,764.2L1167.5,764.2L1167.5,766.3L1167.5,742.9L1169.4,742.9L1169.4,743.1L1169.4,742.8L1171.2,742.8L1171.2,742.3L1171.2,723.4L1173.1,723.4L1173.1,725.4L1173.1,721.7L1175.0,721.7L1175.0,721.3L1175.0,725.7L1176.8,725.7L1176.8,725.5L1176.8,722.7L1178.7,722.7L1178.7,722.5L1178.7,725.1L1180.6,725.1L1180.6,724.2L1180.6,789.8L1182.4,789.8L1182.4,789.7L1182.4,780.0L1184.3,780.0L1184.3,781.2L1184.3,778.2L1186.2,778.2L1186.2,780.8L1186.2,780.5L1188.0,780.5L1188.0,779.9L1188.0,778.7L1189.9,778.7L1189.9,778.9L1191.8,778.9L1191.8,779.8L1191.8,782.4L1193.6,782.4L1193.6,781.2L1193.6,796.8L1195.5,796.8L1195.5,797.2L1195.5,780.5L1197.4,780.5L1197.4,780.8L1197.4,797.7L1199.2,797.7L1199.2,796.1L1199.2,779.0L1201.1,779.0L1201.1,778.8L1201.1,779.8L1203.0,779.8L1203.0,781.1L1203.0,753.4L1204.8,753.4L1204.8,754.7L1204.9,781.2L1206.7,781.2L1206.7,781.8L1206.7,779.5L1208.6,779.5L1208.6,780.6L1208.6,777.3L1210.5,777.3L1210.5,777.9L1210.5,780.4L1212.3,780.4L1212.3,780.0L1212.3,780.8L1214.2,780.8L1214.2,780.1L1214.2,781.8L1216.1,781.8L1216.1,782.0L1216.1,778.7L1217.9,778.7L1217.9,779.1L1217.9,781.2L1219.8,781.2L1219.8,780.5L1219.8,781.2L1221.7,781.2L1221.7,782.1L1221.7,760.0L1223.5,760.0L1223.5,759.3L1223.5,781.8L1225.4,781.8L1225.4,782.2L1225.4,804.9L1227.3,804.9L1227.3,804.7L1227.3,812.0L1229.1,812.0L1229.1,812.1L1229.1,779.7L1231.0,779.7L1231.0,778.1L1231.0,780.2L1232.9,780.2L1232.9,778.0L1232.9,779.6L1234.7,779.6L1234.7,780.9L1234.7,779.1L1236.6,779.1L1236.6,778.8L1236.6,817.7L1238.5,817.7L1238.5,815.2L1238.5,781.4L1240.3,781.4L1240.3,782.0L1240.3,779.3L1242.2,779.3L1242.2,779.7L1242.2,778.3L1244.1,778.3L1244.1,778.0L1244.1,782.4L1245.9,782.4L1245.9,782.0L1245.9,778.7L1247.8,778.7L1247.8,779.7L1247.8,777.7L1249.7,777.7L1249.7,778.3L1249.7,781.1L1251.5,781.1L1251.5,779.8L1251.5,779.7L1253.4,779.7L1253.4,779.8L1253.4,781.1L1255.3,781.1L1255.3,799.6L1257.1,799.6L1257.1,800.5L1257.1,782.4L1259.0,782.4L1259.0,780.9L1259.0,780.6L1260.9,780.6L1260.9,779.6L1260.9,780.7L1262.7,780.7L1262.7,779.7L1264.6,779.7L1264.6,781.4L1264.6,817.7L1266.5,817.7L1266.5,819.0L1266.5,780.8L1268.3,780.8L1268.3,780.1L1268.3,777.9L1270.2,777.9L1270.2,779.5L1270.2,816.4L1272.1,816.4L1272.1,817.4L1272.1,759.3L1273.9,759.3L1273.9,759.1L1273.9,741.0L1275.8,741.0L1275.8,740.7L1275.8,817.2L1277.7,817.2L1277.7,816.2L1277.7,779.8L1279.5,779.8L1279.5,781.4L1279.5,779.5L1281.4,779.5L1281.4,779.4L1281.4,779.9L1283.3,779.9L1283.3,780.4L1285.1,780.4L1285.1,778.3L1285.1,798.7L1287.0,798.7L1287.0,797.9L1287.0,741.0L1288.9,741.0L1288.9,741.3L1288.9,780.6L1290.7,780.6L1290.7,778.6L1290.7,795.3L1292.6,795.3L1292.6,798.4L1292.6,743.6L1294.5,743.6L1294.5,743.7L1294.5,780.2L1296.3,780.2L1296.3,779.8L1296.4,779.6L1298.2,779.6L1298.2,779.2L1298.2,779.7L1300.1,779.7L1300.1,781.5L1300.1,822.1L1302.0,822.1L1302.0,820.3L1302.0,824.4L1303.8,824.4L1303.8,825.5L1303.8,782.6L1305.7,782.6L1305.7,783.1L1305.7,779.2L1307.6,779.2L1307.6,779.1L1307.6,781.0L1309.4,781.0L1309.4,778.7L1309.4,754.7L1311.3,754.7L1311.3,756.0L1311.3,780.8L1313.2,780.8L1313.2,779.9L1313.2,781.6L1315.0,781.6L1315.0,781.4L1315.0,779.1L1316.9,779.1L1316.9,779.8L1316.9,819.3L1318.8,819.3L1318.8,818.5L1318.8,778.9L1320.6,778.9L1320.6,780.7L1322.5,780.7L1322.5,779.6L1322.5,779.9L1324.4,779.9L1324.4,779.3L1324.4,796.0L1326.2,796.0L1326.2,796.3L1326.2,779.9L1328.1,779.9L1328.1,779.7L1328.1,782.3L1330.0,782.3L1330.0,780.1L1330.0,780.6L1331.8,780.6L1331.8,780.0L1331.8,781.2L1333.7,781.2L1333.7,782.6L1333.7,778.7L1335.6,778.7L1335.6,778.2L1335.6,738.0L1337.4,738.0L1337.4,737.5L1337.4,779.6L1339.3,779.6L1339.3,777.7" stroke="#EDB120"/>
<path d="M801.5,786.1L803.4,786.1L803.4,785.3L803.4,786.3L805.2,786.3L805.2,787.9L805.2,786.5L807.1,786.5L807.1,783.8L807.1,818.1L809.0,818.1L809.0,817.1L809.0,813.7L810.8,813.7L810.8,816.0L810.8,803.9L812.7,803.9L812.7,804.6L812.7,781.8L814.6,781.8L814.6,783.4L814.6,806.8L816.4,806.8L816.4,809.1L816.4,781.8L818.3,781.8L818.3,783.2L818.3,785.8L820.2,785.8L820.2,785.7L820.2,787.8L822.0,787.8L822.0,785.1L822.0,786.1L823.9,786.1L823.9,786.7L823.9,803.5L825.8,803.5L825.8,805.7L825.8,782.0L827.6,782.0L827.6,782.2L827.6,820.8L829.5,820.8L829.5,820.6L829.5,785.5L831.4,785.5L831.4,783.5L831.4,786.2L833.2,786.2L833.2,786.4L833.2,806.6L835.1,806.6L835.1,805.9L835.1,786.0L837.0,786.0L837.0,784.0L837.0,782.7L838.8,782.7L838.8,784.0L838.8,785.3L840.7,785.3L840.7,784.3L840.7,782.4L842.6,782.4L842.6,784.6L842.6,746.8L844.4,746.8L844.4,748.6L844.4,781.5L846.3,781.5L846.3,784.2L846.3,784.5L848.2,784.5L848.2,787.0L850.1,787.0L850.1,787.3L850.1,784.1L851.9,784.1L851.9,783.7L851.9,815.8L853.8,815.8L853.8,815.7L853.8,823.6L855.7,823.6L855.7,821.5L855.7,783.9L857.5,783.9L859.4,783.9L859.4,784.7L859.4,785.3L861.3,785.3L861.3,782.9L861.3,785.6L863.1,785.6L863.1,784.8L863.1,781.2L865.0,781.2L865.0,782.1L865.0,784.0L866.9,784.0L866.9,785.3L866.9,823.5L868.7,823.5L868.7,824.9L868.7,782.5L870.6,782.5L870.6,783.1L870.6,783.9L872.5,783.9L872.5,787.1L872.5,784.1L874.3,784.1L874.3,785.3L874.3,814.8L876.2,814.8L876.2,815.2L876.2,804.5L878.1,804.5L878.1,803.9L878.1,826.4L879.9,826.4L879.9,839.4L879.9,808.2L881.8,808.2L881.8,781.8L883.7,781.8L883.7,783.9L883.7,815.0L885.5,815.0L885.5,814.7L885.5,782.3L887.4,782.3L887.4,784.5L889.3,784.5L889.3,786.4L891.1,786.4L891.1,786.6L891.1,784.0L893.0,784.0L893.0,783.3L893.0,787.7L894.9,787.7L894.9,786.4L894.9,806.7L896.7,806.7L896.7,808.4L896.7,816.3L898.6,816.3L898.6,814.9L898.6,785.4L900.5,785.4L900.5,787.0L900.5,815.6L902.3,815.6L902.3,813.0L902.3,785.5L904.2,785.5L904.2,784.1L904.2,785.5L906.1,785.5L906.1,782.3L906.1,784.6L907.9,784.6L907.9,783.6L907.9,785.2L909.8,785.2L909.8,786.3L909.8,784.1L911.7,784.1L911.7,782.2L911.7,784.2L913.5,784.2L913.5,784.7L913.5,783.9L915.4,783.9L915.4,785.6L915.4,820.9L917.3,820.9L917.3,822.6L917.3,803.2L919.1,803.2L919.1,804.0L919.1,804.4L921.0,804.4L921.0,795.7L922.9,795.7L922.9,809.3L922.9,804.8L924.7,804.8L924.7,807.3L924.7,811.2L926.6,811.2L926.6,812.9L926.6,846.5L928.5,846.5L928.5,828.5L928.5,785.3L930.3,785.3L930.3,785.5L930.3,752.9L932.2,752.9L932.2,756.1L932.2,785.0L934.1,785.0L934.1,785.6L934.1,784.0L935.9,784.0L935.9,781.2L935.9,785.3L937.8,785.3L937.8,783.8L937.8,803.2L939.7,803.2L939.7,802.6L939.7,785.4L941.6,785.4L941.6,784.5L941.6,787.2L943.4,787.2L943.4,786.1L943.4,832.2L945.3,832.2L945.3,832.8L945.3,784.8L947.2,784.8L947.2,785.4L947.2,787.8L949.0,787.8L949.0,786.9L949.0,782.4L950.9,782.4L950.9,783.0L950.9,785.0L952.8,785.0L952.8,782.4L952.8,785.6L954.6,785.6L954.6,786.0L954.6,783.5L956.5,783.5L956.5,782.9L956.5,782.0L958.4,782.0L958.4,783.0L958.4,784.4L960.2,784.4L960.2,786.1L960.2,782.6L962.1,782.6L962.1,784.2L962.1,784.1L964.0,784.1L964.0,782.4L964.0,784.4L965.8,784.4L965.8,784.4L965.8,784.5L967.7,784.5L967.7,784.3L967.7,781.8L969.6,781.8L969.6,783.0L969.6,780.2L971.4,780.2L971.4,779.8L971.4,771.8L973.3,771.8L973.3,770.7L975.2,770.7L975.2,762.2L975.2,762.3L977.0,762.3L977.0,759.7L977.0,749.7L978.9,749.7L978.9,750.7L978.9,735.5L980.8,735.5L980.8,738.5L980.8,792.4L981.9,792.4L990.9,503.0L995.3,503.0L998.7,560.0L1002.1,503.0L1006.5,600.4L1009.9,503.0L1014.4,614.2L1018.9,511.5L1021.1,510.6L1023.3,510.9L1025.6,510.7L1027.8,512.0L1030.1,512.3L1032.3,514.1L1034.5,514.3L1036.8,514.5L1039.0,514.7L1041.3,514.0L1043.5,515.5L1045.8,512.8L1048.0,512.9L1050.2,513.0L1052.5,513.4L1054.7,515.4L1057.0,512.3L1059.2,516.1L1061.4,515.3L1063.7,515.4L1065.9,515.4L1068.2,515.4L1070.4,515.5L1072.6,515.4L1074.9,515.4L1077.1,514.4L1079.4,514.4L1081.6,514.4L1083.8,514.7L1086.1,514.6L1088.3,512.7L1090.6,512.8L1092.8,515.1L1095.0,516.6L1097.3,516.4L1099.5,512.6L1101.8,514.1L1104.0,514.0L1106.3,515.6L1108.5,513.1L1110.7,511.5L1113.0,511.4L1115.2,511.2L1117.5,514.8L1119.7,514.6L1121.9,510.6L1124.2,510.4L1126.4,514.6L1128.7,511.6L1130.9,511.3L1133.1,509.9L1135.4,509.6L1137.6,511.4L1139.9,511.3L1142.1,508.6L1148.8,503.0L1160.0,791.2L1161.9,791.2L1161.9,793.8L1161.9,777.5L1163.8,777.5L1163.8,777.4L1163.8,772.0L1165.6,772.0L1165.6,773.5L1165.6,769.8L1167.5,769.8L1167.5,767.8L1167.5,744.0L1169.4,744.0L1169.4,744.1L1169.4,754.9L1171.2,754.9L1171.2,744.8L1171.2,725.7L1173.1,725.7L1173.1,726.5L1173.1,723.5L1175.0,723.5L1175.0,723.5L1175.0,725.7L1176.8,725.7L1176.8,728.0L1176.8,724.3L1178.7,724.3L1178.7,722.7L1178.7,725.4L1180.6,725.4L1180.6,725.9L1180.6,795.7L1182.4,795.7L1182.4,797.3L1182.4,785.1L1184.3,785.1L1184.3,783.5L1184.3,785.1L1186.2,785.1L1186.2,784.6L1186.2,785.0L1188.0,785.0L1188.0,786.4L1188.0,784.4L1189.9,784.4L1189.9,802.1L1191.8,802.1L1191.8,783.8L1191.8,787.9L1193.6,787.9L1193.6,785.0L1193.6,804.0L1195.5,804.0L1195.5,802.4L1195.5,784.5L1197.4,784.5L1197.4,786.2L1197.4,802.7L1199.2,802.7L1199.2,804.5L1199.2,781.8L1201.1,781.8L1201.1,782.1L1201.1,787.0L1203.0,787.0L1203.0,786.2L1203.0,757.3L1204.8,757.3L1204.8,756.5L1204.9,786.6L1206.7,786.6L1206.7,787.0L1206.7,785.6L1208.6,785.6L1208.6,786.7L1208.6,783.4L1210.5,783.4L1210.5,781.1L1210.5,786.8L1212.3,786.8L1212.3,784.5L1212.3,785.7L1214.2,785.7L1214.2,786.7L1214.2,787.1L1216.1,787.1L1216.1,786.8L1216.1,785.2L1217.9,785.2L1217.9,783.6L1217.9,785.2L1219.8,785.2L1219.8,785.1L1219.8,785.5L1221.7,785.5L1221.7,786.2L1221.7,761.4L1223.5,761.4L1223.5,761.5L1223.5,786.8L1225.4,786.8L1225.4,786.7L1225.4,811.0L1227.3,811.0L1227.3,812.1L1227.3,821.3L1229.1,821.3L1229.1,820.7L1229.1,782.4L1231.0,782.4L1231.0,784.9L1231.0,801.7L1232.9,801.7L1232.9,784.9L1232.9,783.8L1234.7,783.8L1234.7,785.6L1234.7,784.2L1236.6,784.2L1236.6,784.1L1236.6,825.3L1238.5,825.3L1238.5,823.6L1238.5,787.4L1240.3,787.4L1240.3,786.7L1240.3,783.1L1242.2,783.1L1242.2,782.5L1242.2,784.7L1244.1,784.7L1244.1,783.2L1244.1,794.1L1245.9,794.1L1245.9,785.7L1245.9,785.0L1247.8,785.0L1247.8,783.4L1247.8,784.6L1249.7,784.6L1249.7,782.1L1249.7,784.9L1251.5,784.9L1251.5,783.9L1253.4,783.9L1253.4,785.2L1253.4,784.5L1255.3,784.5L1255.3,786.3L1255.3,804.6L1257.1,804.6L1257.1,803.6L1257.1,785.4L1259.0,785.4L1259.0,786.3L1259.0,784.1L1260.9,784.1L1260.9,783.6L1260.9,783.9L1262.7,783.9L1262.7,783.2L1262.7,783.9L1264.6,783.9L1264.6,785.2L1264.6,827.8L1266.5,827.8L1266.5,827.7L1266.5,783.7L1268.3,783.7L1268.3,785.2L1268.3,784.7L1270.2,784.7L1270.2,783.8L1270.2,823.4L1272.1,823.4L1272.1,824.0L1272.1,762.0L1273.9,762.0L1273.9,760.7L1273.9,744.9L1275.8,744.9L1275.8,744.4L1275.8,824.7L1277.7,824.7L1277.7,825.8L1277.7,784.9L1279.5,784.9L1279.5,784.5L1279.5,785.7L1281.4,785.7L1281.4,784.2L1281.4,783.6L1283.3,783.6L1283.3,784.3L1283.3,785.0L1285.1,785.0L1285.1,784.1L1285.1,805.0L1287.0,805.0L1287.0,804.0L1287.0,742.5L1288.9,742.5L1288.9,741.9L1288.9,785.3L1290.7,785.3L1290.7,785.6L1290.7,801.4L1292.6,801.4L1292.6,803.1L1292.6,746.6L1294.5,746.6L1294.5,743.7L1294.5,784.0L1296.3,784.0L1296.3,783.8L1296.4,784.8L1298.2,784.8L1298.2,785.9L1298.2,784.5L1300.1,784.5L1300.1,784.7L1300.1,831.0L1302.0,831.0L1302.0,839.6L1302.0,833.3L1303.8,833.3L1303.8,831.0L1303.8,787.1L1305.7,787.1L1305.7,787.5L1305.7,783.7L1307.6,783.7L1307.6,784.7L1307.6,784.6L1309.4,784.6L1309.4,784.4L1309.4,758.3L1311.3,758.3L1311.3,759.5L1311.3,784.9L1313.2,784.9L1313.2,784.5L1313.2,787.7L1315.0,787.7L1315.0,787.1L1315.0,781.3L1316.9,781.3L1316.9,782.2L1316.9,827.6L1318.8,827.6L1318.8,826.9L1318.8,782.3L1320.6,782.3L1320.6,791.3L1320.6,801.4L1322.5,801.4L1322.5,785.9L1322.5,784.1L1324.4,784.1L1324.4,784.6L1324.4,802.6L1326.2,802.6L1326.2,801.2L1326.2,784.8L1328.1,784.8L1328.1,784.4L1330.0,784.4L1330.0,784.6L1330.0,785.9L1331.8,785.9L1331.8,785.8L1331.8,785.3L1333.7,785.3L1333.7,786.3L1333.7,784.5L1335.6,784.5L1335.6,782.4L1335.6,737.9L1337.4,737.9L1337.4,737.6L1337.4,784.0L1339.3,784.0L1339.3,783.5" stroke="#7E2F8E"/>
<path d="M801.5,818.8L803.4,818.8L803.4,820.3L803.4,822.8L805.2,822.8L805.2,821.3L805.2,822.2L807.1,822.2L807.1,822.3L807.1,821.0L809.0,821.0L809.0,829.6L810.8,829.6L810.8,828.1L810.8,823.0L812.7,823.0L812.7,821.4L812.7,821.2L814.6,821.2L814.6,833.4L814.6,822.4L816.4,822.4L816.4,821.9L816.4,821.2L818.3,821.2L818.3,824.0L818.3,822.1L820.2,822.1L820.2,827.4L820.2,820.2L822.0,820.2L822.0,823.0L822.0,821.3L823.9,821.3L823.9,820.4L823.9,833.2L825.8,833.2L825.8,821.3L825.8,819.1L827.6,819.1L827.6,820.2L827.6,821.3L829.5,821.3L829.5,820.0L829.5,822.2L831.4,822.2L831.4,812.5L831.4,822.6L833.2,822.6L833.2,826.9L833.2,820.3L835.1,820.3L835.1,820.9L835.1,825.7L837.0,825.7L837.0,825.0L837.0,821.7L838.8,821.7L838.8,820.6L838.8,827.1L840.7,827.1L840.7,821.1L840.7,835.1L842.6,835.1L842.6,820.6L842.6,818.5L844.4,818.5L844.4,822.1L846.3,822.1L846.3,828.2L846.3,821.0L848.2,821.0L848.2,821.6L848.2,826.6L850.1,826.6L850.1,822.2L850.1,821.1L851.9,821.1L851.9,821.7L851.9,823.3L853.8,823.3L853.8,823.5L853.8,812.1L855.7,812.1L855.7,837.9L855.7,823.0L857.5,823.0L857.5,821.2L857.5,819.0L859.4,819.0L859.4,822.3L859.4,821.4L861.3,821.4L861.3,822.6L861.3,819.6L863.1,819.6L863.1,819.9L863.1,821.0L865.0,821.0L865.0,814.0L865.0,819.5L866.9,819.5L866.9,818.9L866.9,824.3L868.7,824.3L868.7,820.9L868.7,821.4L870.6,821.4L870.6,822.5L872.5,822.5L872.5,819.5L872.5,820.5L874.3,820.5L874.3,819.2L874.3,822.6L876.2,822.6L876.2,822.2L876.2,822.3L878.1,822.3L878.1,820.1L878.1,824.2L879.9,824.2L879.9,828.9L879.9,830.6L881.8,830.6L881.8,820.7L881.8,807.9L883.7,807.9L883.7,822.2L883.7,823.3L885.5,823.3L885.5,824.7L885.5,826.8L887.4,826.8L887.4,821.4L887.4,821.6L889.3,821.6L889.3,819.1L889.3,824.7L891.1,824.7L891.1,821.5L891.1,822.4L893.0,822.4L893.0,811.6L893.0,820.3L894.9,820.3L894.9,813.7L894.9,819.6L896.7,819.6L896.7,819.9L896.7,821.3L898.6,821.3L898.6,829.8L898.6,818.6L900.5,818.6L900.5,818.8L900.5,823.6L902.3,823.6L902.3,820.2L902.3,809.6L904.2,809.6L904.2,821.8L904.2,820.1L906.1,820.1L906.1,819.2L906.1,830.8L907.9,830.8L907.9,820.6L907.9,820.4L909.8,820.4L909.8,821.6L909.8,819.8L911.7,819.8L911.7,822.4L911.7,819.5L913.5,819.5L913.5,818.6L913.5,821.4L915.4,821.4L915.4,820.8L915.4,821.6L917.3,821.6L917.3,821.7L917.3,823.0L919.1,823.0L919.1,822.0L919.1,820.0L921.0,820.0L921.0,820.2L921.0,821.7L922.9,821.7L922.9,822.4L922.9,820.9L924.7,820.9L924.7,823.0L924.7,822.4L926.6,822.4L926.6,823.1L926.6,806.6L928.5,806.6L928.5,823.9L928.5,819.3L930.3,819.3L930.3,812.6L930.3,821.3L932.2,821.3L932.2,818.6L932.2,826.0L934.1,826.0L934.1,819.8L934.1,822.0L935.9,822.0L935.9,822.2L935.9,822.1L937.8,822.1L937.8,821.3L937.8,824.7L939.7,824.7L939.7,832.5L939.7,822.9L941.6,822.9L941.6,821.9L941.6,820.9L943.4,820.9L943.4,819.3L943.4,821.4L945.3,821.4L945.3,821.2L945.3,831.6L947.2,831.6L947.2,820.3L947.2,819.3L949.0,819.3L949.0,819.9L949.0,820.3L950.9,820.3L950.9,819.6L950.9,819.2L952.8,819.2L952.8,819.9L952.8,806.9L954.6,806.9L954.6,822.9L954.6,820.1L956.5,820.1L956.5,822.8L956.5,822.3L958.4,822.3L958.4,833.9L958.4,827.0L960.2,827.0L960.2,819.7L960.2,821.5L962.1,821.5L962.1,815.8L962.1,819.8L964.0,819.8L964.0,833.0L964.0,819.0L965.8,819.0L965.8,822.2L965.8,821.1L967.7,821.1L967.7,821.5L967.7,821.8L969.6,821.8L969.6,822.3L971.4,822.2L971.4,821.0L971.4,820.3L973.3,820.3L973.3,826.5L973.3,826.4L975.2,826.4L975.2,819.2L975.2,819.4L977.0,819.4L977.0,818.0L977.0,822.3L978.9,822.3L978.9,821.6L978.9,810.5L980.8,810.5L980.8,819.4L980.8,820.7L981.9,820.7L996.5,565.8L998.7,562.5L1000.9,565.8L1003.2,568.4L1005.4,568.0L1007.7,571.4L1009.9,573.6L1012.1,575.8L1014.4,577.1L1016.6,578.3L1018.9,578.7L1021.1,578.1L1023.3,579.2L1025.6,580.3L1027.8,581.3L1030.1,584.0L1032.3,582.4L1034.5,583.3L1036.8,584.3L1039.0,583.3L1041.3,587.0L1043.5,587.7L1045.8,586.7L1048.0,587.8L1050.2,588.2L1052.5,588.2L1054.7,591.8L1057.0,591.5L1059.2,591.8L1061.4,591.3L1063.7,591.5L1065.9,591.8L1068.2,588.9L1070.4,591.6L1072.6,591.5L1074.9,592.5L1077.1,592.4L1079.4,592.3L1081.6,592.1L1083.8,589.6L1086.1,590.3L1088.3,590.0L1090.6,589.6L1092.8,588.9L1095.0,591.4L1097.3,591.6L1099.5,590.5L1101.8,587.0L1104.0,586.5L1106.3,589.3L1108.5,588.4L1110.7,583.2L1113.0,582.5L1115.2,581.8L1117.5,581.0L1119.7,580.2L1121.9,579.3L1124.2,582.2L1126.4,582.2L1128.7,578.3L1130.9,577.1L1133.1,576.7L1135.4,575.6L1137.6,574.4L1139.9,573.2L1142.1,572.0L1144.3,570.1L1157.8,760.0L1162.3,815.0L1165.6,821.0L1167.5,821.0L1167.5,819.0L1167.5,819.1L1169.4,819.1L1169.4,818.9L1169.4,821.5L1171.2,821.5L1171.2,817.3L1171.2,817.4L1173.1,817.4L1173.1,817.8L1173.1,824.0L1175.0,824.0L1175.0,818.7L1175.0,818.9L1176.8,818.9L1176.8,817.1L1176.8,819.0L1178.7,819.0L1178.7,817.5L1178.7,817.1L1180.6,817.1L1180.6,817.3L1180.6,822.2L1182.4,822.2L1182.4,825.2L1182.4,819.1L1184.3,819.1L1184.3,816.7L1184.3,821.6L1186.2,821.6L1186.2,822.5L1186.2,818.8L1188.0,818.8L1188.0,819.2L1188.0,820.7L1189.9,820.7L1189.9,819.0L1189.9,822.6L1191.8,822.6L1191.8,823.0L1191.8,821.6L1193.6,821.6L1193.6,827.6L1193.6,817.9L1195.5,817.9L1195.5,823.2L1195.5,821.4L1197.4,821.4L1197.4,822.9L1197.4,822.2L1199.2,822.2L1199.2,823.2L1199.2,833.6L1201.1,833.6L1201.1,828.3L1201.1,822.7L1203.0,822.7L1203.0,822.9L1203.0,834.4L1204.8,834.4L1204.8,820.8L1204.9,819.8L1206.7,819.8L1206.7,821.4L1206.7,824.9L1208.6,824.9L1208.6,824.0L1208.6,820.9L1210.5,820.9L1210.5,821.4L1210.5,822.0L1212.3,822.0L1212.3,827.3L1212.3,821.4L1214.2,821.4L1214.2,821.6L1214.2,822.3L1216.1,822.3L1216.1,820.0L1216.1,822.7L1217.9,822.7L1217.9,825.5L1217.9,822.3L1219.8,822.3L1219.8,827.4L1219.8,819.1L1221.7,819.1L1221.7,811.4L1221.7,821.9L1223.5,821.9L1223.5,829.7L1223.5,821.7L1225.4,821.7L1225.4,815.1L1225.4,821.7L1227.3,821.7L1227.3,823.2L1227.3,821.7L1229.1,821.7L1229.1,821.5L1229.1,811.9L1231.0,811.9L1231.0,822.3L1231.0,820.4L1232.9,820.4L1232.9,819.9L1232.9,829.2L1234.7,829.2L1234.7,818.8L1234.7,828.5L1236.6,828.5L1236.6,818.8L1236.6,822.8L1238.5,822.8L1238.5,824.0L1238.5,820.2L1240.3,820.2L1240.3,822.1L1240.3,820.1L1242.2,820.1L1242.2,822.7L1242.2,820.0L1244.1,820.0L1244.1,820.1L1244.1,820.3L1245.9,820.3L1245.9,821.0L1245.9,816.3L1247.8,816.3L1247.8,820.5L1247.8,820.2L1249.7,820.2L1249.7,818.6L1249.7,830.0L1251.5,830.0L1251.5,820.7L1251.5,822.6L1253.4,822.6L1253.4,821.2L1253.4,825.6L1255.3,825.6L1255.3,821.7L1255.3,822.9L1257.1,822.9L1257.1,830.7L1257.1,820.4L1259.0,820.4L1259.0,822.6L1259.0,821.7L1260.9,821.7L1260.9,818.6L1260.9,819.5L1262.7,819.5L1262.7,818.8L1262.7,826.2L1264.6,826.2L1264.6,825.6L1264.6,821.9L1266.5,821.9L1266.5,830.7L1266.5,821.6L1268.3,821.6L1268.3,820.4L1268.3,820.8L1270.2,820.8L1270.2,818.9L1270.2,824.4L1272.1,824.4L1272.1,822.8L1272.1,822.0L1273.9,822.0L1273.9,828.6L1273.9,818.6L1275.8,818.6L1275.8,817.7L1275.8,824.3L1277.7,824.3L1277.7,821.5L1277.7,822.3L1279.5,822.3L1279.5,824.8L1279.5,832.9L1281.4,832.9L1281.4,821.9L1281.4,821.5L1283.3,821.5L1283.3,819.1L1285.1,819.1L1285.1,819.9L1285.1,822.0L1287.0,822.0L1287.0,828.6L1287.0,820.4L1288.9,820.4L1288.9,818.7L1288.9,822.9L1290.7,822.9L1290.7,819.6L1290.7,821.3L1292.6,821.3L1292.6,823.3L1292.6,818.0L1294.5,818.0L1294.5,820.2L1294.5,821.5L1296.3,821.5L1296.3,818.9L1296.4,822.0L1298.2,822.0L1298.2,829.9L1298.2,821.5L1300.1,821.5L1300.1,828.6L1300.1,822.1L1302.0,822.1L1302.0,818.9L1302.0,821.2L1303.8,821.2L1303.8,822.9L1303.8,830.7L1305.7,830.7L1305.7,819.2L1305.7,818.7L1307.6,818.7L1307.6,820.3L1307.6,815.4L1309.4,815.4L1309.4,806.3L1309.4,817.9L1311.3,817.9L1311.3,821.5L1311.3,824.6L1313.2,824.6L1313.2,821.2L1313.2,820.0L1315.0,820.0L1315.0,821.4L1315.0,832.3L1316.9,832.3L1316.9,811.1L1316.9,824.4L1318.8,824.4L1318.8,825.9L1320.6,825.9L1320.6,820.4L1320.6,819.3L1322.5,819.3L1322.5,819.9L1322.5,821.3L1324.4,821.3L1324.4,820.0L1324.4,823.0L1326.2,823.0L1326.2,822.3L1326.2,821.2L1328.1,821.2L1328.1,829.6L1328.1,822.9L1330.0,822.9L1330.0,823.0L1330.0,819.0L1331.8,819.0L1331.8,821.9L1331.8,821.2L1333.7,821.2L1333.7,819.1L1333.7,820.4L1335.6,820.4L1335.6,811.0L1335.6,817.7L1337.4,817.7L1337.4,817.7L1337.4,819.9L1339.3,819.9L1339.3,836.2" stroke="#77AC30"/>
<path d="M801.5,849.9L803.4,849.9L803.4,849.8L803.4,850.2L805.2,850.2L805.2,850.3L805.2,849.8L807.1,849.8L807.1,850.0L807.1,850.3L809.0,850.3L809.0,849.9L809.0,850.1L810.8,850.1L810.8,849.7L812.7,849.7L812.7,850.0L814.6,850.0L814.6,849.7L814.6,850.0L816.4,850.0L816.4,850.2L818.3,850.2L818.3,850.3L818.3,849.9L820.2,849.9L820.2,850.2L820.2,850.0L822.0,850.0L822.0,850.3L822.0,850.0L823.9,850.0L823.9,849.9L825.8,849.9L825.8,850.1L827.6,850.1L827.6,849.9L827.6,849.8L829.5,849.8L829.5,850.2L829.5,850.1L831.4,850.1L831.4,849.8L833.2,849.8L833.2,850.1L833.2,849.8L835.1,849.8L835.1,850.3L835.1,850.1L837.0,850.1L837.0,849.9L837.0,849.8L838.8,849.8L838.8,850.1L838.8,850.2L840.7,850.2L840.7,849.9L840.7,850.0L842.6,850.0L842.6,850.1L842.6,849.9L844.4,849.9L844.4,849.8L846.3,849.8L846.3,849.9L846.3,850.1L848.2,850.1L848.2,849.7L850.1,849.7L850.1,850.3L850.1,849.8L851.9,849.8L851.9,850.2L853.8,850.1L853.8,850.2L853.8,850.1L855.7,850.1L855.7,850.2L855.7,849.9L857.5,849.9L857.5,850.3L857.5,849.7L859.4,849.7L859.4,850.0L861.3,850.1L861.3,850.0L861.3,849.9L863.1,849.9L863.1,850.0L865.0,850.0L865.0,850.2L865.0,849.7L866.9,849.7L866.9,850.1L868.7,850.2L868.7,850.0L868.7,850.2L870.6,850.2L870.6,850.0L870.6,849.7L872.5,849.7L872.5,849.9L872.5,849.7L874.3,849.7L874.3,850.0L874.3,850.1L876.2,850.1L876.2,849.7L876.2,849.8L878.1,849.8L878.1,850.3L878.1,850.1L879.9,850.1L879.9,849.8L879.9,850.2L881.8,850.2L881.8,850.1L881.8,850.3L883.7,850.3L883.7,849.9L883.7,849.8L885.5,849.8L885.5,849.8L887.4,849.8L887.4,850.0L887.4,849.7L889.3,849.7L889.3,849.8L891.1,849.8L891.1,850.2L893.0,850.2L893.0,849.8L893.0,850.1L894.9,850.1L894.9,849.9L894.9,849.7L896.7,849.7L896.7,850.1L896.7,849.8L898.6,849.8L898.6,850.1L898.6,849.9L900.5,849.9L902.3,849.9L902.3,850.0L904.2,850.0L904.2,849.9L906.1,849.9L906.1,850.0L906.1,849.9L907.9,849.9L907.9,850.3L909.8,850.3L909.8,850.0L909.8,849.7L911.7,849.7L911.7,850.0L911.7,849.8L913.5,849.8L913.5,850.1L913.5,849.7L915.4,849.7L915.4,850.1L915.4,849.8L917.3,849.8L917.3,850.3L917.3,850.1L919.1,850.1L919.1,850.0L919.1,850.1L921.0,850.1L921.0,850.2L922.9,850.2L922.9,850.2L922.9,850.1L924.7,850.1L924.7,850.2L926.6,850.2L926.6,849.9L926.6,850.2L928.5,850.2L928.5,850.1L928.5,849.7L930.3,849.7L930.3,850.2L930.3,849.8L932.2,849.8L932.2,850.0L932.2,849.8L934.1,849.8L934.1,850.2L934.1,850.0L935.9,850.0L935.9,850.3L935.9,850.2L937.8,850.2L937.8,850.3L939.7,850.3L939.7,849.9L941.6,849.8L941.6,850.2L943.4,850.2L943.4,849.9L943.4,849.8L945.3,849.8L945.3,850.0L947.2,849.9L947.2,850.1L949.0,850.0L949.0,849.9L949.0,849.8L950.9,849.8L950.9,850.2L950.9,850.1L952.8,850.1L952.8,849.9L952.8,850.2L954.6,850.2L954.6,849.8L954.6,850.0L956.5,850.0L956.5,849.8L958.4,849.8L958.4,849.8L958.4,850.3L960.2,850.3L960.2,849.7L960.2,849.9L962.1,849.9L962.1,850.3L962.1,850.0L964.0,850.0L964.0,850.3L964.0,849.9L965.8,849.9L965.8,850.1L967.7,850.1L967.7,849.8L967.7,849.8L969.6,849.8L969.6,850.1L971.4,850.1L971.4,849.9L971.4,850.3L973.3,850.3L973.3,850.0L973.3,849.8L975.2,849.8L975.2,849.9L975.2,849.8L977.0,849.8L977.0,849.8L977.0,850.3L978.9,850.3L978.9,850.0L978.9,849.7L980.8,849.7L980.8,850.2L980.8,850.2L981.9,850.2L994.2,546.1L996.5,547.2L998.7,546.8L1000.9,551.8L1003.2,552.6L1005.4,553.0L1007.7,553.9L1009.9,551.9L1012.1,552.6L1014.4,553.4L1016.6,555.4L1018.9,557.1L1021.1,556.1L1023.3,559.5L1025.6,560.2L1027.8,558.8L1030.1,558.4L1032.3,557.8L1034.5,563.1L1036.8,563.6L1039.0,564.0L1041.3,560.8L1043.5,561.2L1045.8,561.6L1048.0,565.4L1050.2,565.7L1052.5,566.0L1054.7,563.4L1057.0,563.6L1059.2,563.8L1061.4,563.9L1063.7,564.1L1065.9,563.2L1068.2,564.4L1070.4,566.4L1072.6,567.0L1074.9,566.9L1077.1,562.5L1079.4,562.4L1081.6,567.0L1083.8,565.8L1086.1,566.6L1088.3,565.3L1090.6,563.7L1092.8,560.9L1095.0,560.6L1097.3,560.2L1099.5,559.8L1101.8,564.2L1104.0,563.8L1106.3,563.4L1108.5,562.9L1110.7,562.3L1113.0,559.1L1115.2,556.8L1117.5,556.2L1119.7,559.6L1121.9,558.9L1124.2,556.8L1126.4,554.5L1128.7,555.3L1130.9,553.7L1133.1,550.4L1135.4,554.1L1137.6,552.9L1139.9,548.2L1142.1,547.2L1144.3,546.2L1146.6,545.3L1147.7,544.8L1155.6,849.8L1156.3,849.8L1156.3,849.9L1158.2,849.9L1158.2,849.7L1158.2,849.9L1160.0,849.9L1160.0,850.0L1160.0,849.9L1161.9,849.9L1161.9,849.7L1161.9,850.2L1163.8,850.2L1163.8,849.8L1165.6,849.8L1165.6,849.9L1165.6,850.1L1167.5,850.1L1167.5,850.0L1167.5,850.2L1169.4,850.2L1169.4,850.1L1169.4,849.7L1171.2,849.7L1171.2,850.1L1171.2,849.9L1173.1,849.9L1173.1,849.8L1175.0,849.8L1175.0,850.1L1175.0,849.8L1176.8,849.8L1176.8,850.3L1176.8,850.0L1178.7,850.0L1178.7,850.2L1178.7,850.1L1180.6,850.1L1180.6,849.8L1180.6,850.1L1182.4,850.1L1182.4,849.8L1184.3,849.8L1184.3,850.1L1184.3,849.9L1186.2,849.9L1186.2,850.1L1186.2,849.9L1188.0,849.9L1188.0,850.3L1188.0,850.1L1189.9,850.1L1189.9,849.9L1189.9,849.7L1191.8,849.7L1191.8,849.9L1191.8,850.0L1193.6,850.0L1193.6,849.8L1195.5,849.8L1195.5,849.7L1195.5,850.2L1197.4,850.2L1197.4,850.3L1197.4,849.8L1199.2,849.8L1199.2,849.9L1199.2,850.0L1201.1,850.0L1201.1,849.8L1201.1,850.2L1203.0,850.2L1203.0,850.1L1203.0,850.2L1204.8,850.2L1204.9,850.0L1206.7,850.0L1206.7,850.1L1206.7,849.8L1208.6,849.8L1208.6,850.0L1208.6,850.2L1210.5,850.2L1210.5,849.9L1210.5,850.0L1212.3,850.0L1212.3,849.9L1214.2,849.9L1214.2,850.0L1216.1,850.0L1216.1,850.1L1216.1,850.3L1217.9,850.3L1217.9,850.2L1217.9,849.8L1219.8,849.8L1219.8,849.9L1219.8,850.0L1221.7,850.0L1221.7,849.9L1221.7,850.2L1223.5,850.2L1223.5,850.0L1225.4,850.0L1225.4,850.2L1225.4,850.3L1227.3,850.3L1227.3,850.0L1227.3,850.1L1229.1,850.1L1229.1,849.9L1231.0,849.9L1231.0,850.2L1232.9,850.2L1232.9,850.1L1232.9,849.8L1234.7,849.8L1234.7,850.1L1236.6,850.0L1236.6,850.2L1238.5,850.1L1238.5,849.7L1238.5,850.2L1240.3,850.2L1240.3,850.1L1242.2,850.1L1242.2,849.9L1242.2,850.3L1244.1,850.3L1244.1,849.8L1244.1,850.1L1245.9,850.1L1245.9,850.2L1245.9,850.2L1247.8,850.2L1247.8,849.9L1247.8,850.2L1249.7,850.2L1249.7,849.8L1249.7,850.1L1251.5,850.1L1251.5,850.0L1253.4,850.0L1253.4,849.7L1253.4,850.0L1255.3,850.0L1255.3,849.9L1257.1,849.8L1257.1,850.0L1259.0,850.0L1259.0,850.2L1259.0,849.7L1260.9,849.7L1260.9,850.0L1260.9,850.2L1262.7,850.2L1262.7,849.8L1262.7,850.0L1264.6,850.0L1264.6,850.1L1264.6,849.8L1266.5,849.8L1266.5,849.9L1266.5,850.0L1268.3,850.0L1268.3,850.1L1268.3,850.0L1270.2,850.0L1270.2,849.9L1272.1,849.9L1272.1,849.8L1272.1,849.9L1273.9,849.9L1273.9,850.2L1273.9,850.0L1275.8,850.0L1275.8,850.1L1275.8,849.8L1277.7,849.8L1277.7,849.9L1279.5,849.9L1279.5,850.3L1279.5,849.8L1281.4,849.8L1281.4,850.1L1281.4,850.0L1283.3,850.0L1283.3,850.0L1285.1,850.0L1285.1,849.7L1287.0,849.7L1287.0,850.0L1287.0,849.7L1288.9,849.7L1288.9,850.0L1288.9,849.7L1290.7,849.7L1290.7,850.0L1290.7,849.9L1292.6,849.9L1292.6,849.8L1292.6,850.1L1294.5,850.1L1294.5,850.2L1296.3,850.2L1296.3,850.0L1296.4,850.0L1298.2,850.0L1298.2,849.9L1298.2,850.0L1300.1,850.0L1300.1,849.8L1300.1,850.3L1302.0,850.3L1302.0,849.8L1302.0,850.2L1303.8,850.2L1303.8,850.0L1303.8,850.2L1305.7,850.2L1307.6,850.2L1307.6,849.9L1307.6,850.2L1309.4,850.2L1309.4,850.1L1309.4,849.8L1311.3,849.8L1311.3,850.1L1311.3,850.3L1313.2,850.3L1313.2,850.2L1313.2,850.3L1315.0,850.3L1315.0,849.8L1315.0,850.2L1316.9,850.2L1316.9,850.3L1316.9,849.8L1318.8,849.8L1318.8,850.2L1318.8,849.8L1320.6,849.8L1320.6,850.1L1320.6,850.3L1322.5,850.3L1322.5,849.7L1322.5,850.0L1324.4,850.0L1324.4,849.8L1324.4,849.9L1326.2,849.9L1326.2,850.2L1326.2,850.2L1328.1,850.2L1328.1,850.0L1328.1,849.9L1330.0,849.9L1330.0,850.1L1330.0,850.2L1331.8,850.2L1331.8,849.9L1331.8,849.9L1333.7,849.9L1333.7,850.0L1333.7,850.3L1335.6,850.3L1335.6,850.2L1335.6,849.8L1337.4,849.8L1337.4,850.0L1339.3,850.0L1339.3,849.8" stroke="#4DBEEE"/>
<path d="M801.5,849.8L803.4,849.8L803.4,850.3L803.4,850.0L805.2,850.0L805.2,850.2L805.2,850.3L807.1,850.3L807.1,849.9L807.1,849.9L809.0,849.9L809.0,849.8L809.0,850.2L810.8,850.2L810.8,849.9L810.8,850.3L812.7,850.3L812.7,849.9L812.7,849.8L814.6,849.8L814.6,850.2L814.6,850.1L816.4,850.1L816.4,849.9L816.4,850.1L818.3,850.1L818.3,850.1L818.3,850.3L820.2,850.3L820.2,849.8L820.2,849.7L822.0,849.7L822.0,850.1L822.0,849.8L823.9,849.8L823.9,849.8L823.9,850.1L825.8,850.1L825.8,849.7L825.8,850.1L827.6,850.1L827.6,849.9L827.6,850.1L829.5,850.1L829.5,849.8L829.5,850.1L831.4,850.1L831.4,849.7L833.2,849.7L833.2,850.3L833.2,849.8L835.1,849.8L835.1,850.0L835.1,849.8L837.0,849.8L837.0,849.9L838.8,849.9L838.8,849.9L840.7,849.9L840.7,850.0L840.7,850.3L842.6,850.3L842.6,849.9L842.6,849.7L844.4,849.7L844.4,850.2L844.4,849.8L846.3,849.8L846.3,850.0L846.3,850.2L848.2,850.2L848.2,850.0L850.1,850.0L850.1,849.9L851.9,849.9L851.9,850.1L851.9,849.9L853.8,849.9L853.8,850.2L853.8,850.0L855.7,850.0L855.7,850.2L857.5,850.1L857.5,850.0L857.5,849.9L859.4,849.9L859.4,849.8L859.4,850.0L861.3,850.0L861.3,850.2L861.3,849.9L863.1,849.9L863.1,849.8L863.1,850.1L865.0,850.1L865.0,849.9L865.0,850.1L866.9,850.1L866.9,850.3L866.9,849.8L868.7,849.8L868.7,850.0L868.7,849.8L870.6,849.8L870.6,850.0L872.5,850.1L872.5,850.0L872.5,850.1L874.3,850.1L874.3,850.0L876.2,850.0L876.2,850.2L878.1,850.2L878.1,849.9L878.1,850.1L879.9,850.1L879.9,849.9L879.9,850.1L881.8,850.1L881.8,850.0L883.7,850.0L883.7,849.8L883.7,850.1L885.5,850.1L885.5,849.9L885.5,850.2L887.4,850.2L887.4,850.1L887.4,850.2L889.3,850.2L889.3,849.7L889.3,849.8L891.1,849.8L891.1,850.1L891.1,850.1L893.0,850.1L893.0,850.2L894.9,850.1L894.9,849.9L894.9,850.1L896.7,850.1L896.7,850.3L896.7,849.8L898.6,849.8L898.6,850.1L898.6,850.2L900.5,850.2L900.5,850.1L900.5,849.9L902.3,849.9L902.3,850.0L902.3,850.1L904.2,850.1L904.2,849.9L904.2,850.0L906.1,850.0L906.1,849.9L906.1,850.3L907.9,850.3L907.9,849.8L907.9,850.2L909.8,850.2L909.8,849.8L909.8,850.2L911.7,850.2L911.7,849.7L911.7,849.9L913.5,849.9L913.5,850.2L915.4,850.2L915.4,849.9L915.4,850.2L917.3,850.2L917.3,849.9L917.3,850.2L919.1,850.2L919.1,850.0L919.1,850.3L921.0,850.3L921.0,850.1L921.0,850.0L922.9,850.0L922.9,850.1L922.9,850.2L924.7,850.2L924.7,850.1L924.7,850.0L926.6,850.0L926.6,850.1L928.5,850.1L928.5,850.3L930.3,850.3L930.3,850.0L930.3,850.0L932.2,850.0L932.2,849.8L934.1,849.8L934.1,850.0L934.1,849.8L935.9,849.8L935.9,850.0L937.8,850.0L937.8,850.1L937.8,850.2L939.7,850.2L939.7,850.0L941.6,850.0L941.6,850.3L943.4,850.3L943.4,849.9L945.3,849.9L945.3,850.1L945.3,850.1L947.2,850.1L947.2,850.2L947.2,849.8L949.0,849.8L949.0,850.0L949.0,849.9L950.9,849.9L950.9,850.3L952.8,850.2L952.8,849.7L952.8,850.2L954.6,850.2L954.6,849.8L956.5,849.8L956.5,850.3L956.5,849.8L958.4,849.8L958.4,850.2L958.4,849.8L960.2,849.8L960.2,849.8L962.1,849.8L962.1,850.3L962.1,849.8L964.0,849.8L964.0,850.1L964.0,850.2L965.8,850.2L965.8,849.9L965.8,849.8L967.7,849.8L967.7,850.0L967.7,850.1L969.6,850.1L969.6,849.8L969.6,850.3L971.4,850.3L971.4,849.9L971.4,850.3L973.3,850.3L973.3,849.7L973.3,850.3L975.2,850.3L975.2,849.9L975.2,850.2L977.0,850.2L977.0,849.9L978.5,849.9L988.6,469.6L990.9,469.6L993.1,471.1L995.3,471.1L997.6,471.1L999.8,471.1L1002.1,468.8L1004.3,468.5L1006.5,469.9L1008.8,469.7L1011.0,468.8L1013.3,468.8L1015.5,468.8L1017.7,468.8L1020.0,470.2L1022.2,470.7L1024.5,468.9L1026.7,468.9L1028.9,471.3L1031.2,471.3L1033.4,470.4L1035.7,469.8L1037.9,471.5L1040.1,470.9L1042.4,470.4L1044.6,470.4L1046.9,468.4L1049.1,468.4L1051.4,468.4L1053.6,469.2L1055.8,469.2L1058.1,470.9L1060.3,470.9L1062.6,470.9L1064.8,470.9L1067.0,470.9L1069.3,470.9L1071.5,469.5L1073.8,469.1L1076.0,469.3L1078.2,468.3L1080.5,468.3L1082.7,468.7L1085.0,469.7L1087.2,469.4L1089.4,471.7L1091.7,470.1L1093.9,470.1L1096.2,471.1L1098.4,470.4L1100.7,468.8L1102.9,469.3L1105.1,471.3L1107.4,471.3L1109.6,471.3L1111.9,468.3L1114.1,470.6L1116.3,470.6L1118.6,470.6L1120.8,470.6L1123.1,470.7L1125.3,468.5L1127.5,468.5L1129.8,468.5L1132.0,469.2L1134.3,469.2L1136.5,469.9L1138.7,469.1L1141.0,468.8L1142.1,470.9L1161.2,850.2L1161.9,850.2L1163.8,850.2L1163.8,849.9L1163.8,850.0L1165.6,850.0L1165.6,850.1L1165.6,850.2L1167.5,850.2L1167.5,849.8L1167.5,850.0L1169.4,850.0L1169.4,850.2L1171.2,850.2L1171.2,849.8L1171.2,850.0L1173.1,850.0L1173.1,849.9L1175.0,850.0L1175.0,850.2L1175.0,849.9L1176.8,849.9L1176.8,850.1L1176.8,850.2L1178.7,850.2L1178.7,850.0L1178.7,849.8L1180.6,849.8L1180.6,850.2L1182.4,850.2L1182.4,850.1L1182.4,850.2L1184.3,850.2L1184.3,850.1L1184.3,850.2L1186.2,850.2L1186.2,850.0L1188.0,850.0L1188.0,849.9L1189.9,850.0L1189.9,850.1L1191.8,850.1L1191.8,849.7L1191.8,849.9L1193.6,849.9L1193.6,849.8L1193.6,849.8L1195.5,849.8L1195.5,850.2L1195.5,849.9L1197.4,849.9L1197.4,850.2L1199.2,850.2L1199.2,850.1L1199.2,850.2L1201.1,850.2L1201.1,849.8L1201.1,850.1L1203.0,850.1L1203.0,849.8L1203.0,849.9L1204.8,849.9L1204.8,850.2L1204.9,849.8L1206.7,849.8L1206.7,850.1L1206.7,849.7L1208.6,849.7L1208.6,850.1L1208.6,850.0L1210.5,850.0L1210.5,849.8L1210.5,849.9L1212.3,849.9L1212.3,850.0L1212.3,849.8L1214.2,849.8L1214.2,849.9L1216.1,849.9L1216.1,849.7L1216.1,850.1L1217.9,850.1L1217.9,849.8L1217.9,850.2L1219.8,850.2L1219.8,850.3L1219.8,850.0L1221.7,850.0L1221.7,849.7L1221.7,850.1L1223.5,850.1L1223.5,850.0L1225.4,850.0L1225.4,850.0L1227.3,850.0L1227.3,849.8L1229.1,849.8L1229.1,849.9L1229.1,850.2L1231.0,850.2L1231.0,850.1L1232.9,850.1L1232.9,849.9L1232.9,849.8L1234.7,849.8L1234.7,850.1L1234.7,850.2L1236.6,850.2L1236.6,849.9L1236.6,850.3L1238.5,850.3L1238.5,849.8L1238.5,850.1L1240.3,850.1L1240.3,849.7L1240.3,850.1L1242.2,850.1L1242.2,850.2L1242.2,850.1L1244.1,850.1L1245.9,850.0L1245.9,849.9L1247.8,849.9L1247.8,850.3L1247.8,849.9L1249.7,849.9L1249.7,849.8L1251.5,849.8L1251.5,850.3L1253.4,850.3L1253.4,850.0L1253.4,849.7L1255.3,849.7L1255.3,849.9L1255.3,850.0L1257.1,850.0L1257.1,850.3L1257.1,850.0L1259.0,850.0L1259.0,849.7L1259.0,850.3L1260.9,850.3L1260.9,849.9L1260.9,849.8L1262.7,849.8L1262.7,850.0L1262.7,849.9L1264.6,849.9L1264.6,849.8L1266.5,849.8L1266.5,850.1L1266.5,850.2L1268.3,850.2L1268.3,849.7L1268.3,849.8L1270.2,849.8L1270.2,850.1L1272.1,850.1L1272.1,849.8L1273.9,849.8L1273.9,850.1L1273.9,849.8L1275.8,849.8L1275.8,850.0L1275.8,849.8L1277.7,849.8L1277.7,850.2L1279.5,850.2L1279.5,850.0L1279.5,849.9L1281.4,849.9L1281.4,850.1L1281.4,850.0L1283.3,850.0L1283.3,850.1L1285.1,850.1L1285.1,850.3L1287.0,850.3L1287.0,849.7L1288.9,849.7L1288.9,850.0L1288.9,849.9L1290.7,849.9L1290.7,850.2L1290.7,850.1L1292.6,850.1L1292.6,849.9L1292.6,850.2L1294.5,850.2L1294.5,849.9L1294.5,850.2L1296.3,850.2L1296.3,850.0L1296.4,850.1L1298.2,850.1L1298.2,849.8L1300.1,849.8L1300.1,850.1L1300.1,850.0L1302.0,850.0L1302.0,849.8L1302.0,850.1L1303.8,850.1L1305.7,850.1L1305.7,849.9L1305.7,850.0L1307.6,850.0L1307.6,850.2L1309.4,850.2L1309.4,849.9L1311.3,849.9L1311.3,850.2L1311.3,850.1L1313.2,850.1L1313.2,850.3L1315.0,850.3L1315.0,850.1L1315.0,849.8L1316.9,849.8L1316.9,850.1L1316.9,850.2L1318.8,850.2L1318.8,849.8L1318.8,850.0L1320.6,850.0L1320.6,849.9L1320.6,849.8L1322.5,849.8L1322.5,850.2L1324.4,850.2L1324.4,849.9L1326.2,849.9L1326.2,850.1L1328.1,850.1L1328.1,850.1L1328.1,850.2L1330.0,850.2L1330.0,850.2L1331.8,850.2L1331.8,850.0L1331.8,850.0L1333.7,850.0L1333.7,850.2L1333.7,850.0L1335.6,850.0L1335.6,850.3L1335.6,849.8L1337.4,849.8L1337.4,850.0L1337.4,850.1L1339.3,850.1L1339.3,850.1" stroke="#A2142F"/>
<path d="M801.5,850.1L803.4,850.1L803.4,850.3L803.4,849.8L805.2,849.8L807.1,849.8L807.1,850.1L807.1,849.8L809.0,849.8L809.0,850.0L809.0,850.1L810.8,850.1L810.8,849.9L810.8,849.9L812.7,849.9L812.7,850.0L812.7,850.0L814.6,850.0L814.6,850.1L816.4,850.1L816.4,849.9L816.4,850.1L818.3,850.1L818.3,849.9L820.2,849.9L820.2,849.7L822.0,849.7L822.0,850.2L823.9,850.2L823.9,849.8L823.9,850.2L825.8,850.2L825.8,850.0L825.8,849.8L827.6,849.8L827.6,850.2L829.5,850.2L829.5,850.0L829.5,849.7L831.4,849.7L831.4,850.1L833.2,850.1L833.2,849.7L833.2,849.9L835.1,849.9L835.1,849.8L835.1,850.0L837.0,850.0L837.0,849.9L837.0,850.3L838.8,850.3L838.8,850.1L838.8,850.3L840.7,850.3L840.7,850.1L842.6,850.1L842.6,849.9L842.6,849.7L844.4,849.7L844.4,850.2L844.4,850.0L846.3,850.0L846.3,849.7L848.2,849.7L848.2,850.1L848.2,850.0L850.1,850.0L850.1,850.2L850.1,850.0L851.9,850.0L851.9,849.7L851.9,850.0L853.8,850.0L853.8,850.3L855.7,850.2L855.7,849.7L855.7,850.0L857.5,850.0L857.5,849.8L857.5,850.2L859.4,850.2L859.4,850.2L859.4,849.9L861.3,849.9L861.3,849.7L861.3,850.1L863.1,850.1L863.1,850.1L863.1,850.2L865.0,850.2L865.0,850.2L865.0,850.0L866.9,850.0L866.9,850.0L866.9,850.0L868.7,850.0L868.7,849.9L870.6,849.9L870.6,850.2L870.6,849.9L872.5,849.9L872.5,849.7L872.5,850.1L874.3,850.1L874.3,850.0L874.3,850.1L876.2,850.1L876.2,849.8L878.1,849.8L878.1,850.1L878.1,849.8L879.9,849.8L879.9,850.1L879.9,850.2L881.8,850.2L881.8,849.8L881.8,850.2L883.7,850.2L883.7,850.1L883.7,849.9L885.5,849.9L885.5,850.1L885.5,850.0L887.4,850.0L887.4,849.9L889.3,849.9L889.3,850.0L891.1,850.0L891.1,850.2L891.1,849.7L893.0,849.7L893.0,850.0L893.0,850.2L894.9,850.2L894.9,850.0L894.9,849.9L896.7,849.9L896.7,850.0L896.7,849.9L898.6,849.9L898.6,850.2L898.6,850.3L900.5,850.3L900.5,850.0L900.5,849.9L902.3,849.9L902.3,849.8L902.3,849.9L904.2,849.9L904.2,850.1L904.2,849.8L906.1,849.8L906.1,850.0L906.1,850.2L907.9,850.2L907.9,849.9L907.9,850.0L909.8,850.0L909.8,850.3L909.8,849.8L911.7,849.8L911.7,850.0L911.7,850.3L913.5,850.3L913.5,849.7L913.5,849.8L915.4,849.8L915.4,850.1L917.3,850.1L917.3,850.3L917.3,850.1L919.1,850.1L919.1,850.0L919.1,849.8L921.0,849.8L921.0,850.2L921.0,849.8L922.9,849.8L922.9,850.1L922.9,850.2L924.7,850.2L924.7,849.9L924.7,850.1L926.6,850.1L926.6,849.8L928.5,849.8L928.5,850.2L928.5,849.9L930.3,849.9L930.3,850.2L932.2,850.2L932.2,850.0L932.2,850.2L934.1,850.2L934.1,849.9L934.1,849.8L935.9,849.8L935.9,850.2L935.9,849.8L937.8,849.8L937.8,850.0L937.8,850.2L939.7,850.2L939.7,849.9L939.7,850.0L941.6,850.0L941.6,849.9L941.6,850.2L943.4,850.2L943.4,849.9L943.4,849.8L945.3,849.8L945.3,850.2L947.2,850.2L947.2,850.3L947.2,849.9L949.0,849.9L949.0,849.8L949.0,850.0L950.9,850.0L950.9,849.7L950.9,849.9L952.8,849.9L952.8,850.2L952.8,849.8L954.6,849.8L954.6,850.2L954.6,849.8L956.5,849.8L956.5,850.0L956.5,850.1L958.4,850.1L958.4,849.8L958.4,850.1L960.2,850.1L960.2,849.9L960.2,849.9L962.1,849.9L962.1,850.1L962.1,849.9L964.0,849.9L964.0,849.8L965.8,849.8L965.8,849.7L965.8,850.2L967.7,850.2L967.7,850.3L967.7,850.0L969.6,850.0L969.6,850.3L971.4,850.3L971.4,850.1L971.4,850.3L973.3,850.3L973.3,850.1L973.3,850.2L975.2,850.2L975.2,850.1L977.0,850.1L977.0,849.9L977.0,850.1L978.9,850.1L978.9,849.7L979.6,849.7L989.7,502.9L992.0,504.2L994.2,504.3L996.5,504.5L998.7,502.4L1000.9,501.7L1003.2,502.8L1005.4,502.1L1007.7,503.1L1009.9,503.1L1012.1,502.0L1014.4,502.0L1016.6,502.1L1018.9,504.7L1021.1,504.8L1023.3,502.7L1025.6,503.7L1027.8,503.8L1030.1,504.5L1032.3,504.5L1034.5,504.5L1036.8,504.6L1039.0,504.4L1041.3,504.0L1043.5,504.0L1045.8,504.0L1048.0,505.1L1050.2,505.6L1052.5,503.8L1054.7,502.4L1057.0,502.4L1059.2,502.4L1061.4,504.5L1063.7,505.2L1065.9,502.7L1068.2,505.4L1070.4,505.4L1072.6,504.6L1074.9,504.6L1077.1,504.6L1079.4,504.6L1081.6,503.6L1083.8,502.5L1086.1,502.7L1088.3,503.0L1090.6,503.0L1092.8,503.0L1095.0,504.0L1097.3,503.9L1099.5,503.9L1101.8,502.9L1104.0,502.9L1106.3,503.2L1108.5,503.9L1110.7,503.9L1113.0,502.9L1115.2,502.9L1117.5,502.9L1119.7,504.2L1121.9,502.1L1124.2,503.9L1126.4,502.8L1128.7,504.9L1130.9,503.9L1133.1,503.9L1135.4,503.2L1137.6,504.6L1139.9,504.5L1142.1,504.5L1144.3,504.4L1160.0,850.2L1161.9,850.2L1161.9,850.3L1161.9,850.0L1163.8,850.0L1163.8,850.2L1163.8,849.8L1165.6,849.8L1165.6,850.2L1165.6,850.0L1167.5,850.0L1167.5,850.1L1169.4,850.1L1169.4,849.7L1169.4,849.9L1171.2,849.9L1171.2,850.1L1173.1,850.1L1173.1,849.7L1175.0,849.7L1175.0,850.0L1175.0,850.0L1176.8,850.0L1176.8,849.7L1176.8,850.0L1178.7,850.0L1178.7,849.8L1180.6,849.8L1180.6,850.2L1180.6,849.9L1182.4,849.9L1182.4,850.1L1184.3,850.1L1184.3,850.0L1186.2,850.0L1186.2,850.1L1186.2,850.0L1188.0,850.0L1188.0,850.1L1188.0,850.0L1189.9,850.0L1189.9,849.9L1189.9,850.1L1191.8,850.1L1191.8,849.9L1191.8,850.1L1193.6,850.1L1193.6,850.2L1195.5,850.3L1195.5,849.8L1195.5,850.0L1197.4,850.0L1197.4,849.8L1197.4,850.0L1199.2,850.0L1199.2,849.7L1199.2,850.0L1201.1,850.0L1201.1,849.7L1201.1,850.3L1203.0,850.3L1203.0,849.7L1203.0,850.0L1204.8,850.0L1204.8,850.0L1204.9,850.2L1206.7,850.2L1206.7,850.0L1208.6,850.0L1208.6,849.8L1208.6,850.1L1210.5,850.1L1210.5,850.2L1210.5,850.3L1212.3,850.3L1212.3,850.2L1214.2,850.2L1214.2,849.8L1216.1,849.8L1217.9,849.8L1217.9,850.2L1217.9,849.7L1219.8,849.7L1219.8,850.2L1221.7,850.2L1221.7,850.1L1221.7,850.1L1223.5,850.1L1223.5,850.2L1223.5,850.0L1225.4,850.0L1225.4,849.9L1225.4,849.9L1227.3,849.9L1227.3,849.8L1227.3,850.1L1229.1,850.1L1229.1,849.9L1229.1,850.0L1231.0,850.0L1231.0,850.3L1231.0,850.1L1232.9,850.1L1232.9,849.9L1232.9,850.0L1234.7,850.0L1234.7,849.9L1234.7,849.7L1236.6,849.7L1236.6,850.2L1236.6,849.9L1238.5,849.9L1240.3,849.9L1240.3,850.1L1240.3,850.3L1242.2,850.3L1242.2,849.8L1244.1,849.7L1244.1,850.1L1244.1,849.9L1245.9,849.9L1245.9,849.8L1245.9,850.1L1247.8,850.1L1247.8,850.0L1247.8,849.8L1249.7,849.8L1249.7,849.7L1251.5,849.7L1251.5,849.9L1251.5,850.0L1253.4,850.0L1253.4,849.8L1253.4,850.3L1255.3,850.3L1255.3,850.0L1255.3,849.9L1257.1,849.9L1257.1,850.1L1259.0,850.1L1259.0,849.8L1260.9,849.8L1260.9,850.2L1260.9,850.0L1262.7,850.0L1262.7,849.8L1264.6,849.8L1264.6,850.1L1266.5,850.1L1266.5,849.7L1266.5,850.1L1268.3,850.1L1268.3,849.7L1268.3,849.9L1270.2,849.9L1270.2,850.2L1272.1,850.2L1272.1,850.1L1272.1,849.8L1273.9,849.8L1273.9,850.2L1273.9,849.8L1275.8,849.8L1275.8,850.3L1275.8,850.1L1277.7,850.1L1277.7,849.8L1277.7,849.9L1279.5,849.9L1279.5,850.1L1281.4,850.1L1281.4,849.8L1281.4,850.1L1283.3,850.1L1283.3,850.2L1285.1,850.2L1285.1,849.9L1285.1,850.3L1287.0,850.3L1287.0,850.0L1288.9,850.0L1288.9,850.2L1288.9,849.7L1290.7,849.7L1290.7,849.9L1290.7,849.8L1292.6,849.8L1292.6,849.7L1292.6,849.9L1294.5,849.9L1294.5,850.2L1296.3,850.2L1296.3,849.8L1296.4,850.2L1298.2,850.2L1298.2,850.3L1298.2,849.7L1300.1,849.7L1300.1,849.8L1300.1,850.1L1302.0,850.1L1302.0,850.2L1302.0,849.8L1303.8,849.8L1303.8,850.0L1303.8,850.2L1305.7,850.2L1305.7,849.8L1305.7,850.1L1307.6,850.1L1307.6,849.7L1309.4,849.7L1309.4,850.0L1309.4,849.9L1311.3,849.9L1311.3,850.2L1311.3,850.3L1313.2,850.3L1313.2,849.9L1315.0,849.9L1316.9,849.9L1316.9,850.0L1318.8,850.1L1318.8,849.9L1318.8,850.2L1320.6,850.2L1320.6,849.8L1322.5,849.8L1322.5,850.0L1322.5,849.8L1324.4,849.8L1324.4,850.2L1326.2,850.3L1326.2,850.0L1328.1,850.0L1328.1,849.8L1328.1,849.9L1330.0,849.9L1330.0,850.2L1330.0,849.8L1331.8,849.8L1331.8,850.3L1331.8,850.0L1333.7,850.0L1333.7,849.8L1333.7,849.7L1335.6,849.7L1335.6,849.8L1335.6,849.9L1337.4,849.9L1337.4,850.1L1339.3,850.1L1339.3,849.9" stroke="#A2142F"/>
<path d="M801.5,849.8L803.4,849.8L803.4,850.0L803.4,849.8L805.2,849.8L805.2,850.1L805.2,850.0L807.1,850.0L807.1,850.3L809.0,850.3L809.0,849.9L809.0,850.2L810.8,850.2L810.8,849.8L812.7,849.9L812.7,849.9L812.7,850.0L814.6,850.0L814.6,849.9L814.6,850.1L816.4,850.1L816.4,850.0L816.4,849.9L818.3,849.9L818.3,850.0L820.2,850.0L820.2,849.9L820.2,850.2L822.0,850.2L822.0,850.1L822.0,849.9L823.9,849.9L823.9,849.7L823.9,850.0L825.8,850.0L825.8,849.8L827.6,849.8L827.6,849.7L827.6,849.8L829.5,849.8L829.5,849.9L831.4,849.9L831.4,849.9L831.4,850.1L833.2,850.1L833.2,849.9L835.1,849.9L835.1,849.7L835.1,850.1L837.0,850.1L837.0,850.0L837.0,850.3L838.8,850.3L838.8,850.1L838.8,849.8L840.7,849.8L840.7,850.0L840.7,850.1L842.6,850.1L842.6,850.2L844.4,850.2L844.4,850.3L844.4,850.2L846.3,850.2L846.3,850.1L848.2,850.2L848.2,850.0L848.2,849.8L850.1,849.8L850.1,849.9L850.1,849.7L851.9,849.7L851.9,850.1L851.9,850.0L853.8,850.0L853.8,849.8L853.8,850.0L855.7,850.0L855.7,850.2L857.5,850.2L857.5,849.9L857.5,850.2L859.4,850.2L859.4,849.7L859.4,850.2L861.3,850.2L861.3,850.3L861.3,849.8L863.1,849.8L863.1,849.9L863.1,849.8L865.0,849.8L865.0,849.9L865.0,849.9L866.9,849.9L866.9,850.2L868.7,850.2L868.7,850.0L868.7,850.3L870.6,850.3L870.6,850.1L872.5,850.1L872.5,850.0L874.3,850.0L874.3,850.3L876.2,850.3L876.2,850.2L878.1,850.2L878.1,850.1L878.1,849.9L879.9,849.9L879.9,849.7L881.8,849.7L881.8,850.1L881.8,850.3L883.7,850.3L883.7,849.9L885.5,849.9L885.5,849.9L885.5,850.0L887.4,850.0L887.4,850.2L889.3,850.2L889.3,850.0L889.3,850.1L891.1,850.1L891.1,849.8L891.1,850.3L893.0,850.3L893.0,849.8L893.0,850.0L894.9,850.0L894.9,850.2L896.7,850.1L896.7,850.3L896.7,850.0L898.6,850.0L898.6,850.1L898.6,849.8L900.5,849.8L900.5,849.7L900.5,849.9L902.3,849.9L902.3,849.8L902.3,850.2L904.2,850.2L904.2,849.8L906.1,849.8L906.1,849.7L906.1,850.2L907.9,850.2L907.9,849.9L909.8,849.9L909.8,849.8L909.8,850.1L911.7,850.1L911.7,850.2L913.5,850.2L913.5,850.0L913.5,850.2L915.4,850.2L915.4,850.0L915.4,849.9L917.3,849.9L917.3,850.1L917.3,849.7L919.1,849.7L919.1,849.9L921.0,850.0L921.0,850.3L921.0,850.0L922.9,850.0L922.9,850.2L924.7,850.2L924.7,850.1L924.7,849.8L926.6,849.8L926.6,849.7L926.6,850.1L928.5,850.1L928.5,849.7L928.5,850.1L930.3,850.1L930.3,849.9L930.3,850.2L932.2,850.2L932.2,849.9L932.2,850.2L934.1,850.2L934.1,850.0L934.1,850.1L935.9,850.1L935.9,850.0L935.9,850.2L937.8,850.2L937.8,849.8L937.8,849.9L939.7,849.9L939.7,850.0L939.7,850.1L941.6,850.1L941.6,850.3L941.6,850.1L943.4,850.1L943.4,849.9L943.4,849.8L945.3,849.8L945.3,850.1L945.3,850.2L947.2,850.2L947.2,850.0L947.2,849.9L949.0,849.9L949.0,849.9L950.9,849.9L950.9,849.9L952.8,849.9L952.8,849.8L952.8,850.2L954.6,850.2L954.6,849.8L954.6,850.1L956.5,850.1L956.5,849.9L958.4,849.9L958.4,850.0L958.4,850.1L960.2,850.1L960.2,850.0L962.1,850.0L962.1,850.0L962.1,849.9L964.0,849.9L964.0,850.0L964.0,849.8L965.8,849.8L965.8,849.9L967.7,849.9L967.7,849.9L967.7,850.2L969.6,850.2L969.6,849.7L969.6,850.0L971.4,850.0L971.4,849.8L971.4,850.1L973.3,850.1L973.3,849.9L973.3,849.7L975.2,849.7L975.2,850.2L975.2,849.8L977.0,849.8L977.0,850.0L977.0,849.9L977.4,849.9L987.5,509.5L989.7,509.5L992.0,509.6L994.2,510.1L996.5,509.5L998.7,512.2L1000.9,512.3L1003.2,511.9L1005.4,512.0L1007.7,511.8L1009.9,511.9L1012.1,511.9L1014.4,511.5L1016.6,511.5L1018.9,512.7L1021.1,510.1L1023.3,511.7L1025.6,513.3L1027.8,513.4L1030.1,513.4L1032.3,513.4L1034.5,512.8L1036.8,509.3L1039.0,509.4L1041.3,509.4L1043.5,509.4L1045.8,509.4L1048.0,512.0L1050.2,512.0L1052.5,513.5L1054.7,513.5L1057.0,513.5L1059.2,513.5L1061.4,513.5L1063.7,510.4L1065.9,511.0L1068.2,511.0L1070.4,511.0L1072.6,511.8L1074.9,514.2L1077.1,514.2L1079.4,514.2L1081.6,514.2L1083.8,511.4L1086.1,510.3L1088.3,509.9L1090.6,509.9L1092.8,509.9L1095.0,509.9L1097.3,511.0L1099.5,511.0L1101.8,512.3L1104.0,509.3L1106.3,509.2L1108.5,510.7L1110.7,510.6L1113.0,510.6L1115.2,510.6L1117.5,510.3L1119.7,510.2L1121.9,510.2L1124.2,509.8L1126.4,511.2L1128.7,511.2L1130.9,511.1L1133.1,511.1L1135.4,511.0L1137.6,508.8L1139.9,510.6L1142.1,510.8L1143.2,511.3L1161.2,849.8L1161.9,849.8L1161.9,850.3L1163.8,850.3L1163.8,849.8L1165.6,849.8L1165.6,850.3L1167.5,850.3L1167.5,850.1L1167.5,850.0L1169.4,850.0L1169.4,850.0L1169.4,849.8L1171.2,849.8L1171.2,850.0L1173.1,850.0L1173.1,850.2L1175.0,850.3L1175.0,849.8L1176.8,849.8L1176.8,850.3L1176.8,849.8L1178.7,849.8L1178.7,850.2L1178.7,849.9L1180.6,849.9L1180.6,849.7L1180.6,850.1L1182.4,850.1L1182.4,849.7L1182.4,849.8L1184.3,849.8L1184.3,850.2L1186.2,850.2L1186.2,850.1L1186.2,850.2L1188.0,850.2L1188.0,850.0L1188.0,850.1L1189.9,850.1L1189.9,850.3L1189.9,850.0L1191.8,850.0L1191.8,849.8L1193.6,849.8L1193.6,850.1L1193.6,849.8L1195.5,849.8L1197.4,849.8L1197.4,849.8L1197.4,849.9L1199.2,849.9L1199.2,850.3L1201.1,850.3L1201.1,850.1L1201.1,850.2L1203.0,850.2L1203.0,850.0L1203.0,849.8L1204.8,849.8L1204.8,850.2L1204.9,850.0L1206.7,850.0L1206.7,850.2L1208.6,850.2L1208.6,850.1L1208.6,850.3L1210.5,850.3L1210.5,850.2L1212.3,850.2L1212.3,850.0L1212.3,850.2L1214.2,850.2L1216.1,850.2L1216.1,849.9L1216.1,850.1L1217.9,850.1L1217.9,849.7L1217.9,849.9L1219.8,849.9L1219.8,849.7L1219.8,850.0L1221.7,850.0L1221.7,850.2L1221.7,850.1L1223.5,850.1L1223.5,849.8L1223.5,850.1L1225.4,850.1L1225.4,850.0L1225.4,849.8L1227.3,849.8L1227.3,850.2L1229.1,850.2L1229.1,849.7L1229.1,849.8L1231.0,849.8L1231.0,850.2L1231.0,849.8L1232.9,849.8L1232.9,849.7L1232.9,850.1L1234.7,850.1L1234.7,850.2L1234.7,849.9L1236.6,849.9L1236.6,849.8L1236.6,850.2L1238.5,850.2L1238.5,850.1L1238.5,849.8L1240.3,849.8L1242.2,849.8L1242.2,849.9L1242.2,850.1L1244.1,850.1L1244.1,849.9L1244.1,849.7L1245.9,849.7L1245.9,850.0L1245.9,850.2L1247.8,850.2L1247.8,850.0L1247.8,849.8L1249.7,849.8L1249.7,849.8L1251.5,849.9L1251.5,850.1L1251.5,849.8L1253.4,849.8L1253.4,850.1L1253.4,850.1L1255.3,850.1L1255.3,850.2L1255.3,849.8L1257.1,849.8L1257.1,850.0L1257.1,850.1L1259.0,850.1L1259.0,849.8L1259.0,849.9L1260.9,849.9L1262.7,849.9L1262.7,849.7L1262.7,849.8L1264.6,849.8L1264.6,850.2L1264.6,849.7L1266.5,849.7L1266.5,850.0L1266.5,850.2L1268.3,850.2L1268.3,849.8L1268.3,849.7L1270.2,849.7L1270.2,850.1L1270.2,850.1L1272.1,850.1L1272.1,849.8L1272.1,850.0L1273.9,850.0L1273.9,849.8L1275.8,849.8L1275.8,850.0L1275.8,849.8L1277.7,849.8L1277.7,850.0L1277.7,850.3L1279.5,850.3L1279.5,850.0L1279.5,850.2L1281.4,850.2L1281.4,850.0L1281.4,850.3L1283.3,850.3L1283.3,850.2L1283.3,850.3L1285.1,850.3L1285.1,850.0L1285.1,850.1L1287.0,850.1L1287.0,849.8L1287.0,850.1L1288.9,850.1L1288.9,850.2L1290.7,850.2L1290.7,849.8L1292.6,849.7L1292.6,850.1L1292.6,849.8L1294.5,849.8L1294.5,849.9L1294.5,850.0L1296.3,850.0L1296.3,849.8L1296.4,849.7L1298.2,849.7L1298.2,849.9L1298.2,850.1L1300.1,850.1L1300.1,850.2L1302.0,850.2L1302.0,850.1L1302.0,850.0L1303.8,850.0L1303.8,850.2L1303.8,850.0L1305.7,850.0L1305.7,850.0L1307.6,850.0L1307.6,850.3L1307.6,850.0L1309.4,850.0L1309.4,849.9L1309.4,850.2L1311.3,850.2L1311.3,850.2L1311.3,849.7L1313.2,849.7L1313.2,850.1L1313.2,849.8L1315.0,849.8L1315.0,849.7L1315.0,849.8L1316.9,849.8L1316.9,849.9L1316.9,850.3L1318.8,850.3L1318.8,850.0L1318.8,850.3L1320.6,850.3L1320.6,850.2L1320.6,849.9L1322.5,849.9L1322.5,850.0L1322.5,849.8L1324.4,849.8L1324.4,849.7L1326.2,849.7L1326.2,849.9L1328.1,849.9L1328.1,850.1L1328.1,849.7L1330.0,849.7L1330.0,849.8L1331.8,849.9L1331.8,850.1L1331.8,849.8L1333.7,849.8L1333.7,850.3L1333.7,850.0L1335.6,850.0L1335.6,850.1L1337.4,850.1L1337.4,849.8L1339.3,849.8L1339.3,850.0" stroke="#7E2F8E"/>
<path d="M1040.1,500L1041.3,612L1042.5,500" stroke="#7E2F8E"/>
<path d="M1087.1,500L1088.3,609L1089.5,500" stroke="#7E2F8E"/>
<path d="M1089.4,500L1090.6,609L1091.8,500" stroke="#7E2F8E"/>
<path d="M1098.3,500L1099.5,620L1100.7,500" stroke="#7E2F8E"/>
<path d="M1106.2,500L1107.4,600L1108.6,500" stroke="#7E2F8E"/>
<path d="M1111.8,500L1113.0,630L1114.2,500" stroke="#7E2F8E"/>
<path d="M1120.7,500L1121.9,590L1123.1,500" stroke="#7E2F8E"/>
<path d="M1037.8,560L1039.0,640L1040.2,560" stroke="#D95319"/>
<path d="M1090.5,609L1091.7,662L1092.9,609" stroke="#D95319"/>
<path d="M1105.1,600L1106.3,650L1107.5,600" stroke="#D95319"/>
<path d="M1114.0,590L1115.2,660L1116.4,590" stroke="#D95319"/>
<path d="M1123.0,600L1124.2,640L1125.4,600" stroke="#D95319"/>
<path d="M1006.5,590L1007.7,650L1008.9,590" stroke="#D95319"/>
<path d="M1015.4,500L1016.6,600L1017.8,500" stroke="#7E2F8E"/>
<path d="M1002.0,500L1003.2,590L1004.4,500" stroke="#A2142F"/>
<path d="M840.6,740L841.8,661L843.0,740" stroke="#7E2F8E"/>
<path d="M1277.6,740L1278.8,655L1280.0,740" stroke="#7E2F8E"/>
<path d="M1259.7,745L1260.9,668L1262.1,745" stroke="#7E2F8E"/>
<path d="M934.8,750L936.0,845L937.2,750" stroke="#D95319"/>
<path d="M822.7,715L823.9,690L825.1,715" stroke="#D95319"/>
<path d="M849.6,715L850.8,695L852.0,715" stroke="#D95319"/>
<path d="M869.8,716L871.0,700L872.2,716" stroke="#D95319"/>
<path d="M1291.0,745L1292.2,672L1293.4,745" stroke="#7E2F8E"/>
<path d="M1192.4,714L1193.6,692L1194.8,714" stroke="#D95319"/>
<path d="M1217.1,714L1218.3,698L1219.5,714" stroke="#D95319"/>
<path d="M1268.6,716L1269.8,696L1271.0,716" stroke="#D95319"/>
<path d="M1306.7,716L1307.9,700L1309.1,716" stroke="#D95319"/>
<path d="M901.1,750L902.3,800L903.5,750" stroke="#D95319"/>
<path d="M925.8,750L927.0,805L928.2,750" stroke="#D95319"/>
<path d="M881.0,785L882.2,830L883.4,785" stroke="#7E2F8E"/>
<path d="M916.8,785L918.0,828L919.2,785" stroke="#7E2F8E"/>
<path d="M1239.5,785L1240.7,825L1241.9,785" stroke="#7E2F8E"/>
<path d="M1315.7,785L1316.9,832L1318.1,785" stroke="#7E2F8E"/>
</g>
<path d="M95.7,195.1V257.2H99.2V241.1H103.8V151.4H106.1V157.2H107.2V167.5H110.7V249.1H113.0V185.9H115.3V244.5H116.4V184.8H118.7V268.7H121.0V268.7H126.8V320.4H131.4V148.0H134.8V151.4H137.1V194.0H139.4V279.0H142.9V229.6H146.3V279.0H148.6V174.4H150.9V229.6H152.1V174.4H154.4V251.4H156.7V283.6H160.1V185.9H163.6V177.9H165.9V179.0H169.3V191.7H172.8V206.6H175.1V177.9H178.5V227.3H180.8V226.1H183.1V260.6H185.4V325.0H187.7V322.7H189.6V213.5H193.0V289.4H197.6V295.1H201.1V228.4H206.8V322.7H210.3V233.0H214.9V315.8H219.5V240.0H222.9V295.1H226.4V215.8H231.0V168.7H233.3V308.9H236.7V281.3H241.3V281.3H245.9V258.3H249.4V246.8H254.0V303.2H256.3V246.8H258.6V196.3H263.2V221.6H265.5V221.6H270.1V257.2H271.2V196.3H275.8V299.7H279.3V198.6H281.6V299.7H283.4V241.1H286.9V145.7H289.2V214.7H292.6V215.8H297.2V179.0H300.7V276.7H303.0V191.7H307.6V266.4H309.9V215.8H313.3V203.2H317.9V246.8H320.2V246.8H324.8V276.7H327.1V145.7H331.7V237.6H335.2V223.9H338.6V203.2H340.9V196.3H344.4V239.9H346.7V239.9H349.0V292.8H352.4V191.7H358.2V146.8H361.6V253.7H365.1V202.0H368.5V153.7H372.0V231.9H375.4V152.6H376.1V230.7H377.3V204.3H379.6V267.5H383.0V237.6H384.2V303.2H386.5V304.3H393.4V239.9H396.8V145.7H401.4V204.3H403.7V146.8H407.2V313.5H411.8V266.4H415.2V266.4H419.8V142.2H421.0V322.7H423.3V295.1H426.7V181.3H431.3V165.2H434.8V210.1H437.1V226.1H442.8V180.2H444.0V145.7H447.4V182.5H452.0V191.7H454.3V184.8H458.9V158.3H461.2V141.1H465.8V271.0H470.4V146.8H471.6V149.1H473.4V269.8H476.9V313.5H479.2V167.5H483.8V290.5H488.4V319.3H491.8V176.7H495.3V221.6H498.7V260.6H503.3V214.7H505.6V161.8H509.1V203.2H513.7V244.5H518.3V220.4H521.7V290.5H526.3V281.3H530.9V274.4H536.7V144.5H539.0V145.7H542.3V203.2H544.6V167.5H548.0V250.3H550.3V294.0H553.8V183.6H559.5V158.3H563.0V257.2H566.4V290.5H569.9V134.2H573.3V141.1H577.9V295.1H581.4V148.0H586.0V244.5H589.4V282.5H592.9V299.7H596.3V275.6H600.9V221.6H603.2V308.9H606.7V211.2H610.1V319.3H614.7V237.6H619.3V145.7H625.1V267.5H630.8" stroke="#0000ff" stroke-width="3" fill="none" stroke-linejoin="miter"/>
<path d="M88.2,195.1L103.2,188.1L103.2,202.1ZM91.7,257.2L106.7,250.2L106.7,264.2ZM96.3,241.1L111.3,234.1L111.3,248.1ZM98.6,151.4L113.6,144.4L113.6,158.4ZM99.7,157.2L114.7,150.2L114.7,164.2ZM103.2,167.5L118.2,160.5L118.2,174.5ZM105.5,249.1L120.5,242.1L120.5,256.1ZM107.8,185.9L122.8,178.9L122.8,192.9ZM108.9,244.5L123.9,237.5L123.9,251.5ZM111.2,184.8L126.2,177.8L126.2,191.8ZM113.5,268.7L128.5,261.7L128.5,275.7ZM119.3,268.7L134.3,261.7L134.3,275.7ZM123.9,320.4L138.9,313.4L138.9,327.4ZM127.3,148.0L142.3,141.0L142.3,155.0ZM129.6,151.4L144.6,144.4L144.6,158.4ZM131.9,194.0L146.9,187.0L146.9,201.0ZM135.4,279.0L150.4,272.0L150.4,286.0ZM138.8,229.6L153.8,222.6L153.8,236.6ZM141.1,279.0L156.1,272.0L156.1,286.0ZM143.4,174.4L158.4,167.4L158.4,181.4ZM144.6,229.6L159.6,222.6L159.6,236.6ZM146.9,174.4L161.9,167.4L161.9,181.4ZM149.2,251.4L164.2,244.4L164.2,258.4ZM152.6,283.6L167.6,276.6L167.6,290.6ZM156.1,185.9L171.1,178.9L171.1,192.9ZM158.4,177.9L173.4,170.9L173.4,184.9ZM161.8,179.0L176.8,172.0L176.8,186.0ZM165.3,191.7L180.3,184.7L180.3,198.7ZM167.6,206.6L182.6,199.6L182.6,213.6ZM171.0,177.9L186.0,170.9L186.0,184.9ZM173.3,227.3L188.3,220.3L188.3,234.3ZM175.6,226.1L190.6,219.1L190.6,233.1ZM177.9,260.6L192.9,253.6L192.9,267.6ZM180.2,325.0L195.2,318.0L195.2,332.0ZM182.1,322.7L197.1,315.7L197.1,329.7ZM185.5,213.5L200.5,206.5L200.5,220.5ZM190.1,289.4L205.1,282.4L205.1,296.4ZM193.6,295.1L208.6,288.1L208.6,302.1ZM199.3,228.4L214.3,221.4L214.3,235.4ZM202.8,322.7L217.8,315.7L217.8,329.7ZM207.4,233.0L222.4,226.0L222.4,240.0ZM212.0,315.8L227.0,308.8L227.0,322.8ZM215.4,240.0L230.4,233.0L230.4,247.0ZM218.9,295.1L233.9,288.1L233.9,302.1ZM223.5,215.8L238.5,208.8L238.5,222.8ZM225.8,168.7L240.8,161.7L240.8,175.7ZM229.2,308.9L244.2,301.9L244.2,315.9ZM233.8,281.3L248.8,274.3L248.8,288.3ZM238.4,281.3L253.4,274.3L253.4,288.3ZM241.9,258.3L256.9,251.3L256.9,265.3ZM246.5,246.8L261.5,239.8L261.5,253.8ZM248.8,303.2L263.8,296.2L263.8,310.2ZM251.1,246.8L266.1,239.8L266.1,253.8ZM255.7,196.3L270.7,189.3L270.7,203.3ZM258.0,221.6L273.0,214.6L273.0,228.6ZM262.6,221.6L277.6,214.6L277.6,228.6ZM263.7,257.2L278.7,250.2L278.7,264.2ZM268.3,196.3L283.3,189.3L283.3,203.3ZM271.8,299.7L286.8,292.7L286.8,306.7ZM274.1,198.6L289.1,191.6L289.1,205.6ZM275.9,299.7L290.9,292.7L290.9,306.7ZM279.4,241.1L294.4,234.1L294.4,248.1ZM281.7,145.7L296.7,138.7L296.7,152.7ZM285.1,214.7L300.1,207.7L300.1,221.7ZM289.7,215.8L304.7,208.8L304.7,222.8ZM293.2,179.0L308.2,172.0L308.2,186.0ZM295.5,276.7L310.5,269.7L310.5,283.7ZM300.1,191.7L315.1,184.7L315.1,198.7ZM302.4,266.4L317.4,259.4L317.4,273.4ZM305.8,215.8L320.8,208.8L320.8,222.8ZM310.4,203.2L325.4,196.2L325.4,210.2ZM312.7,246.8L327.7,239.8L327.7,253.8ZM317.3,246.8L332.3,239.8L332.3,253.8ZM319.6,276.7L334.6,269.7L334.6,283.7ZM324.2,145.7L339.2,138.7L339.2,152.7ZM327.7,237.6L342.7,230.6L342.7,244.6ZM331.1,223.9L346.1,216.9L346.1,230.9ZM333.4,203.2L348.4,196.2L348.4,210.2ZM336.9,196.3L351.9,189.3L351.9,203.3ZM339.2,239.9L354.2,232.9L354.2,246.9ZM341.5,239.9L356.5,232.9L356.5,246.9ZM344.9,292.8L359.9,285.8L359.9,299.8ZM350.7,191.7L365.7,184.7L365.7,198.7ZM354.1,146.8L369.1,139.8L369.1,153.8ZM357.6,253.7L372.6,246.7L372.6,260.7ZM361.0,202.0L376.0,195.0L376.0,209.0ZM364.5,153.7L379.5,146.7L379.5,160.7ZM367.9,231.9L382.9,224.9L382.9,238.9ZM368.6,152.6L383.6,145.6L383.6,159.6ZM369.8,230.7L384.8,223.7L384.8,237.7ZM372.1,204.3L387.1,197.3L387.1,211.3ZM375.5,267.5L390.5,260.5L390.5,274.5ZM376.7,237.6L391.7,230.6L391.7,244.6ZM379.0,303.2L394.0,296.2L394.0,310.2ZM385.9,304.3L400.9,297.3L400.9,311.3ZM389.3,239.9L404.3,232.9L404.3,246.9ZM393.9,145.7L408.9,138.7L408.9,152.7ZM396.2,204.3L411.2,197.3L411.2,211.3ZM399.7,146.8L414.7,139.8L414.7,153.8ZM404.3,313.5L419.3,306.5L419.3,320.5ZM407.7,266.4L422.7,259.4L422.7,273.4ZM412.3,266.4L427.3,259.4L427.3,273.4ZM413.5,142.2L428.5,135.2L428.5,149.2ZM415.8,322.7L430.8,315.7L430.8,329.7ZM419.2,295.1L434.2,288.1L434.2,302.1ZM423.8,181.3L438.8,174.3L438.8,188.3ZM427.3,165.2L442.3,158.2L442.3,172.2ZM429.6,210.1L444.6,203.1L444.6,217.1ZM435.3,226.1L450.3,219.1L450.3,233.1ZM436.5,180.2L451.5,173.2L451.5,187.2ZM439.9,145.7L454.9,138.7L454.9,152.7ZM444.5,182.5L459.5,175.5L459.5,189.5ZM446.8,191.7L461.8,184.7L461.8,198.7ZM451.4,184.8L466.4,177.8L466.4,191.8ZM453.7,158.3L468.7,151.3L468.7,165.3ZM458.3,141.1L473.3,134.1L473.3,148.1ZM462.9,271.0L477.9,264.0L477.9,278.0ZM464.1,146.8L479.1,139.8L479.1,153.8ZM465.9,149.1L480.9,142.1L480.9,156.1ZM469.4,269.8L484.4,262.8L484.4,276.8ZM471.7,313.5L486.7,306.5L486.7,320.5ZM476.3,167.5L491.3,160.5L491.3,174.5ZM480.9,290.5L495.9,283.5L495.9,297.5ZM484.3,319.3L499.3,312.3L499.3,326.3ZM487.8,176.7L502.8,169.7L502.8,183.7ZM491.2,221.6L506.2,214.6L506.2,228.6ZM495.8,260.6L510.8,253.6L510.8,267.6ZM498.1,214.7L513.1,207.7L513.1,221.7ZM501.6,161.8L516.6,154.8L516.6,168.8ZM506.2,203.2L521.2,196.2L521.2,210.2ZM510.8,244.5L525.8,237.5L525.8,251.5ZM514.2,220.4L529.2,213.4L529.2,227.4ZM518.8,290.5L533.8,283.5L533.8,297.5ZM523.4,281.3L538.4,274.3L538.4,288.3ZM529.2,274.4L544.2,267.4L544.2,281.4ZM531.5,144.5L546.5,137.5L546.5,151.5ZM534.8,145.7L549.8,138.7L549.8,152.7ZM537.1,203.2L552.1,196.2L552.1,210.2ZM540.5,167.5L555.5,160.5L555.5,174.5ZM542.8,250.3L557.8,243.3L557.8,257.3ZM546.3,294.0L561.3,287.0L561.3,301.0ZM552.0,183.6L567.0,176.6L567.0,190.6ZM555.5,158.3L570.5,151.3L570.5,165.3ZM558.9,257.2L573.9,250.2L573.9,264.2ZM562.4,290.5L577.4,283.5L577.4,297.5ZM565.8,134.2L580.8,127.2L580.8,141.2ZM570.4,141.1L585.4,134.1L585.4,148.1ZM573.9,295.1L588.9,288.1L588.9,302.1ZM578.5,148.0L593.5,141.0L593.5,155.0ZM581.9,244.5L596.9,237.5L596.9,251.5ZM585.4,282.5L600.4,275.5L600.4,289.5ZM588.8,299.7L603.8,292.7L603.8,306.7ZM593.4,275.6L608.4,268.6L608.4,282.6ZM595.7,221.6L610.7,214.6L610.7,228.6ZM599.2,308.9L614.2,301.9L614.2,315.9ZM602.6,211.2L617.6,204.2L617.6,218.2ZM607.2,319.3L622.2,312.3L622.2,326.3ZM611.8,237.6L626.8,230.6L626.8,244.6ZM617.6,145.7L632.6,138.7L632.6,152.7ZM623.3,267.5L638.3,260.5L638.3,274.5Z" fill="#0000ff"/>
<path d="M95.7,194.6V257.3H99.2V240.8H103.8V151.6H106.1V157.5H107.2V166.6H110.7V248.1H113.0V186.6H115.3V244.0H116.4V184.3H118.7V269.7H121.0V268.6H126.8V321.1H131.4V148.0H134.8V151.7H137.1V193.3H139.4V279.3H142.9V230.3H146.3V279.0H148.6V174.9H150.9V229.9H152.1V173.5H154.4V251.9H156.7V283.8H160.1V185.5H163.6V177.0H165.9V179.7H169.3V191.6H172.8V207.0H175.1V178.7H178.5V227.7H180.8V226.9H183.1V260.4H185.4V325.6H187.7V322.6H189.6V214.4H193.0V290.2H197.6V294.3H201.1V227.7H206.8V322.1H210.3V233.9H214.9V315.7H219.5V240.3H222.9V294.7H226.4V215.8H231.0V168.5H233.3V308.6H236.7V281.5H241.3V281.5H245.9V259.1H249.4V247.2H254.0V304.1H256.3V247.5H258.6V197.3H263.2V221.9H265.5V220.9H270.1V257.9H271.2V197.2H275.8V300.5H279.3V198.7H281.6V300.1H283.4V240.5H286.9V146.4H289.2V214.8H292.6V215.4H297.2V178.1H300.7V277.4H303.0V192.7H307.6V265.6H309.9V216.4H313.3V203.0H317.9V246.1H320.2V246.4H324.8V277.2H327.1V146.4H331.7V236.7H335.2V224.1H338.6V202.3H340.9V196.7H344.4V239.6H346.7V240.7H349.0V293.8H352.4V191.7H358.2V147.8H361.6V253.3H365.1V201.2H368.5V153.9H372.0V231.0H375.4V152.0H376.1V230.5H377.3V204.5H379.6V266.8H383.0V236.7H384.2V303.9H386.5V303.9H393.4V240.8H396.8V146.5H401.4V204.1H403.7V146.7H407.2V313.5H411.8V266.7H415.2V266.6H419.8V142.3H421.0V322.9H423.3V296.0H426.7V181.3H431.3V165.1H434.8V210.5H437.1V225.6H442.8V179.8H444.0V146.7H447.4V182.5H452.0V191.8H454.3V183.8H458.9V158.1H461.2V141.3H465.8V270.0H470.4V147.0H471.6V149.4H473.4V268.9H476.9V313.8H479.2V167.4H483.8V290.9H488.4V319.0H491.8V177.1H495.3V222.1H498.7V259.6H503.3V213.8H505.6V162.2H509.1V204.1H513.7V244.0H518.3V220.3H521.7V290.7H526.3V280.9H530.9V274.1H536.7V144.1H539.0V145.4H542.3V203.4H544.6V167.1H548.0V250.1H550.3V294.5H553.8V182.7H559.5V158.4H563.0V257.7H566.4V290.1H569.9V133.6H573.3V141.7H577.9V294.6H581.4V147.4H586.0V244.4H589.4V282.9H592.9V298.9H596.3V275.2H600.9V221.3H603.2V309.6H606.7V211.1H610.1V320.0H614.7V236.9H619.3V145.4H625.1V267.8H630.8" stroke="#ff0000" stroke-width="3" fill="none" stroke-dasharray="8.3 5.7"/>
<path d="M103.2,194.6L93.6,189.3L93.6,199.8ZM106.7,257.3L97.1,252.0L97.1,262.5ZM111.3,240.8L101.7,235.6L101.7,246.1ZM113.6,151.6L104.0,146.4L104.0,156.9ZM114.7,157.5L105.1,152.2L105.1,162.7ZM118.2,166.6L108.6,161.4L108.6,171.9ZM120.5,248.1L110.9,242.9L110.9,253.4ZM122.8,186.6L113.2,181.3L113.2,191.8ZM123.9,244.0L114.3,238.8L114.3,249.3ZM126.2,184.3L116.6,179.0L116.6,189.5ZM128.5,269.7L118.9,264.4L118.9,274.9ZM134.3,268.6L124.7,263.4L124.7,273.9ZM138.9,321.1L129.3,315.8L129.3,326.3ZM142.3,148.0L132.7,142.7L132.7,153.2ZM144.6,151.7L135.0,146.4L135.0,156.9ZM146.9,193.3L137.3,188.1L137.3,198.6ZM150.4,279.3L140.8,274.0L140.8,284.5ZM153.8,230.3L144.2,225.1L144.2,235.6ZM156.1,279.0L146.5,273.8L146.5,284.3ZM158.4,174.9L148.8,169.6L148.8,180.1ZM159.6,229.9L150.0,224.7L150.0,235.2ZM161.9,173.5L152.3,168.3L152.3,178.8ZM164.2,251.9L154.6,246.7L154.6,257.2ZM167.6,283.8L158.0,278.5L158.0,289.0ZM171.1,185.5L161.5,180.3L161.5,190.8ZM173.4,177.0L163.8,171.7L163.8,182.2ZM176.8,179.7L167.2,174.5L167.2,185.0ZM180.3,191.6L170.7,186.4L170.7,196.9ZM182.6,207.0L173.0,201.8L173.0,212.3ZM186.0,178.7L176.4,173.4L176.4,183.9ZM188.3,227.7L178.7,222.5L178.7,233.0ZM190.6,226.9L181.0,221.7L181.0,232.2ZM192.9,260.4L183.3,255.1L183.3,265.6ZM195.2,325.6L185.6,320.4L185.6,330.9ZM197.1,322.6L187.5,317.3L187.5,327.8ZM200.5,214.4L190.9,209.1L190.9,219.6ZM205.1,290.2L195.5,284.9L195.5,295.4ZM208.6,294.3L199.0,289.0L199.0,299.5ZM214.3,227.7L204.7,222.4L204.7,232.9ZM217.8,322.1L208.2,316.9L208.2,327.4ZM222.4,233.9L212.8,228.7L212.8,239.2ZM227.0,315.7L217.4,310.4L217.4,320.9ZM230.4,240.3L220.8,235.0L220.8,245.5ZM233.9,294.7L224.3,289.5L224.3,300.0ZM238.5,215.8L228.9,210.6L228.9,221.1ZM240.8,168.5L231.2,163.2L231.2,173.7ZM244.2,308.6L234.6,303.4L234.6,313.9ZM248.8,281.5L239.2,276.2L239.2,286.7ZM253.4,281.5L243.8,276.2L243.8,286.7ZM256.9,259.1L247.3,253.9L247.3,264.4ZM261.5,247.2L251.9,241.9L251.9,252.4ZM263.8,304.1L254.2,298.8L254.2,309.3ZM266.1,247.5L256.5,242.3L256.5,252.8ZM270.7,197.3L261.1,192.0L261.1,202.5ZM273.0,221.9L263.4,216.7L263.4,227.2ZM277.6,220.9L268.0,215.7L268.0,226.2ZM278.7,257.9L269.1,252.7L269.1,263.2ZM283.3,197.2L273.7,192.0L273.7,202.5ZM286.8,300.5L277.2,295.3L277.2,305.8ZM289.1,198.7L279.5,193.5L279.5,204.0ZM290.9,300.1L281.3,294.9L281.3,305.4ZM294.4,240.5L284.8,235.3L284.8,245.8ZM296.7,146.4L287.1,141.1L287.1,151.6ZM300.1,214.8L290.5,209.6L290.5,220.1ZM304.7,215.4L295.1,210.1L295.1,220.6ZM308.2,178.1L298.6,172.9L298.6,183.4ZM310.5,277.4L300.9,272.2L300.9,282.7ZM315.1,192.7L305.5,187.4L305.5,197.9ZM317.4,265.6L307.8,260.3L307.8,270.8ZM320.8,216.4L311.2,211.2L311.2,221.7ZM325.4,203.0L315.8,197.8L315.8,208.3ZM327.7,246.1L318.1,240.9L318.1,251.4ZM332.3,246.4L322.7,241.1L322.7,251.6ZM334.6,277.2L325.0,272.0L325.0,282.5ZM339.2,146.4L329.6,141.2L329.6,151.7ZM342.7,236.7L333.1,231.4L333.1,241.9ZM346.1,224.1L336.5,218.9L336.5,229.4ZM348.4,202.3L338.8,197.0L338.8,207.5ZM351.9,196.7L342.3,191.5L342.3,202.0ZM354.2,239.6L344.6,234.3L344.6,244.8ZM356.5,240.7L346.9,235.4L346.9,245.9ZM359.9,293.8L350.3,288.5L350.3,299.0ZM365.7,191.7L356.1,186.5L356.1,197.0ZM369.1,147.8L359.5,142.5L359.5,153.0ZM372.6,253.3L363.0,248.1L363.0,258.6ZM376.0,201.2L366.4,195.9L366.4,206.4ZM379.5,153.9L369.9,148.6L369.9,159.1ZM382.9,231.0L373.3,225.7L373.3,236.2ZM383.6,152.0L374.0,146.7L374.0,157.2ZM384.8,230.5L375.2,225.3L375.2,235.8ZM387.1,204.5L377.5,199.3L377.5,209.8ZM390.5,266.8L380.9,261.6L380.9,272.1ZM391.7,236.7L382.1,231.4L382.1,241.9ZM394.0,303.9L384.4,298.7L384.4,309.2ZM400.9,303.9L391.3,298.7L391.3,309.2ZM404.3,240.8L394.7,235.6L394.7,246.1ZM408.9,146.5L399.3,141.2L399.3,151.7ZM411.2,204.1L401.6,198.8L401.6,209.3ZM414.7,146.7L405.1,141.5L405.1,152.0ZM419.3,313.5L409.7,308.3L409.7,318.8ZM422.7,266.7L413.1,261.4L413.1,271.9ZM427.3,266.6L417.7,261.3L417.7,271.8ZM428.5,142.3L418.9,137.1L418.9,147.6ZM430.8,322.9L421.2,317.7L421.2,328.2ZM434.2,296.0L424.6,290.7L424.6,301.2ZM438.8,181.3L429.2,176.1L429.2,186.6ZM442.3,165.1L432.7,159.8L432.7,170.3ZM444.6,210.5L435.0,205.3L435.0,215.8ZM450.3,225.6L440.7,220.3L440.7,230.8ZM451.5,179.8L441.9,174.6L441.9,185.1ZM454.9,146.7L445.3,141.4L445.3,151.9ZM459.5,182.5L449.9,177.3L449.9,187.8ZM461.8,191.8L452.2,186.5L452.2,197.0ZM466.4,183.8L456.8,178.6L456.8,189.1ZM468.7,158.1L459.1,152.9L459.1,163.4ZM473.3,141.3L463.7,136.0L463.7,146.5ZM477.9,270.0L468.3,264.8L468.3,275.3ZM479.1,147.0L469.5,141.8L469.5,152.3ZM480.9,149.4L471.3,144.1L471.3,154.6ZM484.4,268.9L474.8,263.7L474.8,274.2ZM486.7,313.8L477.1,308.5L477.1,319.0ZM491.3,167.4L481.7,162.2L481.7,172.7ZM495.9,290.9L486.3,285.6L486.3,296.1ZM499.3,319.0L489.7,313.8L489.7,324.3ZM502.8,177.1L493.2,171.9L493.2,182.4ZM506.2,222.1L496.6,216.8L496.6,227.3ZM510.8,259.6L501.2,254.4L501.2,264.9ZM513.1,213.8L503.5,208.6L503.5,219.1ZM516.6,162.2L507.0,156.9L507.0,167.4ZM521.2,204.1L511.6,198.9L511.6,209.4ZM525.8,244.0L516.2,238.8L516.2,249.3ZM529.2,220.3L519.6,215.1L519.6,225.6ZM533.8,290.7L524.2,285.4L524.2,295.9ZM538.4,280.9L528.8,275.7L528.8,286.2ZM544.2,274.1L534.6,268.9L534.6,279.4ZM546.5,144.1L536.9,138.9L536.9,149.4ZM549.8,145.4L540.2,140.2L540.2,150.7ZM552.1,203.4L542.5,198.1L542.5,208.6ZM555.5,167.1L545.9,161.9L545.9,172.4ZM557.8,250.1L548.2,244.8L548.2,255.3ZM561.3,294.5L551.7,289.3L551.7,299.8ZM567.0,182.7L557.4,177.4L557.4,187.9ZM570.5,158.4L560.9,153.2L560.9,163.7ZM573.9,257.7L564.3,252.4L564.3,262.9ZM577.4,290.1L567.8,284.9L567.8,295.4ZM580.8,133.6L571.2,128.4L571.2,138.9ZM585.4,141.7L575.8,136.5L575.8,147.0ZM588.9,294.6L579.3,289.3L579.3,299.8ZM593.5,147.4L583.9,142.1L583.9,152.6ZM596.9,244.4L587.3,239.1L587.3,249.6ZM600.4,282.9L590.8,277.6L590.8,288.1ZM603.8,298.9L594.2,293.7L594.2,304.2ZM608.4,275.2L598.8,270.0L598.8,280.5ZM610.7,221.3L601.1,216.0L601.1,226.5ZM614.2,309.6L604.6,304.3L604.6,314.8ZM617.6,211.1L608.0,205.8L608.0,216.3ZM622.2,320.0L612.6,314.8L612.6,325.3ZM626.8,236.9L617.2,231.7L617.2,242.2ZM632.6,145.4L623.0,140.1L623.0,150.6ZM638.3,267.8L628.7,262.6L628.7,273.1Z" fill="#ff0000"/>
<path d="M801.5,348.5V343.0H804.2V336.8H806.9V347.6H809.6V334.4H812.3V348.3H814.9V344.9H817.6V339.3H820.3V336.6H823.0V331.4H825.7V344.5H828.4V329.8H831.1V339.7H833.8V336.8H836.5V331.3H839.1V317.3H841.8V341.6H844.5V348.0H847.2V334.4H849.9V331.3H852.6V349.8H855.3V351.3H858.0V332.7H860.7V330.0H863.3V329.8H866.0V349.6H868.7V343.4H871.4V347.2H874.1V351.1H876.8V344.5H879.5V352.8H882.2V346.1H884.9V352.7H887.5V352.8H890.2V328.4H892.9V314.8H895.6V339.7H898.3V341.5H901.0V344.8H903.7V346.7H906.4V326.1H909.1V337.8H911.7V344.6H914.4V327.4H917.1V336.0H919.8V346.5H922.5V321.8H925.2V349.2H927.9V342.3H930.6V342.3H933.3V344.4H936.0V332.1H938.6V315.7H941.3V348.2H944.0V327.2H946.7V347.1H949.4V318.0H952.1V338.0H954.8V332.7H957.5V345.0H960.2V335.1H962.8V337.7H965.5V341.0H968.2V335.6H970.9V351.6H973.6V360.8H976.3V345.1H979.0V355.1H981.7V364.1H984.4V369.5H987.0V370.7H989.7V368.2H992.4V352.5H995.1V354.0H997.8V336.0H1000.5V320.2H1003.2V349.1H1005.9V333.3H1008.6V304.5H1011.2V330.1H1013.9V325.4H1016.6V318.7H1019.3V320.7H1022.0V286.6H1024.7V275.3H1027.4V244.3H1030.1V255.3H1032.8V193.5H1035.4V202.7H1038.1V178.2H1040.8V160.4H1043.5V149.7H1046.2V185.3H1048.9V153.0H1051.6V144.2H1054.3V133.8H1057.0V164.1H1059.6V161.9H1062.3V161.3H1065.0V171.1H1067.7V123.7H1070.4V112.9H1073.1V188.6H1075.8V178.8H1078.5V195.4H1081.2V169.9H1083.8V185.0H1086.5V190.1H1089.2V217.2H1091.9V212.3H1094.6V242.9H1097.3V235.9H1100.0V264.1H1102.7V230.0H1105.4V229.8H1108.0V277.1H1110.7V277.3H1113.4V291.0H1116.1V301.1H1118.8V322.5H1121.5V324.2H1124.2V350.3H1126.9V341.9H1129.6V329.0H1132.2V351.1H1134.9V361.4H1137.6V365.5H1140.3V350.1H1143.0V371.3H1145.7V353.5H1148.4V352.5H1151.1V350.4H1153.8V358.1H1156.4V367.1H1159.1V360.9H1161.8V347.8H1164.5V355.6H1167.2V339.6H1169.9V335.0H1172.6V342.2H1175.3V338.6H1178.0V328.6H1180.6V340.1H1183.3V306.7H1186.0V337.9H1188.7V320.7H1191.4V326.2H1194.1V321.9H1196.8V319.5H1199.5V328.9H1202.2V348.1H1204.8V340.5H1207.5V336.2H1210.2V348.0H1212.9V345.6H1215.6V351.3H1218.3V336.4H1221.0V354.2H1223.7V342.8H1226.4V339.6H1229.1V344.6H1231.7V347.7H1234.4V323.0H1237.1V322.4H1239.8V334.6H1242.5V341.3H1245.2V347.9H1247.9V347.6H1250.6V332.5H1253.3V331.9H1255.9V352.8H1258.6V325.2H1261.3V345.8H1264.0V338.1H1266.7V333.3H1269.4V328.8H1272.1V335.1H1274.8V336.4H1277.5V342.5H1280.1V328.7H1282.8V334.6H1285.5V330.9H1288.2V333.3H1290.9V346.2H1293.6V346.3H1296.3V323.6H1299.0V346.9H1301.7V343.3H1304.3V338.2H1307.0V329.8H1309.7V348.0H1312.4V323.9H1315.1V343.9H1317.8V342.7H1320.5V345.6H1323.2V348.0H1325.9V329.0H1328.5V342.8H1331.2V334.0H1333.9V340.0H1336.6V332.6H1339.3" stroke="#0000ff" stroke-width="3" fill="none" stroke-linejoin="miter"/>
<path d="M794.0,348.5L809.0,341.5L809.0,355.5ZM796.7,343.0L811.7,336.0L811.7,350.0ZM799.4,336.8L814.4,329.8L814.4,343.8ZM802.1,347.6L817.1,340.6L817.1,354.6ZM804.8,334.4L819.8,327.4L819.8,341.4ZM807.4,348.3L822.4,341.3L822.4,355.3ZM810.1,344.9L825.1,337.9L825.1,351.9ZM812.8,339.3L827.8,332.3L827.8,346.3ZM815.5,336.6L830.5,329.6L830.5,343.6ZM818.2,331.4L833.2,324.4L833.2,338.4ZM820.9,344.5L835.9,337.5L835.9,351.5ZM823.6,329.8L838.6,322.8L838.6,336.8ZM826.3,339.7L841.3,332.7L841.3,346.7ZM829.0,336.8L844.0,329.8L844.0,343.8ZM831.6,331.3L846.6,324.3L846.6,338.3ZM834.3,317.3L849.3,310.3L849.3,324.3ZM837.0,341.6L852.0,334.6L852.0,348.6ZM839.7,348.0L854.7,341.0L854.7,355.0ZM842.4,334.4L857.4,327.4L857.4,341.4ZM845.1,331.3L860.1,324.3L860.1,338.3ZM847.8,349.8L862.8,342.8L862.8,356.8ZM850.5,351.3L865.5,344.3L865.5,358.3ZM853.2,332.7L868.2,325.7L868.2,339.7ZM855.8,330.0L870.8,323.0L870.8,337.0ZM858.5,329.8L873.5,322.8L873.5,336.8ZM861.2,349.6L876.2,342.6L876.2,356.6ZM863.9,343.4L878.9,336.4L878.9,350.4ZM866.6,347.2L881.6,340.2L881.6,354.2ZM869.3,351.1L884.3,344.1L884.3,358.1ZM872.0,344.5L887.0,337.5L887.0,351.5ZM874.7,352.8L889.7,345.8L889.7,359.8ZM877.4,346.1L892.4,339.1L892.4,353.1ZM880.0,352.7L895.0,345.7L895.0,359.7ZM882.7,352.8L897.7,345.8L897.7,359.8ZM885.4,328.4L900.4,321.4L900.4,335.4ZM888.1,314.8L903.1,307.8L903.1,321.8ZM890.8,339.7L905.8,332.7L905.8,346.7ZM893.5,341.5L908.5,334.5L908.5,348.5ZM896.2,344.8L911.2,337.8L911.2,351.8ZM898.9,346.7L913.9,339.7L913.9,353.7ZM901.6,326.1L916.6,319.1L916.6,333.1ZM904.2,337.8L919.2,330.8L919.2,344.8ZM906.9,344.6L921.9,337.6L921.9,351.6ZM909.6,327.4L924.6,320.4L924.6,334.4ZM912.3,336.0L927.3,329.0L927.3,343.0ZM915.0,346.5L930.0,339.5L930.0,353.5ZM917.7,321.8L932.7,314.8L932.7,328.8ZM920.4,349.2L935.4,342.2L935.4,356.2ZM923.1,342.3L938.1,335.3L938.1,349.3ZM925.8,342.3L940.8,335.3L940.8,349.3ZM928.5,344.4L943.5,337.4L943.5,351.4ZM931.1,332.1L946.1,325.1L946.1,339.1ZM933.8,315.7L948.8,308.7L948.8,322.7ZM936.5,348.2L951.5,341.2L951.5,355.2ZM939.2,327.2L954.2,320.2L954.2,334.2ZM941.9,347.1L956.9,340.1L956.9,354.1ZM944.6,318.0L959.6,311.0L959.6,325.0ZM947.3,338.0L962.3,331.0L962.3,345.0ZM950.0,332.7L965.0,325.7L965.0,339.7ZM952.7,345.0L967.7,338.0L967.7,352.0ZM955.3,335.1L970.3,328.1L970.3,342.1ZM958.0,337.7L973.0,330.7L973.0,344.7ZM960.7,341.0L975.7,334.0L975.7,348.0ZM963.4,335.6L978.4,328.6L978.4,342.6ZM966.1,351.6L981.1,344.6L981.1,358.6ZM968.8,360.8L983.8,353.8L983.8,367.8ZM971.5,345.1L986.5,338.1L986.5,352.1ZM974.2,355.1L989.2,348.1L989.2,362.1ZM976.9,364.1L991.9,357.1L991.9,371.1ZM979.5,369.5L994.5,362.5L994.5,376.5ZM982.2,370.7L997.2,363.7L997.2,377.7ZM984.9,368.2L999.9,361.2L999.9,375.2ZM987.6,352.5L1002.6,345.5L1002.6,359.5ZM990.3,354.0L1005.3,347.0L1005.3,361.0ZM993.0,336.0L1008.0,329.0L1008.0,343.0ZM995.7,320.2L1010.7,313.2L1010.7,327.2ZM998.4,349.1L1013.4,342.1L1013.4,356.1ZM1001.1,333.3L1016.1,326.3L1016.1,340.3ZM1003.7,304.5L1018.7,297.5L1018.7,311.5ZM1006.4,330.1L1021.4,323.1L1021.4,337.1ZM1009.1,325.4L1024.1,318.4L1024.1,332.4ZM1011.8,318.7L1026.8,311.7L1026.8,325.7ZM1014.5,320.7L1029.5,313.7L1029.5,327.7ZM1017.2,286.6L1032.2,279.6L1032.2,293.6ZM1019.9,275.3L1034.9,268.3L1034.9,282.3ZM1022.6,244.3L1037.6,237.3L1037.6,251.3ZM1025.3,255.3L1040.3,248.3L1040.3,262.3ZM1027.9,193.5L1042.9,186.5L1042.9,200.5ZM1030.6,202.7L1045.6,195.7L1045.6,209.7ZM1033.3,178.2L1048.3,171.2L1048.3,185.2ZM1036.0,160.4L1051.0,153.4L1051.0,167.4ZM1038.7,149.7L1053.7,142.7L1053.7,156.7ZM1041.4,185.3L1056.4,178.3L1056.4,192.3ZM1044.1,153.0L1059.1,146.0L1059.1,160.0ZM1046.8,144.2L1061.8,137.2L1061.8,151.2ZM1049.5,133.8L1064.5,126.8L1064.5,140.8ZM1052.1,164.1L1067.1,157.1L1067.1,171.1ZM1054.8,161.9L1069.8,154.9L1069.8,168.9ZM1057.5,161.3L1072.5,154.3L1072.5,168.3ZM1060.2,171.1L1075.2,164.1L1075.2,178.1ZM1062.9,123.7L1077.9,116.7L1077.9,130.7ZM1065.6,112.9L1080.6,105.9L1080.6,119.9ZM1068.3,188.6L1083.3,181.6L1083.3,195.6ZM1071.0,178.8L1086.0,171.8L1086.0,185.8ZM1073.7,195.4L1088.7,188.4L1088.7,202.4ZM1076.3,169.9L1091.3,162.9L1091.3,176.9ZM1079.0,185.0L1094.0,178.0L1094.0,192.0ZM1081.7,190.1L1096.7,183.1L1096.7,197.1ZM1084.4,217.2L1099.4,210.2L1099.4,224.2ZM1087.1,212.3L1102.1,205.3L1102.1,219.3ZM1089.8,242.9L1104.8,235.9L1104.8,249.9ZM1092.5,235.9L1107.5,228.9L1107.5,242.9ZM1095.2,264.1L1110.2,257.1L1110.2,271.1ZM1097.9,230.0L1112.9,223.0L1112.9,237.0ZM1100.5,229.8L1115.5,222.8L1115.5,236.8ZM1103.2,277.1L1118.2,270.1L1118.2,284.1ZM1105.9,277.3L1120.9,270.3L1120.9,284.3ZM1108.6,291.0L1123.6,284.0L1123.6,298.0ZM1111.3,301.1L1126.3,294.1L1126.3,308.1ZM1114.0,322.5L1129.0,315.5L1129.0,329.5ZM1116.7,324.2L1131.7,317.2L1131.7,331.2ZM1119.4,350.3L1134.4,343.3L1134.4,357.3ZM1122.1,341.9L1137.1,334.9L1137.1,348.9ZM1124.7,329.0L1139.7,322.0L1139.7,336.0ZM1127.4,351.1L1142.4,344.1L1142.4,358.1ZM1130.1,361.4L1145.1,354.4L1145.1,368.4ZM1132.8,365.5L1147.8,358.5L1147.8,372.5ZM1135.5,350.1L1150.5,343.1L1150.5,357.1ZM1138.2,371.3L1153.2,364.3L1153.2,378.3ZM1140.9,353.5L1155.9,346.5L1155.9,360.5ZM1143.6,352.5L1158.6,345.5L1158.6,359.5ZM1146.3,350.4L1161.3,343.4L1161.3,357.4ZM1148.9,358.1L1163.9,351.1L1163.9,365.1ZM1151.6,367.1L1166.6,360.1L1166.6,374.1ZM1154.3,360.9L1169.3,353.9L1169.3,367.9ZM1157.0,347.8L1172.0,340.8L1172.0,354.8ZM1159.7,355.6L1174.7,348.6L1174.7,362.6ZM1162.4,339.6L1177.4,332.6L1177.4,346.6ZM1165.1,335.0L1180.1,328.0L1180.1,342.0ZM1167.8,342.2L1182.8,335.2L1182.8,349.2ZM1170.5,338.6L1185.5,331.6L1185.5,345.6ZM1173.1,328.6L1188.1,321.6L1188.1,335.6ZM1175.8,340.1L1190.8,333.1L1190.8,347.1ZM1178.5,306.7L1193.5,299.7L1193.5,313.7ZM1181.2,337.9L1196.2,330.9L1196.2,344.9ZM1183.9,320.7L1198.9,313.7L1198.9,327.7ZM1186.6,326.2L1201.6,319.2L1201.6,333.2ZM1189.3,321.9L1204.3,314.9L1204.3,328.9ZM1192.0,319.5L1207.0,312.5L1207.0,326.5ZM1194.7,328.9L1209.7,321.9L1209.7,335.9ZM1197.3,348.1L1212.3,341.1L1212.3,355.1ZM1200.0,340.5L1215.0,333.5L1215.0,347.5ZM1202.7,336.2L1217.7,329.2L1217.7,343.2ZM1205.4,348.0L1220.4,341.0L1220.4,355.0ZM1208.1,345.6L1223.1,338.6L1223.1,352.6ZM1210.8,351.3L1225.8,344.3L1225.8,358.3ZM1213.5,336.4L1228.5,329.4L1228.5,343.4ZM1216.2,354.2L1231.2,347.2L1231.2,361.2ZM1218.9,342.8L1233.9,335.8L1233.9,349.8ZM1221.6,339.6L1236.6,332.6L1236.6,346.6ZM1224.2,344.6L1239.2,337.6L1239.2,351.6ZM1226.9,347.7L1241.9,340.7L1241.9,354.7ZM1229.6,323.0L1244.6,316.0L1244.6,330.0ZM1232.3,322.4L1247.3,315.4L1247.3,329.4ZM1235.0,334.6L1250.0,327.6L1250.0,341.6ZM1237.7,341.3L1252.7,334.3L1252.7,348.3ZM1240.4,347.9L1255.4,340.9L1255.4,354.9ZM1243.1,347.6L1258.1,340.6L1258.1,354.6ZM1245.8,332.5L1260.8,325.5L1260.8,339.5ZM1248.4,331.9L1263.4,324.9L1263.4,338.9ZM1251.1,352.8L1266.1,345.8L1266.1,359.8ZM1253.8,325.2L1268.8,318.2L1268.8,332.2ZM1256.5,345.8L1271.5,338.8L1271.5,352.8ZM1259.2,338.1L1274.2,331.1L1274.2,345.1ZM1261.9,333.3L1276.9,326.3L1276.9,340.3ZM1264.6,328.8L1279.6,321.8L1279.6,335.8ZM1267.3,335.1L1282.3,328.1L1282.3,342.1ZM1270.0,336.4L1285.0,329.4L1285.0,343.4ZM1272.6,342.5L1287.6,335.5L1287.6,349.5ZM1275.3,328.7L1290.3,321.7L1290.3,335.7ZM1278.0,334.6L1293.0,327.6L1293.0,341.6ZM1280.7,330.9L1295.7,323.9L1295.7,337.9ZM1283.4,333.3L1298.4,326.3L1298.4,340.3ZM1286.1,346.2L1301.1,339.2L1301.1,353.2ZM1288.8,346.3L1303.8,339.3L1303.8,353.3ZM1291.5,323.6L1306.5,316.6L1306.5,330.6ZM1294.2,346.9L1309.2,339.9L1309.2,353.9ZM1296.8,343.3L1311.8,336.3L1311.8,350.3ZM1299.5,338.2L1314.5,331.2L1314.5,345.2ZM1302.2,329.8L1317.2,322.8L1317.2,336.8ZM1304.9,348.0L1319.9,341.0L1319.9,355.0ZM1307.6,323.9L1322.6,316.9L1322.6,330.9ZM1310.3,343.9L1325.3,336.9L1325.3,350.9ZM1313.0,342.7L1328.0,335.7L1328.0,349.7ZM1315.7,345.6L1330.7,338.6L1330.7,352.6ZM1318.4,348.0L1333.4,341.0L1333.4,355.0ZM1321.0,329.0L1336.0,322.0L1336.0,336.0ZM1323.7,342.8L1338.7,335.8L1338.7,349.8ZM1326.4,334.0L1341.4,327.0L1341.4,341.0ZM1329.1,340.0L1344.1,333.0L1344.1,347.0ZM1331.8,332.6L1346.8,325.6L1346.8,339.6Z" fill="#0000ff"/>
<path d="M801.5,347.9V340.7H804.2V348.8H806.9V345.7H809.6V335.9H812.3V334.9H814.9V347.4H817.6V344.1H820.3V344.5H823.0V343.2H825.7V341.8H828.4V330.2H831.1V333.6H833.8V323.6H836.5V317.5H839.1V339.8H841.8V345.0H844.5V335.4H847.2V337.3H849.9V344.6H852.6V348.3H855.3V334.8H858.0V351.0H860.7V322.4H863.3V332.2H866.0V348.2H868.7V335.9H871.4V353.1H874.1V351.7H876.8V343.0H879.5V350.3H882.2V351.9H884.9V351.6H887.5V345.9H890.2V345.2H892.9V339.9H895.6V347.0H898.3V341.6H901.0V344.3H903.7V346.5H906.4V337.2H909.1V336.8H911.7V337.0H914.4V347.5H917.1V310.9H919.8V346.4H922.5V321.5H925.2V350.1H927.9V341.8H930.6V323.8H933.3V329.6H936.0V340.1H938.6V319.4H941.3V343.4H944.0V342.2H946.7V338.0H949.4V337.0H952.1V338.8H954.8V338.0H957.5V322.2H960.2V325.0H962.8V343.4H965.5V323.3H968.2V345.3H970.9V355.7H973.6V354.5H976.3V347.5H979.0V355.0H981.7V358.0H984.4V354.4H987.0V354.9H989.7V368.2H992.4V346.8H995.1V356.8H997.8V333.3H1000.5V326.7H1003.2V312.7H1005.9V344.5H1008.6V337.9H1011.2V317.0H1013.9V304.9H1016.6V324.3H1019.3V302.9H1022.0V315.1H1024.7V300.5H1027.4V290.1H1030.1V255.1H1032.8V180.5H1035.4V205.9H1038.1V215.1H1040.8V216.8H1043.5V173.1H1046.2V205.5H1048.9V189.9H1051.6V198.5H1054.3V191.1H1057.0V176.1H1059.6V136.6H1062.3V177.9H1065.0V127.0H1067.7V181.7H1070.4V152.5H1073.1V189.3H1075.8V163.2H1078.5V165.3H1081.2V186.9H1083.8V181.9H1086.5V170.9H1089.2V218.3H1091.9V251.2H1094.6V254.2H1097.3V266.7H1100.0V239.9H1102.7V249.4H1105.4V262.9H1108.0V258.9H1110.7V270.9H1113.4V264.4H1116.1V302.1H1118.8V310.6H1121.5V337.0H1124.2V345.1H1126.9V330.3H1129.6V353.7H1132.2V343.8H1134.9V354.5H1137.6V347.9H1140.3V361.5H1143.0V370.4H1145.7V356.8H1148.4V367.0H1151.1V372.6H1153.8V372.2H1156.4V362.5H1159.1V363.2H1161.8V359.0H1164.5V347.2H1167.2V349.7H1169.9V337.4H1172.6V333.1H1175.3V328.8H1178.0V323.5H1180.6V319.1H1183.3V338.6H1186.0V318.4H1188.7V325.7H1191.4V322.4H1194.1V324.6H1196.8V344.8H1199.5V328.5H1202.2V342.2H1204.8V353.6H1207.5V354.0H1210.2V352.7H1212.9V349.6H1215.6V334.7H1218.3V342.4H1221.0V348.2H1223.7V347.9H1226.4V351.5H1229.1V333.7H1231.7V331.5H1234.4V346.2H1237.1V319.0H1239.8V331.4H1242.5V338.0H1245.2V343.6H1247.9V328.8H1250.6V355.3H1253.3V349.7H1255.9V328.2H1258.6V352.0H1261.3V332.8H1264.0V352.5H1266.7V328.5H1269.4V350.5H1272.1V345.7H1274.8V345.8H1277.5V333.3H1280.1V346.1H1282.8V343.3H1285.5V333.8H1288.2V329.5H1290.9V332.6H1293.6V347.0H1296.3V338.2H1299.0V327.5H1301.7V345.7H1304.3V346.4H1307.0V345.8H1309.7V335.0H1312.4V342.8H1315.1V345.4H1317.8V328.1H1320.5V328.8H1323.2V341.0H1325.9V333.4H1328.5V342.7H1331.2V339.5H1333.9V342.1H1336.6V332.1H1339.3" stroke="#ff0000" stroke-width="3" fill="none" stroke-dasharray="8.3 5.7"/>
<path d="M809.0,347.9L799.4,342.6L799.4,353.1ZM811.7,340.7L802.1,335.5L802.1,346.0ZM814.4,348.8L804.8,343.5L804.8,354.0ZM817.1,345.7L807.5,340.5L807.5,351.0ZM819.8,335.9L810.2,330.6L810.2,341.1ZM822.4,334.9L812.8,329.7L812.8,340.2ZM825.1,347.4L815.5,342.1L815.5,352.6ZM827.8,344.1L818.2,338.9L818.2,349.4ZM830.5,344.5L820.9,339.3L820.9,349.8ZM833.2,343.2L823.6,337.9L823.6,348.4ZM835.9,341.8L826.3,336.6L826.3,347.1ZM838.6,330.2L829.0,324.9L829.0,335.4ZM841.3,333.6L831.7,328.3L831.7,338.8ZM844.0,323.6L834.4,318.3L834.4,328.8ZM846.6,317.5L837.0,312.2L837.0,322.7ZM849.3,339.8L839.7,334.6L839.7,345.1ZM852.0,345.0L842.4,339.7L842.4,350.2ZM854.7,335.4L845.1,330.1L845.1,340.6ZM857.4,337.3L847.8,332.1L847.8,342.6ZM860.1,344.6L850.5,339.4L850.5,349.9ZM862.8,348.3L853.2,343.1L853.2,353.6ZM865.5,334.8L855.9,329.5L855.9,340.0ZM868.2,351.0L858.6,345.8L858.6,356.3ZM870.8,322.4L861.2,317.2L861.2,327.7ZM873.5,332.2L863.9,326.9L863.9,337.4ZM876.2,348.2L866.6,342.9L866.6,353.4ZM878.9,335.9L869.3,330.7L869.3,341.2ZM881.6,353.1L872.0,347.9L872.0,358.4ZM884.3,351.7L874.7,346.4L874.7,356.9ZM887.0,343.0L877.4,337.8L877.4,348.3ZM889.7,350.3L880.1,345.1L880.1,355.6ZM892.4,351.9L882.8,346.7L882.8,357.2ZM895.0,351.6L885.4,346.4L885.4,356.9ZM897.7,345.9L888.1,340.7L888.1,351.2ZM900.4,345.2L890.8,340.0L890.8,350.5ZM903.1,339.9L893.5,334.6L893.5,345.1ZM905.8,347.0L896.2,341.7L896.2,352.2ZM908.5,341.6L898.9,336.3L898.9,346.8ZM911.2,344.3L901.6,339.0L901.6,349.5ZM913.9,346.5L904.3,341.3L904.3,351.8ZM916.6,337.2L907.0,331.9L907.0,342.4ZM919.2,336.8L909.6,331.6L909.6,342.1ZM921.9,337.0L912.3,331.7L912.3,342.2ZM924.6,347.5L915.0,342.3L915.0,352.8ZM927.3,310.9L917.7,305.6L917.7,316.1ZM930.0,346.4L920.4,341.1L920.4,351.6ZM932.7,321.5L923.1,316.3L923.1,326.8ZM935.4,350.1L925.8,344.9L925.8,355.4ZM938.1,341.8L928.5,336.6L928.5,347.1ZM940.8,323.8L931.2,318.5L931.2,329.0ZM943.5,329.6L933.9,324.4L933.9,334.9ZM946.1,340.1L936.5,334.8L936.5,345.3ZM948.8,319.4L939.2,314.2L939.2,324.7ZM951.5,343.4L941.9,338.2L941.9,348.7ZM954.2,342.2L944.6,336.9L944.6,347.4ZM956.9,338.0L947.3,332.8L947.3,343.3ZM959.6,337.0L950.0,331.7L950.0,342.2ZM962.3,338.8L952.7,333.5L952.7,344.0ZM965.0,338.0L955.4,332.8L955.4,343.3ZM967.7,322.2L958.1,317.0L958.1,327.5ZM970.3,325.0L960.7,319.7L960.7,330.2ZM973.0,343.4L963.4,338.1L963.4,348.6ZM975.7,323.3L966.1,318.0L966.1,328.5ZM978.4,345.3L968.8,340.0L968.8,350.5ZM981.1,355.7L971.5,350.5L971.5,361.0ZM983.8,354.5L974.2,349.2L974.2,359.7ZM986.5,347.5L976.9,342.3L976.9,352.8ZM989.2,355.0L979.6,349.7L979.6,360.2ZM991.9,358.0L982.3,352.8L982.3,363.3ZM994.5,354.4L984.9,349.1L984.9,359.6ZM997.2,354.9L987.6,349.6L987.6,360.1ZM999.9,368.2L990.3,363.0L990.3,373.5ZM1002.6,346.8L993.0,341.5L993.0,352.0ZM1005.3,356.8L995.7,351.5L995.7,362.0ZM1008.0,333.3L998.4,328.1L998.4,338.6ZM1010.7,326.7L1001.1,321.5L1001.1,332.0ZM1013.4,312.7L1003.8,307.5L1003.8,318.0ZM1016.1,344.5L1006.5,339.2L1006.5,349.7ZM1018.7,337.9L1009.1,332.6L1009.1,343.1ZM1021.4,317.0L1011.8,311.8L1011.8,322.3ZM1024.1,304.9L1014.5,299.6L1014.5,310.1ZM1026.8,324.3L1017.2,319.1L1017.2,329.6ZM1029.5,302.9L1019.9,297.6L1019.9,308.1ZM1032.2,315.1L1022.6,309.9L1022.6,320.4ZM1034.9,300.5L1025.3,295.2L1025.3,305.7ZM1037.6,290.1L1028.0,284.9L1028.0,295.4ZM1040.3,255.1L1030.7,249.8L1030.7,260.3ZM1042.9,180.5L1033.3,175.3L1033.3,185.8ZM1045.6,205.9L1036.0,200.6L1036.0,211.1ZM1048.3,215.1L1038.7,209.9L1038.7,220.4ZM1051.0,216.8L1041.4,211.5L1041.4,222.0ZM1053.7,173.1L1044.1,167.9L1044.1,178.4ZM1056.4,205.5L1046.8,200.3L1046.8,210.8ZM1059.1,189.9L1049.5,184.6L1049.5,195.1ZM1061.8,198.5L1052.2,193.3L1052.2,203.8ZM1064.5,191.1L1054.9,185.8L1054.9,196.3ZM1067.1,176.1L1057.5,170.8L1057.5,181.3ZM1069.8,136.6L1060.2,131.4L1060.2,141.9ZM1072.5,177.9L1062.9,172.6L1062.9,183.1ZM1075.2,127.0L1065.6,121.8L1065.6,132.3ZM1077.9,181.7L1068.3,176.5L1068.3,187.0ZM1080.6,152.5L1071.0,147.3L1071.0,157.8ZM1083.3,189.3L1073.7,184.0L1073.7,194.5ZM1086.0,163.2L1076.4,158.0L1076.4,168.5ZM1088.7,165.3L1079.1,160.1L1079.1,170.6ZM1091.3,186.9L1081.7,181.6L1081.7,192.1ZM1094.0,181.9L1084.4,176.6L1084.4,187.1ZM1096.7,170.9L1087.1,165.7L1087.1,176.2ZM1099.4,218.3L1089.8,213.1L1089.8,223.6ZM1102.1,251.2L1092.5,246.0L1092.5,256.5ZM1104.8,254.2L1095.2,249.0L1095.2,259.5ZM1107.5,266.7L1097.9,261.5L1097.9,272.0ZM1110.2,239.9L1100.6,234.6L1100.6,245.1ZM1112.9,249.4L1103.3,244.1L1103.3,254.6ZM1115.5,262.9L1105.9,257.7L1105.9,268.2ZM1118.2,258.9L1108.6,253.6L1108.6,264.1ZM1120.9,270.9L1111.3,265.7L1111.3,276.2ZM1123.6,264.4L1114.0,259.1L1114.0,269.6ZM1126.3,302.1L1116.7,296.9L1116.7,307.4ZM1129.0,310.6L1119.4,305.4L1119.4,315.9ZM1131.7,337.0L1122.1,331.7L1122.1,342.2ZM1134.4,345.1L1124.8,339.8L1124.8,350.3ZM1137.1,330.3L1127.5,325.0L1127.5,335.5ZM1139.7,353.7L1130.1,348.4L1130.1,358.9ZM1142.4,343.8L1132.8,338.5L1132.8,349.0ZM1145.1,354.5L1135.5,349.2L1135.5,359.7ZM1147.8,347.9L1138.2,342.7L1138.2,353.2ZM1150.5,361.5L1140.9,356.2L1140.9,366.7ZM1153.2,370.4L1143.6,365.2L1143.6,375.7ZM1155.9,356.8L1146.3,351.6L1146.3,362.1ZM1158.6,367.0L1149.0,361.7L1149.0,372.2ZM1161.3,372.6L1151.7,367.3L1151.7,377.8ZM1163.9,372.2L1154.3,366.9L1154.3,377.4ZM1166.6,362.5L1157.0,357.3L1157.0,367.8ZM1169.3,363.2L1159.7,357.9L1159.7,368.4ZM1172.0,359.0L1162.4,353.8L1162.4,364.3ZM1174.7,347.2L1165.1,341.9L1165.1,352.4ZM1177.4,349.7L1167.8,344.5L1167.8,355.0ZM1180.1,337.4L1170.5,332.1L1170.5,342.6ZM1182.8,333.1L1173.2,327.9L1173.2,338.4ZM1185.5,328.8L1175.9,323.6L1175.9,334.1ZM1188.1,323.5L1178.5,318.2L1178.5,328.7ZM1190.8,319.1L1181.2,313.8L1181.2,324.3ZM1193.5,338.6L1183.9,333.4L1183.9,343.9ZM1196.2,318.4L1186.6,313.1L1186.6,323.6ZM1198.9,325.7L1189.3,320.5L1189.3,331.0ZM1201.6,322.4L1192.0,317.2L1192.0,327.7ZM1204.3,324.6L1194.7,319.4L1194.7,329.9ZM1207.0,344.8L1197.4,339.5L1197.4,350.0ZM1209.7,328.5L1200.1,323.2L1200.1,333.7ZM1212.3,342.2L1202.8,337.0L1202.8,347.5ZM1215.0,353.6L1205.4,348.4L1205.4,358.9ZM1217.7,354.0L1208.1,348.8L1208.1,359.3ZM1220.4,352.7L1210.8,347.4L1210.8,357.9ZM1223.1,349.6L1213.5,344.3L1213.5,354.8ZM1225.8,334.7L1216.2,329.4L1216.2,339.9ZM1228.5,342.4L1218.9,337.1L1218.9,347.6ZM1231.2,348.2L1221.6,342.9L1221.6,353.4ZM1233.9,347.9L1224.3,342.7L1224.3,353.2ZM1236.6,351.5L1227.0,346.3L1227.0,356.8ZM1239.2,333.7L1229.6,328.5L1229.6,339.0ZM1241.9,331.5L1232.3,326.2L1232.3,336.7ZM1244.6,346.2L1235.0,341.0L1235.0,351.5ZM1247.3,319.0L1237.7,313.7L1237.7,324.2ZM1250.0,331.4L1240.4,326.1L1240.4,336.6ZM1252.7,338.0L1243.1,332.7L1243.1,343.2ZM1255.4,343.6L1245.8,338.3L1245.8,348.8ZM1258.1,328.8L1248.5,323.5L1248.5,334.0ZM1260.8,355.3L1251.2,350.0L1251.2,360.5ZM1263.4,349.7L1253.8,344.4L1253.8,354.9ZM1266.1,328.2L1256.5,322.9L1256.5,333.4ZM1268.8,352.0L1259.2,346.8L1259.2,357.3ZM1271.5,332.8L1261.9,327.6L1261.9,338.1ZM1274.2,352.5L1264.6,347.2L1264.6,357.7ZM1276.9,328.5L1267.3,323.2L1267.3,333.7ZM1279.6,350.5L1270.0,345.2L1270.0,355.7ZM1282.3,345.7L1272.7,340.4L1272.7,350.9ZM1285.0,345.8L1275.4,340.5L1275.4,351.0ZM1287.6,333.3L1278.0,328.1L1278.0,338.6ZM1290.3,346.1L1280.7,340.9L1280.7,351.4ZM1293.0,343.3L1283.4,338.0L1283.4,348.5ZM1295.7,333.8L1286.1,328.5L1286.1,339.0ZM1298.4,329.5L1288.8,324.2L1288.8,334.7ZM1301.1,332.6L1291.5,327.3L1291.5,337.8ZM1303.8,347.0L1294.2,341.8L1294.2,352.3ZM1306.5,338.2L1296.9,333.0L1296.9,343.5ZM1309.2,327.5L1299.6,322.3L1299.6,332.8ZM1311.8,345.7L1302.2,340.5L1302.2,351.0ZM1314.5,346.4L1304.9,341.1L1304.9,351.6ZM1317.2,345.8L1307.6,340.5L1307.6,351.0ZM1319.9,335.0L1310.3,329.7L1310.3,340.2ZM1322.6,342.8L1313.0,337.5L1313.0,348.0ZM1325.3,345.4L1315.7,340.2L1315.7,350.7ZM1328.0,328.1L1318.4,322.9L1318.4,333.4ZM1330.7,328.8L1321.1,323.6L1321.1,334.1ZM1333.4,341.0L1323.8,335.7L1323.8,346.2ZM1336.0,333.4L1326.4,328.2L1326.4,338.7ZM1338.7,342.7L1329.1,337.4L1329.1,347.9ZM1341.4,339.5L1331.8,334.2L1331.8,344.7ZM1344.1,342.1L1334.5,336.9L1334.5,347.4ZM1346.8,332.1L1337.2,326.8L1337.2,337.3Z" fill="#ff0000"/>

<path d="M94.50,372.80v-5.5M94.50,38.40v5.5M184.00,372.80v-5.5M184.00,38.40v5.5M273.50,372.80v-5.5M273.50,38.40v5.5M363.00,372.80v-5.5M363.00,38.40v5.5M452.50,372.80v-5.5M452.50,38.40v5.5M542.00,372.80v-5.5M542.00,38.40v5.5M631.50,372.80v-5.5M631.50,38.40v5.5M94.50,38.40h5.5M631.50,38.40h-5.5M94.50,133.94h5.5M631.50,133.94h-5.5M94.50,229.49h5.5M631.50,229.49h-5.5M94.50,325.03h5.5M631.50,325.03h-5.5" stroke="#262626" stroke-width="1" fill="none"/>
<rect x="94.5" y="38.4" width="537.00" height="334.40" stroke="#262626" stroke-width="1" fill="none"/>
<text transform="translate(94.50,408.30) scale(1,1.07)" class="tk" text-anchor="middle">0</text>
<text transform="translate(184.00,408.30) scale(1,1.07)" class="tk" text-anchor="middle">4</text>
<text transform="translate(273.50,408.30) scale(1,1.07)" class="tk" text-anchor="middle">8</text>
<text transform="translate(363.00,408.30) scale(1,1.07)" class="tk" text-anchor="middle">12</text>
<text transform="translate(452.50,408.30) scale(1,1.07)" class="tk" text-anchor="middle">16</text>
<text transform="translate(542.00,408.30) scale(1,1.07)" class="tk" text-anchor="middle">20</text>
<text transform="translate(631.50,408.30) scale(1,1.07)" class="tk" text-anchor="middle">24</text>
<text transform="translate(85.50,48.80) scale(1,1.07)" class="tk" text-anchor="end">0.4</text>
<text transform="translate(85.50,144.34) scale(1,1.07)" class="tk" text-anchor="end">0.2</text>
<text transform="translate(85.50,239.89) scale(1,1.07)" class="tk" text-anchor="end">0</text>
<text transform="translate(85.50,335.43) scale(1,1.07)" class="tk" text-anchor="end">-0.2</text>
<text x="363.00" y="444.70" class="lb" text-anchor="middle">Time(h)</text>
<text transform="translate(29.1,205.60) rotate(-90)" x="0" y="0" class="lb" text-anchor="middle">P sum(p.u.)</text>
<path d="M801.50,372.80v-5.5M801.50,38.40v5.5M891.13,372.80v-5.5M891.13,38.40v5.5M980.77,372.80v-5.5M980.77,38.40v5.5M1070.40,372.80v-5.5M1070.40,38.40v5.5M1160.03,372.80v-5.5M1160.03,38.40v5.5M1249.67,372.80v-5.5M1249.67,38.40v5.5M1339.30,372.80v-5.5M1339.30,38.40v5.5M801.50,38.40h5.5M1339.30,38.40h-5.5M801.50,122.00h5.5M1339.30,122.00h-5.5M801.50,205.60h5.5M1339.30,205.60h-5.5M801.50,289.20h5.5M1339.30,289.20h-5.5M801.50,372.80h5.5M1339.30,372.80h-5.5" stroke="#262626" stroke-width="1" fill="none"/>
<rect x="801.5" y="38.4" width="537.80" height="334.40" stroke="#262626" stroke-width="1" fill="none"/>
<text transform="translate(801.50,408.30) scale(1,1.07)" class="tk" text-anchor="middle">0</text>
<text transform="translate(891.13,408.30) scale(1,1.07)" class="tk" text-anchor="middle">4</text>
<text transform="translate(980.77,408.30) scale(1,1.07)" class="tk" text-anchor="middle">8</text>
<text transform="translate(1070.40,408.30) scale(1,1.07)" class="tk" text-anchor="middle">12</text>
<text transform="translate(1160.03,408.30) scale(1,1.07)" class="tk" text-anchor="middle">16</text>
<text transform="translate(1249.67,408.30) scale(1,1.07)" class="tk" text-anchor="middle">20</text>
<text transform="translate(1339.30,408.30) scale(1,1.07)" class="tk" text-anchor="middle">24</text>
<text transform="translate(792.50,48.80) scale(1,1.07)" class="tk" text-anchor="end">40</text>
<text transform="translate(792.50,132.40) scale(1,1.07)" class="tk" text-anchor="end">30</text>
<text transform="translate(792.50,216.00) scale(1,1.07)" class="tk" text-anchor="end">20</text>
<text transform="translate(792.50,299.60) scale(1,1.07)" class="tk" text-anchor="end">10</text>
<text transform="translate(792.50,383.20) scale(1,1.07)" class="tk" text-anchor="end">0</text>
<text x="1070.40" y="444.70" class="lb" text-anchor="middle">Time(h)</text>
<text transform="translate(752.2,205.60) rotate(-90)" x="0" y="0" class="lb" text-anchor="middle">Cost sum(p.u.)</text>
<path d="M94.50,837.90v-5.5M94.50,503.50v5.5M184.00,837.90v-5.5M184.00,503.50v5.5M273.50,837.90v-5.5M273.50,503.50v5.5M363.00,837.90v-5.5M363.00,503.50v5.5M452.50,837.90v-5.5M452.50,503.50v5.5M542.00,837.90v-5.5M542.00,503.50v5.5M631.50,837.90v-5.5M631.50,503.50v5.5M94.50,503.50h5.5M631.50,503.50h-5.5M94.50,670.70h5.5M631.50,670.70h-5.5M94.50,837.90h5.5M631.50,837.90h-5.5" stroke="#262626" stroke-width="1" fill="none"/>
<rect x="94.5" y="503.5" width="537.00" height="334.40" stroke="#262626" stroke-width="1" fill="none"/>
<text transform="translate(94.50,873.40) scale(1,1.07)" class="tk" text-anchor="middle">0</text>
<text transform="translate(184.00,873.40) scale(1,1.07)" class="tk" text-anchor="middle">4</text>
<text transform="translate(273.50,873.40) scale(1,1.07)" class="tk" text-anchor="middle">8</text>
<text transform="translate(363.00,873.40) scale(1,1.07)" class="tk" text-anchor="middle">12</text>
<text transform="translate(452.50,873.40) scale(1,1.07)" class="tk" text-anchor="middle">16</text>
<text transform="translate(542.00,873.40) scale(1,1.07)" class="tk" text-anchor="middle">20</text>
<text transform="translate(631.50,873.40) scale(1,1.07)" class="tk" text-anchor="middle">24</text>
<text transform="translate(85.50,513.90) scale(1,1.07)" class="tk" text-anchor="end">1.05</text>
<text transform="translate(85.50,681.10) scale(1,1.07)" class="tk" text-anchor="end">1</text>
<text transform="translate(85.50,848.30) scale(1,1.07)" class="tk" text-anchor="end">0.95</text>
<text x="363.00" y="909.80" class="lb" text-anchor="middle">Time(h)</text>
<text transform="translate(23.6,670.70) rotate(-90)" x="0" y="0" class="lb" text-anchor="middle">V(p.u.) - Cen Scenario</text>
<path d="M801.50,837.90v-5.5M801.50,503.50v5.5M891.13,837.90v-5.5M891.13,503.50v5.5M980.77,837.90v-5.5M980.77,503.50v5.5M1070.40,837.90v-5.5M1070.40,503.50v5.5M1160.03,837.90v-5.5M1160.03,503.50v5.5M1249.67,837.90v-5.5M1249.67,503.50v5.5M1339.30,837.90v-5.5M1339.30,503.50v5.5M801.50,503.50h5.5M1339.30,503.50h-5.5M801.50,670.70h5.5M1339.30,670.70h-5.5M801.50,837.90h5.5M1339.30,837.90h-5.5" stroke="#262626" stroke-width="1" fill="none"/>
<rect x="801.5" y="503.5" width="537.80" height="334.40" stroke="#262626" stroke-width="1" fill="none"/>
<text transform="translate(801.50,873.40) scale(1,1.07)" class="tk" text-anchor="middle">0</text>
<text transform="translate(891.13,873.40) scale(1,1.07)" class="tk" text-anchor="middle">4</text>
<text transform="translate(980.77,873.40) scale(1,1.07)" class="tk" text-anchor="middle">8</text>
<text transform="translate(1070.40,873.40) scale(1,1.07)" class="tk" text-anchor="middle">12</text>
<text transform="translate(1160.03,873.40) scale(1,1.07)" class="tk" text-anchor="middle">16</text>
<text transform="translate(1249.67,873.40) scale(1,1.07)" class="tk" text-anchor="middle">20</text>
<text transform="translate(1339.30,873.40) scale(1,1.07)" class="tk" text-anchor="middle">24</text>
<text transform="translate(792.50,513.90) scale(1,1.07)" class="tk" text-anchor="end">1.05</text>
<text transform="translate(792.50,681.10) scale(1,1.07)" class="tk" text-anchor="end">1</text>
<text transform="translate(792.50,848.30) scale(1,1.07)" class="tk" text-anchor="end">0.95</text>
<text x="1070.40" y="909.80" class="lb" text-anchor="middle">Time(h)</text>
<text transform="translate(730.6,670.70) rotate(-90)" x="0" y="0" class="lb" text-anchor="middle">V(p.u.) - Dis Scenario</text>
<rect x="449.6" y="48.6" width="171.90" height="65.20" fill="#fff" stroke="#262626" stroke-width="1"/>
<line x1="453.6" y1="65.8" x2="493.6" y2="65.8" stroke="#0000ff" stroke-width="3"/>
<path d="M467.6,65.8L478.6,59.3L478.6,72.3Z" fill="#0000ff"/>
<path d="M453.6,96.8h9.5M491.6,96.8h2" stroke="#ff0000" stroke-width="3"/>
<path d="M479.6,96.8L470.6,91.3L470.6,102.3Z" fill="#ff0000"/>
<path d="M473.6,96.8h9" stroke="#ff0000" stroke-width="3"/>
<text x="496.2" y="75.1" class="lg">Centralized</text>
<text x="496.2" y="105.7" class="lg">Distributed</text>
<rect x="1152.1" y="47.8" width="172.10" height="65.30" fill="#fff" stroke="#262626" stroke-width="1"/>
<line x1="1156.2" y1="65.1" x2="1196.2" y2="65.1" stroke="#0000ff" stroke-width="3"/>
<path d="M1170.2,65.1L1181.2,58.599999999999994L1181.2,71.6Z" fill="#0000ff"/>
<path d="M1156.2,96.1h9.5M1194.2,96.1h2" stroke="#ff0000" stroke-width="3"/>
<path d="M1182.2,96.1L1173.2,90.6L1173.2,101.6Z" fill="#ff0000"/>
<path d="M1176.2,96.1h9" stroke="#ff0000" stroke-width="3"/>
<text x="1198.4" y="74.39999999999999" class="lg">Centralized</text>
<text x="1198.4" y="105.0" class="lg">Distributed</text>
<text x="5.5" y="32.2" class="pl">A</text>
<text x="704" y="32.2" class="pl">B</text>
<text x="5.1" y="473.2" class="pl">C</text>
<text x="703.6" y="473.2" class="pl">D</text>
</svg></body></html>
